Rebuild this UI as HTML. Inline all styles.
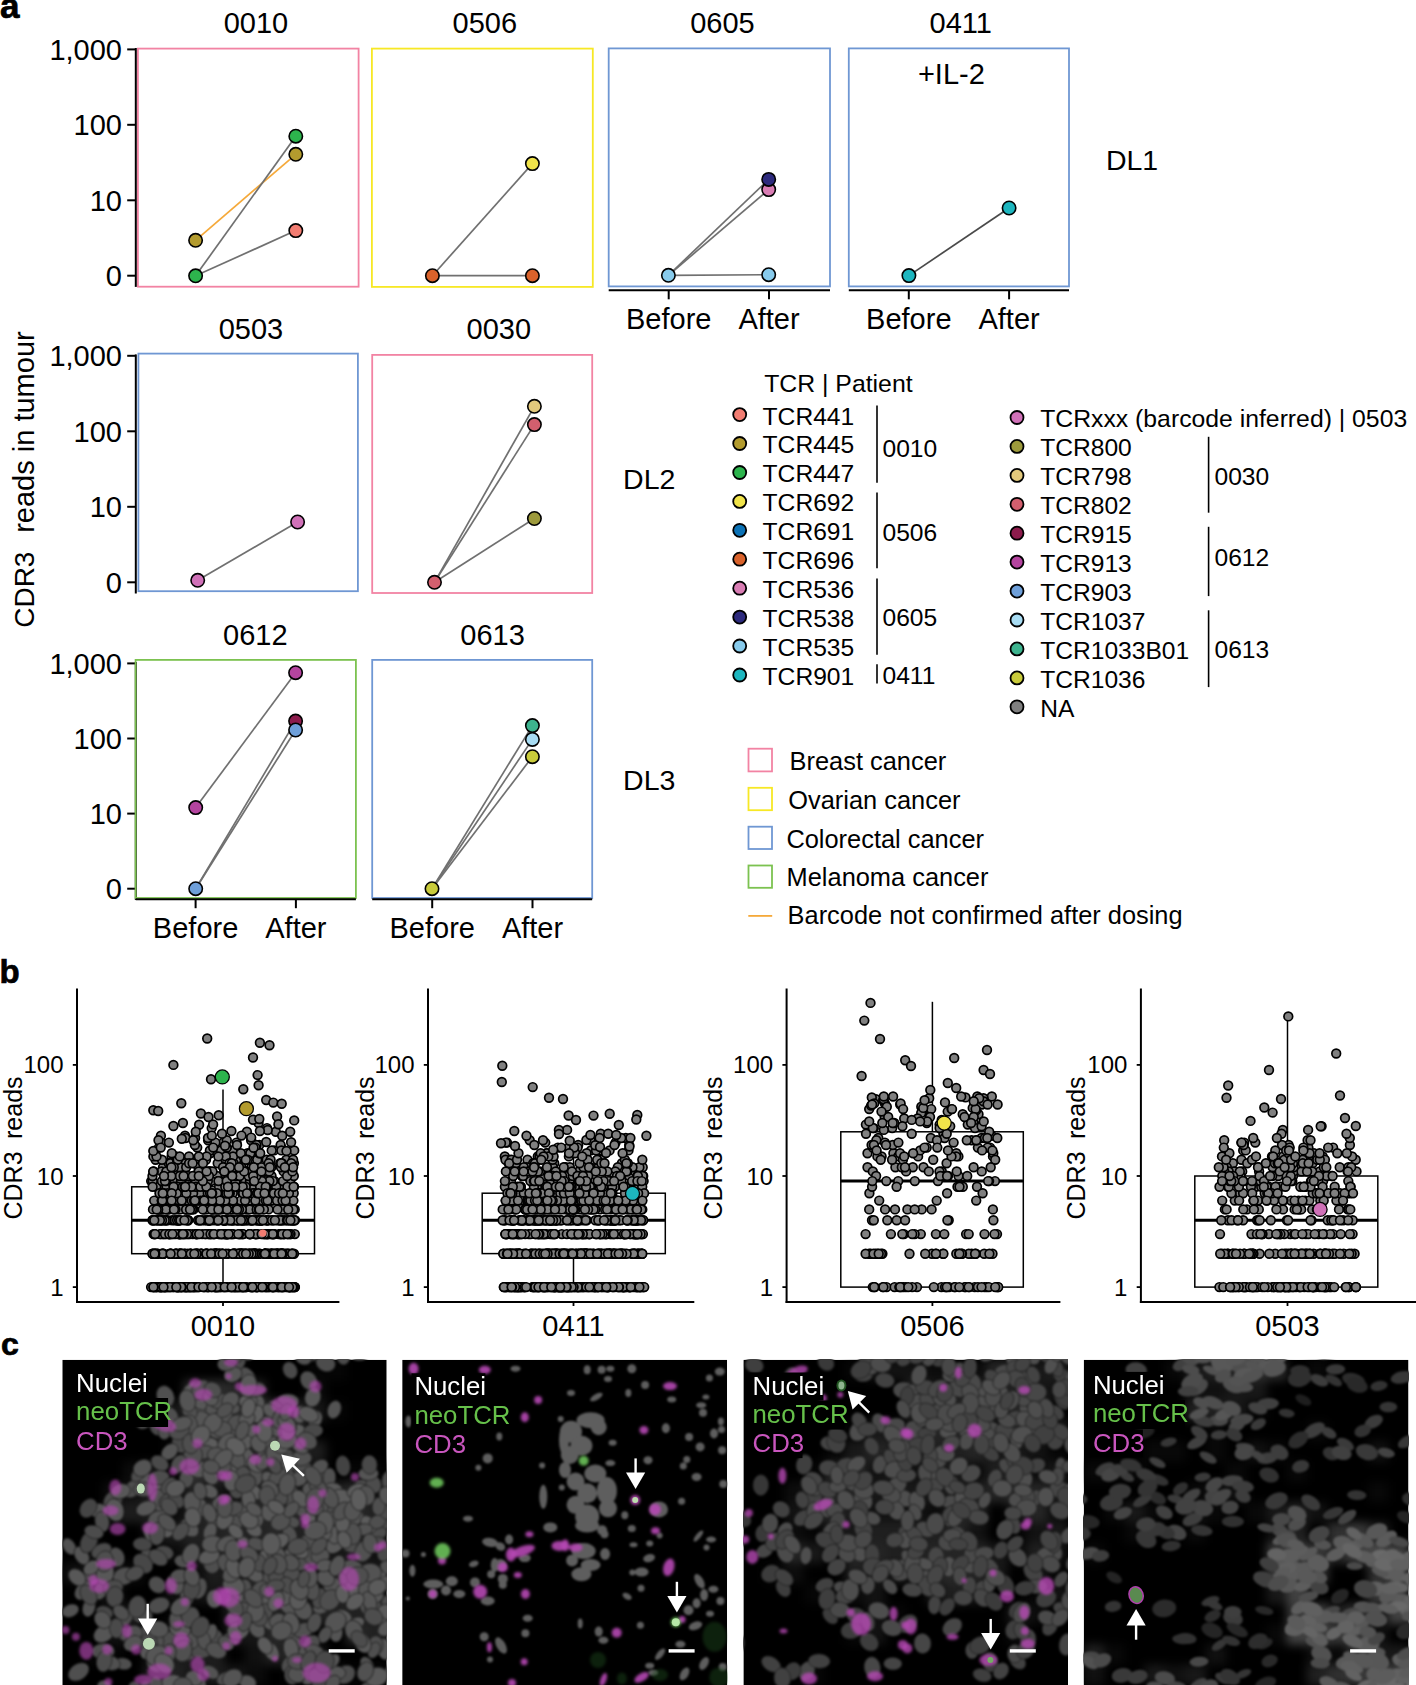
<!DOCTYPE html>
<html><head><meta charset="utf-8"><style>
html,body{margin:0;padding:0;background:#fff;}
body{width:1416px;height:1685px;overflow:hidden;font-family:"Liberation Sans",sans-serif;}
svg{display:block;}
</style></head><body>
<svg width="1416" height="1685" viewBox="0 0 1416 1685" font-family="Liberation Sans, sans-serif">
<rect width="1416" height="1685" fill="#fff"/>
<text x="0.0" y="18.0" font-size="35" text-anchor="start" fill="#000" font-weight="bold" stroke="#000" stroke-width="0.7">a</text>
<text x="-0.5" y="983.3" font-size="33" text-anchor="start" fill="#000" font-weight="bold" stroke="#000" stroke-width="0.7">b</text>
<text x="1.0" y="1354.6" font-size="32" text-anchor="start" fill="#000" font-weight="bold" stroke="#000" stroke-width="0.7">c</text>
<line x1="135.8" y1="48.0" x2="135.8" y2="286.9" stroke="#000" stroke-width="2" />
<line x1="127.2" y1="275.7" x2="135.8" y2="275.7" stroke="#000" stroke-width="2" />
<text x="122.0" y="286.0" font-size="29" text-anchor="end" fill="#000" >0</text>
<line x1="127.2" y1="200.3" x2="135.8" y2="200.3" stroke="#000" stroke-width="2" />
<text x="122.0" y="210.6" font-size="29" text-anchor="end" fill="#000" >10</text>
<line x1="127.2" y1="124.8" x2="135.8" y2="124.8" stroke="#000" stroke-width="2" />
<text x="122.0" y="135.1" font-size="29" text-anchor="end" fill="#000" >100</text>
<line x1="127.2" y1="49.4" x2="135.8" y2="49.4" stroke="#000" stroke-width="2" />
<text x="122.0" y="59.7" font-size="29" text-anchor="end" fill="#000" >1,000</text>
<line x1="135.8" y1="354.4" x2="135.8" y2="593.5" stroke="#000" stroke-width="2" />
<line x1="127.2" y1="582.3" x2="135.8" y2="582.3" stroke="#000" stroke-width="2" />
<text x="122.0" y="592.6" font-size="29" text-anchor="end" fill="#000" >0</text>
<line x1="127.2" y1="506.8" x2="135.8" y2="506.8" stroke="#000" stroke-width="2" />
<text x="122.0" y="517.1" font-size="29" text-anchor="end" fill="#000" >10</text>
<line x1="127.2" y1="431.3" x2="135.8" y2="431.3" stroke="#000" stroke-width="2" />
<text x="122.0" y="441.6" font-size="29" text-anchor="end" fill="#000" >100</text>
<line x1="127.2" y1="355.8" x2="135.8" y2="355.8" stroke="#000" stroke-width="2" />
<text x="122.0" y="366.1" font-size="29" text-anchor="end" fill="#000" >1,000</text>
<line x1="135.8" y1="662.0" x2="135.8" y2="899.9" stroke="#000" stroke-width="2" />
<line x1="127.2" y1="888.7" x2="135.8" y2="888.7" stroke="#000" stroke-width="2" />
<text x="122.0" y="899.0" font-size="29" text-anchor="end" fill="#000" >0</text>
<line x1="127.2" y1="813.6" x2="135.8" y2="813.6" stroke="#000" stroke-width="2" />
<text x="122.0" y="823.9" font-size="29" text-anchor="end" fill="#000" >10</text>
<line x1="127.2" y1="738.5" x2="135.8" y2="738.5" stroke="#000" stroke-width="2" />
<text x="122.0" y="748.8" font-size="29" text-anchor="end" fill="#000" >100</text>
<line x1="127.2" y1="663.4" x2="135.8" y2="663.4" stroke="#000" stroke-width="2" />
<text x="122.0" y="673.7" font-size="29" text-anchor="end" fill="#000" >1,000</text>
<rect x="137.9" y="48.6" width="220.7" height="238.1" fill="none" stroke="#F283A3" stroke-width="1.8"/>
<text x="255.9" y="32.6" font-size="29" text-anchor="middle" fill="#000" >0010</text>
<rect x="371.9" y="48.6" width="220.9" height="238.3" fill="none" stroke="#F7E825" stroke-width="1.8"/>
<text x="484.8" y="32.6" font-size="29" text-anchor="middle" fill="#000" >0506</text>
<rect x="608.7" y="48.4" width="221.3" height="238.0" fill="none" stroke="#6F97D3" stroke-width="1.8"/>
<text x="722.4" y="32.6" font-size="29" text-anchor="middle" fill="#000" >0605</text>
<rect x="848.8" y="48.4" width="220.2" height="238.0" fill="none" stroke="#6F97D3" stroke-width="1.8"/>
<text x="960.8" y="32.6" font-size="29" text-anchor="middle" fill="#000" >0411</text>
<rect x="138.4" y="353.6" width="219.5" height="237.6" fill="none" stroke="#6F97D3" stroke-width="1.8"/>
<text x="250.9" y="339.0" font-size="29" text-anchor="middle" fill="#000" >0503</text>
<rect x="372.2" y="354.9" width="220.0" height="238.1" fill="none" stroke="#F283A3" stroke-width="1.8"/>
<text x="498.8" y="339.0" font-size="29" text-anchor="middle" fill="#000" >0030</text>
<rect x="135.6" y="659.9" width="220.3" height="238.1" fill="none" stroke="#7CC250" stroke-width="1.8"/>
<text x="255.3" y="645.0" font-size="29" text-anchor="middle" fill="#000" >0612</text>
<rect x="372.2" y="659.9" width="220.0" height="238.1" fill="none" stroke="#6F97D3" stroke-width="1.8"/>
<text x="492.6" y="645.0" font-size="29" text-anchor="middle" fill="#000" >0613</text>
<line x1="608.7" y1="290.3" x2="830.0" y2="290.3" stroke="#000" stroke-width="2" />
<line x1="668.7" y1="290.3" x2="668.7" y2="299.3" stroke="#000" stroke-width="2" />
<text x="668.7" y="328.6" font-size="29" text-anchor="middle" fill="#000" >Before</text>
<line x1="769.0" y1="290.3" x2="769.0" y2="299.3" stroke="#000" stroke-width="2" />
<text x="769.0" y="328.6" font-size="29" text-anchor="middle" fill="#000" >After</text>
<line x1="848.8" y1="290.3" x2="1069.0" y2="290.3" stroke="#000" stroke-width="2" />
<line x1="908.8" y1="290.3" x2="908.8" y2="299.3" stroke="#000" stroke-width="2" />
<text x="908.8" y="328.6" font-size="29" text-anchor="middle" fill="#000" >Before</text>
<line x1="1009.1" y1="290.3" x2="1009.1" y2="299.3" stroke="#000" stroke-width="2" />
<text x="1009.1" y="328.6" font-size="29" text-anchor="middle" fill="#000" >After</text>
<line x1="135.8" y1="899.2" x2="355.9" y2="899.2" stroke="#000" stroke-width="2" />
<line x1="195.6" y1="899.2" x2="195.6" y2="908.2" stroke="#000" stroke-width="2" />
<text x="195.6" y="937.5" font-size="29" text-anchor="middle" fill="#000" >Before</text>
<line x1="295.9" y1="899.2" x2="295.9" y2="908.2" stroke="#000" stroke-width="2" />
<text x="295.9" y="937.5" font-size="29" text-anchor="middle" fill="#000" >After</text>
<line x1="372.2" y1="899.2" x2="592.2" y2="899.2" stroke="#000" stroke-width="2" />
<line x1="432.2" y1="899.2" x2="432.2" y2="908.2" stroke="#000" stroke-width="2" />
<text x="432.2" y="937.5" font-size="29" text-anchor="middle" fill="#000" >Before</text>
<line x1="532.5" y1="899.2" x2="532.5" y2="908.2" stroke="#000" stroke-width="2" />
<text x="532.5" y="937.5" font-size="29" text-anchor="middle" fill="#000" >After</text>
<text x="951.4" y="83.7" font-size="29" text-anchor="middle" fill="#000" >+IL-2</text>
<text x="1105.9" y="169.9" font-size="28.5" text-anchor="start" fill="#000" >DL1</text>
<text x="623.1" y="489.2" font-size="28.5" text-anchor="start" fill="#000" >DL2</text>
<text x="623.1" y="790.3" font-size="28.5" text-anchor="start" fill="#000" >DL3</text>
<text transform="translate(33.8,627.8) rotate(-90)" font-size="28">CDR3</text>
<text transform="translate(33.8,532.8) rotate(-90)" font-size="29">reads in tumour</text>
<line x1="195.6" y1="240.3" x2="295.8" y2="154.3" stroke="#F5A93A" stroke-width="1.7" />
<line x1="195.6" y1="275.8" x2="295.8" y2="136.2" stroke="#707070" stroke-width="1.7" />
<line x1="195.6" y1="275.8" x2="295.8" y2="230.6" stroke="#707070" stroke-width="1.7" />
<circle cx="195.6" cy="240.3" r="6.7" fill="#B39B2E" stroke="#000" stroke-width="1.6"/>
<circle cx="195.6" cy="275.8" r="6.7" fill="#2DB44D" stroke="#000" stroke-width="1.6"/>
<circle cx="295.8" cy="230.6" r="6.7" fill="#F27D72" stroke="#000" stroke-width="1.6"/>
<circle cx="295.8" cy="154.3" r="6.7" fill="#B39B2E" stroke="#000" stroke-width="1.6"/>
<circle cx="295.8" cy="136.2" r="6.7" fill="#2DB44D" stroke="#000" stroke-width="1.6"/>
<line x1="432.4" y1="275.7" x2="532.4" y2="163.6" stroke="#707070" stroke-width="1.7" />
<line x1="432.4" y1="275.7" x2="532.4" y2="275.7" stroke="#707070" stroke-width="1.7" />
<circle cx="432.4" cy="275.7" r="6.7" fill="#D9622B" stroke="#000" stroke-width="1.6"/>
<circle cx="532.4" cy="275.7" r="6.7" fill="#D9622B" stroke="#000" stroke-width="1.6"/>
<circle cx="532.4" cy="163.6" r="6.7" fill="#F0E34A" stroke="#000" stroke-width="1.6"/>
<line x1="668.4" y1="275.3" x2="768.7" y2="179.4" stroke="#707070" stroke-width="1.7" />
<line x1="668.4" y1="275.3" x2="768.7" y2="189.6" stroke="#707070" stroke-width="1.7" />
<line x1="668.4" y1="275.3" x2="768.7" y2="274.7" stroke="#707070" stroke-width="1.7" />
<circle cx="668.4" cy="275.3" r="6.7" fill="#88CBEC" stroke="#000" stroke-width="1.6"/>
<circle cx="768.7" cy="274.7" r="6.7" fill="#88CBEC" stroke="#000" stroke-width="1.6"/>
<circle cx="768.7" cy="189.6" r="6.7" fill="#D97DB4" stroke="#000" stroke-width="1.6"/>
<circle cx="768.7" cy="179.4" r="6.7" fill="#2D2A7D" stroke="#000" stroke-width="1.6"/>
<line x1="908.9" y1="275.6" x2="1009.1" y2="208.0" stroke="#4a4a4a" stroke-width="1.7" />
<circle cx="908.9" cy="275.6" r="6.7" fill="#1DB6BF" stroke="#000" stroke-width="1.6"/>
<circle cx="1009.1" cy="208.0" r="6.7" fill="#1DB6BF" stroke="#000" stroke-width="1.6"/>
<line x1="197.7" y1="580.3" x2="297.6" y2="522.0" stroke="#707070" stroke-width="1.7" />
<circle cx="197.7" cy="580.3" r="6.7" fill="#D071B8" stroke="#000" stroke-width="1.6"/>
<circle cx="297.6" cy="522.0" r="6.7" fill="#D071B8" stroke="#000" stroke-width="1.6"/>
<line x1="434.5" y1="582.3" x2="534.4" y2="406.3" stroke="#707070" stroke-width="1.7" />
<line x1="434.5" y1="582.3" x2="534.4" y2="424.6" stroke="#707070" stroke-width="1.7" />
<line x1="434.5" y1="582.3" x2="534.4" y2="518.5" stroke="#707070" stroke-width="1.7" />
<circle cx="434.5" cy="582.3" r="6.7" fill="#D35F6E" stroke="#000" stroke-width="1.6"/>
<circle cx="534.4" cy="518.5" r="6.7" fill="#9D9A3C" stroke="#000" stroke-width="1.6"/>
<circle cx="534.4" cy="424.6" r="6.7" fill="#D35F6E" stroke="#000" stroke-width="1.6"/>
<circle cx="534.4" cy="406.3" r="6.7" fill="#E3C97C" stroke="#000" stroke-width="1.6"/>
<line x1="195.7" y1="807.6" x2="295.6" y2="672.7" stroke="#707070" stroke-width="1.7" />
<line x1="195.7" y1="888.7" x2="295.6" y2="721.1" stroke="#707070" stroke-width="1.7" />
<line x1="195.7" y1="888.7" x2="295.6" y2="730.0" stroke="#707070" stroke-width="1.7" />
<circle cx="195.7" cy="807.6" r="6.7" fill="#B4449F" stroke="#000" stroke-width="1.6"/>
<circle cx="195.7" cy="888.7" r="6.7" fill="#6E9FD9" stroke="#000" stroke-width="1.6"/>
<circle cx="295.6" cy="672.7" r="6.7" fill="#B4449F" stroke="#000" stroke-width="1.6"/>
<circle cx="295.6" cy="721.1" r="6.7" fill="#8C1B4C" stroke="#000" stroke-width="1.6"/>
<circle cx="295.6" cy="730.0" r="6.7" fill="#6E9FD9" stroke="#000" stroke-width="1.6"/>
<line x1="432.0" y1="888.7" x2="532.4" y2="725.6" stroke="#707070" stroke-width="1.7" />
<line x1="432.0" y1="888.7" x2="532.4" y2="739.4" stroke="#707070" stroke-width="1.7" />
<line x1="432.0" y1="888.7" x2="532.4" y2="756.7" stroke="#707070" stroke-width="1.7" />
<circle cx="432.0" cy="888.7" r="6.7" fill="#C9CB3B" stroke="#000" stroke-width="1.6"/>
<circle cx="532.4" cy="725.6" r="6.7" fill="#3DB38E" stroke="#000" stroke-width="1.6"/>
<circle cx="532.4" cy="739.4" r="6.7" fill="#A8DCF3" stroke="#000" stroke-width="1.6"/>
<circle cx="532.4" cy="756.7" r="6.7" fill="#C9CB3B" stroke="#000" stroke-width="1.6"/>
<text x="764.2" y="391.8" font-size="24.8" text-anchor="start" fill="#000" >TCR | Patient</text>
<circle cx="739.7" cy="414.6" r="6.5" fill="#F27D72" stroke="#000" stroke-width="1.8"/>
<text x="762.6" y="424.5" font-size="24.6" text-anchor="start" fill="#000" >TCR441</text>
<circle cx="739.7" cy="443.5" r="6.5" fill="#B39B2E" stroke="#000" stroke-width="1.8"/>
<text x="762.6" y="453.4" font-size="24.6" text-anchor="start" fill="#000" >TCR445</text>
<circle cx="739.7" cy="472.5" r="6.5" fill="#2DB44D" stroke="#000" stroke-width="1.8"/>
<text x="762.6" y="482.4" font-size="24.6" text-anchor="start" fill="#000" >TCR447</text>
<circle cx="739.7" cy="501.4" r="6.5" fill="#F0E34A" stroke="#000" stroke-width="1.8"/>
<text x="762.6" y="511.3" font-size="24.6" text-anchor="start" fill="#000" >TCR692</text>
<circle cx="739.7" cy="530.3" r="6.5" fill="#0B72B6" stroke="#000" stroke-width="1.8"/>
<text x="762.6" y="540.2" font-size="24.6" text-anchor="start" fill="#000" >TCR691</text>
<circle cx="739.7" cy="559.2" r="6.5" fill="#D9622B" stroke="#000" stroke-width="1.8"/>
<text x="762.6" y="569.1" font-size="24.6" text-anchor="start" fill="#000" >TCR696</text>
<circle cx="739.7" cy="588.2" r="6.5" fill="#D97DB4" stroke="#000" stroke-width="1.8"/>
<text x="762.6" y="598.1" font-size="24.6" text-anchor="start" fill="#000" >TCR536</text>
<circle cx="739.7" cy="617.1" r="6.5" fill="#2D2A7D" stroke="#000" stroke-width="1.8"/>
<text x="762.6" y="627.0" font-size="24.6" text-anchor="start" fill="#000" >TCR538</text>
<circle cx="739.7" cy="646.0" r="6.5" fill="#88CBEC" stroke="#000" stroke-width="1.8"/>
<text x="762.6" y="655.9" font-size="24.6" text-anchor="start" fill="#000" >TCR535</text>
<circle cx="739.7" cy="675.0" r="6.5" fill="#1DB6BF" stroke="#000" stroke-width="1.8"/>
<text x="762.6" y="684.9" font-size="24.6" text-anchor="start" fill="#000" >TCR901</text>
<line x1="877.0" y1="405.4" x2="877.0" y2="482.7" stroke="#000" stroke-width="1.6" />
<text x="882.5" y="457.0" font-size="24.6" text-anchor="start" fill="#000" >0010</text>
<line x1="877.0" y1="492.5" x2="877.0" y2="568.3" stroke="#000" stroke-width="1.6" />
<text x="882.5" y="540.5" font-size="24.6" text-anchor="start" fill="#000" >0506</text>
<line x1="877.0" y1="578.4" x2="877.0" y2="654.7" stroke="#000" stroke-width="1.6" />
<text x="882.5" y="626.4" font-size="24.6" text-anchor="start" fill="#000" >0605</text>
<line x1="877.0" y1="664.3" x2="877.0" y2="683.6" stroke="#000" stroke-width="1.6" />
<text x="882.5" y="683.6" font-size="24.6" text-anchor="start" fill="#000" >0411</text>
<circle cx="1017.0" cy="417.5" r="6.5" fill="#D071B8" stroke="#000" stroke-width="1.8"/>
<text x="1040.2" y="427.4" font-size="24.6" text-anchor="start" fill="#000" textLength="367" lengthAdjust="spacingAndGlyphs">TCRxxx (barcode inferred) | 0503</text>
<circle cx="1017.0" cy="446.4" r="6.5" fill="#9D9A3C" stroke="#000" stroke-width="1.8"/>
<text x="1040.2" y="456.3" font-size="24.6" text-anchor="start" fill="#000" >TCR800</text>
<circle cx="1017.0" cy="475.4" r="6.5" fill="#E3C97C" stroke="#000" stroke-width="1.8"/>
<text x="1040.2" y="485.3" font-size="24.6" text-anchor="start" fill="#000" >TCR798</text>
<circle cx="1017.0" cy="504.3" r="6.5" fill="#D35F6E" stroke="#000" stroke-width="1.8"/>
<text x="1040.2" y="514.2" font-size="24.6" text-anchor="start" fill="#000" >TCR802</text>
<circle cx="1017.0" cy="533.2" r="6.5" fill="#8C1B4C" stroke="#000" stroke-width="1.8"/>
<text x="1040.2" y="543.1" font-size="24.6" text-anchor="start" fill="#000" >TCR915</text>
<circle cx="1017.0" cy="562.1" r="6.5" fill="#B4449F" stroke="#000" stroke-width="1.8"/>
<text x="1040.2" y="572.0" font-size="24.6" text-anchor="start" fill="#000" >TCR913</text>
<circle cx="1017.0" cy="591.1" r="6.5" fill="#6E9FD9" stroke="#000" stroke-width="1.8"/>
<text x="1040.2" y="601.0" font-size="24.6" text-anchor="start" fill="#000" >TCR903</text>
<circle cx="1017.0" cy="620.0" r="6.5" fill="#A8DCF3" stroke="#000" stroke-width="1.8"/>
<text x="1040.2" y="629.9" font-size="24.6" text-anchor="start" fill="#000" >TCR1037</text>
<circle cx="1017.0" cy="648.9" r="6.5" fill="#3DB38E" stroke="#000" stroke-width="1.8"/>
<text x="1040.2" y="658.8" font-size="24.6" text-anchor="start" fill="#000" >TCR1033B01</text>
<circle cx="1017.0" cy="677.9" r="6.5" fill="#C9CB3B" stroke="#000" stroke-width="1.8"/>
<text x="1040.2" y="687.8" font-size="24.6" text-anchor="start" fill="#000" >TCR1036</text>
<circle cx="1017.0" cy="706.8" r="6.5" fill="#7F7F7F" stroke="#000" stroke-width="1.8"/>
<text x="1040.2" y="716.7" font-size="24.6" text-anchor="start" fill="#000" >NA</text>
<line x1="1208.6" y1="436.8" x2="1208.6" y2="512.7" stroke="#000" stroke-width="1.6" />
<text x="1214.5" y="484.9" font-size="24.6" text-anchor="start" fill="#000" >0030</text>
<line x1="1208.6" y1="526.8" x2="1208.6" y2="596.1" stroke="#000" stroke-width="1.6" />
<text x="1214.5" y="565.8" font-size="24.6" text-anchor="start" fill="#000" >0612</text>
<line x1="1208.6" y1="610.3" x2="1208.6" y2="687.1" stroke="#000" stroke-width="1.6" />
<text x="1214.5" y="658.3" font-size="24.6" text-anchor="start" fill="#000" >0613</text>
<rect x="748.5" y="748.7" width="23.5" height="22.7" fill="none" stroke="#F283A3" stroke-width="1.8"/>
<text x="789.6" y="769.8" font-size="25.4" text-anchor="start" fill="#000" >Breast cancer</text>
<rect x="748.5" y="787.8" width="23.5" height="22.4" fill="none" stroke="#F7E825" stroke-width="1.8"/>
<text x="788.3" y="809.0" font-size="25.4" text-anchor="start" fill="#000" >Ovarian cancer</text>
<rect x="748.5" y="826.7" width="23.5" height="22.3" fill="none" stroke="#6F97D3" stroke-width="1.8"/>
<text x="786.4" y="847.8" font-size="25.4" text-anchor="start" fill="#000" >Colorectal cancer</text>
<rect x="748.5" y="865.5" width="23.5" height="22.3" fill="none" stroke="#7CC250" stroke-width="1.8"/>
<text x="786.6" y="886.3" font-size="25.4" text-anchor="start" fill="#000" >Melanoma cancer</text>
<line x1="748.3" y1="915.9" x2="772.2" y2="915.9" stroke="#F5A93A" stroke-width="1.8" />
<text x="787.6" y="923.8" font-size="25.4" text-anchor="start" fill="#000" textLength="395" lengthAdjust="spacingAndGlyphs">Barcode not confirmed after dosing</text>
<line x1="77.0" y1="988.6" x2="77.0" y2="1302.9" stroke="#000" stroke-width="2" />
<line x1="76.0" y1="1302.0" x2="339.4" y2="1302.0" stroke="#000" stroke-width="2" />
<line x1="72.8" y1="1287.1" x2="77.0" y2="1287.1" stroke="#000" stroke-width="1.8" />
<text x="63.5" y="1295.6" font-size="24" text-anchor="end" fill="#000" >1</text>
<line x1="72.8" y1="1176.0" x2="77.0" y2="1176.0" stroke="#000" stroke-width="1.8" />
<text x="63.5" y="1184.5" font-size="24" text-anchor="end" fill="#000" >10</text>
<line x1="72.8" y1="1064.9" x2="77.0" y2="1064.9" stroke="#000" stroke-width="1.8" />
<text x="63.5" y="1073.4" font-size="24" text-anchor="end" fill="#000" >100</text>
<line x1="223.0" y1="1302.0" x2="223.0" y2="1306.0" stroke="#000" stroke-width="1.8" />
<text x="223.0" y="1335.8" font-size="29" text-anchor="middle" fill="#000" >0010</text>
<text transform="translate(22.4,1219.5) rotate(-90)" font-size="25">CDR3</text>
<text transform="translate(22.4,1139) rotate(-90)" font-size="25">reads</text>
<line x1="428.0" y1="988.6" x2="428.0" y2="1302.9" stroke="#000" stroke-width="2" />
<line x1="427.0" y1="1302.0" x2="694.3" y2="1302.0" stroke="#000" stroke-width="2" />
<line x1="423.8" y1="1287.1" x2="428.0" y2="1287.1" stroke="#000" stroke-width="1.8" />
<text x="414.5" y="1295.6" font-size="24" text-anchor="end" fill="#000" >1</text>
<line x1="423.8" y1="1176.0" x2="428.0" y2="1176.0" stroke="#000" stroke-width="1.8" />
<text x="414.5" y="1184.5" font-size="24" text-anchor="end" fill="#000" >10</text>
<line x1="423.8" y1="1064.9" x2="428.0" y2="1064.9" stroke="#000" stroke-width="1.8" />
<text x="414.5" y="1073.4" font-size="24" text-anchor="end" fill="#000" >100</text>
<line x1="573.5" y1="1302.0" x2="573.5" y2="1306.0" stroke="#000" stroke-width="1.8" />
<text x="573.5" y="1335.8" font-size="29" text-anchor="middle" fill="#000" >0411</text>
<text transform="translate(374.1,1219.5) rotate(-90)" font-size="25">CDR3</text>
<text transform="translate(374.1,1139) rotate(-90)" font-size="25">reads</text>
<line x1="786.6" y1="988.6" x2="786.6" y2="1302.9" stroke="#000" stroke-width="2" />
<line x1="785.6" y1="1302.0" x2="1060.4" y2="1302.0" stroke="#000" stroke-width="2" />
<line x1="782.4" y1="1287.1" x2="786.6" y2="1287.1" stroke="#000" stroke-width="1.8" />
<text x="773.1" y="1295.6" font-size="24" text-anchor="end" fill="#000" >1</text>
<line x1="782.4" y1="1176.0" x2="786.6" y2="1176.0" stroke="#000" stroke-width="1.8" />
<text x="773.1" y="1184.5" font-size="24" text-anchor="end" fill="#000" >10</text>
<line x1="782.4" y1="1064.9" x2="786.6" y2="1064.9" stroke="#000" stroke-width="1.8" />
<text x="773.1" y="1073.4" font-size="24" text-anchor="end" fill="#000" >100</text>
<line x1="932.4" y1="1302.0" x2="932.4" y2="1306.0" stroke="#000" stroke-width="1.8" />
<text x="932.4" y="1335.8" font-size="29" text-anchor="middle" fill="#000" >0506</text>
<text transform="translate(722.2,1219.5) rotate(-90)" font-size="25">CDR3</text>
<text transform="translate(722.2,1139) rotate(-90)" font-size="25">reads</text>
<line x1="1140.9" y1="988.6" x2="1140.9" y2="1302.9" stroke="#000" stroke-width="2" />
<line x1="1139.9" y1="1302.0" x2="1416.0" y2="1302.0" stroke="#000" stroke-width="2" />
<line x1="1136.7" y1="1287.1" x2="1140.9" y2="1287.1" stroke="#000" stroke-width="1.8" />
<text x="1127.4" y="1295.6" font-size="24" text-anchor="end" fill="#000" >1</text>
<line x1="1136.7" y1="1176.0" x2="1140.9" y2="1176.0" stroke="#000" stroke-width="1.8" />
<text x="1127.4" y="1184.5" font-size="24" text-anchor="end" fill="#000" >10</text>
<line x1="1136.7" y1="1064.9" x2="1140.9" y2="1064.9" stroke="#000" stroke-width="1.8" />
<text x="1127.4" y="1073.4" font-size="24" text-anchor="end" fill="#000" >100</text>
<line x1="1287.5" y1="1302.0" x2="1287.5" y2="1306.0" stroke="#000" stroke-width="1.8" />
<text x="1287.5" y="1335.8" font-size="29" text-anchor="middle" fill="#000" >0503</text>
<text transform="translate(1085.0,1219.5) rotate(-90)" font-size="25">CDR3</text>
<text transform="translate(1085.0,1139) rotate(-90)" font-size="25">reads</text>
<rect x="131.7" y="1186.8" width="182.8" height="66.9" fill="none" stroke="#000" stroke-width="1.5"/>
<line x1="223.0" y1="1186.8" x2="223.0" y2="1089.5" stroke="#000" stroke-width="1.5" />
<line x1="223.0" y1="1253.7" x2="223.0" y2="1287.1" stroke="#000" stroke-width="1.5" />
<line x1="131.7" y1="1220.2" x2="314.5" y2="1220.2" stroke="#000" stroke-width="3" />
<g fill="#808080" stroke="#000" stroke-width="1.7"><circle cx="291.1" cy="1209.4" r="4.35"/><circle cx="188.0" cy="1220.2" r="4.35"/><circle cx="282.8" cy="1253.7" r="4.35"/><circle cx="203.8" cy="1200.6" r="4.35"/><circle cx="204.5" cy="1287.1" r="4.35"/><circle cx="288.6" cy="1181.1" r="4.35"/><circle cx="172.1" cy="1220.2" r="4.35"/><circle cx="192.8" cy="1234.1" r="4.35"/><circle cx="227.0" cy="1186.8" r="4.35"/><circle cx="179.9" cy="1234.1" r="4.35"/><circle cx="268.8" cy="1287.1" r="4.35"/><circle cx="223.6" cy="1220.2" r="4.35"/><circle cx="250.9" cy="1200.6" r="4.35"/><circle cx="188.0" cy="1287.1" r="4.35"/><circle cx="261.2" cy="1193.2" r="4.35"/><circle cx="227.2" cy="1234.1" r="4.35"/><circle cx="181.0" cy="1234.1" r="4.35"/><circle cx="287.8" cy="1253.7" r="4.35"/><circle cx="197.9" cy="1200.6" r="4.35"/><circle cx="161.8" cy="1253.7" r="4.35"/><circle cx="234.9" cy="1287.1" r="4.35"/><circle cx="258.4" cy="1200.6" r="4.35"/><circle cx="237.6" cy="1163.3" r="4.35"/><circle cx="206.7" cy="1287.1" r="4.35"/><circle cx="177.6" cy="1287.1" r="4.35"/><circle cx="270.1" cy="1176.0" r="4.35"/><circle cx="220.5" cy="1186.8" r="4.35"/><circle cx="222.1" cy="1253.7" r="4.35"/><circle cx="290.2" cy="1193.2" r="4.35"/><circle cx="235.2" cy="1287.1" r="4.35"/><circle cx="172.7" cy="1181.1" r="4.35"/><circle cx="280.7" cy="1234.1" r="4.35"/><circle cx="242.3" cy="1193.2" r="4.35"/><circle cx="178.3" cy="1209.4" r="4.35"/><circle cx="268.8" cy="1253.7" r="4.35"/><circle cx="244.5" cy="1193.2" r="4.35"/><circle cx="251.4" cy="1253.7" r="4.35"/><circle cx="175.1" cy="1193.2" r="4.35"/><circle cx="190.2" cy="1253.7" r="4.35"/><circle cx="236.9" cy="1287.1" r="4.35"/><circle cx="273.7" cy="1287.1" r="4.35"/><circle cx="176.4" cy="1287.1" r="4.35"/><circle cx="158.3" cy="1220.2" r="4.35"/><circle cx="282.7" cy="1186.8" r="4.35"/><circle cx="181.7" cy="1253.7" r="4.35"/><circle cx="153.6" cy="1234.1" r="4.35"/><circle cx="205.4" cy="1171.4" r="4.35"/><circle cx="168.9" cy="1163.3" r="4.35"/><circle cx="231.7" cy="1163.3" r="4.35"/><circle cx="266.6" cy="1200.6" r="4.35"/><circle cx="250.3" cy="1234.1" r="4.35"/><circle cx="233.5" cy="1234.1" r="4.35"/><circle cx="157.2" cy="1209.4" r="4.35"/><circle cx="167.8" cy="1287.1" r="4.35"/><circle cx="279.5" cy="1209.4" r="4.35"/><circle cx="254.0" cy="1167.2" r="4.35"/><circle cx="232.1" cy="1234.1" r="4.35"/><circle cx="205.3" cy="1181.1" r="4.35"/><circle cx="294.7" cy="1209.4" r="4.35"/><circle cx="171.6" cy="1156.4" r="4.35"/><circle cx="200.3" cy="1171.4" r="4.35"/><circle cx="251.9" cy="1287.1" r="4.35"/><circle cx="177.6" cy="1220.2" r="4.35"/><circle cx="290.4" cy="1193.2" r="4.35"/><circle cx="162.9" cy="1234.1" r="4.35"/><circle cx="273.0" cy="1287.1" r="4.35"/><circle cx="229.0" cy="1209.4" r="4.35"/><circle cx="160.2" cy="1193.2" r="4.35"/><circle cx="157.0" cy="1287.1" r="4.35"/><circle cx="247.0" cy="1176.0" r="4.35"/><circle cx="214.4" cy="1287.1" r="4.35"/><circle cx="266.1" cy="1176.0" r="4.35"/><circle cx="274.5" cy="1181.1" r="4.35"/><circle cx="192.6" cy="1287.1" r="4.35"/><circle cx="155.6" cy="1159.8" r="4.35"/><circle cx="227.1" cy="1287.1" r="4.35"/><circle cx="167.6" cy="1220.2" r="4.35"/><circle cx="186.8" cy="1200.6" r="4.35"/><circle cx="286.4" cy="1287.1" r="4.35"/><circle cx="163.0" cy="1200.6" r="4.35"/><circle cx="233.0" cy="1220.2" r="4.35"/><circle cx="260.2" cy="1287.1" r="4.35"/><circle cx="239.6" cy="1220.2" r="4.35"/><circle cx="281.4" cy="1253.7" r="4.35"/><circle cx="271.5" cy="1176.0" r="4.35"/><circle cx="229.2" cy="1181.1" r="4.35"/><circle cx="241.1" cy="1253.7" r="4.35"/><circle cx="262.7" cy="1193.2" r="4.35"/><circle cx="254.2" cy="1209.4" r="4.35"/><circle cx="225.8" cy="1287.1" r="4.35"/><circle cx="255.1" cy="1220.2" r="4.35"/><circle cx="270.5" cy="1181.1" r="4.35"/><circle cx="160.2" cy="1234.1" r="4.35"/><circle cx="164.1" cy="1181.1" r="4.35"/><circle cx="191.5" cy="1200.6" r="4.35"/><circle cx="290.2" cy="1131.8" r="4.35"/><circle cx="232.8" cy="1156.4" r="4.35"/><circle cx="206.0" cy="1159.8" r="4.35"/><circle cx="230.4" cy="1220.2" r="4.35"/><circle cx="259.0" cy="1253.7" r="4.35"/><circle cx="196.4" cy="1234.1" r="4.35"/><circle cx="256.2" cy="1287.1" r="4.35"/><circle cx="236.6" cy="1186.8" r="4.35"/><circle cx="158.2" cy="1186.8" r="4.35"/><circle cx="224.1" cy="1287.1" r="4.35"/><circle cx="267.6" cy="1220.2" r="4.35"/><circle cx="159.8" cy="1209.4" r="4.35"/><circle cx="256.0" cy="1234.1" r="4.35"/><circle cx="245.3" cy="1209.4" r="4.35"/><circle cx="226.4" cy="1209.4" r="4.35"/><circle cx="195.5" cy="1253.7" r="4.35"/><circle cx="180.4" cy="1234.1" r="4.35"/><circle cx="242.6" cy="1287.1" r="4.35"/><circle cx="209.4" cy="1220.2" r="4.35"/><circle cx="220.1" cy="1181.1" r="4.35"/><circle cx="216.3" cy="1287.1" r="4.35"/><circle cx="283.1" cy="1287.1" r="4.35"/><circle cx="271.3" cy="1167.2" r="4.35"/><circle cx="290.6" cy="1193.2" r="4.35"/><circle cx="283.6" cy="1200.6" r="4.35"/><circle cx="207.5" cy="1176.0" r="4.35"/><circle cx="268.7" cy="1186.8" r="4.35"/><circle cx="251.4" cy="1167.2" r="4.35"/><circle cx="278.8" cy="1186.8" r="4.35"/><circle cx="224.5" cy="1234.1" r="4.35"/><circle cx="219.8" cy="1209.4" r="4.35"/><circle cx="292.0" cy="1209.4" r="4.35"/><circle cx="197.3" cy="1186.8" r="4.35"/><circle cx="241.6" cy="1253.7" r="4.35"/><circle cx="156.6" cy="1287.1" r="4.35"/><circle cx="222.4" cy="1209.4" r="4.35"/><circle cx="178.6" cy="1234.1" r="4.35"/><circle cx="163.0" cy="1167.2" r="4.35"/><circle cx="181.3" cy="1287.1" r="4.35"/><circle cx="205.1" cy="1220.2" r="4.35"/><circle cx="287.0" cy="1209.4" r="4.35"/><circle cx="178.2" cy="1220.2" r="4.35"/><circle cx="292.1" cy="1220.2" r="4.35"/><circle cx="232.7" cy="1193.2" r="4.35"/><circle cx="255.6" cy="1234.1" r="4.35"/><circle cx="202.2" cy="1220.2" r="4.35"/><circle cx="271.8" cy="1253.7" r="4.35"/><circle cx="222.1" cy="1193.2" r="4.35"/><circle cx="241.7" cy="1287.1" r="4.35"/><circle cx="254.3" cy="1186.8" r="4.35"/><circle cx="164.6" cy="1287.1" r="4.35"/><circle cx="281.4" cy="1220.2" r="4.35"/><circle cx="237.4" cy="1153.3" r="4.35"/><circle cx="161.6" cy="1209.4" r="4.35"/><circle cx="182.7" cy="1193.2" r="4.35"/><circle cx="225.1" cy="1220.2" r="4.35"/><circle cx="203.6" cy="1209.4" r="4.35"/><circle cx="269.3" cy="1181.1" r="4.35"/><circle cx="166.0" cy="1287.1" r="4.35"/><circle cx="178.3" cy="1287.1" r="4.35"/><circle cx="267.5" cy="1200.6" r="4.35"/><circle cx="287.1" cy="1209.4" r="4.35"/><circle cx="217.8" cy="1253.7" r="4.35"/><circle cx="290.6" cy="1234.1" r="4.35"/><circle cx="261.1" cy="1193.2" r="4.35"/><circle cx="236.2" cy="1159.8" r="4.35"/><circle cx="246.3" cy="1200.6" r="4.35"/><circle cx="257.5" cy="1287.1" r="4.35"/><circle cx="281.0" cy="1234.1" r="4.35"/><circle cx="294.8" cy="1234.1" r="4.35"/><circle cx="245.3" cy="1253.7" r="4.35"/><circle cx="217.0" cy="1176.0" r="4.35"/><circle cx="250.9" cy="1287.1" r="4.35"/><circle cx="171.2" cy="1234.1" r="4.35"/><circle cx="283.9" cy="1234.1" r="4.35"/><circle cx="210.2" cy="1153.3" r="4.35"/><circle cx="247.2" cy="1209.4" r="4.35"/><circle cx="294.4" cy="1287.1" r="4.35"/><circle cx="168.9" cy="1209.4" r="4.35"/><circle cx="239.5" cy="1287.1" r="4.35"/><circle cx="280.2" cy="1163.3" r="4.35"/><circle cx="157.8" cy="1253.7" r="4.35"/><circle cx="244.8" cy="1253.7" r="4.35"/><circle cx="263.0" cy="1209.4" r="4.35"/><circle cx="168.7" cy="1163.3" r="4.35"/><circle cx="271.7" cy="1253.7" r="4.35"/><circle cx="156.2" cy="1186.8" r="4.35"/><circle cx="179.6" cy="1253.7" r="4.35"/><circle cx="241.0" cy="1253.7" r="4.35"/><circle cx="170.5" cy="1163.3" r="4.35"/><circle cx="255.0" cy="1253.7" r="4.35"/><circle cx="294.0" cy="1186.8" r="4.35"/><circle cx="272.6" cy="1220.2" r="4.35"/><circle cx="237.9" cy="1209.4" r="4.35"/><circle cx="220.3" cy="1253.7" r="4.35"/><circle cx="243.4" cy="1156.4" r="4.35"/><circle cx="220.0" cy="1186.8" r="4.35"/><circle cx="279.6" cy="1220.2" r="4.35"/><circle cx="211.5" cy="1193.2" r="4.35"/><circle cx="240.2" cy="1234.1" r="4.35"/><circle cx="261.3" cy="1287.1" r="4.35"/><circle cx="188.4" cy="1186.8" r="4.35"/><circle cx="213.0" cy="1253.7" r="4.35"/><circle cx="251.1" cy="1140.2" r="4.35"/><circle cx="261.7" cy="1200.6" r="4.35"/><circle cx="267.1" cy="1193.2" r="4.35"/><circle cx="190.9" cy="1253.7" r="4.35"/><circle cx="257.2" cy="1159.8" r="4.35"/><circle cx="258.2" cy="1220.2" r="4.35"/><circle cx="246.1" cy="1171.4" r="4.35"/><circle cx="174.0" cy="1234.1" r="4.35"/><circle cx="288.8" cy="1186.8" r="4.35"/><circle cx="240.8" cy="1200.6" r="4.35"/><circle cx="287.0" cy="1253.7" r="4.35"/><circle cx="162.9" cy="1181.1" r="4.35"/><circle cx="179.0" cy="1234.1" r="4.35"/><circle cx="167.6" cy="1209.4" r="4.35"/><circle cx="190.5" cy="1186.8" r="4.35"/><circle cx="248.4" cy="1209.4" r="4.35"/><circle cx="268.6" cy="1209.4" r="4.35"/><circle cx="271.1" cy="1193.2" r="4.35"/><circle cx="208.7" cy="1287.1" r="4.35"/><circle cx="293.6" cy="1220.2" r="4.35"/><circle cx="280.7" cy="1253.7" r="4.35"/><circle cx="230.2" cy="1234.1" r="4.35"/><circle cx="179.4" cy="1167.2" r="4.35"/><circle cx="246.4" cy="1287.1" r="4.35"/><circle cx="181.3" cy="1200.6" r="4.35"/><circle cx="168.2" cy="1200.6" r="4.35"/><circle cx="273.2" cy="1253.7" r="4.35"/><circle cx="225.3" cy="1167.2" r="4.35"/><circle cx="153.2" cy="1220.2" r="4.35"/><circle cx="231.6" cy="1234.1" r="4.35"/><circle cx="218.7" cy="1153.3" r="4.35"/><circle cx="159.6" cy="1287.1" r="4.35"/><circle cx="272.5" cy="1234.1" r="4.35"/><circle cx="171.2" cy="1287.1" r="4.35"/><circle cx="153.8" cy="1253.7" r="4.35"/><circle cx="185.5" cy="1234.1" r="4.35"/><circle cx="232.9" cy="1220.2" r="4.35"/><circle cx="289.9" cy="1287.1" r="4.35"/><circle cx="291.7" cy="1253.7" r="4.35"/><circle cx="189.9" cy="1287.1" r="4.35"/><circle cx="208.0" cy="1200.6" r="4.35"/><circle cx="287.8" cy="1287.1" r="4.35"/><circle cx="229.8" cy="1186.8" r="4.35"/><circle cx="251.1" cy="1220.2" r="4.35"/><circle cx="197.1" cy="1253.7" r="4.35"/><circle cx="183.3" cy="1186.8" r="4.35"/><circle cx="231.5" cy="1287.1" r="4.35"/><circle cx="163.4" cy="1209.4" r="4.35"/><circle cx="244.8" cy="1193.2" r="4.35"/><circle cx="227.4" cy="1209.4" r="4.35"/><circle cx="237.5" cy="1220.2" r="4.35"/><circle cx="268.5" cy="1234.1" r="4.35"/><circle cx="185.3" cy="1209.4" r="4.35"/><circle cx="253.1" cy="1200.6" r="4.35"/><circle cx="228.8" cy="1200.6" r="4.35"/><circle cx="279.3" cy="1287.1" r="4.35"/><circle cx="280.2" cy="1209.4" r="4.35"/><circle cx="270.8" cy="1181.1" r="4.35"/><circle cx="226.3" cy="1234.1" r="4.35"/><circle cx="280.6" cy="1253.7" r="4.35"/><circle cx="152.6" cy="1253.7" r="4.35"/><circle cx="246.9" cy="1220.2" r="4.35"/><circle cx="153.4" cy="1156.4" r="4.35"/><circle cx="167.9" cy="1200.6" r="4.35"/><circle cx="225.4" cy="1234.1" r="4.35"/><circle cx="275.8" cy="1131.8" r="4.35"/><circle cx="225.3" cy="1186.8" r="4.35"/><circle cx="161.2" cy="1220.2" r="4.35"/><circle cx="253.8" cy="1253.7" r="4.35"/><circle cx="217.7" cy="1163.3" r="4.35"/><circle cx="216.4" cy="1220.2" r="4.35"/><circle cx="173.2" cy="1287.1" r="4.35"/><circle cx="235.6" cy="1287.1" r="4.35"/><circle cx="196.4" cy="1253.7" r="4.35"/><circle cx="198.1" cy="1220.2" r="4.35"/><circle cx="214.5" cy="1234.1" r="4.35"/><circle cx="249.7" cy="1200.6" r="4.35"/><circle cx="164.1" cy="1287.1" r="4.35"/><circle cx="162.0" cy="1159.8" r="4.35"/><circle cx="240.9" cy="1209.4" r="4.35"/><circle cx="272.0" cy="1287.1" r="4.35"/><circle cx="257.7" cy="1193.2" r="4.35"/><circle cx="219.1" cy="1234.1" r="4.35"/><circle cx="274.0" cy="1287.1" r="4.35"/><circle cx="210.6" cy="1234.1" r="4.35"/><circle cx="217.5" cy="1181.1" r="4.35"/><circle cx="240.0" cy="1234.1" r="4.35"/><circle cx="205.9" cy="1234.1" r="4.35"/><circle cx="194.7" cy="1181.1" r="4.35"/><circle cx="166.6" cy="1186.8" r="4.35"/><circle cx="164.0" cy="1287.1" r="4.35"/><circle cx="159.7" cy="1287.1" r="4.35"/><circle cx="238.6" cy="1171.4" r="4.35"/><circle cx="245.2" cy="1181.1" r="4.35"/><circle cx="290.5" cy="1234.1" r="4.35"/><circle cx="283.6" cy="1171.4" r="4.35"/><circle cx="232.5" cy="1150.4" r="4.35"/><circle cx="154.2" cy="1200.6" r="4.35"/><circle cx="293.9" cy="1163.3" r="4.35"/><circle cx="233.5" cy="1253.7" r="4.35"/><circle cx="224.8" cy="1220.2" r="4.35"/><circle cx="247.6" cy="1153.3" r="4.35"/><circle cx="231.7" cy="1209.4" r="4.35"/><circle cx="258.3" cy="1200.6" r="4.35"/><circle cx="220.7" cy="1287.1" r="4.35"/><circle cx="284.2" cy="1234.1" r="4.35"/><circle cx="257.7" cy="1234.1" r="4.35"/><circle cx="201.7" cy="1253.7" r="4.35"/><circle cx="204.7" cy="1209.4" r="4.35"/><circle cx="176.9" cy="1176.0" r="4.35"/><circle cx="199.6" cy="1220.2" r="4.35"/><circle cx="266.4" cy="1234.1" r="4.35"/><circle cx="253.0" cy="1176.0" r="4.35"/><circle cx="289.1" cy="1153.3" r="4.35"/><circle cx="176.0" cy="1156.4" r="4.35"/><circle cx="155.3" cy="1287.1" r="4.35"/><circle cx="188.7" cy="1209.4" r="4.35"/><circle cx="231.5" cy="1287.1" r="4.35"/><circle cx="284.9" cy="1209.4" r="4.35"/><circle cx="281.9" cy="1186.8" r="4.35"/><circle cx="241.9" cy="1234.1" r="4.35"/><circle cx="264.7" cy="1171.4" r="4.35"/><circle cx="185.0" cy="1135.8" r="4.35"/><circle cx="278.0" cy="1287.1" r="4.35"/><circle cx="254.8" cy="1193.2" r="4.35"/><circle cx="272.0" cy="1234.1" r="4.35"/><circle cx="187.8" cy="1253.7" r="4.35"/><circle cx="195.3" cy="1159.8" r="4.35"/><circle cx="255.5" cy="1200.6" r="4.35"/><circle cx="256.4" cy="1287.1" r="4.35"/><circle cx="211.4" cy="1209.4" r="4.35"/><circle cx="223.4" cy="1142.6" r="4.35"/><circle cx="202.2" cy="1234.1" r="4.35"/><circle cx="189.0" cy="1156.4" r="4.35"/><circle cx="229.6" cy="1287.1" r="4.35"/><circle cx="264.6" cy="1171.4" r="4.35"/><circle cx="284.5" cy="1220.2" r="4.35"/><circle cx="159.4" cy="1209.4" r="4.35"/><circle cx="265.0" cy="1253.7" r="4.35"/><circle cx="244.3" cy="1193.2" r="4.35"/><circle cx="169.7" cy="1253.7" r="4.35"/><circle cx="292.2" cy="1287.1" r="4.35"/><circle cx="208.7" cy="1171.4" r="4.35"/><circle cx="264.7" cy="1181.1" r="4.35"/><circle cx="259.2" cy="1153.3" r="4.35"/><circle cx="185.7" cy="1163.3" r="4.35"/><circle cx="212.6" cy="1200.6" r="4.35"/><circle cx="186.9" cy="1287.1" r="4.35"/><circle cx="270.0" cy="1193.2" r="4.35"/><circle cx="184.2" cy="1253.7" r="4.35"/><circle cx="180.5" cy="1253.7" r="4.35"/><circle cx="178.5" cy="1287.1" r="4.35"/><circle cx="266.8" cy="1193.2" r="4.35"/><circle cx="224.1" cy="1220.2" r="4.35"/><circle cx="209.0" cy="1234.1" r="4.35"/><circle cx="185.2" cy="1176.0" r="4.35"/><circle cx="169.9" cy="1287.1" r="4.35"/><circle cx="196.7" cy="1200.6" r="4.35"/><circle cx="170.6" cy="1253.7" r="4.35"/><circle cx="189.9" cy="1181.1" r="4.35"/><circle cx="173.6" cy="1171.4" r="4.35"/><circle cx="234.7" cy="1253.7" r="4.35"/><circle cx="243.4" cy="1287.1" r="4.35"/><circle cx="276.2" cy="1186.8" r="4.35"/><circle cx="259.9" cy="1253.7" r="4.35"/><circle cx="267.6" cy="1287.1" r="4.35"/><circle cx="179.5" cy="1167.2" r="4.35"/><circle cx="270.0" cy="1181.1" r="4.35"/><circle cx="209.6" cy="1171.4" r="4.35"/><circle cx="286.4" cy="1200.6" r="4.35"/><circle cx="208.1" cy="1140.2" r="4.35"/><circle cx="174.8" cy="1220.2" r="4.35"/><circle cx="237.6" cy="1287.1" r="4.35"/><circle cx="165.2" cy="1220.2" r="4.35"/><circle cx="226.6" cy="1147.6" r="4.35"/><circle cx="284.0" cy="1234.1" r="4.35"/><circle cx="282.2" cy="1220.2" r="4.35"/><circle cx="186.3" cy="1209.4" r="4.35"/><circle cx="215.4" cy="1287.1" r="4.35"/><circle cx="156.4" cy="1220.2" r="4.35"/><circle cx="232.8" cy="1220.2" r="4.35"/><circle cx="232.2" cy="1200.6" r="4.35"/><circle cx="195.9" cy="1234.1" r="4.35"/><circle cx="229.9" cy="1186.8" r="4.35"/><circle cx="169.1" cy="1234.1" r="4.35"/><circle cx="198.1" cy="1253.7" r="4.35"/><circle cx="229.9" cy="1159.8" r="4.35"/><circle cx="241.6" cy="1220.2" r="4.35"/><circle cx="186.2" cy="1167.2" r="4.35"/><circle cx="282.2" cy="1135.8" r="4.35"/><circle cx="232.0" cy="1200.6" r="4.35"/><circle cx="173.7" cy="1181.1" r="4.35"/><circle cx="218.3" cy="1181.1" r="4.35"/><circle cx="244.7" cy="1171.4" r="4.35"/><circle cx="193.7" cy="1287.1" r="4.35"/><circle cx="188.2" cy="1200.6" r="4.35"/><circle cx="241.3" cy="1167.2" r="4.35"/><circle cx="166.2" cy="1181.1" r="4.35"/><circle cx="257.5" cy="1220.2" r="4.35"/><circle cx="274.4" cy="1234.1" r="4.35"/><circle cx="165.0" cy="1200.6" r="4.35"/><circle cx="289.1" cy="1287.1" r="4.35"/><circle cx="184.5" cy="1234.1" r="4.35"/><circle cx="205.1" cy="1176.0" r="4.35"/><circle cx="177.6" cy="1186.8" r="4.35"/><circle cx="240.8" cy="1209.4" r="4.35"/><circle cx="253.7" cy="1186.8" r="4.35"/><circle cx="160.9" cy="1135.8" r="4.35"/><circle cx="225.2" cy="1220.2" r="4.35"/><circle cx="232.0" cy="1176.0" r="4.35"/><circle cx="246.9" cy="1253.7" r="4.35"/><circle cx="277.6" cy="1253.7" r="4.35"/><circle cx="165.6" cy="1287.1" r="4.35"/><circle cx="266.4" cy="1220.2" r="4.35"/><circle cx="233.7" cy="1287.1" r="4.35"/><circle cx="168.7" cy="1234.1" r="4.35"/><circle cx="237.3" cy="1220.2" r="4.35"/><circle cx="195.4" cy="1193.2" r="4.35"/><circle cx="229.7" cy="1193.2" r="4.35"/><circle cx="180.8" cy="1176.0" r="4.35"/><circle cx="266.9" cy="1220.2" r="4.35"/><circle cx="163.1" cy="1193.2" r="4.35"/><circle cx="226.8" cy="1140.2" r="4.35"/><circle cx="255.2" cy="1234.1" r="4.35"/><circle cx="189.4" cy="1186.8" r="4.35"/><circle cx="176.9" cy="1159.8" r="4.35"/><circle cx="250.3" cy="1153.3" r="4.35"/><circle cx="193.6" cy="1209.4" r="4.35"/><circle cx="198.4" cy="1176.0" r="4.35"/><circle cx="263.2" cy="1234.1" r="4.35"/><circle cx="199.6" cy="1176.0" r="4.35"/><circle cx="283.5" cy="1253.7" r="4.35"/><circle cx="254.7" cy="1287.1" r="4.35"/><circle cx="156.5" cy="1156.4" r="4.35"/><circle cx="217.8" cy="1287.1" r="4.35"/><circle cx="166.3" cy="1220.2" r="4.35"/><circle cx="213.5" cy="1150.4" r="4.35"/><circle cx="193.9" cy="1176.0" r="4.35"/><circle cx="278.4" cy="1287.1" r="4.35"/><circle cx="191.7" cy="1200.6" r="4.35"/><circle cx="202.5" cy="1200.6" r="4.35"/><circle cx="226.5" cy="1234.1" r="4.35"/><circle cx="232.2" cy="1200.6" r="4.35"/><circle cx="162.0" cy="1200.6" r="4.35"/><circle cx="161.4" cy="1209.4" r="4.35"/><circle cx="290.2" cy="1181.1" r="4.35"/><circle cx="241.6" cy="1287.1" r="4.35"/><circle cx="154.1" cy="1287.1" r="4.35"/><circle cx="250.5" cy="1234.1" r="4.35"/><circle cx="282.1" cy="1287.1" r="4.35"/><circle cx="188.4" cy="1234.1" r="4.35"/><circle cx="205.1" cy="1193.2" r="4.35"/><circle cx="230.0" cy="1200.6" r="4.35"/><circle cx="164.7" cy="1220.2" r="4.35"/><circle cx="272.9" cy="1181.1" r="4.35"/><circle cx="169.6" cy="1234.1" r="4.35"/><circle cx="255.1" cy="1209.4" r="4.35"/><circle cx="188.2" cy="1287.1" r="4.35"/><circle cx="232.3" cy="1209.4" r="4.35"/><circle cx="257.1" cy="1287.1" r="4.35"/><circle cx="176.4" cy="1200.6" r="4.35"/><circle cx="193.3" cy="1287.1" r="4.35"/><circle cx="287.7" cy="1234.1" r="4.35"/><circle cx="253.3" cy="1193.2" r="4.35"/><circle cx="185.2" cy="1253.7" r="4.35"/><circle cx="200.8" cy="1253.7" r="4.35"/><circle cx="177.7" cy="1159.8" r="4.35"/><circle cx="190.1" cy="1209.4" r="4.35"/><circle cx="277.7" cy="1253.7" r="4.35"/><circle cx="197.2" cy="1147.6" r="4.35"/><circle cx="214.6" cy="1253.7" r="4.35"/><circle cx="206.9" cy="1253.7" r="4.35"/><circle cx="271.8" cy="1200.6" r="4.35"/><circle cx="205.3" cy="1253.7" r="4.35"/><circle cx="277.7" cy="1220.2" r="4.35"/><circle cx="179.7" cy="1156.4" r="4.35"/><circle cx="185.4" cy="1138.0" r="4.35"/><circle cx="238.3" cy="1186.8" r="4.35"/><circle cx="188.5" cy="1186.8" r="4.35"/><circle cx="266.7" cy="1287.1" r="4.35"/><circle cx="194.8" cy="1287.1" r="4.35"/><circle cx="264.8" cy="1234.1" r="4.35"/><circle cx="186.0" cy="1287.1" r="4.35"/><circle cx="269.7" cy="1163.3" r="4.35"/><circle cx="199.6" cy="1193.2" r="4.35"/><circle cx="239.5" cy="1253.7" r="4.35"/><circle cx="208.7" cy="1234.1" r="4.35"/><circle cx="177.3" cy="1287.1" r="4.35"/><circle cx="189.8" cy="1234.1" r="4.35"/><circle cx="214.8" cy="1209.4" r="4.35"/><circle cx="220.4" cy="1287.1" r="4.35"/><circle cx="265.2" cy="1287.1" r="4.35"/><circle cx="261.1" cy="1220.2" r="4.35"/><circle cx="211.0" cy="1181.1" r="4.35"/><circle cx="264.8" cy="1253.7" r="4.35"/><circle cx="201.8" cy="1167.2" r="4.35"/><circle cx="207.8" cy="1193.2" r="4.35"/><circle cx="267.7" cy="1234.1" r="4.35"/><circle cx="152.5" cy="1220.2" r="4.35"/><circle cx="182.3" cy="1186.8" r="4.35"/><circle cx="218.9" cy="1209.4" r="4.35"/><circle cx="269.4" cy="1181.1" r="4.35"/><circle cx="172.1" cy="1193.2" r="4.35"/><circle cx="211.7" cy="1234.1" r="4.35"/><circle cx="260.3" cy="1200.6" r="4.35"/><circle cx="253.0" cy="1193.2" r="4.35"/><circle cx="234.8" cy="1209.4" r="4.35"/><circle cx="262.7" cy="1200.6" r="4.35"/><circle cx="235.5" cy="1181.1" r="4.35"/><circle cx="204.1" cy="1200.6" r="4.35"/><circle cx="221.0" cy="1150.4" r="4.35"/><circle cx="286.3" cy="1159.8" r="4.35"/><circle cx="167.4" cy="1209.4" r="4.35"/><circle cx="160.0" cy="1193.2" r="4.35"/><circle cx="220.8" cy="1200.6" r="4.35"/><circle cx="216.1" cy="1287.1" r="4.35"/><circle cx="198.7" cy="1171.4" r="4.35"/><circle cx="222.5" cy="1253.7" r="4.35"/><circle cx="249.6" cy="1253.7" r="4.35"/><circle cx="190.6" cy="1253.7" r="4.35"/><circle cx="239.5" cy="1253.7" r="4.35"/><circle cx="237.6" cy="1253.7" r="4.35"/><circle cx="156.1" cy="1287.1" r="4.35"/><circle cx="153.2" cy="1287.1" r="4.35"/><circle cx="268.3" cy="1220.2" r="4.35"/><circle cx="233.0" cy="1200.6" r="4.35"/><circle cx="227.8" cy="1220.2" r="4.35"/><circle cx="249.9" cy="1181.1" r="4.35"/><circle cx="198.4" cy="1167.2" r="4.35"/><circle cx="179.1" cy="1220.2" r="4.35"/><circle cx="234.0" cy="1167.2" r="4.35"/><circle cx="252.9" cy="1287.1" r="4.35"/><circle cx="205.1" cy="1234.1" r="4.35"/><circle cx="179.5" cy="1234.1" r="4.35"/><circle cx="283.0" cy="1181.1" r="4.35"/><circle cx="209.2" cy="1220.2" r="4.35"/><circle cx="176.6" cy="1287.1" r="4.35"/><circle cx="285.3" cy="1253.7" r="4.35"/><circle cx="281.2" cy="1147.6" r="4.35"/><circle cx="233.6" cy="1163.3" r="4.35"/><circle cx="245.1" cy="1200.6" r="4.35"/><circle cx="206.8" cy="1200.6" r="4.35"/><circle cx="211.6" cy="1287.1" r="4.35"/><circle cx="242.2" cy="1209.4" r="4.35"/><circle cx="151.2" cy="1181.1" r="4.35"/><circle cx="203.3" cy="1200.6" r="4.35"/><circle cx="179.9" cy="1234.1" r="4.35"/><circle cx="255.4" cy="1200.6" r="4.35"/><circle cx="207.2" cy="1209.4" r="4.35"/><circle cx="161.5" cy="1171.4" r="4.35"/><circle cx="208.5" cy="1200.6" r="4.35"/><circle cx="228.3" cy="1253.7" r="4.35"/><circle cx="249.9" cy="1234.1" r="4.35"/><circle cx="163.4" cy="1234.1" r="4.35"/><circle cx="257.1" cy="1193.2" r="4.35"/><circle cx="181.0" cy="1181.1" r="4.35"/><circle cx="178.4" cy="1287.1" r="4.35"/><circle cx="179.1" cy="1200.6" r="4.35"/><circle cx="266.5" cy="1193.2" r="4.35"/><circle cx="181.7" cy="1200.6" r="4.35"/><circle cx="188.2" cy="1220.2" r="4.35"/><circle cx="282.0" cy="1253.7" r="4.35"/><circle cx="207.1" cy="1220.2" r="4.35"/><circle cx="161.7" cy="1200.6" r="4.35"/><circle cx="173.6" cy="1186.8" r="4.35"/><circle cx="207.7" cy="1253.7" r="4.35"/><circle cx="278.8" cy="1234.1" r="4.35"/><circle cx="168.0" cy="1287.1" r="4.35"/><circle cx="175.8" cy="1186.8" r="4.35"/><circle cx="281.9" cy="1163.3" r="4.35"/><circle cx="242.9" cy="1234.1" r="4.35"/><circle cx="159.6" cy="1287.1" r="4.35"/><circle cx="225.3" cy="1200.6" r="4.35"/><circle cx="212.9" cy="1209.4" r="4.35"/><circle cx="289.0" cy="1253.7" r="4.35"/><circle cx="261.5" cy="1220.2" r="4.35"/><circle cx="233.0" cy="1156.4" r="4.35"/><circle cx="223.8" cy="1220.2" r="4.35"/><circle cx="228.2" cy="1234.1" r="4.35"/><circle cx="161.6" cy="1287.1" r="4.35"/><circle cx="237.0" cy="1220.2" r="4.35"/><circle cx="157.0" cy="1253.7" r="4.35"/><circle cx="221.7" cy="1234.1" r="4.35"/><circle cx="265.2" cy="1253.7" r="4.35"/><circle cx="280.1" cy="1220.2" r="4.35"/><circle cx="225.8" cy="1156.4" r="4.35"/><circle cx="189.1" cy="1163.3" r="4.35"/><circle cx="196.9" cy="1287.1" r="4.35"/><circle cx="195.8" cy="1181.1" r="4.35"/><circle cx="241.1" cy="1253.7" r="4.35"/><circle cx="243.5" cy="1220.2" r="4.35"/><circle cx="210.3" cy="1171.4" r="4.35"/><circle cx="243.0" cy="1234.1" r="4.35"/><circle cx="265.8" cy="1200.6" r="4.35"/><circle cx="293.7" cy="1193.2" r="4.35"/><circle cx="248.6" cy="1176.0" r="4.35"/><circle cx="246.0" cy="1220.2" r="4.35"/><circle cx="227.3" cy="1234.1" r="4.35"/><circle cx="214.1" cy="1200.6" r="4.35"/><circle cx="161.2" cy="1220.2" r="4.35"/><circle cx="261.4" cy="1167.2" r="4.35"/><circle cx="195.0" cy="1181.1" r="4.35"/><circle cx="152.8" cy="1181.1" r="4.35"/><circle cx="197.4" cy="1234.1" r="4.35"/><circle cx="269.6" cy="1287.1" r="4.35"/><circle cx="160.5" cy="1234.1" r="4.35"/><circle cx="286.0" cy="1209.4" r="4.35"/><circle cx="177.6" cy="1186.8" r="4.35"/><circle cx="265.8" cy="1287.1" r="4.35"/><circle cx="193.1" cy="1193.2" r="4.35"/><circle cx="194.7" cy="1287.1" r="4.35"/><circle cx="216.6" cy="1209.4" r="4.35"/><circle cx="200.2" cy="1220.2" r="4.35"/><circle cx="185.8" cy="1287.1" r="4.35"/><circle cx="228.7" cy="1176.0" r="4.35"/><circle cx="204.1" cy="1287.1" r="4.35"/><circle cx="204.5" cy="1186.8" r="4.35"/><circle cx="155.0" cy="1234.1" r="4.35"/><circle cx="154.3" cy="1234.1" r="4.35"/><circle cx="254.3" cy="1253.7" r="4.35"/><circle cx="283.3" cy="1200.6" r="4.35"/><circle cx="246.9" cy="1131.8" r="4.35"/><circle cx="288.8" cy="1234.1" r="4.35"/><circle cx="281.0" cy="1167.2" r="4.35"/><circle cx="210.5" cy="1234.1" r="4.35"/><circle cx="152.5" cy="1176.0" r="4.35"/><circle cx="170.3" cy="1234.1" r="4.35"/><circle cx="194.7" cy="1200.6" r="4.35"/><circle cx="192.1" cy="1209.4" r="4.35"/><circle cx="282.0" cy="1253.7" r="4.35"/><circle cx="271.4" cy="1200.6" r="4.35"/><circle cx="250.5" cy="1287.1" r="4.35"/><circle cx="166.1" cy="1234.1" r="4.35"/><circle cx="177.1" cy="1220.2" r="4.35"/><circle cx="219.1" cy="1186.8" r="4.35"/><circle cx="211.7" cy="1128.1" r="4.35"/><circle cx="212.5" cy="1171.4" r="4.35"/><circle cx="187.9" cy="1176.0" r="4.35"/><circle cx="189.8" cy="1287.1" r="4.35"/><circle cx="195.7" cy="1181.1" r="4.35"/><circle cx="261.2" cy="1220.2" r="4.35"/><circle cx="180.4" cy="1193.2" r="4.35"/><circle cx="195.9" cy="1186.8" r="4.35"/><circle cx="175.9" cy="1234.1" r="4.35"/><circle cx="279.4" cy="1253.7" r="4.35"/><circle cx="179.8" cy="1176.0" r="4.35"/><circle cx="160.9" cy="1287.1" r="4.35"/><circle cx="292.1" cy="1209.4" r="4.35"/><circle cx="290.3" cy="1220.2" r="4.35"/><circle cx="168.9" cy="1171.4" r="4.35"/><circle cx="214.4" cy="1253.7" r="4.35"/><circle cx="184.1" cy="1287.1" r="4.35"/><circle cx="161.9" cy="1181.1" r="4.35"/><circle cx="276.7" cy="1253.7" r="4.35"/><circle cx="218.5" cy="1181.1" r="4.35"/><circle cx="239.1" cy="1234.1" r="4.35"/><circle cx="201.2" cy="1253.7" r="4.35"/><circle cx="161.5" cy="1287.1" r="4.35"/><circle cx="279.8" cy="1200.6" r="4.35"/><circle cx="207.8" cy="1181.1" r="4.35"/><circle cx="226.8" cy="1234.1" r="4.35"/><circle cx="198.7" cy="1171.4" r="4.35"/><circle cx="207.8" cy="1287.1" r="4.35"/><circle cx="251.9" cy="1220.2" r="4.35"/><circle cx="208.9" cy="1176.0" r="4.35"/><circle cx="221.9" cy="1234.1" r="4.35"/><circle cx="173.7" cy="1287.1" r="4.35"/><circle cx="185.3" cy="1287.1" r="4.35"/><circle cx="176.8" cy="1193.2" r="4.35"/><circle cx="215.2" cy="1287.1" r="4.35"/><circle cx="255.2" cy="1176.0" r="4.35"/><circle cx="289.6" cy="1287.1" r="4.35"/><circle cx="263.1" cy="1287.1" r="4.35"/><circle cx="213.4" cy="1234.1" r="4.35"/><circle cx="275.8" cy="1287.1" r="4.35"/><circle cx="229.3" cy="1163.3" r="4.35"/><circle cx="235.0" cy="1253.7" r="4.35"/><circle cx="247.8" cy="1193.2" r="4.35"/><circle cx="180.3" cy="1209.4" r="4.35"/><circle cx="186.3" cy="1193.2" r="4.35"/><circle cx="230.2" cy="1220.2" r="4.35"/><circle cx="152.6" cy="1253.7" r="4.35"/><circle cx="294.0" cy="1253.7" r="4.35"/><circle cx="162.0" cy="1220.2" r="4.35"/><circle cx="239.6" cy="1287.1" r="4.35"/><circle cx="181.7" cy="1200.6" r="4.35"/><circle cx="163.6" cy="1253.7" r="4.35"/><circle cx="280.7" cy="1234.1" r="4.35"/><circle cx="223.1" cy="1167.2" r="4.35"/><circle cx="208.0" cy="1138.0" r="4.35"/><circle cx="261.9" cy="1181.1" r="4.35"/><circle cx="282.2" cy="1234.1" r="4.35"/><circle cx="227.4" cy="1234.1" r="4.35"/><circle cx="153.0" cy="1209.4" r="4.35"/><circle cx="175.4" cy="1253.7" r="4.35"/><circle cx="243.0" cy="1220.2" r="4.35"/><circle cx="281.2" cy="1163.3" r="4.35"/><circle cx="293.4" cy="1200.6" r="4.35"/><circle cx="236.4" cy="1176.0" r="4.35"/><circle cx="212.9" cy="1220.2" r="4.35"/><circle cx="224.7" cy="1171.4" r="4.35"/><circle cx="280.6" cy="1145.0" r="4.35"/><circle cx="260.1" cy="1186.8" r="4.35"/><circle cx="293.8" cy="1176.0" r="4.35"/><circle cx="282.6" cy="1253.7" r="4.35"/><circle cx="196.5" cy="1234.1" r="4.35"/><circle cx="180.2" cy="1253.7" r="4.35"/><circle cx="209.4" cy="1220.2" r="4.35"/><circle cx="280.6" cy="1287.1" r="4.35"/><circle cx="293.4" cy="1209.4" r="4.35"/><circle cx="255.9" cy="1253.7" r="4.35"/><circle cx="216.5" cy="1253.7" r="4.35"/><circle cx="225.3" cy="1234.1" r="4.35"/><circle cx="254.0" cy="1181.1" r="4.35"/><circle cx="277.8" cy="1253.7" r="4.35"/><circle cx="151.1" cy="1287.1" r="4.35"/><circle cx="182.8" cy="1186.8" r="4.35"/><circle cx="187.1" cy="1234.1" r="4.35"/><circle cx="267.1" cy="1253.7" r="4.35"/><circle cx="159.5" cy="1193.2" r="4.35"/><circle cx="173.8" cy="1167.2" r="4.35"/><circle cx="206.1" cy="1253.7" r="4.35"/><circle cx="287.1" cy="1167.2" r="4.35"/><circle cx="280.5" cy="1193.2" r="4.35"/><circle cx="158.5" cy="1209.4" r="4.35"/><circle cx="223.5" cy="1234.1" r="4.35"/><circle cx="189.8" cy="1287.1" r="4.35"/><circle cx="266.4" cy="1186.8" r="4.35"/><circle cx="241.0" cy="1209.4" r="4.35"/><circle cx="182.4" cy="1234.1" r="4.35"/><circle cx="161.8" cy="1287.1" r="4.35"/><circle cx="217.1" cy="1193.2" r="4.35"/><circle cx="196.6" cy="1253.7" r="4.35"/><circle cx="219.9" cy="1200.6" r="4.35"/><circle cx="273.5" cy="1234.1" r="4.35"/><circle cx="267.5" cy="1234.1" r="4.35"/><circle cx="219.6" cy="1234.1" r="4.35"/><circle cx="215.9" cy="1253.7" r="4.35"/><circle cx="165.4" cy="1287.1" r="4.35"/><circle cx="293.1" cy="1159.8" r="4.35"/><circle cx="249.3" cy="1234.1" r="4.35"/><circle cx="233.2" cy="1253.7" r="4.35"/><circle cx="281.4" cy="1209.4" r="4.35"/><circle cx="289.6" cy="1287.1" r="4.35"/><circle cx="215.3" cy="1253.7" r="4.35"/><circle cx="294.2" cy="1150.4" r="4.35"/><circle cx="210.6" cy="1253.7" r="4.35"/><circle cx="200.5" cy="1200.6" r="4.35"/><circle cx="273.9" cy="1193.2" r="4.35"/><circle cx="277.8" cy="1200.6" r="4.35"/><circle cx="191.1" cy="1287.1" r="4.35"/><circle cx="218.4" cy="1156.4" r="4.35"/><circle cx="223.4" cy="1220.2" r="4.35"/><circle cx="171.8" cy="1153.3" r="4.35"/><circle cx="264.9" cy="1253.7" r="4.35"/><circle cx="164.3" cy="1176.0" r="4.35"/><circle cx="273.6" cy="1234.1" r="4.35"/><circle cx="161.1" cy="1142.6" r="4.35"/><circle cx="233.4" cy="1287.1" r="4.35"/><circle cx="245.7" cy="1186.8" r="4.35"/><circle cx="165.0" cy="1234.1" r="4.35"/><circle cx="253.0" cy="1253.7" r="4.35"/><circle cx="218.1" cy="1287.1" r="4.35"/><circle cx="196.4" cy="1287.1" r="4.35"/><circle cx="157.5" cy="1220.2" r="4.35"/><circle cx="179.1" cy="1220.2" r="4.35"/><circle cx="239.7" cy="1176.0" r="4.35"/><circle cx="292.2" cy="1287.1" r="4.35"/><circle cx="180.4" cy="1287.1" r="4.35"/><circle cx="212.2" cy="1209.4" r="4.35"/><circle cx="287.0" cy="1220.2" r="4.35"/><circle cx="183.9" cy="1287.1" r="4.35"/><circle cx="256.3" cy="1176.0" r="4.35"/><circle cx="226.1" cy="1193.2" r="4.35"/><circle cx="206.4" cy="1253.7" r="4.35"/><circle cx="258.4" cy="1193.2" r="4.35"/><circle cx="196.7" cy="1234.1" r="4.35"/><circle cx="292.5" cy="1220.2" r="4.35"/><circle cx="270.8" cy="1234.1" r="4.35"/><circle cx="240.8" cy="1153.3" r="4.35"/><circle cx="289.8" cy="1287.1" r="4.35"/><circle cx="259.3" cy="1145.0" r="4.35"/><circle cx="282.9" cy="1209.4" r="4.35"/><circle cx="287.1" cy="1176.0" r="4.35"/><circle cx="231.7" cy="1163.3" r="4.35"/><circle cx="292.4" cy="1171.4" r="4.35"/><circle cx="294.9" cy="1287.1" r="4.35"/><circle cx="270.5" cy="1253.7" r="4.35"/><circle cx="241.7" cy="1253.7" r="4.35"/><circle cx="256.2" cy="1234.1" r="4.35"/><circle cx="276.4" cy="1253.7" r="4.35"/><circle cx="187.1" cy="1220.2" r="4.35"/><circle cx="266.7" cy="1159.8" r="4.35"/><circle cx="181.7" cy="1287.1" r="4.35"/><circle cx="247.7" cy="1159.8" r="4.35"/><circle cx="249.6" cy="1209.4" r="4.35"/><circle cx="200.3" cy="1186.8" r="4.35"/><circle cx="176.8" cy="1253.7" r="4.35"/><circle cx="175.4" cy="1209.4" r="4.35"/><circle cx="167.5" cy="1193.2" r="4.35"/><circle cx="183.6" cy="1176.0" r="4.35"/><circle cx="256.4" cy="1145.0" r="4.35"/><circle cx="270.6" cy="1159.8" r="4.35"/><circle cx="161.1" cy="1287.1" r="4.35"/><circle cx="249.7" cy="1220.2" r="4.35"/><circle cx="266.2" cy="1234.1" r="4.35"/><circle cx="208.2" cy="1287.1" r="4.35"/><circle cx="245.6" cy="1287.1" r="4.35"/><circle cx="267.6" cy="1200.6" r="4.35"/><circle cx="155.5" cy="1253.7" r="4.35"/><circle cx="243.2" cy="1193.2" r="4.35"/><circle cx="288.2" cy="1209.4" r="4.35"/><circle cx="173.5" cy="1209.4" r="4.35"/><circle cx="229.9" cy="1167.2" r="4.35"/><circle cx="251.8" cy="1171.4" r="4.35"/><circle cx="234.9" cy="1253.7" r="4.35"/><circle cx="237.9" cy="1287.1" r="4.35"/><circle cx="169.9" cy="1287.1" r="4.35"/><circle cx="194.9" cy="1145.0" r="4.35"/><circle cx="219.0" cy="1253.7" r="4.35"/><circle cx="226.4" cy="1193.2" r="4.35"/><circle cx="217.5" cy="1220.2" r="4.35"/><circle cx="257.4" cy="1220.2" r="4.35"/><circle cx="180.4" cy="1220.2" r="4.35"/><circle cx="295.0" cy="1220.2" r="4.35"/><circle cx="241.9" cy="1209.4" r="4.35"/><circle cx="245.2" cy="1287.1" r="4.35"/><circle cx="253.2" cy="1176.0" r="4.35"/><circle cx="282.1" cy="1287.1" r="4.35"/><circle cx="255.5" cy="1147.6" r="4.35"/><circle cx="164.6" cy="1176.0" r="4.35"/><circle cx="152.9" cy="1220.2" r="4.35"/><circle cx="216.6" cy="1209.4" r="4.35"/><circle cx="218.7" cy="1287.1" r="4.35"/><circle cx="210.1" cy="1193.2" r="4.35"/><circle cx="277.5" cy="1209.4" r="4.35"/><circle cx="209.9" cy="1150.4" r="4.35"/><circle cx="294.7" cy="1287.1" r="4.35"/><circle cx="176.7" cy="1253.7" r="4.35"/><circle cx="158.9" cy="1147.6" r="4.35"/><circle cx="165.8" cy="1209.4" r="4.35"/><circle cx="256.7" cy="1209.4" r="4.35"/><circle cx="271.5" cy="1253.7" r="4.35"/><circle cx="259.7" cy="1209.4" r="4.35"/><circle cx="184.4" cy="1220.2" r="4.35"/><circle cx="179.7" cy="1253.7" r="4.35"/><circle cx="291.2" cy="1163.3" r="4.35"/><circle cx="288.9" cy="1193.2" r="4.35"/><circle cx="242.7" cy="1186.8" r="4.35"/><circle cx="247.0" cy="1193.2" r="4.35"/><circle cx="173.6" cy="1186.8" r="4.35"/><circle cx="267.3" cy="1253.7" r="4.35"/><circle cx="206.4" cy="1186.8" r="4.35"/><circle cx="258.8" cy="1209.4" r="4.35"/><circle cx="288.0" cy="1220.2" r="4.35"/><circle cx="203.6" cy="1200.6" r="4.35"/><circle cx="292.4" cy="1253.7" r="4.35"/><circle cx="272.0" cy="1220.2" r="4.35"/><circle cx="230.3" cy="1209.4" r="4.35"/><circle cx="179.3" cy="1287.1" r="4.35"/><circle cx="252.3" cy="1287.1" r="4.35"/><circle cx="287.4" cy="1186.8" r="4.35"/><circle cx="152.6" cy="1186.8" r="4.35"/><circle cx="186.9" cy="1209.4" r="4.35"/><circle cx="275.3" cy="1253.7" r="4.35"/><circle cx="226.9" cy="1209.4" r="4.35"/><circle cx="235.1" cy="1186.8" r="4.35"/><circle cx="260.3" cy="1220.2" r="4.35"/><circle cx="229.4" cy="1193.2" r="4.35"/><circle cx="277.0" cy="1200.6" r="4.35"/><circle cx="192.8" cy="1176.0" r="4.35"/><circle cx="202.8" cy="1181.1" r="4.35"/><circle cx="208.8" cy="1220.2" r="4.35"/><circle cx="243.4" cy="1253.7" r="4.35"/><circle cx="242.9" cy="1220.2" r="4.35"/><circle cx="223.0" cy="1287.1" r="4.35"/><circle cx="265.7" cy="1186.8" r="4.35"/><circle cx="218.5" cy="1220.2" r="4.35"/><circle cx="282.5" cy="1200.6" r="4.35"/><circle cx="287.2" cy="1234.1" r="4.35"/><circle cx="169.3" cy="1234.1" r="4.35"/><circle cx="162.8" cy="1200.6" r="4.35"/><circle cx="226.7" cy="1147.6" r="4.35"/><circle cx="186.1" cy="1209.4" r="4.35"/><circle cx="186.5" cy="1287.1" r="4.35"/><circle cx="293.1" cy="1167.2" r="4.35"/><circle cx="198.9" cy="1287.1" r="4.35"/><circle cx="260.7" cy="1220.2" r="4.35"/><circle cx="284.1" cy="1287.1" r="4.35"/><circle cx="213.9" cy="1234.1" r="4.35"/><circle cx="263.9" cy="1209.4" r="4.35"/><circle cx="184.9" cy="1186.8" r="4.35"/><circle cx="168.9" cy="1142.6" r="4.35"/><circle cx="212.1" cy="1200.6" r="4.35"/><circle cx="216.9" cy="1287.1" r="4.35"/><circle cx="153.6" cy="1287.1" r="4.35"/><circle cx="284.8" cy="1167.2" r="4.35"/><circle cx="256.8" cy="1253.7" r="4.35"/><circle cx="272.3" cy="1287.1" r="4.35"/><circle cx="158.2" cy="1209.4" r="4.35"/><circle cx="212.2" cy="1193.2" r="4.35"/><circle cx="216.3" cy="1253.7" r="4.35"/><circle cx="238.7" cy="1253.7" r="4.35"/><circle cx="258.5" cy="1123.0" r="4.35"/><circle cx="163.1" cy="1253.7" r="4.35"/><circle cx="191.5" cy="1186.8" r="4.35"/><circle cx="153.7" cy="1171.4" r="4.35"/><circle cx="257.1" cy="1287.1" r="4.35"/><circle cx="293.5" cy="1287.1" r="4.35"/><circle cx="227.0" cy="1209.4" r="4.35"/><circle cx="254.2" cy="1181.1" r="4.35"/><circle cx="260.2" cy="1220.2" r="4.35"/><circle cx="171.3" cy="1253.7" r="4.35"/><circle cx="191.8" cy="1209.4" r="4.35"/><circle cx="265.7" cy="1253.7" r="4.35"/><circle cx="202.7" cy="1209.4" r="4.35"/><circle cx="190.0" cy="1209.4" r="4.35"/><circle cx="224.7" cy="1287.1" r="4.35"/><circle cx="272.9" cy="1287.1" r="4.35"/><circle cx="211.6" cy="1209.4" r="4.35"/><circle cx="243.7" cy="1287.1" r="4.35"/><circle cx="239.0" cy="1209.4" r="4.35"/><circle cx="159.9" cy="1220.2" r="4.35"/><circle cx="181.7" cy="1287.1" r="4.35"/><circle cx="274.9" cy="1220.2" r="4.35"/><circle cx="262.3" cy="1287.1" r="4.35"/><circle cx="253.7" cy="1167.2" r="4.35"/><circle cx="194.0" cy="1200.6" r="4.35"/><circle cx="191.4" cy="1287.1" r="4.35"/><circle cx="255.0" cy="1253.7" r="4.35"/><circle cx="175.4" cy="1253.7" r="4.35"/><circle cx="203.1" cy="1200.6" r="4.35"/><circle cx="162.5" cy="1253.7" r="4.35"/><circle cx="166.3" cy="1171.4" r="4.35"/><circle cx="274.2" cy="1253.7" r="4.35"/><circle cx="181.8" cy="1253.7" r="4.35"/><circle cx="294.3" cy="1220.2" r="4.35"/><circle cx="236.2" cy="1209.4" r="4.35"/><circle cx="211.7" cy="1287.1" r="4.35"/><circle cx="153.2" cy="1171.4" r="4.35"/><circle cx="174.0" cy="1209.4" r="4.35"/><circle cx="194.9" cy="1200.6" r="4.35"/><circle cx="165.0" cy="1181.1" r="4.35"/><circle cx="183.7" cy="1234.1" r="4.35"/><circle cx="265.0" cy="1253.7" r="4.35"/><circle cx="225.3" cy="1186.8" r="4.35"/><circle cx="274.1" cy="1150.4" r="4.35"/><circle cx="285.6" cy="1200.6" r="4.35"/><circle cx="154.3" cy="1220.2" r="4.35"/><circle cx="206.6" cy="1156.4" r="4.35"/><circle cx="279.0" cy="1193.2" r="4.35"/><circle cx="243.1" cy="1253.7" r="4.35"/><circle cx="225.9" cy="1253.7" r="4.35"/><circle cx="267.0" cy="1128.1" r="4.35"/><circle cx="264.5" cy="1193.2" r="4.35"/><circle cx="228.4" cy="1193.2" r="4.35"/><circle cx="252.5" cy="1287.1" r="4.35"/><circle cx="221.2" cy="1234.1" r="4.35"/><circle cx="171.3" cy="1176.0" r="4.35"/><circle cx="253.4" cy="1253.7" r="4.35"/><circle cx="249.7" cy="1253.7" r="4.35"/><circle cx="290.8" cy="1287.1" r="4.35"/><circle cx="249.7" cy="1234.1" r="4.35"/><circle cx="218.2" cy="1220.2" r="4.35"/><circle cx="185.2" cy="1186.8" r="4.35"/><circle cx="192.6" cy="1163.3" r="4.35"/><circle cx="163.2" cy="1193.2" r="4.35"/><circle cx="272.7" cy="1234.1" r="4.35"/><circle cx="153.4" cy="1287.1" r="4.35"/><circle cx="198.8" cy="1156.4" r="4.35"/><circle cx="215.4" cy="1142.6" r="4.35"/><circle cx="290.4" cy="1220.2" r="4.35"/><circle cx="164.0" cy="1176.0" r="4.35"/><circle cx="281.5" cy="1253.7" r="4.35"/><circle cx="158.5" cy="1140.2" r="4.35"/><circle cx="199.2" cy="1234.1" r="4.35"/><circle cx="226.7" cy="1181.1" r="4.35"/><circle cx="211.7" cy="1193.2" r="4.35"/><circle cx="236.5" cy="1142.6" r="4.35"/><circle cx="281.8" cy="1287.1" r="4.35"/><circle cx="195.1" cy="1138.0" r="4.35"/><circle cx="181.2" cy="1287.1" r="4.35"/><circle cx="269.2" cy="1171.4" r="4.35"/><circle cx="245.8" cy="1159.8" r="4.35"/><circle cx="155.3" cy="1253.7" r="4.35"/><circle cx="216.2" cy="1253.7" r="4.35"/><circle cx="204.2" cy="1200.6" r="4.35"/><circle cx="237.1" cy="1209.4" r="4.35"/><circle cx="194.3" cy="1253.7" r="4.35"/><circle cx="218.4" cy="1209.4" r="4.35"/><circle cx="171.7" cy="1193.2" r="4.35"/><circle cx="261.4" cy="1171.4" r="4.35"/><circle cx="162.3" cy="1200.6" r="4.35"/><circle cx="211.1" cy="1253.7" r="4.35"/><circle cx="292.4" cy="1287.1" r="4.35"/><circle cx="281.4" cy="1150.4" r="4.35"/><circle cx="237.0" cy="1145.0" r="4.35"/><circle cx="228.6" cy="1234.1" r="4.35"/><circle cx="271.7" cy="1150.4" r="4.35"/><circle cx="232.2" cy="1176.0" r="4.35"/><circle cx="172.4" cy="1234.1" r="4.35"/><circle cx="251.6" cy="1253.7" r="4.35"/><circle cx="163.5" cy="1287.1" r="4.35"/><circle cx="224.3" cy="1171.4" r="4.35"/><circle cx="162.8" cy="1193.2" r="4.35"/><circle cx="203.0" cy="1163.3" r="4.35"/><circle cx="198.8" cy="1176.0" r="4.35"/><circle cx="292.2" cy="1253.7" r="4.35"/><circle cx="248.7" cy="1253.7" r="4.35"/><circle cx="246.0" cy="1253.7" r="4.35"/><circle cx="244.2" cy="1171.4" r="4.35"/><circle cx="263.0" cy="1220.2" r="4.35"/><circle cx="213.2" cy="1147.6" r="4.35"/><circle cx="260.2" cy="1153.3" r="4.35"/><circle cx="293.6" cy="1186.8" r="4.35"/><circle cx="268.7" cy="1163.3" r="4.35"/><circle cx="182.9" cy="1123.0" r="4.35"/><circle cx="252.0" cy="1220.2" r="4.35"/><circle cx="182.9" cy="1234.1" r="4.35"/><circle cx="155.1" cy="1234.1" r="4.35"/><circle cx="264.5" cy="1234.1" r="4.35"/><circle cx="269.8" cy="1167.2" r="4.35"/><circle cx="209.4" cy="1220.2" r="4.35"/><circle cx="243.2" cy="1287.1" r="4.35"/><circle cx="261.6" cy="1234.1" r="4.35"/><circle cx="198.4" cy="1287.1" r="4.35"/><circle cx="252.5" cy="1220.2" r="4.35"/><circle cx="282.8" cy="1193.2" r="4.35"/><circle cx="232.9" cy="1253.7" r="4.35"/><circle cx="228.0" cy="1186.8" r="4.35"/><circle cx="239.0" cy="1167.2" r="4.35"/><circle cx="206.6" cy="1171.4" r="4.35"/><circle cx="176.3" cy="1287.1" r="4.35"/><circle cx="238.2" cy="1234.1" r="4.35"/><circle cx="171.6" cy="1200.6" r="4.35"/><circle cx="289.0" cy="1287.1" r="4.35"/><circle cx="156.7" cy="1209.4" r="4.35"/><circle cx="240.9" cy="1220.2" r="4.35"/><circle cx="259.5" cy="1209.4" r="4.35"/><circle cx="231.6" cy="1287.1" r="4.35"/><circle cx="171.4" cy="1167.2" r="4.35"/><circle cx="154.6" cy="1253.7" r="4.35"/><circle cx="219.4" cy="1253.7" r="4.35"/><circle cx="222.6" cy="1253.7" r="4.35"/><circle cx="203.1" cy="1287.1" r="4.35"/><circle cx="170.6" cy="1253.7" r="4.35"/><circle cx="207.2" cy="1038.5" r="4.35"/><circle cx="173.4" cy="1064.9" r="4.35"/><circle cx="259.9" cy="1042.8" r="4.35"/><circle cx="269.5" cy="1045.3" r="4.35"/><circle cx="253.0" cy="1057.5" r="4.35"/><circle cx="211.0" cy="1079.2" r="4.35"/><circle cx="257.6" cy="1075.1" r="4.35"/><circle cx="258.6" cy="1085.3" r="4.35"/><circle cx="243.3" cy="1089.3" r="4.35"/><circle cx="181.3" cy="1103.3" r="4.35"/><circle cx="153.3" cy="1110.2" r="4.35"/><circle cx="158.2" cy="1111.0" r="4.35"/><circle cx="266.2" cy="1100.0" r="4.35"/><circle cx="273.3" cy="1102.6" r="4.35"/><circle cx="281.7" cy="1103.8" r="4.35"/><circle cx="173.4" cy="1126.0" r="4.35"/><circle cx="294.2" cy="1120.4" r="4.35"/><circle cx="277.1" cy="1116.5" r="4.35"/><circle cx="278.4" cy="1124.2" r="4.35"/><circle cx="200.9" cy="1113.5" r="4.35"/><circle cx="218.7" cy="1115.3" r="4.35"/><circle cx="208.5" cy="1117.0" r="4.35"/><circle cx="213.1" cy="1124.4" r="4.35"/><circle cx="253.0" cy="1119.8" r="4.35"/><circle cx="259.3" cy="1119.0" r="4.35"/><circle cx="267.7" cy="1130.0" r="4.35"/><circle cx="259.9" cy="1131.0" r="4.35"/><circle cx="231.4" cy="1131.0" r="4.35"/><circle cx="222.0" cy="1133.8" r="4.35"/><circle cx="241.5" cy="1135.6" r="4.35"/><circle cx="251.2" cy="1137.6" r="4.35"/><circle cx="211.8" cy="1135.6" r="4.35"/><circle cx="199.1" cy="1124.7" r="4.35"/><circle cx="195.8" cy="1131.8" r="4.35"/><circle cx="181.8" cy="1138.7" r="4.35"/><circle cx="193.2" cy="1140.2" r="4.35"/><circle cx="225.0" cy="1145.8" r="4.35"/><circle cx="253.5" cy="1147.8" r="4.35"/><circle cx="266.2" cy="1142.0" r="4.35"/><circle cx="291.1" cy="1142.2" r="4.35"/><circle cx="286.5" cy="1150.9" r="4.35"/><circle cx="153.3" cy="1150.9" r="4.35"/><circle cx="160.7" cy="1147.6" r="4.35"/></g>
<circle cx="222.3" cy="1076.9" r="7.0" fill="#2DB44D" stroke="#000" stroke-width="1.3"/>
<circle cx="246.4" cy="1108.7" r="7.0" fill="#B39B2E" stroke="#000" stroke-width="1.3"/>
<circle cx="262.8" cy="1233.1" r="3.7" fill="#F27D72"/>
<rect x="482.2" y="1193.2" width="183.1" height="60.4" fill="none" stroke="#000" stroke-width="1.5"/>
<line x1="573.5" y1="1193.2" x2="573.5" y2="1138.0" stroke="#000" stroke-width="1.5" />
<line x1="573.5" y1="1253.7" x2="573.5" y2="1287.1" stroke="#000" stroke-width="1.5" />
<line x1="482.2" y1="1220.2" x2="665.3" y2="1220.2" stroke="#000" stroke-width="3" />
<g fill="#808080" stroke="#000" stroke-width="1.7"><circle cx="643.2" cy="1176.0" r="4.35"/><circle cx="544.1" cy="1234.1" r="4.35"/><circle cx="589.5" cy="1234.1" r="4.35"/><circle cx="578.5" cy="1253.7" r="4.35"/><circle cx="559.3" cy="1287.1" r="4.35"/><circle cx="627.4" cy="1186.8" r="4.35"/><circle cx="505.3" cy="1209.4" r="4.35"/><circle cx="601.2" cy="1171.4" r="4.35"/><circle cx="613.6" cy="1220.2" r="4.35"/><circle cx="637.3" cy="1220.2" r="4.35"/><circle cx="511.4" cy="1163.3" r="4.35"/><circle cx="554.4" cy="1186.8" r="4.35"/><circle cx="533.5" cy="1253.7" r="4.35"/><circle cx="637.9" cy="1186.8" r="4.35"/><circle cx="508.8" cy="1163.3" r="4.35"/><circle cx="554.2" cy="1163.3" r="4.35"/><circle cx="535.5" cy="1234.1" r="4.35"/><circle cx="504.6" cy="1220.2" r="4.35"/><circle cx="600.7" cy="1133.8" r="4.35"/><circle cx="546.8" cy="1153.3" r="4.35"/><circle cx="576.3" cy="1234.1" r="4.35"/><circle cx="504.7" cy="1209.4" r="4.35"/><circle cx="561.8" cy="1234.1" r="4.35"/><circle cx="600.1" cy="1209.4" r="4.35"/><circle cx="541.2" cy="1234.1" r="4.35"/><circle cx="565.0" cy="1167.2" r="4.35"/><circle cx="579.2" cy="1220.2" r="4.35"/><circle cx="554.9" cy="1253.7" r="4.35"/><circle cx="602.7" cy="1193.2" r="4.35"/><circle cx="549.8" cy="1253.7" r="4.35"/><circle cx="624.3" cy="1234.1" r="4.35"/><circle cx="539.1" cy="1186.8" r="4.35"/><circle cx="539.7" cy="1220.2" r="4.35"/><circle cx="613.1" cy="1253.7" r="4.35"/><circle cx="560.4" cy="1220.2" r="4.35"/><circle cx="556.5" cy="1220.2" r="4.35"/><circle cx="529.7" cy="1140.2" r="4.35"/><circle cx="607.9" cy="1287.1" r="4.35"/><circle cx="602.8" cy="1163.3" r="4.35"/><circle cx="614.4" cy="1253.7" r="4.35"/><circle cx="573.9" cy="1200.6" r="4.35"/><circle cx="530.8" cy="1193.2" r="4.35"/><circle cx="594.5" cy="1200.6" r="4.35"/><circle cx="510.3" cy="1186.8" r="4.35"/><circle cx="541.4" cy="1176.0" r="4.35"/><circle cx="569.0" cy="1147.6" r="4.35"/><circle cx="606.1" cy="1234.1" r="4.35"/><circle cx="528.7" cy="1234.1" r="4.35"/><circle cx="583.1" cy="1220.2" r="4.35"/><circle cx="630.0" cy="1186.8" r="4.35"/><circle cx="584.9" cy="1234.1" r="4.35"/><circle cx="638.9" cy="1220.2" r="4.35"/><circle cx="537.8" cy="1156.4" r="4.35"/><circle cx="638.9" cy="1253.7" r="4.35"/><circle cx="611.1" cy="1234.1" r="4.35"/><circle cx="525.6" cy="1209.4" r="4.35"/><circle cx="576.5" cy="1234.1" r="4.35"/><circle cx="533.4" cy="1287.1" r="4.35"/><circle cx="584.8" cy="1253.7" r="4.35"/><circle cx="613.5" cy="1253.7" r="4.35"/><circle cx="608.0" cy="1287.1" r="4.35"/><circle cx="629.8" cy="1287.1" r="4.35"/><circle cx="537.9" cy="1234.1" r="4.35"/><circle cx="640.6" cy="1209.4" r="4.35"/><circle cx="595.2" cy="1209.4" r="4.35"/><circle cx="557.5" cy="1220.2" r="4.35"/><circle cx="643.1" cy="1220.2" r="4.35"/><circle cx="552.4" cy="1287.1" r="4.35"/><circle cx="535.7" cy="1253.7" r="4.35"/><circle cx="593.3" cy="1200.6" r="4.35"/><circle cx="519.3" cy="1253.7" r="4.35"/><circle cx="562.0" cy="1287.1" r="4.35"/><circle cx="549.7" cy="1209.4" r="4.35"/><circle cx="603.4" cy="1186.8" r="4.35"/><circle cx="583.1" cy="1287.1" r="4.35"/><circle cx="620.9" cy="1200.6" r="4.35"/><circle cx="566.8" cy="1234.1" r="4.35"/><circle cx="611.1" cy="1253.7" r="4.35"/><circle cx="609.5" cy="1253.7" r="4.35"/><circle cx="618.7" cy="1220.2" r="4.35"/><circle cx="533.5" cy="1287.1" r="4.35"/><circle cx="512.7" cy="1220.2" r="4.35"/><circle cx="624.6" cy="1234.1" r="4.35"/><circle cx="604.7" cy="1193.2" r="4.35"/><circle cx="631.9" cy="1200.6" r="4.35"/><circle cx="540.8" cy="1193.2" r="4.35"/><circle cx="561.4" cy="1253.7" r="4.35"/><circle cx="576.7" cy="1193.2" r="4.35"/><circle cx="540.1" cy="1234.1" r="4.35"/><circle cx="641.1" cy="1181.1" r="4.35"/><circle cx="567.8" cy="1209.4" r="4.35"/><circle cx="560.9" cy="1186.8" r="4.35"/><circle cx="514.4" cy="1287.1" r="4.35"/><circle cx="637.4" cy="1234.1" r="4.35"/><circle cx="586.7" cy="1220.2" r="4.35"/><circle cx="580.3" cy="1253.7" r="4.35"/><circle cx="607.5" cy="1287.1" r="4.35"/><circle cx="630.7" cy="1193.2" r="4.35"/><circle cx="604.5" cy="1234.1" r="4.35"/><circle cx="608.2" cy="1133.8" r="4.35"/><circle cx="602.0" cy="1287.1" r="4.35"/><circle cx="595.8" cy="1234.1" r="4.35"/><circle cx="621.9" cy="1200.6" r="4.35"/><circle cx="534.7" cy="1163.3" r="4.35"/><circle cx="559.1" cy="1181.1" r="4.35"/><circle cx="585.3" cy="1163.3" r="4.35"/><circle cx="513.5" cy="1234.1" r="4.35"/><circle cx="570.9" cy="1209.4" r="4.35"/><circle cx="564.5" cy="1186.8" r="4.35"/><circle cx="577.3" cy="1234.1" r="4.35"/><circle cx="524.0" cy="1253.7" r="4.35"/><circle cx="555.1" cy="1234.1" r="4.35"/><circle cx="560.8" cy="1186.8" r="4.35"/><circle cx="634.3" cy="1253.7" r="4.35"/><circle cx="565.2" cy="1167.2" r="4.35"/><circle cx="614.9" cy="1200.6" r="4.35"/><circle cx="629.4" cy="1176.0" r="4.35"/><circle cx="593.7" cy="1253.7" r="4.35"/><circle cx="520.8" cy="1186.8" r="4.35"/><circle cx="602.6" cy="1181.1" r="4.35"/><circle cx="545.2" cy="1176.0" r="4.35"/><circle cx="543.2" cy="1287.1" r="4.35"/><circle cx="570.1" cy="1220.2" r="4.35"/><circle cx="574.3" cy="1234.1" r="4.35"/><circle cx="638.7" cy="1193.2" r="4.35"/><circle cx="606.8" cy="1253.7" r="4.35"/><circle cx="545.6" cy="1200.6" r="4.35"/><circle cx="523.8" cy="1220.2" r="4.35"/><circle cx="568.9" cy="1156.4" r="4.35"/><circle cx="608.2" cy="1186.8" r="4.35"/><circle cx="575.7" cy="1200.6" r="4.35"/><circle cx="567.9" cy="1176.0" r="4.35"/><circle cx="598.8" cy="1220.2" r="4.35"/><circle cx="594.0" cy="1200.6" r="4.35"/><circle cx="580.0" cy="1287.1" r="4.35"/><circle cx="527.5" cy="1159.8" r="4.35"/><circle cx="635.1" cy="1171.4" r="4.35"/><circle cx="526.2" cy="1176.0" r="4.35"/><circle cx="618.8" cy="1171.4" r="4.35"/><circle cx="512.6" cy="1193.2" r="4.35"/><circle cx="578.2" cy="1145.0" r="4.35"/><circle cx="631.9" cy="1220.2" r="4.35"/><circle cx="605.3" cy="1181.1" r="4.35"/><circle cx="565.1" cy="1287.1" r="4.35"/><circle cx="583.2" cy="1253.7" r="4.35"/><circle cx="538.2" cy="1287.1" r="4.35"/><circle cx="583.6" cy="1234.1" r="4.35"/><circle cx="517.6" cy="1193.2" r="4.35"/><circle cx="559.5" cy="1181.1" r="4.35"/><circle cx="610.0" cy="1234.1" r="4.35"/><circle cx="636.0" cy="1234.1" r="4.35"/><circle cx="642.7" cy="1167.2" r="4.35"/><circle cx="590.9" cy="1150.4" r="4.35"/><circle cx="551.0" cy="1167.2" r="4.35"/><circle cx="610.8" cy="1209.4" r="4.35"/><circle cx="516.4" cy="1253.7" r="4.35"/><circle cx="575.2" cy="1287.1" r="4.35"/><circle cx="518.2" cy="1234.1" r="4.35"/><circle cx="599.8" cy="1234.1" r="4.35"/><circle cx="551.7" cy="1220.2" r="4.35"/><circle cx="621.7" cy="1253.7" r="4.35"/><circle cx="609.2" cy="1253.7" r="4.35"/><circle cx="504.8" cy="1156.4" r="4.35"/><circle cx="513.4" cy="1220.2" r="4.35"/><circle cx="544.6" cy="1181.1" r="4.35"/><circle cx="509.1" cy="1186.8" r="4.35"/><circle cx="623.6" cy="1209.4" r="4.35"/><circle cx="615.1" cy="1209.4" r="4.35"/><circle cx="511.6" cy="1253.7" r="4.35"/><circle cx="509.9" cy="1193.2" r="4.35"/><circle cx="580.8" cy="1193.2" r="4.35"/><circle cx="613.8" cy="1220.2" r="4.35"/><circle cx="614.3" cy="1234.1" r="4.35"/><circle cx="628.0" cy="1209.4" r="4.35"/><circle cx="567.1" cy="1186.8" r="4.35"/><circle cx="607.7" cy="1181.1" r="4.35"/><circle cx="510.6" cy="1253.7" r="4.35"/><circle cx="583.4" cy="1176.0" r="4.35"/><circle cx="545.2" cy="1142.6" r="4.35"/><circle cx="515.7" cy="1253.7" r="4.35"/><circle cx="551.0" cy="1181.1" r="4.35"/><circle cx="569.9" cy="1193.2" r="4.35"/><circle cx="601.3" cy="1159.8" r="4.35"/><circle cx="600.0" cy="1200.6" r="4.35"/><circle cx="637.2" cy="1193.2" r="4.35"/><circle cx="640.3" cy="1209.4" r="4.35"/><circle cx="636.9" cy="1287.1" r="4.35"/><circle cx="635.1" cy="1287.1" r="4.35"/><circle cx="619.1" cy="1181.1" r="4.35"/><circle cx="558.5" cy="1287.1" r="4.35"/><circle cx="528.4" cy="1209.4" r="4.35"/><circle cx="538.5" cy="1220.2" r="4.35"/><circle cx="546.4" cy="1220.2" r="4.35"/><circle cx="620.0" cy="1167.2" r="4.35"/><circle cx="614.7" cy="1220.2" r="4.35"/><circle cx="582.2" cy="1181.1" r="4.35"/><circle cx="630.5" cy="1234.1" r="4.35"/><circle cx="629.7" cy="1287.1" r="4.35"/><circle cx="616.3" cy="1200.6" r="4.35"/><circle cx="587.4" cy="1253.7" r="4.35"/><circle cx="622.9" cy="1287.1" r="4.35"/><circle cx="506.5" cy="1171.4" r="4.35"/><circle cx="520.9" cy="1287.1" r="4.35"/><circle cx="620.9" cy="1253.7" r="4.35"/><circle cx="589.6" cy="1181.1" r="4.35"/><circle cx="621.9" cy="1163.3" r="4.35"/><circle cx="579.2" cy="1220.2" r="4.35"/><circle cx="577.0" cy="1287.1" r="4.35"/><circle cx="614.6" cy="1287.1" r="4.35"/><circle cx="617.8" cy="1167.2" r="4.35"/><circle cx="519.8" cy="1193.2" r="4.35"/><circle cx="545.7" cy="1209.4" r="4.35"/><circle cx="571.6" cy="1253.7" r="4.35"/><circle cx="546.4" cy="1234.1" r="4.35"/><circle cx="635.7" cy="1193.2" r="4.35"/><circle cx="610.7" cy="1181.1" r="4.35"/><circle cx="633.7" cy="1234.1" r="4.35"/><circle cx="611.9" cy="1220.2" r="4.35"/><circle cx="541.5" cy="1176.0" r="4.35"/><circle cx="627.7" cy="1209.4" r="4.35"/><circle cx="634.9" cy="1200.6" r="4.35"/><circle cx="567.1" cy="1186.8" r="4.35"/><circle cx="511.2" cy="1234.1" r="4.35"/><circle cx="524.5" cy="1287.1" r="4.35"/><circle cx="611.4" cy="1193.2" r="4.35"/><circle cx="557.7" cy="1253.7" r="4.35"/><circle cx="514.8" cy="1234.1" r="4.35"/><circle cx="538.2" cy="1193.2" r="4.35"/><circle cx="606.2" cy="1253.7" r="4.35"/><circle cx="563.5" cy="1287.1" r="4.35"/><circle cx="563.9" cy="1193.2" r="4.35"/><circle cx="505.7" cy="1253.7" r="4.35"/><circle cx="556.2" cy="1253.7" r="4.35"/><circle cx="577.6" cy="1147.6" r="4.35"/><circle cx="586.2" cy="1253.7" r="4.35"/><circle cx="553.9" cy="1287.1" r="4.35"/><circle cx="615.6" cy="1142.6" r="4.35"/><circle cx="584.1" cy="1253.7" r="4.35"/><circle cx="533.1" cy="1200.6" r="4.35"/><circle cx="633.9" cy="1234.1" r="4.35"/><circle cx="639.4" cy="1167.2" r="4.35"/><circle cx="568.5" cy="1209.4" r="4.35"/><circle cx="544.2" cy="1287.1" r="4.35"/><circle cx="602.4" cy="1171.4" r="4.35"/><circle cx="643.1" cy="1220.2" r="4.35"/><circle cx="517.4" cy="1253.7" r="4.35"/><circle cx="642.3" cy="1209.4" r="4.35"/><circle cx="599.8" cy="1200.6" r="4.35"/><circle cx="518.2" cy="1287.1" r="4.35"/><circle cx="550.1" cy="1220.2" r="4.35"/><circle cx="595.4" cy="1287.1" r="4.35"/><circle cx="584.0" cy="1253.7" r="4.35"/><circle cx="528.7" cy="1220.2" r="4.35"/><circle cx="640.3" cy="1287.1" r="4.35"/><circle cx="643.6" cy="1181.1" r="4.35"/><circle cx="601.5" cy="1159.8" r="4.35"/><circle cx="620.2" cy="1287.1" r="4.35"/><circle cx="590.5" cy="1167.2" r="4.35"/><circle cx="505.5" cy="1159.8" r="4.35"/><circle cx="542.8" cy="1209.4" r="4.35"/><circle cx="537.3" cy="1287.1" r="4.35"/><circle cx="546.5" cy="1253.7" r="4.35"/><circle cx="533.2" cy="1163.3" r="4.35"/><circle cx="581.8" cy="1287.1" r="4.35"/><circle cx="503.8" cy="1287.1" r="4.35"/><circle cx="594.5" cy="1193.2" r="4.35"/><circle cx="583.1" cy="1287.1" r="4.35"/><circle cx="549.2" cy="1287.1" r="4.35"/><circle cx="589.0" cy="1253.7" r="4.35"/><circle cx="550.4" cy="1171.4" r="4.35"/><circle cx="623.2" cy="1287.1" r="4.35"/><circle cx="567.2" cy="1253.7" r="4.35"/><circle cx="512.1" cy="1234.1" r="4.35"/><circle cx="507.0" cy="1142.6" r="4.35"/><circle cx="535.9" cy="1287.1" r="4.35"/><circle cx="606.7" cy="1234.1" r="4.35"/><circle cx="503.5" cy="1253.7" r="4.35"/><circle cx="558.6" cy="1287.1" r="4.35"/><circle cx="569.8" cy="1167.2" r="4.35"/><circle cx="624.6" cy="1171.4" r="4.35"/><circle cx="595.6" cy="1181.1" r="4.35"/><circle cx="581.7" cy="1234.1" r="4.35"/><circle cx="601.1" cy="1200.6" r="4.35"/><circle cx="566.2" cy="1186.8" r="4.35"/><circle cx="584.0" cy="1209.4" r="4.35"/><circle cx="642.0" cy="1200.6" r="4.35"/><circle cx="543.5" cy="1209.4" r="4.35"/><circle cx="629.6" cy="1287.1" r="4.35"/><circle cx="552.9" cy="1167.2" r="4.35"/><circle cx="586.4" cy="1234.1" r="4.35"/><circle cx="547.9" cy="1253.7" r="4.35"/><circle cx="549.3" cy="1220.2" r="4.35"/><circle cx="609.4" cy="1253.7" r="4.35"/><circle cx="519.5" cy="1234.1" r="4.35"/><circle cx="591.3" cy="1176.0" r="4.35"/><circle cx="623.9" cy="1234.1" r="4.35"/><circle cx="541.3" cy="1220.2" r="4.35"/><circle cx="591.1" cy="1209.4" r="4.35"/><circle cx="572.8" cy="1176.0" r="4.35"/><circle cx="576.2" cy="1234.1" r="4.35"/><circle cx="535.0" cy="1163.3" r="4.35"/><circle cx="574.8" cy="1234.1" r="4.35"/><circle cx="523.8" cy="1193.2" r="4.35"/><circle cx="570.2" cy="1287.1" r="4.35"/><circle cx="544.3" cy="1209.4" r="4.35"/><circle cx="622.8" cy="1253.7" r="4.35"/><circle cx="583.2" cy="1209.4" r="4.35"/><circle cx="567.3" cy="1193.2" r="4.35"/><circle cx="575.2" cy="1200.6" r="4.35"/><circle cx="608.2" cy="1193.2" r="4.35"/><circle cx="553.1" cy="1209.4" r="4.35"/><circle cx="506.0" cy="1209.4" r="4.35"/><circle cx="578.5" cy="1193.2" r="4.35"/><circle cx="635.8" cy="1220.2" r="4.35"/><circle cx="543.6" cy="1176.0" r="4.35"/><circle cx="598.2" cy="1220.2" r="4.35"/><circle cx="638.7" cy="1234.1" r="4.35"/><circle cx="554.4" cy="1253.7" r="4.35"/><circle cx="532.2" cy="1287.1" r="4.35"/><circle cx="545.1" cy="1234.1" r="4.35"/><circle cx="546.0" cy="1253.7" r="4.35"/><circle cx="525.3" cy="1209.4" r="4.35"/><circle cx="546.6" cy="1153.3" r="4.35"/><circle cx="533.9" cy="1186.8" r="4.35"/><circle cx="513.6" cy="1287.1" r="4.35"/><circle cx="563.7" cy="1167.2" r="4.35"/><circle cx="566.1" cy="1253.7" r="4.35"/><circle cx="581.3" cy="1200.6" r="4.35"/><circle cx="625.8" cy="1138.0" r="4.35"/><circle cx="638.0" cy="1287.1" r="4.35"/><circle cx="583.3" cy="1200.6" r="4.35"/><circle cx="547.1" cy="1287.1" r="4.35"/><circle cx="556.1" cy="1253.7" r="4.35"/><circle cx="635.0" cy="1234.1" r="4.35"/><circle cx="634.1" cy="1200.6" r="4.35"/><circle cx="567.1" cy="1129.9" r="4.35"/><circle cx="613.4" cy="1176.0" r="4.35"/><circle cx="558.1" cy="1181.1" r="4.35"/><circle cx="605.7" cy="1220.2" r="4.35"/><circle cx="573.6" cy="1150.4" r="4.35"/><circle cx="516.0" cy="1163.3" r="4.35"/><circle cx="627.2" cy="1220.2" r="4.35"/><circle cx="550.5" cy="1220.2" r="4.35"/><circle cx="595.7" cy="1287.1" r="4.35"/><circle cx="578.8" cy="1171.4" r="4.35"/><circle cx="547.8" cy="1193.2" r="4.35"/><circle cx="511.4" cy="1159.8" r="4.35"/><circle cx="610.7" cy="1220.2" r="4.35"/><circle cx="575.2" cy="1153.3" r="4.35"/><circle cx="603.6" cy="1181.1" r="4.35"/><circle cx="517.3" cy="1287.1" r="4.35"/><circle cx="542.4" cy="1287.1" r="4.35"/><circle cx="562.1" cy="1176.0" r="4.35"/><circle cx="511.3" cy="1287.1" r="4.35"/><circle cx="542.3" cy="1209.4" r="4.35"/><circle cx="642.2" cy="1253.7" r="4.35"/><circle cx="598.6" cy="1167.2" r="4.35"/><circle cx="556.3" cy="1209.4" r="4.35"/><circle cx="637.4" cy="1176.0" r="4.35"/><circle cx="522.6" cy="1220.2" r="4.35"/><circle cx="599.9" cy="1234.1" r="4.35"/><circle cx="545.6" cy="1186.8" r="4.35"/><circle cx="526.8" cy="1209.4" r="4.35"/><circle cx="505.9" cy="1234.1" r="4.35"/><circle cx="512.4" cy="1193.2" r="4.35"/><circle cx="509.0" cy="1287.1" r="4.35"/><circle cx="549.1" cy="1253.7" r="4.35"/><circle cx="505.8" cy="1287.1" r="4.35"/><circle cx="605.7" cy="1234.1" r="4.35"/><circle cx="570.7" cy="1253.7" r="4.35"/><circle cx="578.8" cy="1234.1" r="4.35"/><circle cx="628.7" cy="1193.2" r="4.35"/><circle cx="582.9" cy="1234.1" r="4.35"/><circle cx="639.2" cy="1193.2" r="4.35"/><circle cx="632.7" cy="1200.6" r="4.35"/><circle cx="599.0" cy="1253.7" r="4.35"/><circle cx="549.4" cy="1209.4" r="4.35"/><circle cx="504.5" cy="1220.2" r="4.35"/><circle cx="628.5" cy="1186.8" r="4.35"/><circle cx="641.2" cy="1287.1" r="4.35"/><circle cx="577.3" cy="1193.2" r="4.35"/><circle cx="516.6" cy="1287.1" r="4.35"/><circle cx="626.6" cy="1200.6" r="4.35"/><circle cx="605.7" cy="1193.2" r="4.35"/><circle cx="560.9" cy="1287.1" r="4.35"/><circle cx="617.2" cy="1234.1" r="4.35"/><circle cx="510.2" cy="1234.1" r="4.35"/><circle cx="549.1" cy="1253.7" r="4.35"/><circle cx="519.6" cy="1220.2" r="4.35"/><circle cx="519.5" cy="1287.1" r="4.35"/><circle cx="612.6" cy="1234.1" r="4.35"/><circle cx="524.9" cy="1209.4" r="4.35"/><circle cx="571.9" cy="1287.1" r="4.35"/><circle cx="641.1" cy="1253.7" r="4.35"/><circle cx="586.6" cy="1153.3" r="4.35"/><circle cx="509.2" cy="1163.3" r="4.35"/><circle cx="547.2" cy="1253.7" r="4.35"/><circle cx="543.8" cy="1200.6" r="4.35"/><circle cx="551.1" cy="1220.2" r="4.35"/><circle cx="615.5" cy="1200.6" r="4.35"/><circle cx="561.3" cy="1193.2" r="4.35"/><circle cx="505.4" cy="1234.1" r="4.35"/><circle cx="635.2" cy="1253.7" r="4.35"/><circle cx="588.5" cy="1176.0" r="4.35"/><circle cx="571.4" cy="1234.1" r="4.35"/><circle cx="603.7" cy="1287.1" r="4.35"/><circle cx="597.5" cy="1181.1" r="4.35"/><circle cx="552.6" cy="1159.8" r="4.35"/><circle cx="550.2" cy="1234.1" r="4.35"/><circle cx="634.7" cy="1220.2" r="4.35"/><circle cx="600.5" cy="1176.0" r="4.35"/><circle cx="571.6" cy="1234.1" r="4.35"/><circle cx="585.2" cy="1234.1" r="4.35"/><circle cx="541.2" cy="1200.6" r="4.35"/><circle cx="613.8" cy="1253.7" r="4.35"/><circle cx="513.7" cy="1220.2" r="4.35"/><circle cx="625.4" cy="1186.8" r="4.35"/><circle cx="568.5" cy="1287.1" r="4.35"/><circle cx="577.3" cy="1220.2" r="4.35"/><circle cx="545.2" cy="1287.1" r="4.35"/><circle cx="638.4" cy="1234.1" r="4.35"/><circle cx="589.1" cy="1234.1" r="4.35"/><circle cx="592.2" cy="1209.4" r="4.35"/><circle cx="545.3" cy="1287.1" r="4.35"/><circle cx="574.1" cy="1147.6" r="4.35"/><circle cx="546.7" cy="1171.4" r="4.35"/><circle cx="521.9" cy="1176.0" r="4.35"/><circle cx="538.3" cy="1253.7" r="4.35"/><circle cx="526.8" cy="1167.2" r="4.35"/><circle cx="615.3" cy="1171.4" r="4.35"/><circle cx="557.6" cy="1253.7" r="4.35"/><circle cx="553.0" cy="1156.4" r="4.35"/><circle cx="563.0" cy="1200.6" r="4.35"/><circle cx="527.4" cy="1220.2" r="4.35"/><circle cx="549.8" cy="1220.2" r="4.35"/><circle cx="524.3" cy="1287.1" r="4.35"/><circle cx="597.8" cy="1287.1" r="4.35"/><circle cx="531.2" cy="1253.7" r="4.35"/><circle cx="590.4" cy="1209.4" r="4.35"/><circle cx="516.6" cy="1287.1" r="4.35"/><circle cx="637.9" cy="1253.7" r="4.35"/><circle cx="562.9" cy="1186.8" r="4.35"/><circle cx="559.1" cy="1186.8" r="4.35"/><circle cx="597.2" cy="1159.8" r="4.35"/><circle cx="525.4" cy="1200.6" r="4.35"/><circle cx="561.9" cy="1253.7" r="4.35"/><circle cx="633.0" cy="1234.1" r="4.35"/><circle cx="534.2" cy="1220.2" r="4.35"/><circle cx="530.4" cy="1181.1" r="4.35"/><circle cx="573.4" cy="1234.1" r="4.35"/><circle cx="558.9" cy="1129.9" r="4.35"/><circle cx="543.8" cy="1200.6" r="4.35"/><circle cx="553.0" cy="1193.2" r="4.35"/><circle cx="578.6" cy="1287.1" r="4.35"/><circle cx="520.7" cy="1186.8" r="4.35"/><circle cx="555.3" cy="1287.1" r="4.35"/><circle cx="586.5" cy="1253.7" r="4.35"/><circle cx="556.1" cy="1253.7" r="4.35"/><circle cx="578.3" cy="1287.1" r="4.35"/><circle cx="639.7" cy="1287.1" r="4.35"/><circle cx="637.0" cy="1220.2" r="4.35"/><circle cx="577.2" cy="1220.2" r="4.35"/><circle cx="605.7" cy="1220.2" r="4.35"/><circle cx="552.2" cy="1253.7" r="4.35"/><circle cx="539.0" cy="1253.7" r="4.35"/><circle cx="621.2" cy="1138.0" r="4.35"/><circle cx="594.7" cy="1287.1" r="4.35"/><circle cx="642.7" cy="1176.0" r="4.35"/><circle cx="610.3" cy="1176.0" r="4.35"/><circle cx="507.0" cy="1234.1" r="4.35"/><circle cx="597.9" cy="1287.1" r="4.35"/><circle cx="624.4" cy="1234.1" r="4.35"/><circle cx="545.3" cy="1220.2" r="4.35"/><circle cx="641.5" cy="1200.6" r="4.35"/><circle cx="549.8" cy="1193.2" r="4.35"/><circle cx="511.0" cy="1181.1" r="4.35"/><circle cx="551.8" cy="1209.4" r="4.35"/><circle cx="612.6" cy="1200.6" r="4.35"/><circle cx="600.4" cy="1234.1" r="4.35"/><circle cx="612.4" cy="1193.2" r="4.35"/><circle cx="504.7" cy="1287.1" r="4.35"/><circle cx="561.3" cy="1220.2" r="4.35"/><circle cx="607.1" cy="1253.7" r="4.35"/><circle cx="605.2" cy="1287.1" r="4.35"/><circle cx="519.2" cy="1171.4" r="4.35"/><circle cx="552.6" cy="1176.0" r="4.35"/><circle cx="623.3" cy="1287.1" r="4.35"/><circle cx="572.4" cy="1200.6" r="4.35"/><circle cx="610.9" cy="1220.2" r="4.35"/><circle cx="577.5" cy="1287.1" r="4.35"/><circle cx="568.5" cy="1209.4" r="4.35"/><circle cx="600.4" cy="1253.7" r="4.35"/><circle cx="636.8" cy="1220.2" r="4.35"/><circle cx="574.5" cy="1287.1" r="4.35"/><circle cx="530.8" cy="1253.7" r="4.35"/><circle cx="573.1" cy="1209.4" r="4.35"/><circle cx="521.3" cy="1287.1" r="4.35"/><circle cx="620.3" cy="1234.1" r="4.35"/><circle cx="567.7" cy="1287.1" r="4.35"/><circle cx="517.5" cy="1186.8" r="4.35"/><circle cx="637.4" cy="1234.1" r="4.35"/><circle cx="533.4" cy="1220.2" r="4.35"/><circle cx="583.9" cy="1186.8" r="4.35"/><circle cx="614.9" cy="1186.8" r="4.35"/><circle cx="532.5" cy="1253.7" r="4.35"/><circle cx="639.7" cy="1253.7" r="4.35"/><circle cx="543.0" cy="1234.1" r="4.35"/><circle cx="634.8" cy="1220.2" r="4.35"/><circle cx="601.2" cy="1287.1" r="4.35"/><circle cx="519.5" cy="1186.8" r="4.35"/><circle cx="636.5" cy="1200.6" r="4.35"/><circle cx="590.6" cy="1140.2" r="4.35"/><circle cx="632.2" cy="1209.4" r="4.35"/><circle cx="590.5" cy="1193.2" r="4.35"/><circle cx="577.4" cy="1193.2" r="4.35"/><circle cx="533.9" cy="1181.1" r="4.35"/><circle cx="631.7" cy="1253.7" r="4.35"/><circle cx="574.8" cy="1186.8" r="4.35"/><circle cx="574.1" cy="1209.4" r="4.35"/><circle cx="539.5" cy="1220.2" r="4.35"/><circle cx="589.0" cy="1234.1" r="4.35"/><circle cx="610.5" cy="1220.2" r="4.35"/><circle cx="580.3" cy="1287.1" r="4.35"/><circle cx="581.9" cy="1209.4" r="4.35"/><circle cx="561.2" cy="1287.1" r="4.35"/><circle cx="628.4" cy="1287.1" r="4.35"/><circle cx="642.2" cy="1186.8" r="4.35"/><circle cx="599.9" cy="1193.2" r="4.35"/><circle cx="545.0" cy="1287.1" r="4.35"/><circle cx="549.4" cy="1200.6" r="4.35"/><circle cx="540.0" cy="1171.4" r="4.35"/><circle cx="626.4" cy="1287.1" r="4.35"/><circle cx="601.1" cy="1200.6" r="4.35"/><circle cx="632.7" cy="1253.7" r="4.35"/><circle cx="632.1" cy="1181.1" r="4.35"/><circle cx="506.7" cy="1234.1" r="4.35"/><circle cx="632.5" cy="1167.2" r="4.35"/><circle cx="637.5" cy="1253.7" r="4.35"/><circle cx="595.4" cy="1220.2" r="4.35"/><circle cx="545.7" cy="1186.8" r="4.35"/><circle cx="599.2" cy="1186.8" r="4.35"/><circle cx="514.5" cy="1209.4" r="4.35"/><circle cx="641.0" cy="1220.2" r="4.35"/><circle cx="563.6" cy="1287.1" r="4.35"/><circle cx="635.4" cy="1209.4" r="4.35"/><circle cx="509.5" cy="1287.1" r="4.35"/><circle cx="624.6" cy="1287.1" r="4.35"/><circle cx="529.6" cy="1209.4" r="4.35"/><circle cx="572.0" cy="1234.1" r="4.35"/><circle cx="504.9" cy="1186.8" r="4.35"/><circle cx="606.8" cy="1287.1" r="4.35"/><circle cx="636.6" cy="1287.1" r="4.35"/><circle cx="600.8" cy="1150.4" r="4.35"/><circle cx="573.4" cy="1220.2" r="4.35"/><circle cx="616.6" cy="1200.6" r="4.35"/><circle cx="522.9" cy="1220.2" r="4.35"/><circle cx="641.1" cy="1234.1" r="4.35"/><circle cx="637.9" cy="1176.0" r="4.35"/><circle cx="502.6" cy="1220.2" r="4.35"/><circle cx="528.7" cy="1220.2" r="4.35"/><circle cx="515.3" cy="1209.4" r="4.35"/><circle cx="517.0" cy="1159.8" r="4.35"/><circle cx="601.7" cy="1253.7" r="4.35"/><circle cx="537.5" cy="1287.1" r="4.35"/><circle cx="520.3" cy="1200.6" r="4.35"/><circle cx="611.3" cy="1181.1" r="4.35"/><circle cx="595.3" cy="1200.6" r="4.35"/><circle cx="551.1" cy="1200.6" r="4.35"/><circle cx="621.4" cy="1181.1" r="4.35"/><circle cx="641.7" cy="1253.7" r="4.35"/><circle cx="519.9" cy="1220.2" r="4.35"/><circle cx="534.1" cy="1287.1" r="4.35"/><circle cx="528.5" cy="1220.2" r="4.35"/><circle cx="527.5" cy="1200.6" r="4.35"/><circle cx="528.9" cy="1200.6" r="4.35"/><circle cx="617.0" cy="1176.0" r="4.35"/><circle cx="570.5" cy="1220.2" r="4.35"/><circle cx="637.4" cy="1181.1" r="4.35"/><circle cx="599.0" cy="1253.7" r="4.35"/><circle cx="566.8" cy="1186.8" r="4.35"/><circle cx="620.8" cy="1220.2" r="4.35"/><circle cx="581.3" cy="1193.2" r="4.35"/><circle cx="536.3" cy="1220.2" r="4.35"/><circle cx="594.8" cy="1186.8" r="4.35"/><circle cx="541.9" cy="1234.1" r="4.35"/><circle cx="509.9" cy="1209.4" r="4.35"/><circle cx="594.8" cy="1287.1" r="4.35"/><circle cx="569.6" cy="1253.7" r="4.35"/><circle cx="539.5" cy="1209.4" r="4.35"/><circle cx="505.7" cy="1142.6" r="4.35"/><circle cx="504.9" cy="1181.1" r="4.35"/><circle cx="568.1" cy="1209.4" r="4.35"/><circle cx="571.8" cy="1193.2" r="4.35"/><circle cx="627.2" cy="1171.4" r="4.35"/><circle cx="515.0" cy="1287.1" r="4.35"/><circle cx="561.6" cy="1287.1" r="4.35"/><circle cx="636.5" cy="1234.1" r="4.35"/><circle cx="609.6" cy="1150.4" r="4.35"/><circle cx="512.8" cy="1186.8" r="4.35"/><circle cx="555.0" cy="1287.1" r="4.35"/><circle cx="572.1" cy="1200.6" r="4.35"/><circle cx="573.1" cy="1209.4" r="4.35"/><circle cx="557.9" cy="1147.6" r="4.35"/><circle cx="523.8" cy="1167.2" r="4.35"/><circle cx="518.6" cy="1253.7" r="4.35"/><circle cx="607.8" cy="1220.2" r="4.35"/><circle cx="562.2" cy="1287.1" r="4.35"/><circle cx="533.5" cy="1171.4" r="4.35"/><circle cx="625.0" cy="1193.2" r="4.35"/><circle cx="569.8" cy="1193.2" r="4.35"/><circle cx="614.7" cy="1220.2" r="4.35"/><circle cx="573.4" cy="1209.4" r="4.35"/><circle cx="551.7" cy="1253.7" r="4.35"/><circle cx="525.8" cy="1253.7" r="4.35"/><circle cx="537.2" cy="1220.2" r="4.35"/><circle cx="553.6" cy="1156.4" r="4.35"/><circle cx="636.8" cy="1200.6" r="4.35"/><circle cx="561.3" cy="1287.1" r="4.35"/><circle cx="642.1" cy="1234.1" r="4.35"/><circle cx="568.1" cy="1287.1" r="4.35"/><circle cx="517.0" cy="1234.1" r="4.35"/><circle cx="574.8" cy="1209.4" r="4.35"/><circle cx="543.0" cy="1140.2" r="4.35"/><circle cx="533.7" cy="1209.4" r="4.35"/><circle cx="540.9" cy="1253.7" r="4.35"/><circle cx="507.0" cy="1234.1" r="4.35"/><circle cx="583.4" cy="1167.2" r="4.35"/><circle cx="523.1" cy="1176.0" r="4.35"/><circle cx="535.2" cy="1287.1" r="4.35"/><circle cx="593.6" cy="1209.4" r="4.35"/><circle cx="593.8" cy="1287.1" r="4.35"/><circle cx="634.2" cy="1253.7" r="4.35"/><circle cx="621.2" cy="1287.1" r="4.35"/><circle cx="559.4" cy="1209.4" r="4.35"/><circle cx="505.8" cy="1200.6" r="4.35"/><circle cx="543.8" cy="1234.1" r="4.35"/><circle cx="623.5" cy="1186.8" r="4.35"/><circle cx="635.3" cy="1234.1" r="4.35"/><circle cx="544.0" cy="1156.4" r="4.35"/><circle cx="505.4" cy="1234.1" r="4.35"/><circle cx="614.0" cy="1200.6" r="4.35"/><circle cx="512.1" cy="1220.2" r="4.35"/><circle cx="541.2" cy="1193.2" r="4.35"/><circle cx="555.1" cy="1220.2" r="4.35"/><circle cx="575.8" cy="1253.7" r="4.35"/><circle cx="511.7" cy="1220.2" r="4.35"/><circle cx="582.0" cy="1253.7" r="4.35"/><circle cx="585.7" cy="1220.2" r="4.35"/><circle cx="522.8" cy="1287.1" r="4.35"/><circle cx="551.0" cy="1287.1" r="4.35"/><circle cx="509.5" cy="1220.2" r="4.35"/><circle cx="614.6" cy="1220.2" r="4.35"/><circle cx="619.6" cy="1253.7" r="4.35"/><circle cx="626.6" cy="1234.1" r="4.35"/><circle cx="538.2" cy="1181.1" r="4.35"/><circle cx="543.0" cy="1287.1" r="4.35"/><circle cx="585.0" cy="1193.2" r="4.35"/><circle cx="555.7" cy="1171.4" r="4.35"/><circle cx="584.8" cy="1287.1" r="4.35"/><circle cx="539.4" cy="1234.1" r="4.35"/><circle cx="595.3" cy="1181.1" r="4.35"/><circle cx="584.7" cy="1181.1" r="4.35"/><circle cx="530.5" cy="1234.1" r="4.35"/><circle cx="610.9" cy="1253.7" r="4.35"/><circle cx="553.4" cy="1253.7" r="4.35"/><circle cx="612.2" cy="1186.8" r="4.35"/><circle cx="591.1" cy="1186.8" r="4.35"/><circle cx="620.2" cy="1209.4" r="4.35"/><circle cx="551.8" cy="1220.2" r="4.35"/><circle cx="597.1" cy="1234.1" r="4.35"/><circle cx="559.6" cy="1253.7" r="4.35"/><circle cx="534.2" cy="1167.2" r="4.35"/><circle cx="572.0" cy="1171.4" r="4.35"/><circle cx="539.6" cy="1156.4" r="4.35"/><circle cx="601.5" cy="1253.7" r="4.35"/><circle cx="620.6" cy="1253.7" r="4.35"/><circle cx="641.7" cy="1181.1" r="4.35"/><circle cx="615.8" cy="1209.4" r="4.35"/><circle cx="521.2" cy="1234.1" r="4.35"/><circle cx="503.3" cy="1253.7" r="4.35"/><circle cx="582.0" cy="1253.7" r="4.35"/><circle cx="585.4" cy="1209.4" r="4.35"/><circle cx="538.0" cy="1193.2" r="4.35"/><circle cx="598.3" cy="1220.2" r="4.35"/><circle cx="643.0" cy="1287.1" r="4.35"/><circle cx="636.3" cy="1200.6" r="4.35"/><circle cx="518.4" cy="1287.1" r="4.35"/><circle cx="520.2" cy="1287.1" r="4.35"/><circle cx="579.2" cy="1209.4" r="4.35"/><circle cx="627.8" cy="1220.2" r="4.35"/><circle cx="589.6" cy="1234.1" r="4.35"/><circle cx="538.0" cy="1171.4" r="4.35"/><circle cx="539.2" cy="1287.1" r="4.35"/><circle cx="525.6" cy="1209.4" r="4.35"/><circle cx="596.7" cy="1176.0" r="4.35"/><circle cx="510.8" cy="1200.6" r="4.35"/><circle cx="632.4" cy="1220.2" r="4.35"/><circle cx="633.5" cy="1253.7" r="4.35"/><circle cx="563.9" cy="1253.7" r="4.35"/><circle cx="542.2" cy="1193.2" r="4.35"/><circle cx="605.2" cy="1209.4" r="4.35"/><circle cx="529.1" cy="1200.6" r="4.35"/><circle cx="535.8" cy="1209.4" r="4.35"/><circle cx="502.7" cy="1209.4" r="4.35"/><circle cx="642.9" cy="1234.1" r="4.35"/><circle cx="553.4" cy="1176.0" r="4.35"/><circle cx="577.7" cy="1176.0" r="4.35"/><circle cx="577.9" cy="1287.1" r="4.35"/><circle cx="579.6" cy="1163.3" r="4.35"/><circle cx="589.9" cy="1186.8" r="4.35"/><circle cx="577.5" cy="1176.0" r="4.35"/><circle cx="635.5" cy="1234.1" r="4.35"/><circle cx="635.8" cy="1234.1" r="4.35"/><circle cx="617.5" cy="1200.6" r="4.35"/><circle cx="583.0" cy="1176.0" r="4.35"/><circle cx="534.6" cy="1181.1" r="4.35"/><circle cx="536.8" cy="1193.2" r="4.35"/><circle cx="510.2" cy="1287.1" r="4.35"/><circle cx="598.3" cy="1253.7" r="4.35"/><circle cx="580.8" cy="1253.7" r="4.35"/><circle cx="616.9" cy="1253.7" r="4.35"/><circle cx="535.3" cy="1253.7" r="4.35"/><circle cx="585.4" cy="1253.7" r="4.35"/><circle cx="637.4" cy="1287.1" r="4.35"/><circle cx="590.9" cy="1200.6" r="4.35"/><circle cx="640.3" cy="1287.1" r="4.35"/><circle cx="593.3" cy="1193.2" r="4.35"/><circle cx="613.9" cy="1234.1" r="4.35"/><circle cx="560.3" cy="1193.2" r="4.35"/><circle cx="547.3" cy="1186.8" r="4.35"/><circle cx="571.2" cy="1287.1" r="4.35"/><circle cx="633.0" cy="1287.1" r="4.35"/><circle cx="557.1" cy="1200.6" r="4.35"/><circle cx="609.4" cy="1253.7" r="4.35"/><circle cx="527.1" cy="1209.4" r="4.35"/><circle cx="548.6" cy="1176.0" r="4.35"/><circle cx="602.2" cy="1234.1" r="4.35"/><circle cx="633.5" cy="1209.4" r="4.35"/><circle cx="615.3" cy="1220.2" r="4.35"/><circle cx="557.5" cy="1287.1" r="4.35"/><circle cx="534.3" cy="1145.0" r="4.35"/><circle cx="547.6" cy="1253.7" r="4.35"/><circle cx="539.3" cy="1181.1" r="4.35"/><circle cx="547.3" cy="1186.8" r="4.35"/><circle cx="630.0" cy="1287.1" r="4.35"/><circle cx="630.2" cy="1234.1" r="4.35"/><circle cx="543.3" cy="1220.2" r="4.35"/><circle cx="623.8" cy="1287.1" r="4.35"/><circle cx="582.2" cy="1234.1" r="4.35"/><circle cx="612.9" cy="1287.1" r="4.35"/><circle cx="546.1" cy="1220.2" r="4.35"/><circle cx="535.6" cy="1209.4" r="4.35"/><circle cx="552.8" cy="1234.1" r="4.35"/><circle cx="566.5" cy="1287.1" r="4.35"/><circle cx="518.4" cy="1234.1" r="4.35"/><circle cx="603.0" cy="1186.8" r="4.35"/><circle cx="641.4" cy="1209.4" r="4.35"/><circle cx="626.4" cy="1171.4" r="4.35"/><circle cx="591.0" cy="1287.1" r="4.35"/><circle cx="586.8" cy="1253.7" r="4.35"/><circle cx="633.7" cy="1220.2" r="4.35"/><circle cx="631.9" cy="1200.6" r="4.35"/><circle cx="617.7" cy="1287.1" r="4.35"/><circle cx="591.2" cy="1253.7" r="4.35"/><circle cx="627.7" cy="1220.2" r="4.35"/><circle cx="625.2" cy="1287.1" r="4.35"/><circle cx="535.5" cy="1220.2" r="4.35"/><circle cx="642.2" cy="1253.7" r="4.35"/><circle cx="527.8" cy="1171.4" r="4.35"/><circle cx="517.0" cy="1253.7" r="4.35"/><circle cx="519.3" cy="1253.7" r="4.35"/><circle cx="628.5" cy="1150.4" r="4.35"/><circle cx="611.9" cy="1181.1" r="4.35"/><circle cx="586.0" cy="1186.8" r="4.35"/><circle cx="565.4" cy="1209.4" r="4.35"/><circle cx="554.0" cy="1234.1" r="4.35"/><circle cx="573.6" cy="1287.1" r="4.35"/><circle cx="547.4" cy="1287.1" r="4.35"/><circle cx="564.0" cy="1193.2" r="4.35"/><circle cx="518.3" cy="1287.1" r="4.35"/><circle cx="554.7" cy="1287.1" r="4.35"/><circle cx="605.7" cy="1176.0" r="4.35"/><circle cx="626.2" cy="1200.6" r="4.35"/><circle cx="507.0" cy="1253.7" r="4.35"/><circle cx="623.2" cy="1287.1" r="4.35"/><circle cx="597.5" cy="1287.1" r="4.35"/><circle cx="505.9" cy="1171.4" r="4.35"/><circle cx="608.9" cy="1287.1" r="4.35"/><circle cx="604.2" cy="1253.7" r="4.35"/><circle cx="579.1" cy="1181.1" r="4.35"/><circle cx="607.8" cy="1287.1" r="4.35"/><circle cx="552.0" cy="1234.1" r="4.35"/><circle cx="643.4" cy="1287.1" r="4.35"/><circle cx="644.1" cy="1193.2" r="4.35"/><circle cx="626.3" cy="1234.1" r="4.35"/><circle cx="558.0" cy="1186.8" r="4.35"/><circle cx="607.4" cy="1171.4" r="4.35"/><circle cx="564.6" cy="1186.8" r="4.35"/><circle cx="577.3" cy="1234.1" r="4.35"/><circle cx="530.4" cy="1200.6" r="4.35"/><circle cx="535.8" cy="1220.2" r="4.35"/><circle cx="519.0" cy="1253.7" r="4.35"/><circle cx="521.7" cy="1220.2" r="4.35"/><circle cx="608.5" cy="1181.1" r="4.35"/><circle cx="555.9" cy="1186.8" r="4.35"/><circle cx="539.5" cy="1287.1" r="4.35"/><circle cx="515.1" cy="1287.1" r="4.35"/><circle cx="607.1" cy="1209.4" r="4.35"/><circle cx="569.1" cy="1287.1" r="4.35"/><circle cx="592.4" cy="1287.1" r="4.35"/><circle cx="611.3" cy="1193.2" r="4.35"/><circle cx="531.7" cy="1220.2" r="4.35"/><circle cx="514.6" cy="1253.7" r="4.35"/><circle cx="627.0" cy="1220.2" r="4.35"/><circle cx="520.0" cy="1253.7" r="4.35"/><circle cx="615.7" cy="1200.6" r="4.35"/><circle cx="567.9" cy="1209.4" r="4.35"/><circle cx="597.2" cy="1200.6" r="4.35"/><circle cx="571.6" cy="1186.8" r="4.35"/><circle cx="611.6" cy="1200.6" r="4.35"/><circle cx="642.3" cy="1159.8" r="4.35"/><circle cx="587.9" cy="1287.1" r="4.35"/><circle cx="555.4" cy="1220.2" r="4.35"/><circle cx="593.2" cy="1253.7" r="4.35"/><circle cx="510.0" cy="1253.7" r="4.35"/><circle cx="538.7" cy="1209.4" r="4.35"/><circle cx="511.7" cy="1200.6" r="4.35"/><circle cx="548.3" cy="1156.4" r="4.35"/><circle cx="569.1" cy="1153.3" r="4.35"/><circle cx="518.5" cy="1153.3" r="4.35"/><circle cx="525.2" cy="1234.1" r="4.35"/><circle cx="569.7" cy="1209.4" r="4.35"/><circle cx="624.0" cy="1234.1" r="4.35"/><circle cx="630.7" cy="1209.4" r="4.35"/><circle cx="582.8" cy="1234.1" r="4.35"/><circle cx="619.0" cy="1287.1" r="4.35"/><circle cx="618.7" cy="1287.1" r="4.35"/><circle cx="588.5" cy="1287.1" r="4.35"/><circle cx="585.7" cy="1253.7" r="4.35"/><circle cx="588.1" cy="1209.4" r="4.35"/><circle cx="506.6" cy="1287.1" r="4.35"/><circle cx="513.7" cy="1234.1" r="4.35"/><circle cx="575.5" cy="1209.4" r="4.35"/><circle cx="604.0" cy="1220.2" r="4.35"/><circle cx="625.9" cy="1234.1" r="4.35"/><circle cx="559.5" cy="1287.1" r="4.35"/><circle cx="567.1" cy="1287.1" r="4.35"/><circle cx="529.9" cy="1220.2" r="4.35"/><circle cx="523.6" cy="1171.4" r="4.35"/><circle cx="593.5" cy="1193.2" r="4.35"/><circle cx="600.8" cy="1176.0" r="4.35"/><circle cx="507.5" cy="1193.2" r="4.35"/><circle cx="603.6" cy="1200.6" r="4.35"/><circle cx="610.2" cy="1200.6" r="4.35"/><circle cx="535.0" cy="1200.6" r="4.35"/><circle cx="537.2" cy="1200.6" r="4.35"/><circle cx="524.7" cy="1287.1" r="4.35"/><circle cx="549.0" cy="1193.2" r="4.35"/><circle cx="552.7" cy="1200.6" r="4.35"/><circle cx="561.2" cy="1147.6" r="4.35"/><circle cx="602.6" cy="1234.1" r="4.35"/><circle cx="578.7" cy="1253.7" r="4.35"/><circle cx="569.7" cy="1193.2" r="4.35"/><circle cx="624.6" cy="1253.7" r="4.35"/><circle cx="607.9" cy="1253.7" r="4.35"/><circle cx="558.5" cy="1287.1" r="4.35"/><circle cx="505.9" cy="1287.1" r="4.35"/><circle cx="587.7" cy="1159.8" r="4.35"/><circle cx="509.3" cy="1253.7" r="4.35"/><circle cx="539.6" cy="1253.7" r="4.35"/><circle cx="590.2" cy="1253.7" r="4.35"/><circle cx="582.2" cy="1156.4" r="4.35"/><circle cx="626.6" cy="1253.7" r="4.35"/><circle cx="555.7" cy="1287.1" r="4.35"/><circle cx="599.6" cy="1138.0" r="4.35"/><circle cx="521.8" cy="1220.2" r="4.35"/><circle cx="600.3" cy="1234.1" r="4.35"/><circle cx="562.9" cy="1253.7" r="4.35"/><circle cx="546.6" cy="1200.6" r="4.35"/><circle cx="532.5" cy="1171.4" r="4.35"/><circle cx="640.6" cy="1234.1" r="4.35"/><circle cx="526.1" cy="1253.7" r="4.35"/><circle cx="627.8" cy="1163.3" r="4.35"/><circle cx="585.3" cy="1181.1" r="4.35"/><circle cx="571.5" cy="1234.1" r="4.35"/><circle cx="519.7" cy="1234.1" r="4.35"/><circle cx="561.7" cy="1209.4" r="4.35"/><circle cx="620.1" cy="1176.0" r="4.35"/><circle cx="569.1" cy="1287.1" r="4.35"/><circle cx="637.7" cy="1193.2" r="4.35"/><circle cx="598.6" cy="1287.1" r="4.35"/><circle cx="601.3" cy="1163.3" r="4.35"/><circle cx="504.0" cy="1287.1" r="4.35"/><circle cx="505.7" cy="1200.6" r="4.35"/><circle cx="538.5" cy="1234.1" r="4.35"/><circle cx="534.1" cy="1167.2" r="4.35"/><circle cx="510.5" cy="1193.2" r="4.35"/><circle cx="586.3" cy="1181.1" r="4.35"/><circle cx="576.3" cy="1253.7" r="4.35"/><circle cx="564.3" cy="1181.1" r="4.35"/><circle cx="538.4" cy="1234.1" r="4.35"/><circle cx="518.0" cy="1200.6" r="4.35"/><circle cx="556.4" cy="1220.2" r="4.35"/><circle cx="571.7" cy="1287.1" r="4.35"/><circle cx="638.1" cy="1193.2" r="4.35"/><circle cx="586.4" cy="1287.1" r="4.35"/><circle cx="633.1" cy="1200.6" r="4.35"/><circle cx="580.9" cy="1253.7" r="4.35"/><circle cx="569.7" cy="1186.8" r="4.35"/><circle cx="630.8" cy="1287.1" r="4.35"/><circle cx="540.7" cy="1153.3" r="4.35"/><circle cx="596.1" cy="1150.4" r="4.35"/><circle cx="510.6" cy="1193.2" r="4.35"/><circle cx="554.1" cy="1287.1" r="4.35"/><circle cx="535.6" cy="1234.1" r="4.35"/><circle cx="512.0" cy="1287.1" r="4.35"/><circle cx="560.2" cy="1287.1" r="4.35"/><circle cx="569.8" cy="1186.8" r="4.35"/><circle cx="512.6" cy="1253.7" r="4.35"/><circle cx="529.4" cy="1193.2" r="4.35"/><circle cx="614.1" cy="1181.1" r="4.35"/><circle cx="561.6" cy="1181.1" r="4.35"/><circle cx="543.1" cy="1253.7" r="4.35"/><circle cx="622.1" cy="1253.7" r="4.35"/><circle cx="615.5" cy="1253.7" r="4.35"/><circle cx="551.2" cy="1200.6" r="4.35"/><circle cx="566.6" cy="1287.1" r="4.35"/><circle cx="574.0" cy="1209.4" r="4.35"/><circle cx="547.5" cy="1209.4" r="4.35"/><circle cx="601.8" cy="1171.4" r="4.35"/><circle cx="573.2" cy="1253.7" r="4.35"/><circle cx="579.7" cy="1234.1" r="4.35"/><circle cx="637.5" cy="1234.1" r="4.35"/><circle cx="543.5" cy="1156.4" r="4.35"/><circle cx="624.9" cy="1159.8" r="4.35"/><circle cx="538.5" cy="1287.1" r="4.35"/><circle cx="616.1" cy="1209.4" r="4.35"/><circle cx="513.1" cy="1253.7" r="4.35"/><circle cx="625.7" cy="1200.6" r="4.35"/><circle cx="579.4" cy="1193.2" r="4.35"/><circle cx="564.5" cy="1253.7" r="4.35"/><circle cx="566.2" cy="1287.1" r="4.35"/><circle cx="544.1" cy="1287.1" r="4.35"/><circle cx="571.0" cy="1200.6" r="4.35"/><circle cx="618.2" cy="1200.6" r="4.35"/><circle cx="604.5" cy="1163.3" r="4.35"/><circle cx="535.9" cy="1209.4" r="4.35"/><circle cx="596.2" cy="1234.1" r="4.35"/><circle cx="603.6" cy="1181.1" r="4.35"/><circle cx="629.2" cy="1145.0" r="4.35"/><circle cx="642.4" cy="1200.6" r="4.35"/><circle cx="576.7" cy="1220.2" r="4.35"/><circle cx="565.1" cy="1253.7" r="4.35"/><circle cx="566.9" cy="1220.2" r="4.35"/><circle cx="547.4" cy="1200.6" r="4.35"/><circle cx="563.8" cy="1253.7" r="4.35"/><circle cx="589.0" cy="1167.2" r="4.35"/><circle cx="601.1" cy="1186.8" r="4.35"/><circle cx="553.1" cy="1220.2" r="4.35"/><circle cx="526.2" cy="1287.1" r="4.35"/><circle cx="545.3" cy="1253.7" r="4.35"/><circle cx="535.9" cy="1193.2" r="4.35"/><circle cx="516.3" cy="1209.4" r="4.35"/><circle cx="644.2" cy="1287.1" r="4.35"/><circle cx="540.7" cy="1209.4" r="4.35"/><circle cx="616.0" cy="1209.4" r="4.35"/><circle cx="569.0" cy="1186.8" r="4.35"/><circle cx="573.0" cy="1209.4" r="4.35"/><circle cx="567.1" cy="1220.2" r="4.35"/><circle cx="547.0" cy="1167.2" r="4.35"/><circle cx="541.2" cy="1159.8" r="4.35"/><circle cx="585.0" cy="1209.4" r="4.35"/><circle cx="538.7" cy="1220.2" r="4.35"/><circle cx="589.4" cy="1287.1" r="4.35"/><circle cx="559.7" cy="1186.8" r="4.35"/><circle cx="589.2" cy="1200.6" r="4.35"/><circle cx="610.8" cy="1193.2" r="4.35"/><circle cx="521.7" cy="1234.1" r="4.35"/><circle cx="597.8" cy="1181.1" r="4.35"/><circle cx="553.4" cy="1287.1" r="4.35"/><circle cx="556.5" cy="1176.0" r="4.35"/><circle cx="511.6" cy="1287.1" r="4.35"/><circle cx="639.4" cy="1287.1" r="4.35"/><circle cx="622.6" cy="1209.4" r="4.35"/><circle cx="612.7" cy="1287.1" r="4.35"/><circle cx="622.6" cy="1153.3" r="4.35"/><circle cx="512.7" cy="1234.1" r="4.35"/><circle cx="514.1" cy="1220.2" r="4.35"/><circle cx="507.5" cy="1253.7" r="4.35"/><circle cx="513.2" cy="1176.0" r="4.35"/><circle cx="551.3" cy="1287.1" r="4.35"/><circle cx="554.2" cy="1234.1" r="4.35"/><circle cx="555.0" cy="1209.4" r="4.35"/><circle cx="577.3" cy="1220.2" r="4.35"/><circle cx="550.1" cy="1220.2" r="4.35"/><circle cx="532.5" cy="1209.4" r="4.35"/><circle cx="578.4" cy="1234.1" r="4.35"/><circle cx="614.5" cy="1145.0" r="4.35"/><circle cx="636.6" cy="1209.4" r="4.35"/><circle cx="572.6" cy="1253.7" r="4.35"/><circle cx="560.2" cy="1287.1" r="4.35"/><circle cx="606.3" cy="1287.1" r="4.35"/><circle cx="618.8" cy="1253.7" r="4.35"/><circle cx="579.8" cy="1181.1" r="4.35"/><circle cx="595.8" cy="1171.4" r="4.35"/><circle cx="626.4" cy="1163.3" r="4.35"/><circle cx="605.7" cy="1200.6" r="4.35"/><circle cx="637.0" cy="1209.4" r="4.35"/><circle cx="514.7" cy="1171.4" r="4.35"/><circle cx="597.1" cy="1253.7" r="4.35"/><circle cx="508.4" cy="1209.4" r="4.35"/><circle cx="502.3" cy="1065.8" r="4.35"/><circle cx="501.8" cy="1082.0" r="4.35"/><circle cx="532.7" cy="1087.1" r="4.35"/><circle cx="549.0" cy="1097.8" r="4.35"/><circle cx="563.0" cy="1099.0" r="4.35"/><circle cx="568.6" cy="1115.5" r="4.35"/><circle cx="576.0" cy="1120.0" r="4.35"/><circle cx="593.5" cy="1115.6" r="4.35"/><circle cx="609.7" cy="1113.8" r="4.35"/><circle cx="637.3" cy="1115.0" r="4.35"/><circle cx="636.3" cy="1119.5" r="4.35"/><circle cx="618.8" cy="1125.0" r="4.35"/><circle cx="514.3" cy="1131.0" r="4.35"/><circle cx="526.5" cy="1135.7" r="4.35"/><circle cx="559.0" cy="1134.0" r="4.35"/><circle cx="569.7" cy="1140.8" r="4.35"/><circle cx="586.4" cy="1140.0" r="4.35"/><circle cx="595.2" cy="1145.3" r="4.35"/><circle cx="590.4" cy="1135.0" r="4.35"/><circle cx="616.2" cy="1135.0" r="4.35"/><circle cx="630.4" cy="1138.0" r="4.35"/><circle cx="646.4" cy="1135.8" r="4.35"/><circle cx="501.0" cy="1143.3" r="4.35"/><circle cx="515.0" cy="1146.0" r="4.35"/><circle cx="553.2" cy="1149.7" r="4.35"/><circle cx="600.0" cy="1147.0" r="4.35"/><circle cx="629.5" cy="1146.5" r="4.35"/><circle cx="606.0" cy="1153.0" r="4.35"/></g>
<circle cx="632.5" cy="1193.4" r="7.0" fill="#1DB6BF" stroke="#000" stroke-width="1.3"/>
<rect x="840.8" y="1131.8" width="182.5" height="155.3" fill="none" stroke="#000" stroke-width="1.5"/>
<line x1="932.4" y1="1131.8" x2="932.4" y2="1001.8" stroke="#000" stroke-width="1.5" />
<line x1="932.4" y1="1287.1" x2="932.4" y2="1287.1" stroke="#000" stroke-width="1.5" />
<line x1="840.8" y1="1181.1" x2="1023.3" y2="1181.1" stroke="#000" stroke-width="3" />
<g fill="#808080" stroke="#000" stroke-width="1.7"><circle cx="874.4" cy="1147.6" r="4.35"/><circle cx="903.5" cy="1287.1" r="4.35"/><circle cx="872.0" cy="1220.2" r="4.35"/><circle cx="949.1" cy="1287.1" r="4.35"/><circle cx="923.2" cy="1111.6" r="4.35"/><circle cx="876.0" cy="1099.3" r="4.35"/><circle cx="998.0" cy="1287.1" r="4.35"/><circle cx="867.5" cy="1153.3" r="4.35"/><circle cx="931.9" cy="1253.7" r="4.35"/><circle cx="977.0" cy="1186.8" r="4.35"/><circle cx="993.0" cy="1156.4" r="4.35"/><circle cx="971.7" cy="1253.7" r="4.35"/><circle cx="871.8" cy="1097.4" r="4.35"/><circle cx="946.4" cy="1287.1" r="4.35"/><circle cx="878.3" cy="1138.0" r="4.35"/><circle cx="941.8" cy="1171.4" r="4.35"/><circle cx="993.3" cy="1153.3" r="4.35"/><circle cx="882.9" cy="1287.1" r="4.35"/><circle cx="893.4" cy="1153.3" r="4.35"/><circle cx="936.0" cy="1253.7" r="4.35"/><circle cx="869.2" cy="1209.4" r="4.35"/><circle cx="867.5" cy="1167.2" r="4.35"/><circle cx="886.5" cy="1287.1" r="4.35"/><circle cx="954.5" cy="1287.1" r="4.35"/><circle cx="948.7" cy="1220.2" r="4.35"/><circle cx="964.7" cy="1287.1" r="4.35"/><circle cx="965.5" cy="1097.4" r="4.35"/><circle cx="904.2" cy="1118.4" r="4.35"/><circle cx="923.5" cy="1167.2" r="4.35"/><circle cx="992.9" cy="1209.4" r="4.35"/><circle cx="974.7" cy="1287.1" r="4.35"/><circle cx="968.8" cy="1253.7" r="4.35"/><circle cx="898.2" cy="1181.1" r="4.35"/><circle cx="865.9" cy="1124.6" r="4.35"/><circle cx="872.8" cy="1171.4" r="4.35"/><circle cx="869.4" cy="1193.2" r="4.35"/><circle cx="997.6" cy="1104.5" r="4.35"/><circle cx="869.2" cy="1109.1" r="4.35"/><circle cx="984.5" cy="1287.1" r="4.35"/><circle cx="986.7" cy="1287.1" r="4.35"/><circle cx="914.8" cy="1181.1" r="4.35"/><circle cx="966.1" cy="1234.1" r="4.35"/><circle cx="973.1" cy="1124.6" r="4.35"/><circle cx="978.5" cy="1114.2" r="4.35"/><circle cx="895.4" cy="1167.2" r="4.35"/><circle cx="871.1" cy="1105.6" r="4.35"/><circle cx="885.1" cy="1209.4" r="4.35"/><circle cx="984.2" cy="1253.7" r="4.35"/><circle cx="921.3" cy="1106.8" r="4.35"/><circle cx="975.8" cy="1253.7" r="4.35"/><circle cx="981.5" cy="1138.0" r="4.35"/><circle cx="962.0" cy="1253.7" r="4.35"/><circle cx="979.8" cy="1126.3" r="4.35"/><circle cx="995.2" cy="1159.8" r="4.35"/><circle cx="981.7" cy="1171.4" r="4.35"/><circle cx="876.1" cy="1176.0" r="4.35"/><circle cx="941.4" cy="1287.1" r="4.35"/><circle cx="898.1" cy="1156.4" r="4.35"/><circle cx="918.1" cy="1156.4" r="4.35"/><circle cx="896.6" cy="1186.8" r="4.35"/><circle cx="935.9" cy="1234.1" r="4.35"/><circle cx="993.4" cy="1220.2" r="4.35"/><circle cx="953.6" cy="1142.6" r="4.35"/><circle cx="873.8" cy="1220.2" r="4.35"/><circle cx="922.3" cy="1111.6" r="4.35"/><circle cx="947.7" cy="1111.6" r="4.35"/><circle cx="956.3" cy="1253.7" r="4.35"/><circle cx="930.8" cy="1138.0" r="4.35"/><circle cx="921.2" cy="1112.9" r="4.35"/><circle cx="958.5" cy="1176.0" r="4.35"/><circle cx="973.6" cy="1167.2" r="4.35"/><circle cx="926.7" cy="1147.6" r="4.35"/><circle cx="955.1" cy="1287.1" r="4.35"/><circle cx="905.9" cy="1287.1" r="4.35"/><circle cx="872.1" cy="1186.8" r="4.35"/><circle cx="957.5" cy="1186.8" r="4.35"/><circle cx="920.2" cy="1150.4" r="4.35"/><circle cx="884.9" cy="1142.6" r="4.35"/><circle cx="973.4" cy="1121.4" r="4.35"/><circle cx="950.2" cy="1126.3" r="4.35"/><circle cx="939.5" cy="1171.4" r="4.35"/><circle cx="874.2" cy="1103.4" r="4.35"/><circle cx="884.7" cy="1117.0" r="4.35"/><circle cx="943.0" cy="1253.7" r="4.35"/><circle cx="866.0" cy="1133.8" r="4.35"/><circle cx="884.9" cy="1103.4" r="4.35"/><circle cx="902.4" cy="1126.3" r="4.35"/><circle cx="896.7" cy="1220.2" r="4.35"/><circle cx="900.2" cy="1104.5" r="4.35"/><circle cx="917.0" cy="1287.1" r="4.35"/><circle cx="875.5" cy="1253.7" r="4.35"/><circle cx="869.1" cy="1253.7" r="4.35"/><circle cx="892.8" cy="1145.0" r="4.35"/><circle cx="912.8" cy="1167.2" r="4.35"/><circle cx="937.9" cy="1181.1" r="4.35"/><circle cx="958.4" cy="1156.4" r="4.35"/><circle cx="924.5" cy="1147.6" r="4.35"/><circle cx="903.9" cy="1234.1" r="4.35"/><circle cx="977.3" cy="1096.5" r="4.35"/><circle cx="969.3" cy="1287.1" r="4.35"/><circle cx="962.8" cy="1186.8" r="4.35"/><circle cx="931.2" cy="1109.1" r="4.35"/><circle cx="870.6" cy="1253.7" r="4.35"/><circle cx="991.8" cy="1096.5" r="4.35"/><circle cx="872.9" cy="1147.6" r="4.35"/><circle cx="967.8" cy="1124.6" r="4.35"/><circle cx="893.1" cy="1096.5" r="4.35"/><circle cx="900.6" cy="1103.4" r="4.35"/><circle cx="930.0" cy="1117.0" r="4.35"/><circle cx="873.8" cy="1128.1" r="4.35"/><circle cx="872.3" cy="1181.1" r="4.35"/><circle cx="883.3" cy="1100.3" r="4.35"/><circle cx="926.8" cy="1123.0" r="4.35"/><circle cx="942.6" cy="1128.1" r="4.35"/><circle cx="923.2" cy="1107.9" r="4.35"/><circle cx="971.6" cy="1140.2" r="4.35"/><circle cx="947.4" cy="1220.2" r="4.35"/><circle cx="965.6" cy="1287.1" r="4.35"/><circle cx="928.8" cy="1171.4" r="4.35"/><circle cx="894.6" cy="1287.1" r="4.35"/><circle cx="920.8" cy="1234.1" r="4.35"/><circle cx="990.1" cy="1147.6" r="4.35"/><circle cx="948.0" cy="1176.0" r="4.35"/><circle cx="987.6" cy="1147.6" r="4.35"/><circle cx="943.4" cy="1133.8" r="4.35"/><circle cx="959.5" cy="1186.8" r="4.35"/><circle cx="883.7" cy="1099.3" r="4.35"/><circle cx="877.4" cy="1253.7" r="4.35"/><circle cx="945.1" cy="1287.1" r="4.35"/><circle cx="898.4" cy="1142.6" r="4.35"/><circle cx="892.2" cy="1128.1" r="4.35"/><circle cx="911.7" cy="1133.8" r="4.35"/><circle cx="872.9" cy="1128.1" r="4.35"/><circle cx="871.6" cy="1145.0" r="4.35"/><circle cx="944.6" cy="1138.0" r="4.35"/><circle cx="900.0" cy="1153.3" r="4.35"/><circle cx="894.3" cy="1123.0" r="4.35"/><circle cx="886.3" cy="1181.1" r="4.35"/><circle cx="977.9" cy="1287.1" r="4.35"/><circle cx="996.8" cy="1287.1" r="4.35"/><circle cx="929.2" cy="1098.3" r="4.35"/><circle cx="921.7" cy="1209.4" r="4.35"/><circle cx="962.7" cy="1114.2" r="4.35"/><circle cx="886.0" cy="1145.0" r="4.35"/><circle cx="977.9" cy="1147.6" r="4.35"/><circle cx="966.8" cy="1140.2" r="4.35"/><circle cx="887.3" cy="1220.2" r="4.35"/><circle cx="968.6" cy="1287.1" r="4.35"/><circle cx="943.8" cy="1176.0" r="4.35"/><circle cx="901.4" cy="1287.1" r="4.35"/><circle cx="975.0" cy="1128.1" r="4.35"/><circle cx="879.2" cy="1200.6" r="4.35"/><circle cx="943.4" cy="1253.7" r="4.35"/><circle cx="905.1" cy="1220.2" r="4.35"/><circle cx="933.2" cy="1159.8" r="4.35"/><circle cx="991.6" cy="1135.8" r="4.35"/><circle cx="906.1" cy="1171.4" r="4.35"/><circle cx="899.3" cy="1287.1" r="4.35"/><circle cx="931.6" cy="1209.4" r="4.35"/><circle cx="865.6" cy="1253.7" r="4.35"/><circle cx="946.6" cy="1163.3" r="4.35"/><circle cx="981.9" cy="1104.5" r="4.35"/><circle cx="995.0" cy="1181.1" r="4.35"/><circle cx="907.4" cy="1209.4" r="4.35"/><circle cx="997.0" cy="1234.1" r="4.35"/><circle cx="914.6" cy="1234.1" r="4.35"/><circle cx="925.2" cy="1253.7" r="4.35"/><circle cx="981.6" cy="1126.3" r="4.35"/><circle cx="902.3" cy="1234.1" r="4.35"/><circle cx="917.6" cy="1118.4" r="4.35"/><circle cx="994.5" cy="1234.1" r="4.35"/><circle cx="976.5" cy="1140.2" r="4.35"/><circle cx="874.8" cy="1287.1" r="4.35"/><circle cx="984.5" cy="1234.1" r="4.35"/><circle cx="959.2" cy="1253.7" r="4.35"/><circle cx="976.2" cy="1110.3" r="4.35"/><circle cx="911.7" cy="1119.9" r="4.35"/><circle cx="982.1" cy="1150.4" r="4.35"/><circle cx="937.0" cy="1140.2" r="4.35"/><circle cx="927.2" cy="1121.4" r="4.35"/><circle cx="988.9" cy="1287.1" r="4.35"/><circle cx="901.8" cy="1167.2" r="4.35"/><circle cx="939.6" cy="1124.6" r="4.35"/><circle cx="876.4" cy="1140.2" r="4.35"/><circle cx="888.2" cy="1117.0" r="4.35"/><circle cx="881.6" cy="1156.4" r="4.35"/><circle cx="972.7" cy="1107.9" r="4.35"/><circle cx="940.3" cy="1176.0" r="4.35"/><circle cx="877.4" cy="1156.4" r="4.35"/><circle cx="882.4" cy="1253.7" r="4.35"/><circle cx="956.7" cy="1171.4" r="4.35"/><circle cx="975.6" cy="1109.1" r="4.35"/><circle cx="873.9" cy="1145.0" r="4.35"/><circle cx="956.3" cy="1153.3" r="4.35"/><circle cx="880.7" cy="1159.8" r="4.35"/><circle cx="873.5" cy="1253.7" r="4.35"/><circle cx="912.2" cy="1287.1" r="4.35"/><circle cx="869.2" cy="1121.4" r="4.35"/><circle cx="912.2" cy="1234.1" r="4.35"/><circle cx="951.6" cy="1109.1" r="4.35"/><circle cx="984.9" cy="1138.0" r="4.35"/><circle cx="883.8" cy="1129.9" r="4.35"/><circle cx="933.8" cy="1287.1" r="4.35"/><circle cx="983.5" cy="1098.3" r="4.35"/><circle cx="989.2" cy="1131.8" r="4.35"/><circle cx="961.5" cy="1253.7" r="4.35"/><circle cx="983.4" cy="1101.3" r="4.35"/><circle cx="987.3" cy="1138.0" r="4.35"/><circle cx="976.3" cy="1140.2" r="4.35"/><circle cx="982.6" cy="1193.2" r="4.35"/><circle cx="886.8" cy="1106.8" r="4.35"/><circle cx="959.3" cy="1287.1" r="4.35"/><circle cx="947.1" cy="1176.0" r="4.35"/><circle cx="900.2" cy="1287.1" r="4.35"/><circle cx="944.3" cy="1234.1" r="4.35"/><circle cx="989.1" cy="1181.1" r="4.35"/><circle cx="903.1" cy="1109.1" r="4.35"/><circle cx="908.3" cy="1287.1" r="4.35"/><circle cx="890.9" cy="1234.1" r="4.35"/><circle cx="881.0" cy="1253.7" r="4.35"/><circle cx="872.1" cy="1104.5" r="4.35"/><circle cx="883.8" cy="1096.5" r="4.35"/><circle cx="983.7" cy="1121.4" r="4.35"/><circle cx="992.4" cy="1150.4" r="4.35"/><circle cx="992.5" cy="1253.7" r="4.35"/><circle cx="945.0" cy="1102.4" r="4.35"/><circle cx="872.8" cy="1287.1" r="4.35"/><circle cx="961.2" cy="1096.5" r="4.35"/><circle cx="941.7" cy="1119.9" r="4.35"/><circle cx="979.2" cy="1098.3" r="4.35"/><circle cx="881.5" cy="1111.6" r="4.35"/><circle cx="973.7" cy="1101.3" r="4.35"/><circle cx="865.6" cy="1234.1" r="4.35"/><circle cx="937.3" cy="1147.6" r="4.35"/><circle cx="956.1" cy="1156.4" r="4.35"/><circle cx="964.5" cy="1117.0" r="4.35"/><circle cx="967.2" cy="1176.0" r="4.35"/><circle cx="988.1" cy="1181.1" r="4.35"/><circle cx="946.8" cy="1287.1" r="4.35"/><circle cx="914.7" cy="1209.4" r="4.35"/><circle cx="959.4" cy="1253.7" r="4.35"/><circle cx="981.5" cy="1287.1" r="4.35"/><circle cx="951.5" cy="1156.4" r="4.35"/><circle cx="935.9" cy="1253.7" r="4.35"/><circle cx="920.1" cy="1121.4" r="4.35"/><circle cx="973.7" cy="1117.0" r="4.35"/><circle cx="878.7" cy="1253.7" r="4.35"/><circle cx="971.1" cy="1123.0" r="4.35"/><circle cx="947.1" cy="1193.2" r="4.35"/><circle cx="882.3" cy="1123.0" r="4.35"/><circle cx="909.5" cy="1253.7" r="4.35"/><circle cx="902.9" cy="1159.8" r="4.35"/><circle cx="892.1" cy="1159.8" r="4.35"/><circle cx="990.7" cy="1167.2" r="4.35"/><circle cx="946.7" cy="1133.8" r="4.35"/><circle cx="904.2" cy="1156.4" r="4.35"/><circle cx="876.6" cy="1150.4" r="4.35"/><circle cx="905.0" cy="1167.2" r="4.35"/><circle cx="892.7" cy="1123.0" r="4.35"/><circle cx="895.0" cy="1209.4" r="4.35"/><circle cx="874.2" cy="1287.1" r="4.35"/><circle cx="987.6" cy="1104.5" r="4.35"/><circle cx="976.2" cy="1200.6" r="4.35"/><circle cx="939.6" cy="1128.1" r="4.35"/><circle cx="952.0" cy="1109.1" r="4.35"/><circle cx="968.7" cy="1234.1" r="4.35"/><circle cx="936.7" cy="1200.6" r="4.35"/><circle cx="975.1" cy="1253.7" r="4.35"/><circle cx="998.2" cy="1287.1" r="4.35"/><circle cx="913.1" cy="1153.3" r="4.35"/><circle cx="948.0" cy="1150.4" r="4.35"/><circle cx="995.2" cy="1287.1" r="4.35"/><circle cx="989.4" cy="1253.7" r="4.35"/><circle cx="997.3" cy="1138.0" r="4.35"/><circle cx="883.4" cy="1287.1" r="4.35"/><circle cx="924.6" cy="1100.3" r="4.35"/><circle cx="870.5" cy="1002.9" r="4.35"/><circle cx="864.3" cy="1020.6" r="4.35"/><circle cx="880.0" cy="1039.0" r="4.35"/><circle cx="905.2" cy="1060.2" r="4.35"/><circle cx="911.0" cy="1066.0" r="4.35"/><circle cx="861.6" cy="1076.0" r="4.35"/><circle cx="954.2" cy="1058.0" r="4.35"/><circle cx="987.0" cy="1050.0" r="4.35"/><circle cx="983.6" cy="1070.0" r="4.35"/><circle cx="990.0" cy="1074.0" r="4.35"/><circle cx="930.3" cy="1090.0" r="4.35"/><circle cx="947.8" cy="1083.0" r="4.35"/><circle cx="956.2" cy="1088.0" r="4.35"/></g>
<circle cx="944.2" cy="1123.1" r="7.0" fill="#F0E34A" stroke="#000" stroke-width="1.3"/>
<rect x="1194.8" y="1176.0" width="183.0" height="111.1" fill="none" stroke="#000" stroke-width="1.5"/>
<line x1="1287.5" y1="1176.0" x2="1287.5" y2="1017.0" stroke="#000" stroke-width="1.5" />
<line x1="1287.5" y1="1287.1" x2="1287.5" y2="1287.1" stroke="#000" stroke-width="1.5" />
<line x1="1194.8" y1="1220.2" x2="1377.8" y2="1220.2" stroke="#000" stroke-width="3" />
<g fill="#808080" stroke="#000" stroke-width="1.7"><circle cx="1270.7" cy="1193.2" r="4.35"/><circle cx="1305.8" cy="1234.1" r="4.35"/><circle cx="1228.0" cy="1186.8" r="4.35"/><circle cx="1221.9" cy="1253.7" r="4.35"/><circle cx="1327.7" cy="1220.2" r="4.35"/><circle cx="1342.5" cy="1200.6" r="4.35"/><circle cx="1276.8" cy="1186.8" r="4.35"/><circle cx="1334.7" cy="1186.8" r="4.35"/><circle cx="1283.2" cy="1156.4" r="4.35"/><circle cx="1293.0" cy="1176.0" r="4.35"/><circle cx="1283.0" cy="1209.4" r="4.35"/><circle cx="1267.1" cy="1200.6" r="4.35"/><circle cx="1234.8" cy="1200.6" r="4.35"/><circle cx="1280.5" cy="1186.8" r="4.35"/><circle cx="1343.1" cy="1220.2" r="4.35"/><circle cx="1224.2" cy="1140.2" r="4.35"/><circle cx="1258.6" cy="1167.2" r="4.35"/><circle cx="1286.9" cy="1220.2" r="4.35"/><circle cx="1313.5" cy="1287.1" r="4.35"/><circle cx="1272.5" cy="1287.1" r="4.35"/><circle cx="1325.1" cy="1287.1" r="4.35"/><circle cx="1324.4" cy="1253.7" r="4.35"/><circle cx="1272.7" cy="1167.2" r="4.35"/><circle cx="1354.6" cy="1253.7" r="4.35"/><circle cx="1336.4" cy="1200.6" r="4.35"/><circle cx="1264.7" cy="1193.2" r="4.35"/><circle cx="1288.6" cy="1145.0" r="4.35"/><circle cx="1278.3" cy="1287.1" r="4.35"/><circle cx="1293.6" cy="1171.4" r="4.35"/><circle cx="1219.4" cy="1287.1" r="4.35"/><circle cx="1308.1" cy="1129.9" r="4.35"/><circle cx="1335.1" cy="1193.2" r="4.35"/><circle cx="1308.9" cy="1163.3" r="4.35"/><circle cx="1306.3" cy="1253.7" r="4.35"/><circle cx="1314.0" cy="1153.3" r="4.35"/><circle cx="1355.7" cy="1159.8" r="4.35"/><circle cx="1333.1" cy="1147.6" r="4.35"/><circle cx="1280.1" cy="1287.1" r="4.35"/><circle cx="1232.9" cy="1163.3" r="4.35"/><circle cx="1308.4" cy="1147.6" r="4.35"/><circle cx="1351.6" cy="1253.7" r="4.35"/><circle cx="1305.8" cy="1186.8" r="4.35"/><circle cx="1252.7" cy="1253.7" r="4.35"/><circle cx="1233.7" cy="1287.1" r="4.35"/><circle cx="1259.6" cy="1253.7" r="4.35"/><circle cx="1311.5" cy="1220.2" r="4.35"/><circle cx="1231.5" cy="1176.0" r="4.35"/><circle cx="1292.3" cy="1181.1" r="4.35"/><circle cx="1240.7" cy="1193.2" r="4.35"/><circle cx="1331.1" cy="1287.1" r="4.35"/><circle cx="1352.6" cy="1234.1" r="4.35"/><circle cx="1290.2" cy="1234.1" r="4.35"/><circle cx="1226.8" cy="1167.2" r="4.35"/><circle cx="1286.4" cy="1253.7" r="4.35"/><circle cx="1307.6" cy="1140.2" r="4.35"/><circle cx="1348.3" cy="1181.1" r="4.35"/><circle cx="1227.9" cy="1220.2" r="4.35"/><circle cx="1323.1" cy="1181.1" r="4.35"/><circle cx="1273.6" cy="1287.1" r="4.35"/><circle cx="1312.6" cy="1163.3" r="4.35"/><circle cx="1313.7" cy="1253.7" r="4.35"/><circle cx="1350.6" cy="1186.8" r="4.35"/><circle cx="1274.9" cy="1163.3" r="4.35"/><circle cx="1288.4" cy="1176.0" r="4.35"/><circle cx="1257.1" cy="1220.2" r="4.35"/><circle cx="1319.8" cy="1253.7" r="4.35"/><circle cx="1317.3" cy="1159.8" r="4.35"/><circle cx="1318.3" cy="1181.1" r="4.35"/><circle cx="1253.4" cy="1253.7" r="4.35"/><circle cx="1234.1" cy="1171.4" r="4.35"/><circle cx="1256.0" cy="1186.8" r="4.35"/><circle cx="1345.7" cy="1287.1" r="4.35"/><circle cx="1253.4" cy="1200.6" r="4.35"/><circle cx="1299.6" cy="1287.1" r="4.35"/><circle cx="1293.6" cy="1167.2" r="4.35"/><circle cx="1291.0" cy="1200.6" r="4.35"/><circle cx="1319.6" cy="1171.4" r="4.35"/><circle cx="1283.4" cy="1200.6" r="4.35"/><circle cx="1296.0" cy="1287.1" r="4.35"/><circle cx="1352.7" cy="1220.2" r="4.35"/><circle cx="1322.6" cy="1186.8" r="4.35"/><circle cx="1252.7" cy="1287.1" r="4.35"/><circle cx="1324.4" cy="1234.1" r="4.35"/><circle cx="1227.9" cy="1253.7" r="4.35"/><circle cx="1286.4" cy="1287.1" r="4.35"/><circle cx="1299.4" cy="1209.4" r="4.35"/><circle cx="1286.1" cy="1163.3" r="4.35"/><circle cx="1225.4" cy="1181.1" r="4.35"/><circle cx="1272.0" cy="1156.4" r="4.35"/><circle cx="1244.4" cy="1287.1" r="4.35"/><circle cx="1310.5" cy="1140.2" r="4.35"/><circle cx="1242.2" cy="1171.4" r="4.35"/><circle cx="1325.1" cy="1253.7" r="4.35"/><circle cx="1331.8" cy="1176.0" r="4.35"/><circle cx="1228.7" cy="1171.4" r="4.35"/><circle cx="1251.8" cy="1287.1" r="4.35"/><circle cx="1349.9" cy="1145.0" r="4.35"/><circle cx="1285.4" cy="1186.8" r="4.35"/><circle cx="1348.7" cy="1287.1" r="4.35"/><circle cx="1243.2" cy="1150.4" r="4.35"/><circle cx="1275.6" cy="1186.8" r="4.35"/><circle cx="1238.8" cy="1287.1" r="4.35"/><circle cx="1333.0" cy="1234.1" r="4.35"/><circle cx="1291.0" cy="1287.1" r="4.35"/><circle cx="1346.9" cy="1193.2" r="4.35"/><circle cx="1323.8" cy="1167.2" r="4.35"/><circle cx="1307.6" cy="1253.7" r="4.35"/><circle cx="1284.7" cy="1253.7" r="4.35"/><circle cx="1284.3" cy="1159.8" r="4.35"/><circle cx="1308.4" cy="1234.1" r="4.35"/><circle cx="1223.3" cy="1287.1" r="4.35"/><circle cx="1326.8" cy="1176.0" r="4.35"/><circle cx="1270.8" cy="1220.2" r="4.35"/><circle cx="1227.8" cy="1253.7" r="4.35"/><circle cx="1243.4" cy="1145.0" r="4.35"/><circle cx="1291.0" cy="1253.7" r="4.35"/><circle cx="1299.4" cy="1287.1" r="4.35"/><circle cx="1222.0" cy="1156.4" r="4.35"/><circle cx="1285.0" cy="1287.1" r="4.35"/><circle cx="1221.2" cy="1220.2" r="4.35"/><circle cx="1328.3" cy="1193.2" r="4.35"/><circle cx="1339.0" cy="1209.4" r="4.35"/><circle cx="1251.5" cy="1234.1" r="4.35"/><circle cx="1277.9" cy="1287.1" r="4.35"/><circle cx="1284.7" cy="1287.1" r="4.35"/><circle cx="1282.0" cy="1145.0" r="4.35"/><circle cx="1258.0" cy="1200.6" r="4.35"/><circle cx="1288.1" cy="1220.2" r="4.35"/><circle cx="1259.1" cy="1171.4" r="4.35"/><circle cx="1232.8" cy="1287.1" r="4.35"/><circle cx="1282.8" cy="1129.9" r="4.35"/><circle cx="1288.5" cy="1287.1" r="4.35"/><circle cx="1236.2" cy="1287.1" r="4.35"/><circle cx="1300.7" cy="1253.7" r="4.35"/><circle cx="1347.8" cy="1209.4" r="4.35"/><circle cx="1303.4" cy="1147.6" r="4.35"/><circle cx="1298.7" cy="1209.4" r="4.35"/><circle cx="1224.9" cy="1209.4" r="4.35"/><circle cx="1240.0" cy="1193.2" r="4.35"/><circle cx="1231.1" cy="1287.1" r="4.35"/><circle cx="1222.2" cy="1200.6" r="4.35"/><circle cx="1261.3" cy="1186.8" r="4.35"/><circle cx="1290.9" cy="1181.1" r="4.35"/><circle cx="1240.5" cy="1176.0" r="4.35"/><circle cx="1258.1" cy="1181.1" r="4.35"/><circle cx="1291.9" cy="1253.7" r="4.35"/><circle cx="1313.4" cy="1287.1" r="4.35"/><circle cx="1348.8" cy="1209.4" r="4.35"/><circle cx="1260.5" cy="1181.1" r="4.35"/><circle cx="1332.7" cy="1253.7" r="4.35"/><circle cx="1339.9" cy="1193.2" r="4.35"/><circle cx="1284.4" cy="1171.4" r="4.35"/><circle cx="1302.6" cy="1159.8" r="4.35"/><circle cx="1252.7" cy="1253.7" r="4.35"/><circle cx="1224.8" cy="1253.7" r="4.35"/><circle cx="1237.8" cy="1176.0" r="4.35"/><circle cx="1326.6" cy="1253.7" r="4.35"/><circle cx="1255.3" cy="1142.6" r="4.35"/><circle cx="1320.3" cy="1200.6" r="4.35"/><circle cx="1337.3" cy="1153.3" r="4.35"/><circle cx="1332.2" cy="1220.2" r="4.35"/><circle cx="1323.7" cy="1200.6" r="4.35"/><circle cx="1309.5" cy="1153.3" r="4.35"/><circle cx="1243.6" cy="1181.1" r="4.35"/><circle cx="1257.7" cy="1287.1" r="4.35"/><circle cx="1224.3" cy="1171.4" r="4.35"/><circle cx="1243.1" cy="1193.2" r="4.35"/><circle cx="1318.6" cy="1234.1" r="4.35"/><circle cx="1273.7" cy="1193.2" r="4.35"/><circle cx="1250.9" cy="1186.8" r="4.35"/><circle cx="1268.8" cy="1234.1" r="4.35"/><circle cx="1288.6" cy="1253.7" r="4.35"/><circle cx="1281.3" cy="1287.1" r="4.35"/><circle cx="1245.7" cy="1150.4" r="4.35"/><circle cx="1275.3" cy="1150.4" r="4.35"/><circle cx="1286.2" cy="1176.0" r="4.35"/><circle cx="1241.4" cy="1142.6" r="4.35"/><circle cx="1343.7" cy="1253.7" r="4.35"/><circle cx="1243.1" cy="1220.2" r="4.35"/><circle cx="1239.8" cy="1171.4" r="4.35"/><circle cx="1321.6" cy="1126.3" r="4.35"/><circle cx="1244.2" cy="1142.6" r="4.35"/><circle cx="1304.3" cy="1287.1" r="4.35"/><circle cx="1290.7" cy="1176.0" r="4.35"/><circle cx="1282.8" cy="1200.6" r="4.35"/><circle cx="1246.9" cy="1209.4" r="4.35"/><circle cx="1281.5" cy="1133.8" r="4.35"/><circle cx="1305.2" cy="1200.6" r="4.35"/><circle cx="1309.4" cy="1287.1" r="4.35"/><circle cx="1219.5" cy="1186.8" r="4.35"/><circle cx="1250.8" cy="1253.7" r="4.35"/><circle cx="1231.4" cy="1193.2" r="4.35"/><circle cx="1228.8" cy="1186.8" r="4.35"/><circle cx="1298.6" cy="1200.6" r="4.35"/><circle cx="1245.5" cy="1287.1" r="4.35"/><circle cx="1293.4" cy="1287.1" r="4.35"/><circle cx="1311.0" cy="1181.1" r="4.35"/><circle cx="1312.2" cy="1209.4" r="4.35"/><circle cx="1278.1" cy="1176.0" r="4.35"/><circle cx="1320.7" cy="1126.3" r="4.35"/><circle cx="1258.4" cy="1220.2" r="4.35"/><circle cx="1253.5" cy="1287.1" r="4.35"/><circle cx="1324.3" cy="1253.7" r="4.35"/><circle cx="1300.3" cy="1186.8" r="4.35"/><circle cx="1310.0" cy="1253.7" r="4.35"/><circle cx="1311.6" cy="1181.1" r="4.35"/><circle cx="1330.1" cy="1234.1" r="4.35"/><circle cx="1339.7" cy="1167.2" r="4.35"/><circle cx="1268.8" cy="1186.8" r="4.35"/><circle cx="1309.4" cy="1200.6" r="4.35"/><circle cx="1280.3" cy="1234.1" r="4.35"/><circle cx="1334.7" cy="1253.7" r="4.35"/><circle cx="1256.9" cy="1234.1" r="4.35"/><circle cx="1281.0" cy="1287.1" r="4.35"/><circle cx="1301.2" cy="1209.4" r="4.35"/><circle cx="1273.1" cy="1156.4" r="4.35"/><circle cx="1294.7" cy="1253.7" r="4.35"/><circle cx="1254.8" cy="1287.1" r="4.35"/><circle cx="1315.9" cy="1193.2" r="4.35"/><circle cx="1274.2" cy="1287.1" r="4.35"/><circle cx="1243.0" cy="1287.1" r="4.35"/><circle cx="1292.9" cy="1163.3" r="4.35"/><circle cx="1294.3" cy="1234.1" r="4.35"/><circle cx="1288.5" cy="1153.3" r="4.35"/><circle cx="1349.9" cy="1193.2" r="4.35"/><circle cx="1277.6" cy="1163.3" r="4.35"/><circle cx="1350.3" cy="1209.4" r="4.35"/><circle cx="1296.3" cy="1253.7" r="4.35"/><circle cx="1288.8" cy="1287.1" r="4.35"/><circle cx="1226.6" cy="1209.4" r="4.35"/><circle cx="1312.8" cy="1193.2" r="4.35"/><circle cx="1220.0" cy="1234.1" r="4.35"/><circle cx="1332.6" cy="1176.0" r="4.35"/><circle cx="1295.4" cy="1234.1" r="4.35"/><circle cx="1259.7" cy="1220.2" r="4.35"/><circle cx="1230.2" cy="1287.1" r="4.35"/><circle cx="1312.2" cy="1171.4" r="4.35"/><circle cx="1241.4" cy="1159.8" r="4.35"/><circle cx="1329.6" cy="1287.1" r="4.35"/><circle cx="1319.5" cy="1287.1" r="4.35"/><circle cx="1286.2" cy="1150.4" r="4.35"/><circle cx="1259.5" cy="1176.0" r="4.35"/><circle cx="1275.2" cy="1253.7" r="4.35"/><circle cx="1300.9" cy="1287.1" r="4.35"/><circle cx="1356.0" cy="1287.1" r="4.35"/><circle cx="1258.0" cy="1167.2" r="4.35"/><circle cx="1239.1" cy="1200.6" r="4.35"/><circle cx="1290.9" cy="1253.7" r="4.35"/><circle cx="1348.9" cy="1287.1" r="4.35"/><circle cx="1238.9" cy="1186.8" r="4.35"/><circle cx="1262.5" cy="1234.1" r="4.35"/><circle cx="1269.3" cy="1253.7" r="4.35"/><circle cx="1312.9" cy="1287.1" r="4.35"/><circle cx="1319.0" cy="1176.0" r="4.35"/><circle cx="1243.6" cy="1145.0" r="4.35"/><circle cx="1246.1" cy="1287.1" r="4.35"/><circle cx="1233.1" cy="1176.0" r="4.35"/><circle cx="1237.4" cy="1220.2" r="4.35"/><circle cx="1318.2" cy="1209.4" r="4.35"/><circle cx="1289.7" cy="1147.6" r="4.35"/><circle cx="1340.0" cy="1253.7" r="4.35"/><circle cx="1232.7" cy="1287.1" r="4.35"/><circle cx="1356.5" cy="1171.4" r="4.35"/><circle cx="1229.5" cy="1181.1" r="4.35"/><circle cx="1348.1" cy="1220.2" r="4.35"/><circle cx="1344.6" cy="1193.2" r="4.35"/><circle cx="1258.8" cy="1209.4" r="4.35"/><circle cx="1244.0" cy="1287.1" r="4.35"/><circle cx="1305.4" cy="1253.7" r="4.35"/><circle cx="1234.3" cy="1181.1" r="4.35"/><circle cx="1289.1" cy="1287.1" r="4.35"/><circle cx="1231.5" cy="1220.2" r="4.35"/><circle cx="1302.3" cy="1234.1" r="4.35"/><circle cx="1346.0" cy="1287.1" r="4.35"/><circle cx="1222.3" cy="1176.0" r="4.35"/><circle cx="1322.7" cy="1156.4" r="4.35"/><circle cx="1280.1" cy="1234.1" r="4.35"/><circle cx="1350.4" cy="1186.8" r="4.35"/><circle cx="1352.1" cy="1156.4" r="4.35"/><circle cx="1304.4" cy="1186.8" r="4.35"/><circle cx="1272.2" cy="1176.0" r="4.35"/><circle cx="1316.9" cy="1209.4" r="4.35"/><circle cx="1229.4" cy="1153.3" r="4.35"/><circle cx="1274.1" cy="1200.6" r="4.35"/><circle cx="1220.2" cy="1253.7" r="4.35"/><circle cx="1340.7" cy="1234.1" r="4.35"/><circle cx="1316.8" cy="1193.2" r="4.35"/><circle cx="1253.9" cy="1209.4" r="4.35"/><circle cx="1303.0" cy="1253.7" r="4.35"/><circle cx="1353.0" cy="1193.2" r="4.35"/><circle cx="1277.2" cy="1287.1" r="4.35"/><circle cx="1286.9" cy="1181.1" r="4.35"/><circle cx="1324.9" cy="1159.8" r="4.35"/><circle cx="1267.7" cy="1287.1" r="4.35"/><circle cx="1261.8" cy="1234.1" r="4.35"/><circle cx="1326.2" cy="1287.1" r="4.35"/><circle cx="1310.5" cy="1186.8" r="4.35"/><circle cx="1348.4" cy="1167.2" r="4.35"/><circle cx="1231.3" cy="1181.1" r="4.35"/><circle cx="1334.6" cy="1193.2" r="4.35"/><circle cx="1355.8" cy="1287.1" r="4.35"/><circle cx="1252.0" cy="1181.1" r="4.35"/><circle cx="1266.6" cy="1186.8" r="4.35"/><circle cx="1290.3" cy="1167.2" r="4.35"/><circle cx="1329.0" cy="1253.7" r="4.35"/><circle cx="1307.6" cy="1287.1" r="4.35"/><circle cx="1343.0" cy="1200.6" r="4.35"/><circle cx="1252.2" cy="1193.2" r="4.35"/><circle cx="1331.3" cy="1220.2" r="4.35"/><circle cx="1256.2" cy="1287.1" r="4.35"/><circle cx="1250.7" cy="1253.7" r="4.35"/><circle cx="1267.3" cy="1193.2" r="4.35"/><circle cx="1326.3" cy="1167.2" r="4.35"/><circle cx="1288.3" cy="1287.1" r="4.35"/><circle cx="1247.2" cy="1163.3" r="4.35"/><circle cx="1261.8" cy="1234.1" r="4.35"/><circle cx="1324.4" cy="1287.1" r="4.35"/><circle cx="1223.6" cy="1167.2" r="4.35"/><circle cx="1253.2" cy="1138.0" r="4.35"/><circle cx="1349.8" cy="1234.1" r="4.35"/><circle cx="1326.9" cy="1287.1" r="4.35"/><circle cx="1264.0" cy="1181.1" r="4.35"/><circle cx="1322.8" cy="1234.1" r="4.35"/><circle cx="1310.5" cy="1220.2" r="4.35"/><circle cx="1314.7" cy="1234.1" r="4.35"/><circle cx="1301.8" cy="1253.7" r="4.35"/><circle cx="1218.8" cy="1167.2" r="4.35"/><circle cx="1349.3" cy="1253.7" r="4.35"/><circle cx="1244.0" cy="1253.7" r="4.35"/><circle cx="1303.7" cy="1186.8" r="4.35"/><circle cx="1313.9" cy="1181.1" r="4.35"/><circle cx="1347.6" cy="1171.4" r="4.35"/><circle cx="1278.7" cy="1163.3" r="4.35"/><circle cx="1349.8" cy="1138.0" r="4.35"/><circle cx="1241.6" cy="1142.6" r="4.35"/><circle cx="1249.9" cy="1287.1" r="4.35"/><circle cx="1333.5" cy="1220.2" r="4.35"/><circle cx="1275.5" cy="1186.8" r="4.35"/><circle cx="1351.2" cy="1167.2" r="4.35"/><circle cx="1260.4" cy="1234.1" r="4.35"/><circle cx="1238.8" cy="1287.1" r="4.35"/><circle cx="1319.8" cy="1159.8" r="4.35"/><circle cx="1229.5" cy="1176.0" r="4.35"/><circle cx="1340.0" cy="1220.2" r="4.35"/><circle cx="1279.7" cy="1171.4" r="4.35"/><circle cx="1234.8" cy="1253.7" r="4.35"/><circle cx="1265.9" cy="1163.3" r="4.35"/><circle cx="1294.6" cy="1200.6" r="4.35"/><circle cx="1271.7" cy="1193.2" r="4.35"/><circle cx="1285.1" cy="1287.1" r="4.35"/><circle cx="1268.4" cy="1193.2" r="4.35"/><circle cx="1263.8" cy="1186.8" r="4.35"/><circle cx="1266.5" cy="1200.6" r="4.35"/><circle cx="1291.1" cy="1159.8" r="4.35"/><circle cx="1284.6" cy="1167.2" r="4.35"/><circle cx="1222.1" cy="1181.1" r="4.35"/><circle cx="1346.5" cy="1133.8" r="4.35"/><circle cx="1223.8" cy="1147.6" r="4.35"/><circle cx="1262.2" cy="1287.1" r="4.35"/><circle cx="1232.6" cy="1253.7" r="4.35"/><circle cx="1315.5" cy="1287.1" r="4.35"/><circle cx="1319.5" cy="1193.2" r="4.35"/><circle cx="1292.8" cy="1287.1" r="4.35"/><circle cx="1294.6" cy="1253.7" r="4.35"/><circle cx="1277.7" cy="1234.1" r="4.35"/><circle cx="1302.5" cy="1200.6" r="4.35"/><circle cx="1244.4" cy="1253.7" r="4.35"/><circle cx="1276.4" cy="1209.4" r="4.35"/><circle cx="1233.0" cy="1253.7" r="4.35"/><circle cx="1355.9" cy="1287.1" r="4.35"/><circle cx="1284.2" cy="1234.1" r="4.35"/><circle cx="1320.5" cy="1253.7" r="4.35"/><circle cx="1286.3" cy="1287.1" r="4.35"/><circle cx="1277.6" cy="1193.2" r="4.35"/><circle cx="1294.6" cy="1209.4" r="4.35"/><circle cx="1326.0" cy="1253.7" r="4.35"/><circle cx="1252.0" cy="1159.8" r="4.35"/><circle cx="1243.3" cy="1209.4" r="4.35"/><circle cx="1334.2" cy="1287.1" r="4.35"/><circle cx="1309.7" cy="1253.7" r="4.35"/><circle cx="1282.0" cy="1253.7" r="4.35"/><circle cx="1226.1" cy="1159.8" r="4.35"/><circle cx="1328.2" cy="1147.6" r="4.35"/><circle cx="1276.9" cy="1138.0" r="4.35"/><circle cx="1313.4" cy="1287.1" r="4.35"/><circle cx="1253.8" cy="1200.6" r="4.35"/><circle cx="1296.9" cy="1209.4" r="4.35"/><circle cx="1264.5" cy="1287.1" r="4.35"/><circle cx="1301.5" cy="1171.4" r="4.35"/><circle cx="1324.6" cy="1287.1" r="4.35"/><circle cx="1243.0" cy="1181.1" r="4.35"/><circle cx="1319.6" cy="1153.3" r="4.35"/><circle cx="1256.0" cy="1156.4" r="4.35"/><circle cx="1238.0" cy="1220.2" r="4.35"/><circle cx="1279.9" cy="1287.1" r="4.35"/><circle cx="1289.0" cy="1150.4" r="4.35"/><circle cx="1307.1" cy="1171.4" r="4.35"/><circle cx="1249.1" cy="1253.7" r="4.35"/><circle cx="1348.0" cy="1171.4" r="4.35"/><circle cx="1302.8" cy="1163.3" r="4.35"/><circle cx="1322.1" cy="1287.1" r="4.35"/><circle cx="1240.0" cy="1253.7" r="4.35"/><circle cx="1280.4" cy="1234.1" r="4.35"/><circle cx="1346.8" cy="1153.3" r="4.35"/><circle cx="1236.1" cy="1253.7" r="4.35"/><circle cx="1235.6" cy="1287.1" r="4.35"/><circle cx="1230.1" cy="1287.1" r="4.35"/><circle cx="1270.1" cy="1176.0" r="4.35"/><circle cx="1308.6" cy="1163.3" r="4.35"/><circle cx="1303.4" cy="1150.4" r="4.35"/><circle cx="1252.8" cy="1287.1" r="4.35"/><circle cx="1295.3" cy="1156.4" r="4.35"/><circle cx="1277.7" cy="1234.1" r="4.35"/><circle cx="1312.3" cy="1287.1" r="4.35"/><circle cx="1276.2" cy="1234.1" r="4.35"/><circle cx="1288.3" cy="1016.4" r="4.35"/><circle cx="1336.2" cy="1053.5" r="4.35"/><circle cx="1269.0" cy="1070.0" r="4.35"/><circle cx="1228.2" cy="1085.5" r="4.35"/><circle cx="1226.5" cy="1097.8" r="4.35"/><circle cx="1281.0" cy="1099.0" r="4.35"/><circle cx="1340.0" cy="1095.5" r="4.35"/><circle cx="1264.3" cy="1107.5" r="4.35"/><circle cx="1272.6" cy="1112.6" r="4.35"/><circle cx="1250.5" cy="1120.9" r="4.35"/><circle cx="1345.0" cy="1118.0" r="4.35"/><circle cx="1355.8" cy="1126.0" r="4.35"/></g>
<circle cx="1320.1" cy="1209.4" r="7.0" fill="#D071B8" stroke="#000" stroke-width="1.3"/>
<defs>
<clipPath id="c0"><rect x="62.3" y="1359.8" width="324.4" height="327.2"/></clipPath>
<clipPath id="c1"><rect x="402.2" y="1359.8" width="324.9" height="327.2"/></clipPath>
<clipPath id="c2"><rect x="743.4" y="1359.8" width="324.6" height="327.2"/></clipPath>
<clipPath id="c3"><rect x="1083.7" y="1359.8" width="324.8" height="327.2"/></clipPath>
<filter id="bl" color-interpolation-filters="sRGB" x="-5%" y="-5%" width="110%" height="110%"><feGaussianBlur stdDeviation="1.3"/></filter>
<filter id="bl2" color-interpolation-filters="sRGB" x="-10%" y="-10%" width="120%" height="120%"><feGaussianBlur stdDeviation="1.6"/></filter>
<filter id="bl8" color-interpolation-filters="sRGB" x="-10%" y="-10%" width="120%" height="120%"><feGaussianBlur stdDeviation="5"/></filter>
</defs>
<g clip-path="url(#c0)">
<rect x="62.3" y="1359.8" width="324.4" height="327.2" fill="#000"/>
<g filter="url(#bl8)">
<rect x="224.5" y="1359.8" width="20.8" height="20.8" fill="rgb(5,5,5)"/>
<rect x="305.6" y="1359.8" width="20.8" height="20.8" fill="rgb(5,5,5)"/>
<rect x="325.9" y="1359.8" width="20.8" height="20.8" fill="rgb(5,5,5)"/>
<rect x="183.9" y="1380.1" width="20.8" height="20.8" fill="rgb(45,45,45)"/>
<rect x="204.2" y="1380.1" width="20.8" height="20.8" fill="rgb(45,45,45)"/>
<rect x="224.5" y="1380.1" width="20.8" height="20.8" fill="rgb(39,39,39)"/>
<rect x="244.8" y="1380.1" width="20.8" height="20.8" fill="rgb(33,33,33)"/>
<rect x="305.6" y="1380.1" width="20.8" height="20.8" fill="rgb(11,11,11)"/>
<rect x="163.7" y="1400.5" width="20.8" height="20.8" fill="rgb(22,22,22)"/>
<rect x="183.9" y="1400.5" width="20.8" height="20.8" fill="rgb(45,45,45)"/>
<rect x="204.2" y="1400.5" width="20.8" height="20.8" fill="rgb(45,45,45)"/>
<rect x="224.5" y="1400.5" width="20.8" height="20.8" fill="rgb(45,45,45)"/>
<rect x="244.8" y="1400.5" width="20.8" height="20.8" fill="rgb(39,39,39)"/>
<rect x="265.1" y="1400.5" width="20.8" height="20.8" fill="rgb(50,50,50)"/>
<rect x="285.3" y="1400.5" width="20.8" height="20.8" fill="rgb(33,33,33)"/>
<rect x="305.6" y="1400.5" width="20.8" height="20.8" fill="rgb(22,22,22)"/>
<rect x="325.9" y="1400.5" width="20.8" height="20.8" fill="rgb(5,5,5)"/>
<rect x="163.7" y="1420.8" width="20.8" height="20.8" fill="rgb(5,5,5)"/>
<rect x="183.9" y="1420.8" width="20.8" height="20.8" fill="rgb(50,50,50)"/>
<rect x="204.2" y="1420.8" width="20.8" height="20.8" fill="rgb(50,50,50)"/>
<rect x="224.5" y="1420.8" width="20.8" height="20.8" fill="rgb(45,45,45)"/>
<rect x="244.8" y="1420.8" width="20.8" height="20.8" fill="rgb(39,39,39)"/>
<rect x="265.1" y="1420.8" width="20.8" height="20.8" fill="rgb(45,45,45)"/>
<rect x="285.3" y="1420.8" width="20.8" height="20.8" fill="rgb(45,45,45)"/>
<rect x="163.7" y="1441.1" width="20.8" height="20.8" fill="rgb(5,5,5)"/>
<rect x="183.9" y="1441.1" width="20.8" height="20.8" fill="rgb(45,45,45)"/>
<rect x="204.2" y="1441.1" width="20.8" height="20.8" fill="rgb(50,50,50)"/>
<rect x="224.5" y="1441.1" width="20.8" height="20.8" fill="rgb(45,45,45)"/>
<rect x="244.8" y="1441.1" width="20.8" height="20.8" fill="rgb(33,33,33)"/>
<rect x="265.1" y="1441.1" width="20.8" height="20.8" fill="rgb(39,39,39)"/>
<rect x="285.3" y="1441.1" width="20.8" height="20.8" fill="rgb(33,33,33)"/>
<rect x="305.6" y="1441.1" width="20.8" height="20.8" fill="rgb(28,28,28)"/>
<rect x="123.1" y="1461.4" width="20.8" height="20.8" fill="rgb(11,11,11)"/>
<rect x="143.4" y="1461.4" width="20.8" height="20.8" fill="rgb(22,22,22)"/>
<rect x="163.7" y="1461.4" width="20.8" height="20.8" fill="rgb(5,5,5)"/>
<rect x="183.9" y="1461.4" width="20.8" height="20.8" fill="rgb(50,50,50)"/>
<rect x="204.2" y="1461.4" width="20.8" height="20.8" fill="rgb(39,39,39)"/>
<rect x="224.5" y="1461.4" width="20.8" height="20.8" fill="rgb(45,45,45)"/>
<rect x="244.8" y="1461.4" width="20.8" height="20.8" fill="rgb(39,39,39)"/>
<rect x="265.1" y="1461.4" width="20.8" height="20.8" fill="rgb(39,39,39)"/>
<rect x="285.3" y="1461.4" width="20.8" height="20.8" fill="rgb(39,39,39)"/>
<rect x="305.6" y="1461.4" width="20.8" height="20.8" fill="rgb(16,16,16)"/>
<rect x="346.1" y="1461.4" width="20.8" height="20.8" fill="rgb(5,5,5)"/>
<rect x="366.4" y="1461.4" width="20.8" height="20.8" fill="rgb(5,5,5)"/>
<rect x="102.8" y="1481.8" width="20.8" height="20.8" fill="rgb(11,11,11)"/>
<rect x="123.1" y="1481.8" width="20.8" height="20.8" fill="rgb(16,16,16)"/>
<rect x="143.4" y="1481.8" width="20.8" height="20.8" fill="rgb(33,33,33)"/>
<rect x="163.7" y="1481.8" width="20.8" height="20.8" fill="rgb(5,5,5)"/>
<rect x="183.9" y="1481.8" width="20.8" height="20.8" fill="rgb(33,33,33)"/>
<rect x="204.2" y="1481.8" width="20.8" height="20.8" fill="rgb(22,22,22)"/>
<rect x="224.5" y="1481.8" width="20.8" height="20.8" fill="rgb(11,11,11)"/>
<rect x="244.8" y="1481.8" width="20.8" height="20.8" fill="rgb(33,33,33)"/>
<rect x="265.1" y="1481.8" width="20.8" height="20.8" fill="rgb(39,39,39)"/>
<rect x="285.3" y="1481.8" width="20.8" height="20.8" fill="rgb(22,22,22)"/>
<rect x="305.6" y="1481.8" width="20.8" height="20.8" fill="rgb(39,39,39)"/>
<rect x="325.9" y="1481.8" width="20.8" height="20.8" fill="rgb(33,33,33)"/>
<rect x="346.1" y="1481.8" width="20.8" height="20.8" fill="rgb(39,39,39)"/>
<rect x="366.4" y="1481.8" width="20.8" height="20.8" fill="rgb(16,16,16)"/>
<rect x="102.8" y="1502.1" width="20.8" height="20.8" fill="rgb(22,22,22)"/>
<rect x="123.1" y="1502.1" width="20.8" height="20.8" fill="rgb(28,28,28)"/>
<rect x="143.4" y="1502.1" width="20.8" height="20.8" fill="rgb(28,28,28)"/>
<rect x="163.7" y="1502.1" width="20.8" height="20.8" fill="rgb(11,11,11)"/>
<rect x="183.9" y="1502.1" width="20.8" height="20.8" fill="rgb(28,28,28)"/>
<rect x="204.2" y="1502.1" width="20.8" height="20.8" fill="rgb(45,45,45)"/>
<rect x="224.5" y="1502.1" width="20.8" height="20.8" fill="rgb(39,39,39)"/>
<rect x="244.8" y="1502.1" width="20.8" height="20.8" fill="rgb(39,39,39)"/>
<rect x="265.1" y="1502.1" width="20.8" height="20.8" fill="rgb(39,39,39)"/>
<rect x="285.3" y="1502.1" width="20.8" height="20.8" fill="rgb(39,39,39)"/>
<rect x="305.6" y="1502.1" width="20.8" height="20.8" fill="rgb(39,39,39)"/>
<rect x="325.9" y="1502.1" width="20.8" height="20.8" fill="rgb(28,28,28)"/>
<rect x="346.1" y="1502.1" width="20.8" height="20.8" fill="rgb(39,39,39)"/>
<rect x="366.4" y="1502.1" width="20.8" height="20.8" fill="rgb(33,33,33)"/>
<rect x="143.4" y="1522.4" width="20.8" height="20.8" fill="rgb(22,22,22)"/>
<rect x="163.7" y="1522.4" width="20.8" height="20.8" fill="rgb(28,28,28)"/>
<rect x="183.9" y="1522.4" width="20.8" height="20.8" fill="rgb(33,33,33)"/>
<rect x="204.2" y="1522.4" width="20.8" height="20.8" fill="rgb(33,33,33)"/>
<rect x="224.5" y="1522.4" width="20.8" height="20.8" fill="rgb(39,39,39)"/>
<rect x="244.8" y="1522.4" width="20.8" height="20.8" fill="rgb(33,33,33)"/>
<rect x="265.1" y="1522.4" width="20.8" height="20.8" fill="rgb(39,39,39)"/>
<rect x="285.3" y="1522.4" width="20.8" height="20.8" fill="rgb(33,33,33)"/>
<rect x="305.6" y="1522.4" width="20.8" height="20.8" fill="rgb(33,33,33)"/>
<rect x="325.9" y="1522.4" width="20.8" height="20.8" fill="rgb(33,33,33)"/>
<rect x="346.1" y="1522.4" width="20.8" height="20.8" fill="rgb(39,39,39)"/>
<rect x="366.4" y="1522.4" width="20.8" height="20.8" fill="rgb(22,22,22)"/>
<rect x="82.6" y="1542.7" width="20.8" height="20.8" fill="rgb(16,16,16)"/>
<rect x="163.7" y="1542.7" width="20.8" height="20.8" fill="rgb(11,11,11)"/>
<rect x="183.9" y="1542.7" width="20.8" height="20.8" fill="rgb(28,28,28)"/>
<rect x="204.2" y="1542.7" width="20.8" height="20.8" fill="rgb(33,33,33)"/>
<rect x="224.5" y="1542.7" width="20.8" height="20.8" fill="rgb(33,33,33)"/>
<rect x="244.8" y="1542.7" width="20.8" height="20.8" fill="rgb(33,33,33)"/>
<rect x="265.1" y="1542.7" width="20.8" height="20.8" fill="rgb(33,33,33)"/>
<rect x="285.3" y="1542.7" width="20.8" height="20.8" fill="rgb(33,33,33)"/>
<rect x="305.6" y="1542.7" width="20.8" height="20.8" fill="rgb(33,33,33)"/>
<rect x="325.9" y="1542.7" width="20.8" height="20.8" fill="rgb(22,22,22)"/>
<rect x="346.1" y="1542.7" width="20.8" height="20.8" fill="rgb(28,28,28)"/>
<rect x="366.4" y="1542.7" width="20.8" height="20.8" fill="rgb(16,16,16)"/>
<rect x="62.3" y="1563.0" width="20.8" height="20.8" fill="rgb(16,16,16)"/>
<rect x="82.6" y="1563.0" width="20.8" height="20.8" fill="rgb(16,16,16)"/>
<rect x="102.8" y="1563.0" width="20.8" height="20.8" fill="rgb(22,22,22)"/>
<rect x="123.1" y="1563.0" width="20.8" height="20.8" fill="rgb(11,11,11)"/>
<rect x="183.9" y="1563.0" width="20.8" height="20.8" fill="rgb(11,11,11)"/>
<rect x="204.2" y="1563.0" width="20.8" height="20.8" fill="rgb(28,28,28)"/>
<rect x="224.5" y="1563.0" width="20.8" height="20.8" fill="rgb(22,22,22)"/>
<rect x="244.8" y="1563.0" width="20.8" height="20.8" fill="rgb(39,39,39)"/>
<rect x="265.1" y="1563.0" width="20.8" height="20.8" fill="rgb(33,33,33)"/>
<rect x="285.3" y="1563.0" width="20.8" height="20.8" fill="rgb(33,33,33)"/>
<rect x="305.6" y="1563.0" width="20.8" height="20.8" fill="rgb(16,16,16)"/>
<rect x="325.9" y="1563.0" width="20.8" height="20.8" fill="rgb(33,33,33)"/>
<rect x="346.1" y="1563.0" width="20.8" height="20.8" fill="rgb(33,33,33)"/>
<rect x="366.4" y="1563.0" width="20.8" height="20.8" fill="rgb(28,28,28)"/>
<rect x="82.6" y="1583.4" width="20.8" height="20.8" fill="rgb(11,11,11)"/>
<rect x="102.8" y="1583.4" width="20.8" height="20.8" fill="rgb(16,16,16)"/>
<rect x="163.7" y="1583.4" width="20.8" height="20.8" fill="rgb(16,16,16)"/>
<rect x="183.9" y="1583.4" width="20.8" height="20.8" fill="rgb(16,16,16)"/>
<rect x="204.2" y="1583.4" width="20.8" height="20.8" fill="rgb(22,22,22)"/>
<rect x="224.5" y="1583.4" width="20.8" height="20.8" fill="rgb(28,28,28)"/>
<rect x="244.8" y="1583.4" width="20.8" height="20.8" fill="rgb(33,33,33)"/>
<rect x="265.1" y="1583.4" width="20.8" height="20.8" fill="rgb(33,33,33)"/>
<rect x="285.3" y="1583.4" width="20.8" height="20.8" fill="rgb(33,33,33)"/>
<rect x="305.6" y="1583.4" width="20.8" height="20.8" fill="rgb(16,16,16)"/>
<rect x="325.9" y="1583.4" width="20.8" height="20.8" fill="rgb(28,28,28)"/>
<rect x="346.1" y="1583.4" width="20.8" height="20.8" fill="rgb(45,45,45)"/>
<rect x="366.4" y="1583.4" width="20.8" height="20.8" fill="rgb(28,28,28)"/>
<rect x="102.8" y="1603.7" width="20.8" height="20.8" fill="rgb(16,16,16)"/>
<rect x="123.1" y="1603.7" width="20.8" height="20.8" fill="rgb(22,22,22)"/>
<rect x="163.7" y="1603.7" width="20.8" height="20.8" fill="rgb(5,5,5)"/>
<rect x="224.5" y="1603.7" width="20.8" height="20.8" fill="rgb(33,33,33)"/>
<rect x="244.8" y="1603.7" width="20.8" height="20.8" fill="rgb(28,28,28)"/>
<rect x="265.1" y="1603.7" width="20.8" height="20.8" fill="rgb(33,33,33)"/>
<rect x="285.3" y="1603.7" width="20.8" height="20.8" fill="rgb(28,28,28)"/>
<rect x="305.6" y="1603.7" width="20.8" height="20.8" fill="rgb(33,33,33)"/>
<rect x="325.9" y="1603.7" width="20.8" height="20.8" fill="rgb(33,33,33)"/>
<rect x="346.1" y="1603.7" width="20.8" height="20.8" fill="rgb(33,33,33)"/>
<rect x="366.4" y="1603.7" width="20.8" height="20.8" fill="rgb(33,33,33)"/>
<rect x="102.8" y="1624.0" width="20.8" height="20.8" fill="rgb(16,16,16)"/>
<rect x="123.1" y="1624.0" width="20.8" height="20.8" fill="rgb(22,22,22)"/>
<rect x="143.4" y="1624.0" width="20.8" height="20.8" fill="rgb(5,5,5)"/>
<rect x="163.7" y="1624.0" width="20.8" height="20.8" fill="rgb(16,16,16)"/>
<rect x="183.9" y="1624.0" width="20.8" height="20.8" fill="rgb(22,22,22)"/>
<rect x="224.5" y="1624.0" width="20.8" height="20.8" fill="rgb(22,22,22)"/>
<rect x="244.8" y="1624.0" width="20.8" height="20.8" fill="rgb(22,22,22)"/>
<rect x="265.1" y="1624.0" width="20.8" height="20.8" fill="rgb(39,39,39)"/>
<rect x="285.3" y="1624.0" width="20.8" height="20.8" fill="rgb(33,33,33)"/>
<rect x="305.6" y="1624.0" width="20.8" height="20.8" fill="rgb(5,5,5)"/>
<rect x="346.1" y="1624.0" width="20.8" height="20.8" fill="rgb(39,39,39)"/>
<rect x="366.4" y="1624.0" width="20.8" height="20.8" fill="rgb(33,33,33)"/>
<rect x="82.6" y="1644.3" width="20.8" height="20.8" fill="rgb(5,5,5)"/>
<rect x="102.8" y="1644.3" width="20.8" height="20.8" fill="rgb(5,5,5)"/>
<rect x="143.4" y="1644.3" width="20.8" height="20.8" fill="rgb(16,16,16)"/>
<rect x="163.7" y="1644.3" width="20.8" height="20.8" fill="rgb(28,28,28)"/>
<rect x="183.9" y="1644.3" width="20.8" height="20.8" fill="rgb(28,28,28)"/>
<rect x="204.2" y="1644.3" width="20.8" height="20.8" fill="rgb(28,28,28)"/>
<rect x="244.8" y="1644.3" width="20.8" height="20.8" fill="rgb(16,16,16)"/>
<rect x="265.1" y="1644.3" width="20.8" height="20.8" fill="rgb(33,33,33)"/>
<rect x="285.3" y="1644.3" width="20.8" height="20.8" fill="rgb(39,39,39)"/>
<rect x="305.6" y="1644.3" width="20.8" height="20.8" fill="rgb(22,22,22)"/>
<rect x="143.4" y="1664.7" width="20.8" height="20.8" fill="rgb(28,28,28)"/>
<rect x="163.7" y="1664.7" width="20.8" height="20.8" fill="rgb(33,33,33)"/>
<rect x="183.9" y="1664.7" width="20.8" height="20.8" fill="rgb(22,22,22)"/>
<rect x="204.2" y="1664.7" width="20.8" height="20.8" fill="rgb(28,28,28)"/>
<rect x="224.5" y="1664.7" width="20.8" height="20.8" fill="rgb(22,22,22)"/>
<rect x="244.8" y="1664.7" width="20.8" height="20.8" fill="rgb(11,11,11)"/>
<rect x="285.3" y="1664.7" width="20.8" height="20.8" fill="rgb(5,5,5)"/>
<rect x="305.6" y="1664.7" width="20.8" height="20.8" fill="rgb(39,39,39)"/>
<rect x="325.9" y="1664.7" width="20.8" height="20.8" fill="rgb(16,16,16)"/>
<rect x="346.1" y="1664.7" width="20.8" height="20.8" fill="rgb(5,5,5)"/>
<rect x="366.4" y="1664.7" width="20.8" height="20.8" fill="rgb(11,11,11)"/>
</g>
<g filter="url(#bl)">
<ellipse cx="230.6" cy="1639.3" rx="8.8" ry="6.0" transform="rotate(7 230.6 1639.3)" fill="rgb(84,84,84)" stroke="#262626" stroke-width="0.9"/>
<ellipse cx="199.3" cy="1588.5" rx="10.8" ry="7.3" transform="rotate(108 199.3 1588.5)" fill="rgb(80,80,80)" stroke="#262626" stroke-width="0.9"/>
<ellipse cx="368.5" cy="1687.7" rx="8.8" ry="5.8" transform="rotate(164 368.5 1687.7)" fill="rgb(77,77,77)" stroke="#262626" stroke-width="0.9"/>
<ellipse cx="319.1" cy="1478.7" rx="11.4" ry="8.3" transform="rotate(83 319.1 1478.7)" fill="rgb(75,75,75)" stroke="#262626" stroke-width="0.9"/>
<ellipse cx="254.4" cy="1476.8" rx="10.1" ry="8.4" transform="rotate(100 254.4 1476.8)" fill="rgb(82,82,82)" stroke="#262626" stroke-width="0.9"/>
<ellipse cx="168.6" cy="1639.9" rx="9.5" ry="8.0" transform="rotate(159 168.6 1639.9)" fill="rgb(77,77,77)" stroke="#262626" stroke-width="0.9"/>
<ellipse cx="299.1" cy="1652.1" rx="9.7" ry="8.2" transform="rotate(130 299.1 1652.1)" fill="rgb(83,83,83)" stroke="#262626" stroke-width="0.9"/>
<ellipse cx="257.0" cy="1629.1" rx="9.6" ry="7.2" transform="rotate(55 257.0 1629.1)" fill="rgb(86,86,86)" stroke="#262626" stroke-width="0.9"/>
<ellipse cx="343.1" cy="1354.2" rx="10.6" ry="7.3" transform="rotate(85 343.1 1354.2)" fill="rgb(74,74,74)" stroke="#262626" stroke-width="0.9"/>
<ellipse cx="320.9" cy="1508.9" rx="9.5" ry="7.3" transform="rotate(154 320.9 1508.9)" fill="rgb(86,86,86)" stroke="#262626" stroke-width="0.9"/>
<ellipse cx="368.7" cy="1607.4" rx="9.6" ry="8.0" transform="rotate(47 368.7 1607.4)" fill="rgb(81,81,81)" stroke="#262626" stroke-width="0.9"/>
<ellipse cx="334.8" cy="1510.5" rx="9.1" ry="7.6" transform="rotate(102 334.8 1510.5)" fill="rgb(78,78,78)" stroke="#262626" stroke-width="0.9"/>
<ellipse cx="171.7" cy="1683.6" rx="11.5" ry="8.7" transform="rotate(164 171.7 1683.6)" fill="rgb(92,92,92)" stroke="#262626" stroke-width="0.9"/>
<ellipse cx="300.2" cy="1564.4" rx="9.2" ry="6.3" transform="rotate(172 300.2 1564.4)" fill="rgb(77,77,77)" stroke="#262626" stroke-width="0.9"/>
<ellipse cx="202.6" cy="1407.0" rx="10.7" ry="9.0" transform="rotate(180 202.6 1407.0)" fill="rgb(94,94,94)" stroke="#262626" stroke-width="0.9"/>
<ellipse cx="289.8" cy="1606.1" rx="11.3" ry="8.5" transform="rotate(32 289.8 1606.1)" fill="rgb(84,84,84)" stroke="#262626" stroke-width="0.9"/>
<ellipse cx="290.2" cy="1664.1" rx="10.1" ry="7.6" transform="rotate(130 290.2 1664.1)" fill="rgb(77,77,77)" stroke="#262626" stroke-width="0.9"/>
<ellipse cx="336.0" cy="1632.1" rx="9.9" ry="6.7" transform="rotate(91 336.0 1632.1)" fill="rgb(84,84,84)" stroke="#262626" stroke-width="0.9"/>
<ellipse cx="252.3" cy="1491.6" rx="10.7" ry="7.3" transform="rotate(31 252.3 1491.6)" fill="rgb(93,93,93)" stroke="#262626" stroke-width="0.9"/>
<ellipse cx="244.1" cy="1600.2" rx="8.8" ry="6.1" transform="rotate(30 244.1 1600.2)" fill="rgb(78,78,78)" stroke="#262626" stroke-width="0.9"/>
<ellipse cx="191.8" cy="1390.6" rx="10.7" ry="7.3" transform="rotate(140 191.8 1390.6)" fill="rgb(92,92,92)" stroke="#262626" stroke-width="0.9"/>
<ellipse cx="293.2" cy="1643.0" rx="10.2" ry="7.8" transform="rotate(80 293.2 1643.0)" fill="rgb(77,77,77)" stroke="#262626" stroke-width="0.9"/>
<ellipse cx="211.7" cy="1563.8" rx="9.7" ry="8.1" transform="rotate(78 211.7 1563.8)" fill="rgb(78,78,78)" stroke="#262626" stroke-width="0.9"/>
<ellipse cx="320.0" cy="1466.8" rx="8.8" ry="6.6" transform="rotate(147 320.0 1466.8)" fill="rgb(82,82,82)" stroke="#262626" stroke-width="0.9"/>
<ellipse cx="346.8" cy="1586.9" rx="9.1" ry="7.1" transform="rotate(49 346.8 1586.9)" fill="rgb(83,83,83)" stroke="#262626" stroke-width="0.9"/>
<ellipse cx="257.1" cy="1401.7" rx="8.9" ry="7.1" transform="rotate(54 257.1 1401.7)" fill="rgb(87,87,87)" stroke="#262626" stroke-width="0.9"/>
<ellipse cx="335.6" cy="1543.5" rx="11.5" ry="8.0" transform="rotate(132 335.6 1543.5)" fill="rgb(89,89,89)" stroke="#262626" stroke-width="0.9"/>
<ellipse cx="268.0" cy="1554.8" rx="8.5" ry="7.1" transform="rotate(168 268.0 1554.8)" fill="rgb(92,92,92)" stroke="#262626" stroke-width="0.9"/>
<ellipse cx="142.6" cy="1479.4" rx="10.0" ry="8.2" transform="rotate(7 142.6 1479.4)" fill="rgb(87,87,87)" stroke="#262626" stroke-width="0.9"/>
<ellipse cx="321.7" cy="1606.8" rx="9.2" ry="6.7" transform="rotate(151 321.7 1606.8)" fill="rgb(84,84,84)" stroke="#262626" stroke-width="0.9"/>
<ellipse cx="376.6" cy="1530.0" rx="10.8" ry="8.1" transform="rotate(31 376.6 1530.0)" fill="rgb(76,76,76)" stroke="#262626" stroke-width="0.9"/>
<ellipse cx="227.1" cy="1563.7" rx="11.0" ry="8.3" transform="rotate(48 227.1 1563.7)" fill="rgb(81,81,81)" stroke="#262626" stroke-width="0.9"/>
<ellipse cx="288.1" cy="1457.3" rx="8.5" ry="6.8" transform="rotate(65 288.1 1457.3)" fill="rgb(77,77,77)" stroke="#262626" stroke-width="0.9"/>
<ellipse cx="342.9" cy="1618.4" rx="9.9" ry="8.2" transform="rotate(37 342.9 1618.4)" fill="rgb(88,88,88)" stroke="#262626" stroke-width="0.9"/>
<ellipse cx="269.6" cy="1479.5" rx="9.4" ry="6.3" transform="rotate(47 269.6 1479.5)" fill="rgb(88,88,88)" stroke="#262626" stroke-width="0.9"/>
<ellipse cx="291.3" cy="1574.5" rx="9.0" ry="6.5" transform="rotate(173 291.3 1574.5)" fill="rgb(78,78,78)" stroke="#262626" stroke-width="0.9"/>
<ellipse cx="179.4" cy="1444.5" rx="9.1" ry="6.6" transform="rotate(57 179.4 1444.5)" fill="rgb(73,73,73)" stroke="#262626" stroke-width="0.9"/>
<ellipse cx="244.0" cy="1588.4" rx="9.3" ry="7.5" transform="rotate(101 244.0 1588.4)" fill="rgb(79,79,79)" stroke="#262626" stroke-width="0.9"/>
<ellipse cx="291.0" cy="1648.8" rx="11.2" ry="7.5" transform="rotate(78 291.0 1648.8)" fill="rgb(88,88,88)" stroke="#262626" stroke-width="0.9"/>
<ellipse cx="230.6" cy="1407.7" rx="9.6" ry="6.4" transform="rotate(10 230.6 1407.7)" fill="rgb(82,82,82)" stroke="#262626" stroke-width="0.9"/>
<ellipse cx="91.2" cy="1575.0" rx="9.9" ry="7.1" transform="rotate(84 91.2 1575.0)" fill="rgb(77,77,77)" stroke="#262626" stroke-width="0.9"/>
<ellipse cx="325.6" cy="1363.1" rx="10.0" ry="8.2" transform="rotate(24 325.6 1363.1)" fill="rgb(76,76,76)" stroke="#262626" stroke-width="0.9"/>
<ellipse cx="308.7" cy="1380.6" rx="9.9" ry="8.0" transform="rotate(59 308.7 1380.6)" fill="rgb(79,79,79)" stroke="#262626" stroke-width="0.9"/>
<ellipse cx="391.8" cy="1671.6" rx="9.1" ry="6.6" transform="rotate(123 391.8 1671.6)" fill="rgb(87,87,87)" stroke="#262626" stroke-width="0.9"/>
<ellipse cx="379.1" cy="1577.4" rx="9.2" ry="7.2" transform="rotate(107 379.1 1577.4)" fill="rgb(91,91,91)" stroke="#262626" stroke-width="0.9"/>
<ellipse cx="103.7" cy="1633.8" rx="10.7" ry="8.1" transform="rotate(148 103.7 1633.8)" fill="rgb(85,85,85)" stroke="#262626" stroke-width="0.9"/>
<ellipse cx="389.9" cy="1601.6" rx="8.6" ry="7.1" transform="rotate(160 389.9 1601.6)" fill="rgb(78,78,78)" stroke="#262626" stroke-width="0.9"/>
<ellipse cx="279.6" cy="1430.1" rx="9.9" ry="7.4" transform="rotate(0 279.6 1430.1)" fill="rgb(82,82,82)" stroke="#262626" stroke-width="0.9"/>
<ellipse cx="266.8" cy="1452.6" rx="11.5" ry="8.1" transform="rotate(130 266.8 1452.6)" fill="rgb(81,81,81)" stroke="#262626" stroke-width="0.9"/>
<ellipse cx="164.3" cy="1552.8" rx="9.3" ry="6.9" transform="rotate(13 164.3 1552.8)" fill="rgb(73,73,73)" stroke="#262626" stroke-width="0.9"/>
<ellipse cx="231.1" cy="1465.0" rx="9.4" ry="7.8" transform="rotate(99 231.1 1465.0)" fill="rgb(92,92,92)" stroke="#262626" stroke-width="0.9"/>
<ellipse cx="155.2" cy="1664.1" rx="9.3" ry="7.5" transform="rotate(42 155.2 1664.1)" fill="rgb(82,82,82)" stroke="#262626" stroke-width="0.9"/>
<ellipse cx="334.3" cy="1409.6" rx="9.2" ry="6.6" transform="rotate(110 334.3 1409.6)" fill="rgb(83,83,83)" stroke="#262626" stroke-width="0.9"/>
<ellipse cx="157.7" cy="1518.4" rx="10.6" ry="7.5" transform="rotate(149 157.7 1518.4)" fill="rgb(83,83,83)" stroke="#262626" stroke-width="0.9"/>
<ellipse cx="286.1" cy="1477.9" rx="11.0" ry="8.5" transform="rotate(9 286.1 1477.9)" fill="rgb(89,89,89)" stroke="#262626" stroke-width="0.9"/>
<ellipse cx="303.8" cy="1469.4" rx="11.5" ry="8.1" transform="rotate(30 303.8 1469.4)" fill="rgb(78,78,78)" stroke="#262626" stroke-width="0.9"/>
<ellipse cx="112.9" cy="1500.9" rx="10.6" ry="8.7" transform="rotate(123 112.9 1500.9)" fill="rgb(75,75,75)" stroke="#262626" stroke-width="0.9"/>
<ellipse cx="288.1" cy="1401.3" rx="10.9" ry="7.4" transform="rotate(1 288.1 1401.3)" fill="rgb(86,86,86)" stroke="#262626" stroke-width="0.9"/>
<ellipse cx="148.1" cy="1688.3" rx="8.7" ry="6.8" transform="rotate(26 148.1 1688.3)" fill="rgb(73,73,73)" stroke="#262626" stroke-width="0.9"/>
<ellipse cx="290.7" cy="1495.8" rx="10.1" ry="6.7" transform="rotate(115 290.7 1495.8)" fill="rgb(78,78,78)" stroke="#262626" stroke-width="0.9"/>
<ellipse cx="335.6" cy="1534.6" rx="9.6" ry="7.1" transform="rotate(109 335.6 1534.6)" fill="rgb(89,89,89)" stroke="#262626" stroke-width="0.9"/>
<ellipse cx="123.2" cy="1663.8" rx="8.6" ry="5.8" transform="rotate(9 123.2 1663.8)" fill="rgb(78,78,78)" stroke="#262626" stroke-width="0.9"/>
<ellipse cx="384.3" cy="1649.1" rx="10.7" ry="7.0" transform="rotate(81 384.3 1649.1)" fill="rgb(86,86,86)" stroke="#262626" stroke-width="0.9"/>
<ellipse cx="114.9" cy="1510.0" rx="11.5" ry="8.8" transform="rotate(71 114.9 1510.0)" fill="rgb(88,88,88)" stroke="#262626" stroke-width="0.9"/>
<ellipse cx="333.1" cy="1585.4" rx="9.9" ry="7.7" transform="rotate(176 333.1 1585.4)" fill="rgb(84,84,84)" stroke="#262626" stroke-width="0.9"/>
<ellipse cx="175.5" cy="1584.2" rx="10.4" ry="8.3" transform="rotate(64 175.5 1584.2)" fill="rgb(85,85,85)" stroke="#262626" stroke-width="0.9"/>
<ellipse cx="390.4" cy="1521.1" rx="11.1" ry="7.9" transform="rotate(170 390.4 1521.1)" fill="rgb(77,77,77)" stroke="#262626" stroke-width="0.9"/>
<ellipse cx="201.1" cy="1401.5" rx="9.7" ry="7.9" transform="rotate(29 201.1 1401.5)" fill="rgb(87,87,87)" stroke="#262626" stroke-width="0.9"/>
<ellipse cx="158.4" cy="1489.6" rx="9.3" ry="6.9" transform="rotate(122 158.4 1489.6)" fill="rgb(90,90,90)" stroke="#262626" stroke-width="0.9"/>
<ellipse cx="290.1" cy="1370.2" rx="8.6" ry="6.9" transform="rotate(62 290.1 1370.2)" fill="rgb(74,74,74)" stroke="#262626" stroke-width="0.9"/>
<ellipse cx="269.8" cy="1577.5" rx="10.0" ry="7.4" transform="rotate(119 269.8 1577.5)" fill="rgb(78,78,78)" stroke="#262626" stroke-width="0.9"/>
<ellipse cx="300.8" cy="1458.5" rx="11.1" ry="7.4" transform="rotate(175 300.8 1458.5)" fill="rgb(82,82,82)" stroke="#262626" stroke-width="0.9"/>
<ellipse cx="290.9" cy="1522.2" rx="8.9" ry="6.0" transform="rotate(8 290.9 1522.2)" fill="rgb(79,79,79)" stroke="#262626" stroke-width="0.9"/>
<ellipse cx="346.3" cy="1577.8" rx="8.9" ry="7.3" transform="rotate(36 346.3 1577.8)" fill="rgb(81,81,81)" stroke="#262626" stroke-width="0.9"/>
<ellipse cx="289.9" cy="1534.7" rx="9.8" ry="6.7" transform="rotate(65 289.9 1534.7)" fill="rgb(80,80,80)" stroke="#262626" stroke-width="0.9"/>
<ellipse cx="248.1" cy="1401.6" rx="9.4" ry="7.0" transform="rotate(179 248.1 1401.6)" fill="rgb(93,93,93)" stroke="#262626" stroke-width="0.9"/>
<ellipse cx="154.8" cy="1639.8" rx="10.9" ry="8.8" transform="rotate(69 154.8 1639.8)" fill="rgb(80,80,80)" stroke="#262626" stroke-width="0.9"/>
<ellipse cx="124.0" cy="1576.2" rx="11.1" ry="8.6" transform="rotate(160 124.0 1576.2)" fill="rgb(80,80,80)" stroke="#262626" stroke-width="0.9"/>
<ellipse cx="279.1" cy="1495.6" rx="10.7" ry="7.8" transform="rotate(58 279.1 1495.6)" fill="rgb(78,78,78)" stroke="#262626" stroke-width="0.9"/>
<ellipse cx="236.0" cy="1522.4" rx="9.2" ry="7.1" transform="rotate(112 236.0 1522.4)" fill="rgb(79,79,79)" stroke="#262626" stroke-width="0.9"/>
<ellipse cx="268.4" cy="1622.4" rx="8.7" ry="5.8" transform="rotate(54 268.4 1622.4)" fill="rgb(85,85,85)" stroke="#262626" stroke-width="0.9"/>
<ellipse cx="373.7" cy="1609.3" rx="10.9" ry="9.0" transform="rotate(75 373.7 1609.3)" fill="rgb(77,77,77)" stroke="#262626" stroke-width="0.9"/>
<ellipse cx="253.1" cy="1433.0" rx="9.0" ry="7.1" transform="rotate(80 253.1 1433.0)" fill="rgb(90,90,90)" stroke="#262626" stroke-width="0.9"/>
<ellipse cx="241.6" cy="1509.6" rx="9.1" ry="7.6" transform="rotate(179 241.6 1509.6)" fill="rgb(87,87,87)" stroke="#262626" stroke-width="0.9"/>
<ellipse cx="179.9" cy="1629.4" rx="11.1" ry="7.7" transform="rotate(18 179.9 1629.4)" fill="rgb(89,89,89)" stroke="#262626" stroke-width="0.9"/>
<ellipse cx="100.9" cy="1590.2" rx="10.1" ry="6.6" transform="rotate(115 100.9 1590.2)" fill="rgb(82,82,82)" stroke="#262626" stroke-width="0.9"/>
<ellipse cx="299.7" cy="1444.0" rx="11.2" ry="8.0" transform="rotate(51 299.7 1444.0)" fill="rgb(86,86,86)" stroke="#262626" stroke-width="0.9"/>
<ellipse cx="319.2" cy="1598.2" rx="10.3" ry="6.9" transform="rotate(104 319.2 1598.2)" fill="rgb(75,75,75)" stroke="#262626" stroke-width="0.9"/>
<ellipse cx="149.6" cy="1630.6" rx="11.4" ry="8.4" transform="rotate(124 149.6 1630.6)" fill="rgb(77,77,77)" stroke="#262626" stroke-width="0.9"/>
<ellipse cx="289.6" cy="1555.3" rx="9.3" ry="6.4" transform="rotate(117 289.6 1555.3)" fill="rgb(88,88,88)" stroke="#262626" stroke-width="0.9"/>
<ellipse cx="245.3" cy="1456.4" rx="10.9" ry="8.3" transform="rotate(53 245.3 1456.4)" fill="rgb(88,88,88)" stroke="#262626" stroke-width="0.9"/>
<ellipse cx="187.4" cy="1653.1" rx="9.4" ry="7.6" transform="rotate(163 187.4 1653.1)" fill="rgb(77,77,77)" stroke="#262626" stroke-width="0.9"/>
<ellipse cx="105.1" cy="1574.0" rx="11.3" ry="8.7" transform="rotate(106 105.1 1574.0)" fill="rgb(88,88,88)" stroke="#262626" stroke-width="0.9"/>
<ellipse cx="254.3" cy="1574.2" rx="10.0" ry="6.8" transform="rotate(38 254.3 1574.2)" fill="rgb(89,89,89)" stroke="#262626" stroke-width="0.9"/>
<ellipse cx="203.7" cy="1442.7" rx="10.3" ry="8.1" transform="rotate(94 203.7 1442.7)" fill="rgb(88,88,88)" stroke="#262626" stroke-width="0.9"/>
<ellipse cx="202.4" cy="1650.5" rx="11.3" ry="7.7" transform="rotate(164 202.4 1650.5)" fill="rgb(75,75,75)" stroke="#262626" stroke-width="0.9"/>
<ellipse cx="354.6" cy="1518.5" rx="9.8" ry="7.0" transform="rotate(142 354.6 1518.5)" fill="rgb(84,84,84)" stroke="#262626" stroke-width="0.9"/>
<ellipse cx="257.5" cy="1414.1" rx="8.9" ry="6.3" transform="rotate(102 257.5 1414.1)" fill="rgb(94,94,94)" stroke="#262626" stroke-width="0.9"/>
<ellipse cx="256.2" cy="1521.9" rx="9.2" ry="6.4" transform="rotate(128 256.2 1521.9)" fill="rgb(84,84,84)" stroke="#262626" stroke-width="0.9"/>
<ellipse cx="69.3" cy="1546.5" rx="8.8" ry="6.0" transform="rotate(59 69.3 1546.5)" fill="rgb(82,82,82)" stroke="#262626" stroke-width="0.9"/>
<ellipse cx="279.1" cy="1541.4" rx="10.5" ry="7.3" transform="rotate(152 279.1 1541.4)" fill="rgb(93,93,93)" stroke="#262626" stroke-width="0.9"/>
<ellipse cx="147.6" cy="1557.6" rx="9.4" ry="6.2" transform="rotate(74 147.6 1557.6)" fill="rgb(79,79,79)" stroke="#262626" stroke-width="0.9"/>
<ellipse cx="237.0" cy="1489.2" rx="9.5" ry="7.6" transform="rotate(91 237.0 1489.2)" fill="rgb(74,74,74)" stroke="#262626" stroke-width="0.9"/>
<ellipse cx="215.0" cy="1408.6" rx="10.4" ry="8.8" transform="rotate(128 215.0 1408.6)" fill="rgb(83,83,83)" stroke="#262626" stroke-width="0.9"/>
<ellipse cx="308.3" cy="1545.3" rx="10.7" ry="8.6" transform="rotate(70 308.3 1545.3)" fill="rgb(81,81,81)" stroke="#262626" stroke-width="0.9"/>
<ellipse cx="235.6" cy="1598.9" rx="8.7" ry="7.3" transform="rotate(142 235.6 1598.9)" fill="rgb(90,90,90)" stroke="#262626" stroke-width="0.9"/>
<ellipse cx="268.8" cy="1444.2" rx="10.6" ry="7.7" transform="rotate(160 268.8 1444.2)" fill="rgb(83,83,83)" stroke="#262626" stroke-width="0.9"/>
<ellipse cx="112.9" cy="1587.8" rx="10.3" ry="7.7" transform="rotate(163 112.9 1587.8)" fill="rgb(75,75,75)" stroke="#262626" stroke-width="0.9"/>
<ellipse cx="275.4" cy="1408.7" rx="9.6" ry="7.7" transform="rotate(32 275.4 1408.7)" fill="rgb(79,79,79)" stroke="#262626" stroke-width="0.9"/>
<ellipse cx="242.3" cy="1442.5" rx="10.9" ry="8.0" transform="rotate(174 242.3 1442.5)" fill="rgb(90,90,90)" stroke="#262626" stroke-width="0.9"/>
<ellipse cx="362.8" cy="1486.5" rx="8.8" ry="6.4" transform="rotate(16 362.8 1486.5)" fill="rgb(82,82,82)" stroke="#262626" stroke-width="0.9"/>
<ellipse cx="368.4" cy="1524.3" rx="9.6" ry="6.7" transform="rotate(53 368.4 1524.3)" fill="rgb(92,92,92)" stroke="#262626" stroke-width="0.9"/>
<ellipse cx="231.3" cy="1431.7" rx="11.1" ry="9.3" transform="rotate(110 231.3 1431.7)" fill="rgb(86,86,86)" stroke="#262626" stroke-width="0.9"/>
<ellipse cx="247.7" cy="1376.6" rx="10.3" ry="6.7" transform="rotate(55 247.7 1376.6)" fill="rgb(79,79,79)" stroke="#262626" stroke-width="0.9"/>
<ellipse cx="148.7" cy="1643.5" rx="10.5" ry="8.7" transform="rotate(91 148.7 1643.5)" fill="rgb(73,73,73)" stroke="#262626" stroke-width="0.9"/>
<ellipse cx="375.4" cy="1645.6" rx="9.8" ry="7.6" transform="rotate(97 375.4 1645.6)" fill="rgb(77,77,77)" stroke="#262626" stroke-width="0.9"/>
<ellipse cx="335.5" cy="1621.8" rx="11.5" ry="9.6" transform="rotate(140 335.5 1621.8)" fill="rgb(84,84,84)" stroke="#262626" stroke-width="0.9"/>
<ellipse cx="216.2" cy="1520.0" rx="10.3" ry="7.1" transform="rotate(139 216.2 1520.0)" fill="rgb(85,85,85)" stroke="#262626" stroke-width="0.9"/>
<ellipse cx="202.6" cy="1420.1" rx="10.5" ry="8.4" transform="rotate(29 202.6 1420.1)" fill="rgb(85,85,85)" stroke="#262626" stroke-width="0.9"/>
<ellipse cx="329.5" cy="1477.3" rx="9.4" ry="6.3" transform="rotate(92 329.5 1477.3)" fill="rgb(80,80,80)" stroke="#262626" stroke-width="0.9"/>
<ellipse cx="158.6" cy="1500.1" rx="11.1" ry="8.8" transform="rotate(80 158.6 1500.1)" fill="rgb(81,81,81)" stroke="#262626" stroke-width="0.9"/>
<ellipse cx="179.7" cy="1576.2" rx="9.4" ry="7.1" transform="rotate(174 179.7 1576.2)" fill="rgb(82,82,82)" stroke="#262626" stroke-width="0.9"/>
<ellipse cx="337.0" cy="1519.3" rx="10.0" ry="6.6" transform="rotate(34 337.0 1519.3)" fill="rgb(84,84,84)" stroke="#262626" stroke-width="0.9"/>
<ellipse cx="103.2" cy="1651.4" rx="11.3" ry="7.9" transform="rotate(180 103.2 1651.4)" fill="rgb(78,78,78)" stroke="#262626" stroke-width="0.9"/>
<ellipse cx="290.6" cy="1562.7" rx="9.2" ry="7.7" transform="rotate(26 290.6 1562.7)" fill="rgb(82,82,82)" stroke="#262626" stroke-width="0.9"/>
<ellipse cx="377.6" cy="1521.8" rx="8.6" ry="6.8" transform="rotate(156 377.6 1521.8)" fill="rgb(79,79,79)" stroke="#262626" stroke-width="0.9"/>
<ellipse cx="193.2" cy="1639.9" rx="8.7" ry="6.2" transform="rotate(93 193.2 1639.9)" fill="rgb(81,81,81)" stroke="#262626" stroke-width="0.9"/>
<ellipse cx="214.8" cy="1431.9" rx="8.9" ry="5.9" transform="rotate(30 214.8 1431.9)" fill="rgb(87,87,87)" stroke="#262626" stroke-width="0.9"/>
<ellipse cx="299.1" cy="1432.5" rx="9.1" ry="7.4" transform="rotate(55 299.1 1432.5)" fill="rgb(92,92,92)" stroke="#262626" stroke-width="0.9"/>
<ellipse cx="124.7" cy="1634.6" rx="8.9" ry="6.2" transform="rotate(35 124.7 1634.6)" fill="rgb(77,77,77)" stroke="#262626" stroke-width="0.9"/>
<ellipse cx="142.5" cy="1544.3" rx="9.5" ry="6.6" transform="rotate(5 142.5 1544.3)" fill="rgb(70,70,70)" stroke="#262626" stroke-width="0.9"/>
<ellipse cx="182.4" cy="1642.4" rx="9.8" ry="6.8" transform="rotate(10 182.4 1642.4)" fill="rgb(86,86,86)" stroke="#262626" stroke-width="0.9"/>
<ellipse cx="208.5" cy="1446.0" rx="10.3" ry="8.5" transform="rotate(169 208.5 1446.0)" fill="rgb(92,92,92)" stroke="#262626" stroke-width="0.9"/>
<ellipse cx="83.7" cy="1590.4" rx="10.9" ry="7.4" transform="rotate(131 83.7 1590.4)" fill="rgb(81,81,81)" stroke="#262626" stroke-width="0.9"/>
<ellipse cx="224.8" cy="1519.7" rx="10.3" ry="8.0" transform="rotate(121 224.8 1519.7)" fill="rgb(90,90,90)" stroke="#262626" stroke-width="0.9"/>
<ellipse cx="255.3" cy="1389.7" rx="10.3" ry="7.2" transform="rotate(163 255.3 1389.7)" fill="rgb(75,75,75)" stroke="#262626" stroke-width="0.9"/>
<ellipse cx="311.7" cy="1589.3" rx="11.1" ry="7.6" transform="rotate(77 311.7 1589.3)" fill="rgb(80,80,80)" stroke="#262626" stroke-width="0.9"/>
<ellipse cx="352.8" cy="1587.9" rx="9.4" ry="7.8" transform="rotate(106 352.8 1587.9)" fill="rgb(93,93,93)" stroke="#262626" stroke-width="0.9"/>
<ellipse cx="99.0" cy="1510.8" rx="9.4" ry="7.3" transform="rotate(6 99.0 1510.8)" fill="rgb(85,85,85)" stroke="#262626" stroke-width="0.9"/>
<ellipse cx="133.7" cy="1632.9" rx="8.7" ry="7.4" transform="rotate(167 133.7 1632.9)" fill="rgb(80,80,80)" stroke="#262626" stroke-width="0.9"/>
<ellipse cx="199.5" cy="1507.2" rx="9.7" ry="8.1" transform="rotate(72 199.5 1507.2)" fill="rgb(84,84,84)" stroke="#262626" stroke-width="0.9"/>
<ellipse cx="388.7" cy="1480.6" rx="9.8" ry="6.8" transform="rotate(93 388.7 1480.6)" fill="rgb(76,76,76)" stroke="#262626" stroke-width="0.9"/>
<ellipse cx="343.1" cy="1465.8" rx="10.2" ry="7.1" transform="rotate(82 343.1 1465.8)" fill="rgb(67,67,67)" stroke="#262626" stroke-width="0.9"/>
<ellipse cx="248.4" cy="1385.7" rx="11.4" ry="8.5" transform="rotate(99 248.4 1385.7)" fill="rgb(89,89,89)" stroke="#262626" stroke-width="0.9"/>
<ellipse cx="116.4" cy="1557.2" rx="9.8" ry="8.0" transform="rotate(69 116.4 1557.2)" fill="rgb(79,79,79)" stroke="#262626" stroke-width="0.9"/>
<ellipse cx="210.6" cy="1672.2" rx="8.9" ry="6.0" transform="rotate(31 210.6 1672.2)" fill="rgb(82,82,82)" stroke="#262626" stroke-width="0.9"/>
<ellipse cx="191.9" cy="1502.4" rx="10.7" ry="8.5" transform="rotate(84 191.9 1502.4)" fill="rgb(85,85,85)" stroke="#262626" stroke-width="0.9"/>
<ellipse cx="320.5" cy="1533.0" rx="11.2" ry="8.8" transform="rotate(7 320.5 1533.0)" fill="rgb(88,88,88)" stroke="#262626" stroke-width="0.9"/>
<ellipse cx="236.0" cy="1619.3" rx="9.7" ry="7.7" transform="rotate(33 236.0 1619.3)" fill="rgb(86,86,86)" stroke="#262626" stroke-width="0.9"/>
<ellipse cx="222.2" cy="1418.3" rx="11.5" ry="8.5" transform="rotate(140 222.2 1418.3)" fill="rgb(84,84,84)" stroke="#262626" stroke-width="0.9"/>
<ellipse cx="165.4" cy="1396.5" rx="11.0" ry="8.6" transform="rotate(69 165.4 1396.5)" fill="rgb(80,80,80)" stroke="#262626" stroke-width="0.9"/>
<ellipse cx="238.1" cy="1630.6" rx="11.1" ry="9.1" transform="rotate(167 238.1 1630.6)" fill="rgb(89,89,89)" stroke="#262626" stroke-width="0.9"/>
<ellipse cx="157.1" cy="1424.9" rx="10.4" ry="7.6" transform="rotate(84 157.1 1424.9)" fill="rgb(72,72,72)" stroke="#262626" stroke-width="0.9"/>
<ellipse cx="192.4" cy="1462.4" rx="10.6" ry="6.9" transform="rotate(74 192.4 1462.4)" fill="rgb(82,82,82)" stroke="#262626" stroke-width="0.9"/>
<ellipse cx="233.7" cy="1585.9" rx="11.4" ry="9.6" transform="rotate(27 233.7 1585.9)" fill="rgb(89,89,89)" stroke="#262626" stroke-width="0.9"/>
<ellipse cx="303.1" cy="1609.8" rx="10.4" ry="8.6" transform="rotate(57 303.1 1609.8)" fill="rgb(84,84,84)" stroke="#262626" stroke-width="0.9"/>
<ellipse cx="244.9" cy="1544.5" rx="9.4" ry="6.2" transform="rotate(51 244.9 1544.5)" fill="rgb(89,89,89)" stroke="#262626" stroke-width="0.9"/>
<ellipse cx="366.0" cy="1588.4" rx="10.0" ry="7.3" transform="rotate(105 366.0 1588.4)" fill="rgb(85,85,85)" stroke="#262626" stroke-width="0.9"/>
<ellipse cx="200.7" cy="1389.8" rx="10.8" ry="8.4" transform="rotate(130 200.7 1389.8)" fill="rgb(78,78,78)" stroke="#262626" stroke-width="0.9"/>
<ellipse cx="70.4" cy="1610.7" rx="8.7" ry="6.2" transform="rotate(159 70.4 1610.7)" fill="rgb(82,82,82)" stroke="#262626" stroke-width="0.9"/>
<ellipse cx="203.8" cy="1452.4" rx="9.5" ry="6.5" transform="rotate(160 203.8 1452.4)" fill="rgb(81,81,81)" stroke="#262626" stroke-width="0.9"/>
<ellipse cx="325.6" cy="1578.3" rx="9.3" ry="7.7" transform="rotate(30 325.6 1578.3)" fill="rgb(86,86,86)" stroke="#262626" stroke-width="0.9"/>
<ellipse cx="150.2" cy="1651.8" rx="10.4" ry="7.6" transform="rotate(161 150.2 1651.8)" fill="rgb(87,87,87)" stroke="#262626" stroke-width="0.9"/>
<ellipse cx="303.6" cy="1630.1" rx="10.6" ry="7.1" transform="rotate(162 303.6 1630.1)" fill="rgb(80,80,80)" stroke="#262626" stroke-width="0.9"/>
<ellipse cx="169.0" cy="1500.5" rx="11.1" ry="7.3" transform="rotate(148 169.0 1500.5)" fill="rgb(78,78,78)" stroke="#262626" stroke-width="0.9"/>
<ellipse cx="105.3" cy="1689.4" rx="9.7" ry="7.3" transform="rotate(52 105.3 1689.4)" fill="rgb(84,84,84)" stroke="#262626" stroke-width="0.9"/>
<ellipse cx="389.4" cy="1510.3" rx="11.3" ry="9.6" transform="rotate(3 389.4 1510.3)" fill="rgb(76,76,76)" stroke="#262626" stroke-width="0.9"/>
<ellipse cx="232.8" cy="1508.5" rx="10.3" ry="7.1" transform="rotate(168 232.8 1508.5)" fill="rgb(78,78,78)" stroke="#262626" stroke-width="0.9"/>
<ellipse cx="277.9" cy="1620.8" rx="8.8" ry="7.2" transform="rotate(159 277.9 1620.8)" fill="rgb(84,84,84)" stroke="#262626" stroke-width="0.9"/>
<ellipse cx="192.5" cy="1431.8" rx="10.8" ry="7.0" transform="rotate(51 192.5 1431.8)" fill="rgb(82,82,82)" stroke="#262626" stroke-width="0.9"/>
<ellipse cx="330.0" cy="1600.0" rx="11.2" ry="9.5" transform="rotate(132 330.0 1600.0)" fill="rgb(78,78,78)" stroke="#262626" stroke-width="0.9"/>
<ellipse cx="266.3" cy="1598.7" rx="10.8" ry="8.0" transform="rotate(33 266.3 1598.7)" fill="rgb(88,88,88)" stroke="#262626" stroke-width="0.9"/>
<ellipse cx="292.1" cy="1675.1" rx="9.7" ry="7.8" transform="rotate(82 292.1 1675.1)" fill="rgb(72,72,72)" stroke="#262626" stroke-width="0.9"/>
<ellipse cx="310.2" cy="1353.1" rx="8.9" ry="5.9" transform="rotate(54 310.2 1353.1)" fill="rgb(71,71,71)" stroke="#262626" stroke-width="0.9"/>
<ellipse cx="264.1" cy="1612.4" rx="9.7" ry="8.0" transform="rotate(135 264.1 1612.4)" fill="rgb(77,77,77)" stroke="#262626" stroke-width="0.9"/>
<ellipse cx="158.2" cy="1557.5" rx="10.3" ry="7.0" transform="rotate(36 158.2 1557.5)" fill="rgb(75,75,75)" stroke="#262626" stroke-width="0.9"/>
<ellipse cx="209.2" cy="1556.7" rx="11.0" ry="7.2" transform="rotate(161 209.2 1556.7)" fill="rgb(90,90,90)" stroke="#262626" stroke-width="0.9"/>
<ellipse cx="167.7" cy="1528.6" rx="9.2" ry="7.8" transform="rotate(112 167.7 1528.6)" fill="rgb(91,91,91)" stroke="#262626" stroke-width="0.9"/>
<ellipse cx="259.5" cy="1590.4" rx="10.8" ry="7.6" transform="rotate(130 259.5 1590.4)" fill="rgb(80,80,80)" stroke="#262626" stroke-width="0.9"/>
<ellipse cx="256.8" cy="1463.9" rx="10.1" ry="8.1" transform="rotate(24 256.8 1463.9)" fill="rgb(92,92,92)" stroke="#262626" stroke-width="0.9"/>
<ellipse cx="352.0" cy="1568.7" rx="11.3" ry="8.8" transform="rotate(11 352.0 1568.7)" fill="rgb(82,82,82)" stroke="#262626" stroke-width="0.9"/>
<ellipse cx="186.6" cy="1597.6" rx="8.6" ry="6.7" transform="rotate(86 186.6 1597.6)" fill="rgb(84,84,84)" stroke="#262626" stroke-width="0.9"/>
<ellipse cx="198.6" cy="1682.1" rx="9.8" ry="6.4" transform="rotate(56 198.6 1682.1)" fill="rgb(84,84,84)" stroke="#262626" stroke-width="0.9"/>
<ellipse cx="159.1" cy="1477.7" rx="10.3" ry="7.2" transform="rotate(171 159.1 1477.7)" fill="rgb(77,77,77)" stroke="#262626" stroke-width="0.9"/>
<ellipse cx="214.8" cy="1637.8" rx="10.6" ry="8.2" transform="rotate(54 214.8 1637.8)" fill="rgb(75,75,75)" stroke="#262626" stroke-width="0.9"/>
<ellipse cx="332.8" cy="1490.2" rx="9.9" ry="7.5" transform="rotate(4 332.8 1490.2)" fill="rgb(89,89,89)" stroke="#262626" stroke-width="0.9"/>
<ellipse cx="237.8" cy="1423.0" rx="9.8" ry="8.3" transform="rotate(1 237.8 1423.0)" fill="rgb(80,80,80)" stroke="#262626" stroke-width="0.9"/>
<ellipse cx="221.9" cy="1429.1" rx="10.1" ry="8.1" transform="rotate(5 221.9 1429.1)" fill="rgb(82,82,82)" stroke="#262626" stroke-width="0.9"/>
<ellipse cx="77.1" cy="1577.3" rx="9.8" ry="7.3" transform="rotate(42 77.1 1577.3)" fill="rgb(88,88,88)" stroke="#262626" stroke-width="0.9"/>
<ellipse cx="254.0" cy="1529.7" rx="8.7" ry="6.6" transform="rotate(33 254.0 1529.7)" fill="rgb(91,91,91)" stroke="#262626" stroke-width="0.9"/>
<ellipse cx="176.1" cy="1499.6" rx="9.6" ry="6.5" transform="rotate(52 176.1 1499.6)" fill="rgb(73,73,73)" stroke="#262626" stroke-width="0.9"/>
<ellipse cx="312.1" cy="1489.9" rx="9.8" ry="7.7" transform="rotate(11 312.1 1489.9)" fill="rgb(84,84,84)" stroke="#262626" stroke-width="0.9"/>
<ellipse cx="341.1" cy="1497.4" rx="11.0" ry="8.2" transform="rotate(6 341.1 1497.4)" fill="rgb(91,91,91)" stroke="#262626" stroke-width="0.9"/>
<ellipse cx="169.5" cy="1418.4" rx="11.1" ry="9.1" transform="rotate(85 169.5 1418.4)" fill="rgb(79,79,79)" stroke="#262626" stroke-width="0.9"/>
<ellipse cx="270.5" cy="1510.9" rx="10.8" ry="9.0" transform="rotate(105 270.5 1510.9)" fill="rgb(88,88,88)" stroke="#262626" stroke-width="0.9"/>
<ellipse cx="191.6" cy="1589.1" rx="10.8" ry="8.3" transform="rotate(103 191.6 1589.1)" fill="rgb(73,73,73)" stroke="#262626" stroke-width="0.9"/>
<ellipse cx="191.8" cy="1576.7" rx="9.6" ry="7.5" transform="rotate(68 191.8 1576.7)" fill="rgb(84,84,84)" stroke="#262626" stroke-width="0.9"/>
<ellipse cx="190.3" cy="1617.2" rx="10.6" ry="8.8" transform="rotate(118 190.3 1617.2)" fill="rgb(77,77,77)" stroke="#262626" stroke-width="0.9"/>
<ellipse cx="165.0" cy="1430.8" rx="8.8" ry="6.4" transform="rotate(104 165.0 1430.8)" fill="rgb(78,78,78)" stroke="#262626" stroke-width="0.9"/>
<ellipse cx="315.3" cy="1556.2" rx="11.4" ry="9.5" transform="rotate(174 315.3 1556.2)" fill="rgb(79,79,79)" stroke="#262626" stroke-width="0.9"/>
<ellipse cx="150.2" cy="1532.2" rx="9.4" ry="6.3" transform="rotate(77 150.2 1532.2)" fill="rgb(89,89,89)" stroke="#262626" stroke-width="0.9"/>
<ellipse cx="263.7" cy="1461.9" rx="9.1" ry="6.4" transform="rotate(129 263.7 1461.9)" fill="rgb(84,84,84)" stroke="#262626" stroke-width="0.9"/>
<ellipse cx="373.6" cy="1484.3" rx="9.1" ry="7.5" transform="rotate(70 373.6 1484.3)" fill="rgb(76,76,76)" stroke="#262626" stroke-width="0.9"/>
<ellipse cx="270.8" cy="1411.2" rx="9.2" ry="6.1" transform="rotate(42 270.8 1411.2)" fill="rgb(88,88,88)" stroke="#262626" stroke-width="0.9"/>
<ellipse cx="278.4" cy="1476.7" rx="10.6" ry="7.1" transform="rotate(146 278.4 1476.7)" fill="rgb(80,80,80)" stroke="#262626" stroke-width="0.9"/>
<ellipse cx="158.3" cy="1629.2" rx="10.3" ry="8.2" transform="rotate(6 158.3 1629.2)" fill="rgb(84,84,84)" stroke="#262626" stroke-width="0.9"/>
<ellipse cx="352.4" cy="1545.7" rx="10.4" ry="7.0" transform="rotate(6 352.4 1545.7)" fill="rgb(77,77,77)" stroke="#262626" stroke-width="0.9"/>
<ellipse cx="219.5" cy="1401.1" rx="11.4" ry="8.0" transform="rotate(7 219.5 1401.1)" fill="rgb(82,82,82)" stroke="#262626" stroke-width="0.9"/>
<ellipse cx="230.4" cy="1400.1" rx="9.3" ry="7.8" transform="rotate(141 230.4 1400.1)" fill="rgb(85,85,85)" stroke="#262626" stroke-width="0.9"/>
<ellipse cx="269.9" cy="1489.0" rx="9.7" ry="7.5" transform="rotate(41 269.9 1489.0)" fill="rgb(85,85,85)" stroke="#262626" stroke-width="0.9"/>
<ellipse cx="265.2" cy="1424.2" rx="8.8" ry="6.5" transform="rotate(123 265.2 1424.2)" fill="rgb(79,79,79)" stroke="#262626" stroke-width="0.9"/>
<ellipse cx="189.5" cy="1527.9" rx="10.5" ry="7.6" transform="rotate(42 189.5 1527.9)" fill="rgb(86,86,86)" stroke="#262626" stroke-width="0.9"/>
<ellipse cx="210.7" cy="1397.8" rx="8.6" ry="7.2" transform="rotate(55 210.7 1397.8)" fill="rgb(88,88,88)" stroke="#262626" stroke-width="0.9"/>
<ellipse cx="330.1" cy="1497.6" rx="11.3" ry="7.6" transform="rotate(62 330.1 1497.6)" fill="rgb(82,82,82)" stroke="#262626" stroke-width="0.9"/>
<ellipse cx="211.1" cy="1632.5" rx="8.8" ry="5.7" transform="rotate(110 211.1 1632.5)" fill="rgb(85,85,85)" stroke="#262626" stroke-width="0.9"/>
<ellipse cx="189.7" cy="1411.1" rx="8.6" ry="6.9" transform="rotate(48 189.7 1411.1)" fill="rgb(80,80,80)" stroke="#262626" stroke-width="0.9"/>
<ellipse cx="209.9" cy="1491.4" rx="8.6" ry="6.4" transform="rotate(29 209.9 1491.4)" fill="rgb(88,88,88)" stroke="#262626" stroke-width="0.9"/>
<ellipse cx="125.8" cy="1617.7" rx="9.4" ry="6.4" transform="rotate(123 125.8 1617.7)" fill="rgb(78,78,78)" stroke="#262626" stroke-width="0.9"/>
<ellipse cx="186.6" cy="1478.5" rx="9.4" ry="7.1" transform="rotate(97 186.6 1478.5)" fill="rgb(79,79,79)" stroke="#262626" stroke-width="0.9"/>
<ellipse cx="280.6" cy="1418.2" rx="11.0" ry="8.1" transform="rotate(115 280.6 1418.2)" fill="rgb(80,80,80)" stroke="#262626" stroke-width="0.9"/>
<ellipse cx="308.8" cy="1517.8" rx="8.6" ry="6.9" transform="rotate(78 308.8 1517.8)" fill="rgb(93,93,93)" stroke="#262626" stroke-width="0.9"/>
<ellipse cx="183.1" cy="1650.8" rx="11.1" ry="8.9" transform="rotate(103 183.1 1650.8)" fill="rgb(80,80,80)" stroke="#262626" stroke-width="0.9"/>
<ellipse cx="114.8" cy="1596.7" rx="10.4" ry="8.5" transform="rotate(99 114.8 1596.7)" fill="rgb(73,73,73)" stroke="#262626" stroke-width="0.9"/>
<ellipse cx="235.9" cy="1363.5" rx="10.6" ry="7.5" transform="rotate(144 235.9 1363.5)" fill="rgb(75,75,75)" stroke="#262626" stroke-width="0.9"/>
<ellipse cx="249.1" cy="1520.1" rx="9.9" ry="8.2" transform="rotate(32 249.1 1520.1)" fill="rgb(91,91,91)" stroke="#262626" stroke-width="0.9"/>
<ellipse cx="159.0" cy="1605.4" rx="10.8" ry="7.7" transform="rotate(161 159.0 1605.4)" fill="rgb(77,77,77)" stroke="#262626" stroke-width="0.9"/>
<ellipse cx="222.2" cy="1502.7" rx="10.7" ry="7.7" transform="rotate(159 222.2 1502.7)" fill="rgb(83,83,83)" stroke="#262626" stroke-width="0.9"/>
<ellipse cx="132.6" cy="1488.8" rx="9.9" ry="7.2" transform="rotate(128 132.6 1488.8)" fill="rgb(77,77,77)" stroke="#262626" stroke-width="0.9"/>
<ellipse cx="285.8" cy="1596.9" rx="8.7" ry="6.6" transform="rotate(110 285.8 1596.9)" fill="rgb(89,89,89)" stroke="#262626" stroke-width="0.9"/>
<ellipse cx="347.9" cy="1532.6" rx="10.8" ry="9.0" transform="rotate(6 347.9 1532.6)" fill="rgb(78,78,78)" stroke="#262626" stroke-width="0.9"/>
<ellipse cx="320.3" cy="1556.0" rx="9.3" ry="7.6" transform="rotate(170 320.3 1556.0)" fill="rgb(83,83,83)" stroke="#262626" stroke-width="0.9"/>
<ellipse cx="226.5" cy="1476.5" rx="9.0" ry="6.2" transform="rotate(47 226.5 1476.5)" fill="rgb(83,83,83)" stroke="#262626" stroke-width="0.9"/>
<ellipse cx="315.2" cy="1419.1" rx="8.7" ry="6.9" transform="rotate(112 315.2 1419.1)" fill="rgb(87,87,87)" stroke="#262626" stroke-width="0.9"/>
<ellipse cx="187.4" cy="1400.8" rx="11.2" ry="8.1" transform="rotate(78 187.4 1400.8)" fill="rgb(84,84,84)" stroke="#262626" stroke-width="0.9"/>
<ellipse cx="81.7" cy="1555.6" rx="9.8" ry="6.7" transform="rotate(59 81.7 1555.6)" fill="rgb(84,84,84)" stroke="#262626" stroke-width="0.9"/>
<ellipse cx="200.0" cy="1490.8" rx="8.9" ry="6.5" transform="rotate(75 200.0 1490.8)" fill="rgb(80,80,80)" stroke="#262626" stroke-width="0.9"/>
<ellipse cx="275.1" cy="1454.6" rx="11.5" ry="8.7" transform="rotate(70 275.1 1454.6)" fill="rgb(84,84,84)" stroke="#262626" stroke-width="0.9"/>
<ellipse cx="368.4" cy="1473.7" rx="10.1" ry="6.7" transform="rotate(178 368.4 1473.7)" fill="rgb(85,85,85)" stroke="#262626" stroke-width="0.9"/>
<ellipse cx="300.9" cy="1508.1" rx="8.6" ry="6.0" transform="rotate(82 300.9 1508.1)" fill="rgb(80,80,80)" stroke="#262626" stroke-width="0.9"/>
<ellipse cx="325.0" cy="1634.7" rx="8.8" ry="5.9" transform="rotate(120 325.0 1634.7)" fill="rgb(79,79,79)" stroke="#262626" stroke-width="0.9"/>
<ellipse cx="287.4" cy="1631.0" rx="11.0" ry="7.5" transform="rotate(147 287.4 1631.0)" fill="rgb(87,87,87)" stroke="#262626" stroke-width="0.9"/>
<ellipse cx="357.0" cy="1490.6" rx="10.4" ry="6.8" transform="rotate(159 357.0 1490.6)" fill="rgb(92,92,92)" stroke="#262626" stroke-width="0.9"/>
<ellipse cx="157.1" cy="1533.7" rx="11.5" ry="7.7" transform="rotate(94 157.1 1533.7)" fill="rgb(77,77,77)" stroke="#262626" stroke-width="0.9"/>
<ellipse cx="183.1" cy="1561.4" rx="8.7" ry="6.3" transform="rotate(13 183.1 1561.4)" fill="rgb(80,80,80)" stroke="#262626" stroke-width="0.9"/>
<ellipse cx="246.2" cy="1352.8" rx="8.5" ry="7.0" transform="rotate(38 246.2 1352.8)" fill="rgb(74,74,74)" stroke="#262626" stroke-width="0.9"/>
<ellipse cx="309.1" cy="1677.0" rx="8.7" ry="6.7" transform="rotate(131 309.1 1677.0)" fill="rgb(83,83,83)" stroke="#262626" stroke-width="0.9"/>
<ellipse cx="142.5" cy="1616.1" rx="10.0" ry="7.0" transform="rotate(180 142.5 1616.1)" fill="rgb(75,75,75)" stroke="#262626" stroke-width="0.9"/>
<ellipse cx="276.1" cy="1554.2" rx="9.8" ry="8.1" transform="rotate(26 276.1 1554.2)" fill="rgb(85,85,85)" stroke="#262626" stroke-width="0.9"/>
<ellipse cx="138.5" cy="1474.2" rx="8.9" ry="5.9" transform="rotate(133 138.5 1474.2)" fill="rgb(76,76,76)" stroke="#262626" stroke-width="0.9"/>
<ellipse cx="132.9" cy="1643.3" rx="9.7" ry="7.2" transform="rotate(152 132.9 1643.3)" fill="rgb(84,84,84)" stroke="#262626" stroke-width="0.9"/>
<ellipse cx="248.6" cy="1499.7" rx="10.1" ry="6.9" transform="rotate(77 248.6 1499.7)" fill="rgb(90,90,90)" stroke="#262626" stroke-width="0.9"/>
<ellipse cx="363.9" cy="1529.6" rx="8.8" ry="5.8" transform="rotate(171 363.9 1529.6)" fill="rgb(83,83,83)" stroke="#262626" stroke-width="0.9"/>
<ellipse cx="236.8" cy="1458.8" rx="10.8" ry="7.4" transform="rotate(62 236.8 1458.8)" fill="rgb(83,83,83)" stroke="#262626" stroke-width="0.9"/>
<ellipse cx="169.0" cy="1653.1" rx="9.2" ry="7.1" transform="rotate(103 169.0 1653.1)" fill="rgb(80,80,80)" stroke="#262626" stroke-width="0.9"/>
<ellipse cx="313.3" cy="1430.7" rx="9.6" ry="6.7" transform="rotate(177 313.3 1430.7)" fill="rgb(72,72,72)" stroke="#262626" stroke-width="0.9"/>
<ellipse cx="242.4" cy="1476.7" rx="10.6" ry="7.8" transform="rotate(103 242.4 1476.7)" fill="rgb(77,77,77)" stroke="#262626" stroke-width="0.9"/>
<ellipse cx="280.7" cy="1446.2" rx="8.7" ry="7.3" transform="rotate(14 280.7 1446.2)" fill="rgb(91,91,91)" stroke="#262626" stroke-width="0.9"/>
<ellipse cx="197.4" cy="1468.4" rx="11.4" ry="8.8" transform="rotate(25 197.4 1468.4)" fill="rgb(86,86,86)" stroke="#262626" stroke-width="0.9"/>
<ellipse cx="247.8" cy="1682.5" rx="8.8" ry="7.2" transform="rotate(25 247.8 1682.5)" fill="rgb(86,86,86)" stroke="#262626" stroke-width="0.9"/>
<ellipse cx="102.1" cy="1521.6" rx="10.4" ry="7.1" transform="rotate(80 102.1 1521.6)" fill="rgb(76,76,76)" stroke="#262626" stroke-width="0.9"/>
<ellipse cx="203.8" cy="1640.0" rx="9.8" ry="6.6" transform="rotate(75 203.8 1640.0)" fill="rgb(82,82,82)" stroke="#262626" stroke-width="0.9"/>
<ellipse cx="142.5" cy="1468.0" rx="9.7" ry="8.0" transform="rotate(149 142.5 1468.0)" fill="rgb(84,84,84)" stroke="#262626" stroke-width="0.9"/>
<ellipse cx="370.2" cy="1572.8" rx="11.3" ry="9.4" transform="rotate(179 370.2 1572.8)" fill="rgb(83,83,83)" stroke="#262626" stroke-width="0.9"/>
<ellipse cx="156.9" cy="1655.5" rx="11.5" ry="9.7" transform="rotate(148 156.9 1655.5)" fill="rgb(86,86,86)" stroke="#262626" stroke-width="0.9"/>
<ellipse cx="287.1" cy="1440.3" rx="10.2" ry="8.3" transform="rotate(158 287.1 1440.3)" fill="rgb(90,90,90)" stroke="#262626" stroke-width="0.9"/>
<ellipse cx="180.7" cy="1531.6" rx="10.1" ry="6.9" transform="rotate(128 180.7 1531.6)" fill="rgb(76,76,76)" stroke="#262626" stroke-width="0.9"/>
<ellipse cx="189.3" cy="1425.3" rx="10.6" ry="8.3" transform="rotate(85 189.3 1425.3)" fill="rgb(82,82,82)" stroke="#262626" stroke-width="0.9"/>
<ellipse cx="296.8" cy="1674.8" rx="9.0" ry="7.7" transform="rotate(21 296.8 1674.8)" fill="rgb(83,83,83)" stroke="#262626" stroke-width="0.9"/>
<ellipse cx="233.0" cy="1374.5" rx="9.3" ry="7.5" transform="rotate(156 233.0 1374.5)" fill="rgb(85,85,85)" stroke="#262626" stroke-width="0.9"/>
<ellipse cx="276.5" cy="1577.9" rx="9.5" ry="7.8" transform="rotate(76 276.5 1577.9)" fill="rgb(77,77,77)" stroke="#262626" stroke-width="0.9"/>
<ellipse cx="254.1" cy="1509.4" rx="8.6" ry="5.8" transform="rotate(35 254.1 1509.4)" fill="rgb(86,86,86)" stroke="#262626" stroke-width="0.9"/>
<ellipse cx="256.8" cy="1544.0" rx="9.3" ry="6.2" transform="rotate(20 256.8 1544.0)" fill="rgb(80,80,80)" stroke="#262626" stroke-width="0.9"/>
<ellipse cx="375.5" cy="1597.0" rx="8.7" ry="6.3" transform="rotate(148 375.5 1597.0)" fill="rgb(88,88,88)" stroke="#262626" stroke-width="0.9"/>
<ellipse cx="356.2" cy="1623.3" rx="8.6" ry="5.8" transform="rotate(157 356.2 1623.3)" fill="rgb(90,90,90)" stroke="#262626" stroke-width="0.9"/>
<ellipse cx="352.9" cy="1533.7" rx="10.8" ry="8.3" transform="rotate(86 352.9 1533.7)" fill="rgb(80,80,80)" stroke="#262626" stroke-width="0.9"/>
<ellipse cx="169.3" cy="1506.7" rx="9.7" ry="7.2" transform="rotate(48 169.3 1506.7)" fill="rgb(77,77,77)" stroke="#262626" stroke-width="0.9"/>
<ellipse cx="384.5" cy="1551.9" rx="9.8" ry="7.1" transform="rotate(105 384.5 1551.9)" fill="rgb(74,74,74)" stroke="#262626" stroke-width="0.9"/>
<ellipse cx="210.1" cy="1531.7" rx="9.3" ry="6.5" transform="rotate(111 210.1 1531.7)" fill="rgb(86,86,86)" stroke="#262626" stroke-width="0.9"/>
<ellipse cx="314.7" cy="1508.4" rx="9.2" ry="7.1" transform="rotate(1 314.7 1508.4)" fill="rgb(77,77,77)" stroke="#262626" stroke-width="0.9"/>
<ellipse cx="342.7" cy="1523.3" rx="9.2" ry="7.2" transform="rotate(102 342.7 1523.3)" fill="rgb(92,92,92)" stroke="#262626" stroke-width="0.9"/>
<ellipse cx="258.3" cy="1616.6" rx="10.3" ry="8.4" transform="rotate(52 258.3 1616.6)" fill="rgb(77,77,77)" stroke="#262626" stroke-width="0.9"/>
<ellipse cx="213.0" cy="1389.8" rx="9.0" ry="7.3" transform="rotate(32 213.0 1389.8)" fill="rgb(79,79,79)" stroke="#262626" stroke-width="0.9"/>
<ellipse cx="278.1" cy="1564.1" rx="10.4" ry="8.6" transform="rotate(67 278.1 1564.1)" fill="rgb(81,81,81)" stroke="#262626" stroke-width="0.9"/>
<ellipse cx="226.2" cy="1678.7" rx="9.8" ry="6.7" transform="rotate(161 226.2 1678.7)" fill="rgb(78,78,78)" stroke="#262626" stroke-width="0.9"/>
<ellipse cx="226.7" cy="1442.0" rx="10.6" ry="7.1" transform="rotate(136 226.7 1442.0)" fill="rgb(88,88,88)" stroke="#262626" stroke-width="0.9"/>
<ellipse cx="88.4" cy="1508.2" rx="10.2" ry="7.8" transform="rotate(126 88.4 1508.2)" fill="rgb(69,69,69)" stroke="#262626" stroke-width="0.9"/>
<ellipse cx="116.3" cy="1628.3" rx="9.9" ry="7.0" transform="rotate(87 116.3 1628.3)" fill="rgb(74,74,74)" stroke="#262626" stroke-width="0.9"/>
<ellipse cx="215.8" cy="1454.5" rx="8.5" ry="7.2" transform="rotate(173 215.8 1454.5)" fill="rgb(83,83,83)" stroke="#262626" stroke-width="0.9"/>
<ellipse cx="137.4" cy="1606.8" rx="11.1" ry="8.9" transform="rotate(100 137.4 1606.8)" fill="rgb(74,74,74)" stroke="#262626" stroke-width="0.9"/>
<ellipse cx="214.1" cy="1598.9" rx="9.2" ry="7.5" transform="rotate(85 214.1 1598.9)" fill="rgb(89,89,89)" stroke="#262626" stroke-width="0.9"/>
<ellipse cx="374.1" cy="1650.1" rx="8.5" ry="5.6" transform="rotate(117 374.1 1650.1)" fill="rgb(79,79,79)" stroke="#262626" stroke-width="0.9"/>
<ellipse cx="88.9" cy="1541.9" rx="11.5" ry="8.1" transform="rotate(116 88.9 1541.9)" fill="rgb(70,70,70)" stroke="#262626" stroke-width="0.9"/>
<ellipse cx="242.8" cy="1609.6" rx="10.2" ry="7.4" transform="rotate(7 242.8 1609.6)" fill="rgb(79,79,79)" stroke="#262626" stroke-width="0.9"/>
<ellipse cx="212.5" cy="1544.1" rx="10.8" ry="8.5" transform="rotate(177 212.5 1544.1)" fill="rgb(86,86,86)" stroke="#262626" stroke-width="0.9"/>
<ellipse cx="321.9" cy="1682.2" rx="11.2" ry="9.0" transform="rotate(25 321.9 1682.2)" fill="rgb(79,79,79)" stroke="#262626" stroke-width="0.9"/>
<ellipse cx="314.4" cy="1622.8" rx="10.0" ry="6.8" transform="rotate(110 314.4 1622.8)" fill="rgb(79,79,79)" stroke="#262626" stroke-width="0.9"/>
<ellipse cx="157.2" cy="1584.9" rx="9.1" ry="7.7" transform="rotate(42 157.2 1584.9)" fill="rgb(78,78,78)" stroke="#262626" stroke-width="0.9"/>
<ellipse cx="300.0" cy="1414.5" rx="8.8" ry="6.7" transform="rotate(98 300.0 1414.5)" fill="rgb(88,88,88)" stroke="#262626" stroke-width="0.9"/>
<ellipse cx="288.8" cy="1462.6" rx="8.9" ry="7.4" transform="rotate(102 288.8 1462.6)" fill="rgb(85,85,85)" stroke="#262626" stroke-width="0.9"/>
<ellipse cx="345.2" cy="1674.6" rx="10.6" ry="8.6" transform="rotate(144 345.2 1674.6)" fill="rgb(76,76,76)" stroke="#262626" stroke-width="0.9"/>
<ellipse cx="342.4" cy="1594.0" rx="9.3" ry="6.7" transform="rotate(81 342.4 1594.0)" fill="rgb(93,93,93)" stroke="#262626" stroke-width="0.9"/>
<ellipse cx="297.7" cy="1661.5" rx="10.2" ry="7.9" transform="rotate(5 297.7 1661.5)" fill="rgb(79,79,79)" stroke="#262626" stroke-width="0.9"/>
<ellipse cx="216.2" cy="1650.4" rx="10.5" ry="7.4" transform="rotate(24 216.2 1650.4)" fill="rgb(81,81,81)" stroke="#262626" stroke-width="0.9"/>
<ellipse cx="287.4" cy="1585.2" rx="8.5" ry="6.6" transform="rotate(62 287.4 1585.2)" fill="rgb(77,77,77)" stroke="#262626" stroke-width="0.9"/>
<ellipse cx="194.0" cy="1678.4" rx="8.7" ry="7.4" transform="rotate(30 194.0 1678.4)" fill="rgb(88,88,88)" stroke="#262626" stroke-width="0.9"/>
<ellipse cx="235.8" cy="1446.5" rx="10.7" ry="8.3" transform="rotate(38 235.8 1446.5)" fill="rgb(95,95,95)" stroke="#262626" stroke-width="0.9"/>
<ellipse cx="246.8" cy="1419.2" rx="8.6" ry="7.0" transform="rotate(151 246.8 1419.2)" fill="rgb(89,89,89)" stroke="#262626" stroke-width="0.9"/>
<ellipse cx="310.0" cy="1577.6" rx="9.9" ry="7.7" transform="rotate(92 310.0 1577.6)" fill="rgb(85,85,85)" stroke="#262626" stroke-width="0.9"/>
<ellipse cx="209.5" cy="1513.1" rx="10.0" ry="6.8" transform="rotate(68 209.5 1513.1)" fill="rgb(84,84,84)" stroke="#262626" stroke-width="0.9"/>
<ellipse cx="376.1" cy="1544.8" rx="10.5" ry="7.7" transform="rotate(160 376.1 1544.8)" fill="rgb(74,74,74)" stroke="#262626" stroke-width="0.9"/>
<ellipse cx="88.9" cy="1607.7" rx="9.2" ry="6.2" transform="rotate(105 88.9 1607.7)" fill="rgb(82,82,82)" stroke="#262626" stroke-width="0.9"/>
<ellipse cx="299.8" cy="1551.1" rx="9.2" ry="6.6" transform="rotate(30 299.8 1551.1)" fill="rgb(92,92,92)" stroke="#262626" stroke-width="0.9"/>
<ellipse cx="307.5" cy="1440.7" rx="10.2" ry="7.9" transform="rotate(33 307.5 1440.7)" fill="rgb(80,80,80)" stroke="#262626" stroke-width="0.9"/>
<ellipse cx="337.0" cy="1672.7" rx="8.8" ry="6.4" transform="rotate(5 337.0 1672.7)" fill="rgb(85,85,85)" stroke="#262626" stroke-width="0.9"/>
<ellipse cx="110.1" cy="1662.9" rx="10.3" ry="7.1" transform="rotate(15 110.1 1662.9)" fill="rgb(80,80,80)" stroke="#262626" stroke-width="0.9"/>
<ellipse cx="300.4" cy="1498.6" rx="9.8" ry="6.7" transform="rotate(50 300.4 1498.6)" fill="rgb(90,90,90)" stroke="#262626" stroke-width="0.9"/>
<ellipse cx="291.1" cy="1623.2" rx="10.9" ry="8.2" transform="rotate(71 291.1 1623.2)" fill="rgb(86,86,86)" stroke="#262626" stroke-width="0.9"/>
<ellipse cx="255.5" cy="1611.5" rx="10.7" ry="8.9" transform="rotate(98 255.5 1611.5)" fill="rgb(86,86,86)" stroke="#262626" stroke-width="0.9"/>
<ellipse cx="232.8" cy="1572.9" rx="11.4" ry="8.2" transform="rotate(140 232.8 1572.9)" fill="rgb(85,85,85)" stroke="#262626" stroke-width="0.9"/>
<ellipse cx="267.1" cy="1495.7" rx="10.0" ry="8.1" transform="rotate(87 267.1 1495.7)" fill="rgb(79,79,79)" stroke="#262626" stroke-width="0.9"/>
<ellipse cx="210.5" cy="1476.0" rx="9.4" ry="7.0" transform="rotate(54 210.5 1476.0)" fill="rgb(87,87,87)" stroke="#262626" stroke-width="0.9"/>
<ellipse cx="233.7" cy="1568.2" rx="10.3" ry="7.3" transform="rotate(62 233.7 1568.2)" fill="rgb(91,91,91)" stroke="#262626" stroke-width="0.9"/>
<ellipse cx="94.0" cy="1532.0" rx="9.7" ry="6.5" transform="rotate(17 94.0 1532.0)" fill="rgb(76,76,76)" stroke="#262626" stroke-width="0.9"/>
<ellipse cx="311.5" cy="1643.4" rx="9.1" ry="7.5" transform="rotate(135 311.5 1643.4)" fill="rgb(77,77,77)" stroke="#262626" stroke-width="0.9"/>
<ellipse cx="192.7" cy="1456.5" rx="11.3" ry="9.5" transform="rotate(113 192.7 1456.5)" fill="rgb(80,80,80)" stroke="#262626" stroke-width="0.9"/>
<ellipse cx="259.4" cy="1563.2" rx="8.6" ry="6.7" transform="rotate(92 259.4 1563.2)" fill="rgb(77,77,77)" stroke="#262626" stroke-width="0.9"/>
<ellipse cx="367.0" cy="1665.1" rx="8.9" ry="6.0" transform="rotate(60 367.0 1665.1)" fill="rgb(80,80,80)" stroke="#262626" stroke-width="0.9"/>
<ellipse cx="169.7" cy="1451.7" rx="9.5" ry="6.9" transform="rotate(137 169.7 1451.7)" fill="rgb(85,85,85)" stroke="#262626" stroke-width="0.9"/>
<ellipse cx="288.7" cy="1429.2" rx="11.4" ry="7.5" transform="rotate(104 288.7 1429.2)" fill="rgb(93,93,93)" stroke="#262626" stroke-width="0.9"/>
<ellipse cx="182.8" cy="1685.3" rx="9.4" ry="8.0" transform="rotate(179 182.8 1685.3)" fill="rgb(80,80,80)" stroke="#262626" stroke-width="0.9"/>
<ellipse cx="299.0" cy="1478.9" rx="8.8" ry="7.2" transform="rotate(159 299.0 1478.9)" fill="rgb(85,85,85)" stroke="#262626" stroke-width="0.9"/>
<ellipse cx="101.4" cy="1550.8" rx="10.6" ry="7.0" transform="rotate(153 101.4 1550.8)" fill="rgb(75,75,75)" stroke="#262626" stroke-width="0.9"/>
<ellipse cx="226.4" cy="1543.7" rx="10.6" ry="7.2" transform="rotate(150 226.4 1543.7)" fill="rgb(86,86,86)" stroke="#262626" stroke-width="0.9"/>
<ellipse cx="222.3" cy="1468.0" rx="9.0" ry="6.7" transform="rotate(175 222.3 1468.0)" fill="rgb(80,80,80)" stroke="#262626" stroke-width="0.9"/>
<ellipse cx="270.0" cy="1565.9" rx="9.5" ry="6.6" transform="rotate(113 270.0 1565.9)" fill="rgb(77,77,77)" stroke="#262626" stroke-width="0.9"/>
<ellipse cx="319.0" cy="1675.9" rx="10.9" ry="8.4" transform="rotate(177 319.0 1675.9)" fill="rgb(79,79,79)" stroke="#262626" stroke-width="0.9"/>
<ellipse cx="143.8" cy="1419.4" rx="10.0" ry="8.3" transform="rotate(119 143.8 1419.4)" fill="rgb(77,77,77)" stroke="#262626" stroke-width="0.9"/>
<ellipse cx="179.2" cy="1430.8" rx="10.6" ry="8.6" transform="rotate(159 179.2 1430.8)" fill="rgb(77,77,77)" stroke="#262626" stroke-width="0.9"/>
<ellipse cx="233.3" cy="1550.7" rx="10.8" ry="8.5" transform="rotate(85 233.3 1550.7)" fill="rgb(84,84,84)" stroke="#262626" stroke-width="0.9"/>
<ellipse cx="286.9" cy="1423.4" rx="10.4" ry="7.2" transform="rotate(42 286.9 1423.4)" fill="rgb(88,88,88)" stroke="#262626" stroke-width="0.9"/>
<ellipse cx="190.4" cy="1443.8" rx="10.1" ry="8.0" transform="rotate(81 190.4 1443.8)" fill="rgb(78,78,78)" stroke="#262626" stroke-width="0.9"/>
<ellipse cx="121.0" cy="1612.6" rx="9.0" ry="6.4" transform="rotate(41 121.0 1612.6)" fill="rgb(79,79,79)" stroke="#262626" stroke-width="0.9"/>
<ellipse cx="362.5" cy="1642.6" rx="11.0" ry="7.8" transform="rotate(60 362.5 1642.6)" fill="rgb(88,88,88)" stroke="#262626" stroke-width="0.9"/>
<ellipse cx="232.3" cy="1678.2" rx="10.6" ry="8.5" transform="rotate(145 232.3 1678.2)" fill="rgb(84,84,84)" stroke="#262626" stroke-width="0.9"/>
<ellipse cx="212.9" cy="1423.1" rx="10.4" ry="8.6" transform="rotate(127 212.9 1423.1)" fill="rgb(88,88,88)" stroke="#262626" stroke-width="0.9"/>
<ellipse cx="354.0" cy="1630.9" rx="10.9" ry="8.7" transform="rotate(67 354.0 1630.9)" fill="rgb(84,84,84)" stroke="#262626" stroke-width="0.9"/>
<ellipse cx="363.7" cy="1551.1" rx="11.0" ry="8.6" transform="rotate(115 363.7 1551.1)" fill="rgb(81,81,81)" stroke="#262626" stroke-width="0.9"/>
<ellipse cx="318.3" cy="1487.2" rx="9.9" ry="6.8" transform="rotate(34 318.3 1487.2)" fill="rgb(81,81,81)" stroke="#262626" stroke-width="0.9"/>
<ellipse cx="270.9" cy="1590.6" rx="11.3" ry="7.8" transform="rotate(8 270.9 1590.6)" fill="rgb(83,83,83)" stroke="#262626" stroke-width="0.9"/>
<ellipse cx="280.5" cy="1522.0" rx="10.1" ry="8.2" transform="rotate(155 280.5 1522.0)" fill="rgb(81,81,81)" stroke="#262626" stroke-width="0.9"/>
<ellipse cx="378.8" cy="1506.4" rx="9.1" ry="6.7" transform="rotate(98 378.8 1506.4)" fill="rgb(79,79,79)" stroke="#262626" stroke-width="0.9"/>
<ellipse cx="78.6" cy="1671.9" rx="11.3" ry="7.9" transform="rotate(146 78.6 1671.9)" fill="rgb(79,79,79)" stroke="#262626" stroke-width="0.9"/>
<ellipse cx="271.3" cy="1651.4" rx="10.4" ry="6.8" transform="rotate(57 271.3 1651.4)" fill="rgb(91,91,91)" stroke="#262626" stroke-width="0.9"/>
<ellipse cx="341.9" cy="1511.1" rx="10.3" ry="7.2" transform="rotate(132 341.9 1511.1)" fill="rgb(82,82,82)" stroke="#262626" stroke-width="0.9"/>
<ellipse cx="313.0" cy="1476.1" rx="11.1" ry="7.4" transform="rotate(54 313.0 1476.1)" fill="rgb(80,80,80)" stroke="#262626" stroke-width="0.9"/>
<ellipse cx="332.3" cy="1661.4" rx="8.7" ry="5.9" transform="rotate(135 332.3 1661.4)" fill="rgb(85,85,85)" stroke="#262626" stroke-width="0.9"/>
<ellipse cx="291.4" cy="1509.6" rx="9.2" ry="6.1" transform="rotate(134 291.4 1509.6)" fill="rgb(83,83,83)" stroke="#262626" stroke-width="0.9"/>
<ellipse cx="235.7" cy="1531.5" rx="8.7" ry="5.9" transform="rotate(42 235.7 1531.5)" fill="rgb(93,93,93)" stroke="#262626" stroke-width="0.9"/>
<ellipse cx="298.3" cy="1599.3" rx="10.4" ry="8.7" transform="rotate(106 298.3 1599.3)" fill="rgb(91,91,91)" stroke="#262626" stroke-width="0.9"/>
<ellipse cx="315.1" cy="1498.9" rx="11.1" ry="9.1" transform="rotate(106 315.1 1498.9)" fill="rgb(79,79,79)" stroke="#262626" stroke-width="0.9"/>
<ellipse cx="315.1" cy="1651.7" rx="10.1" ry="6.6" transform="rotate(24 315.1 1651.7)" fill="rgb(81,81,81)" stroke="#262626" stroke-width="0.9"/>
<ellipse cx="303.3" cy="1356.8" rx="9.0" ry="7.6" transform="rotate(35 303.3 1356.8)" fill="rgb(80,80,80)" stroke="#262626" stroke-width="0.9"/>
<ellipse cx="281.5" cy="1630.8" rx="10.8" ry="9.0" transform="rotate(158 281.5 1630.8)" fill="rgb(85,85,85)" stroke="#262626" stroke-width="0.9"/>
<ellipse cx="265.0" cy="1645.5" rx="9.3" ry="6.8" transform="rotate(59 265.0 1645.5)" fill="rgb(91,91,91)" stroke="#262626" stroke-width="0.9"/>
<ellipse cx="226.9" cy="1363.5" rx="9.5" ry="7.4" transform="rotate(165 226.9 1363.5)" fill="rgb(81,81,81)" stroke="#262626" stroke-width="0.9"/>
<ellipse cx="384.7" cy="1620.3" rx="10.6" ry="7.1" transform="rotate(60 384.7 1620.3)" fill="rgb(89,89,89)" stroke="#262626" stroke-width="0.9"/>
<ellipse cx="175.7" cy="1620.9" rx="9.4" ry="6.5" transform="rotate(79 175.7 1620.9)" fill="rgb(82,82,82)" stroke="#262626" stroke-width="0.9"/>
<ellipse cx="231.5" cy="1480.8" rx="10.4" ry="7.7" transform="rotate(93 231.5 1480.8)" fill="rgb(89,89,89)" stroke="#262626" stroke-width="0.9"/>
<ellipse cx="104.5" cy="1612.4" rx="8.6" ry="6.2" transform="rotate(20 104.5 1612.4)" fill="rgb(71,71,71)" stroke="#262626" stroke-width="0.9"/>
<ellipse cx="135.3" cy="1689.6" rx="8.6" ry="6.6" transform="rotate(68 135.3 1689.6)" fill="rgb(73,73,73)" stroke="#262626" stroke-width="0.9"/>
<ellipse cx="234.5" cy="1606.7" rx="10.9" ry="7.5" transform="rotate(52 234.5 1606.7)" fill="rgb(78,78,78)" stroke="#262626" stroke-width="0.9"/>
<ellipse cx="249.1" cy="1554.3" rx="10.3" ry="7.2" transform="rotate(35 249.1 1554.3)" fill="rgb(81,81,81)" stroke="#262626" stroke-width="0.9"/>
<ellipse cx="387.6" cy="1612.1" rx="9.9" ry="7.3" transform="rotate(25 387.6 1612.1)" fill="rgb(91,91,91)" stroke="#262626" stroke-width="0.9"/>
<ellipse cx="359.2" cy="1639.0" rx="9.5" ry="6.9" transform="rotate(46 359.2 1639.0)" fill="rgb(76,76,76)" stroke="#262626" stroke-width="0.9"/>
<ellipse cx="246.6" cy="1567.3" rx="10.6" ry="8.2" transform="rotate(111 246.6 1567.3)" fill="rgb(88,88,88)" stroke="#262626" stroke-width="0.9"/>
<ellipse cx="274.7" cy="1465.8" rx="8.6" ry="6.3" transform="rotate(62 274.7 1465.8)" fill="rgb(77,77,77)" stroke="#262626" stroke-width="0.9"/>
<ellipse cx="387.3" cy="1583.2" rx="9.3" ry="7.3" transform="rotate(178 387.3 1583.2)" fill="rgb(88,88,88)" stroke="#262626" stroke-width="0.9"/>
<ellipse cx="376.6" cy="1677.0" rx="11.5" ry="9.4" transform="rotate(161 376.6 1677.0)" fill="rgb(88,88,88)" stroke="#262626" stroke-width="0.9"/>
<ellipse cx="120.7" cy="1491.3" rx="9.9" ry="7.3" transform="rotate(165 120.7 1491.3)" fill="rgb(88,88,88)" stroke="#262626" stroke-width="0.9"/>
<ellipse cx="164.4" cy="1663.3" rx="11.1" ry="8.7" transform="rotate(45 164.4 1663.3)" fill="rgb(92,92,92)" stroke="#262626" stroke-width="0.9"/>
<ellipse cx="389.4" cy="1568.2" rx="10.0" ry="6.6" transform="rotate(26 389.4 1568.2)" fill="rgb(83,83,83)" stroke="#262626" stroke-width="0.9"/>
<ellipse cx="248.3" cy="1407.9" rx="9.8" ry="7.0" transform="rotate(108 248.3 1407.9)" fill="rgb(93,93,93)" stroke="#262626" stroke-width="0.9"/>
<ellipse cx="168.9" cy="1485.8" rx="9.6" ry="6.3" transform="rotate(130 168.9 1485.8)" fill="rgb(76,76,76)" stroke="#262626" stroke-width="0.9"/>
<ellipse cx="102.7" cy="1619.9" rx="9.4" ry="7.7" transform="rotate(51 102.7 1619.9)" fill="rgb(84,84,84)" stroke="#262626" stroke-width="0.9"/>
<ellipse cx="200.1" cy="1626.9" rx="10.9" ry="8.5" transform="rotate(123 200.1 1626.9)" fill="rgb(73,73,73)" stroke="#262626" stroke-width="0.9"/>
<ellipse cx="142.9" cy="1563.5" rx="11.0" ry="8.4" transform="rotate(46 142.9 1563.5)" fill="rgb(71,71,71)" stroke="#262626" stroke-width="0.9"/>
<ellipse cx="369.5" cy="1601.3" rx="10.2" ry="6.8" transform="rotate(67 369.5 1601.3)" fill="rgb(85,85,85)" stroke="#262626" stroke-width="0.9"/>
<ellipse cx="192.8" cy="1517.3" rx="9.7" ry="8.2" transform="rotate(73 192.8 1517.3)" fill="rgb(91,91,91)" stroke="#262626" stroke-width="0.9"/>
<ellipse cx="159.8" cy="1463.1" rx="9.5" ry="6.8" transform="rotate(34 159.8 1463.1)" fill="rgb(74,74,74)" stroke="#262626" stroke-width="0.9"/>
<ellipse cx="245.0" cy="1621.9" rx="9.9" ry="6.5" transform="rotate(110 245.0 1621.9)" fill="rgb(77,77,77)" stroke="#262626" stroke-width="0.9"/>
<ellipse cx="366.4" cy="1495.5" rx="10.0" ry="8.3" transform="rotate(74 366.4 1495.5)" fill="rgb(82,82,82)" stroke="#262626" stroke-width="0.9"/>
<ellipse cx="232.0" cy="1354.0" rx="11.2" ry="9.0" transform="rotate(29 232.0 1354.0)" fill="rgb(73,73,73)" stroke="#262626" stroke-width="0.9"/>
<ellipse cx="271.1" cy="1543.8" rx="11.1" ry="9.4" transform="rotate(89 271.1 1543.8)" fill="rgb(90,90,90)" stroke="#262626" stroke-width="0.9"/>
<ellipse cx="143.9" cy="1489.4" rx="10.7" ry="7.2" transform="rotate(180 143.9 1489.4)" fill="rgb(79,79,79)" stroke="#262626" stroke-width="0.9"/>
<ellipse cx="258.3" cy="1444.0" rx="9.1" ry="7.2" transform="rotate(58 258.3 1444.0)" fill="rgb(87,87,87)" stroke="#262626" stroke-width="0.9"/>
<ellipse cx="146.1" cy="1508.4" rx="10.4" ry="7.0" transform="rotate(159 146.1 1508.4)" fill="rgb(86,86,86)" stroke="#262626" stroke-width="0.9"/>
<ellipse cx="352.7" cy="1510.6" rx="10.3" ry="8.5" transform="rotate(107 352.7 1510.6)" fill="rgb(84,84,84)" stroke="#262626" stroke-width="0.9"/>
<ellipse cx="276.0" cy="1601.4" rx="10.7" ry="7.1" transform="rotate(120 276.0 1601.4)" fill="rgb(92,92,92)" stroke="#262626" stroke-width="0.9"/>
<ellipse cx="88.5" cy="1594.9" rx="10.9" ry="7.5" transform="rotate(57 88.5 1594.9)" fill="rgb(75,75,75)" stroke="#262626" stroke-width="0.9"/>
<ellipse cx="276.3" cy="1507.2" rx="9.3" ry="6.2" transform="rotate(32 276.3 1507.2)" fill="rgb(92,92,92)" stroke="#262626" stroke-width="0.9"/>
<ellipse cx="180.8" cy="1606.3" rx="11.4" ry="8.0" transform="rotate(143 180.8 1606.3)" fill="rgb(84,84,84)" stroke="#262626" stroke-width="0.9"/>
<ellipse cx="297.9" cy="1546.4" rx="10.6" ry="8.0" transform="rotate(163 297.9 1546.4)" fill="rgb(79,79,79)" stroke="#262626" stroke-width="0.9"/>
<ellipse cx="325.2" cy="1522.5" rx="11.4" ry="8.5" transform="rotate(89 325.2 1522.5)" fill="rgb(87,87,87)" stroke="#262626" stroke-width="0.9"/>
<ellipse cx="370.2" cy="1543.5" rx="9.9" ry="7.4" transform="rotate(76 370.2 1543.5)" fill="rgb(82,82,82)" stroke="#262626" stroke-width="0.9"/>
<ellipse cx="373.5" cy="1616.8" rx="9.7" ry="8.1" transform="rotate(32 373.5 1616.8)" fill="rgb(77,77,77)" stroke="#262626" stroke-width="0.9"/>
<ellipse cx="332.8" cy="1683.1" rx="8.7" ry="6.5" transform="rotate(129 332.8 1683.1)" fill="rgb(82,82,82)" stroke="#262626" stroke-width="0.9"/>
<ellipse cx="387.7" cy="1628.0" rx="10.8" ry="7.2" transform="rotate(149 387.7 1628.0)" fill="rgb(88,88,88)" stroke="#262626" stroke-width="0.9"/>
<ellipse cx="369.4" cy="1464.8" rx="9.5" ry="7.7" transform="rotate(87 369.4 1464.8)" fill="rgb(73,73,73)" stroke="#262626" stroke-width="0.9"/>
<ellipse cx="359.1" cy="1352.0" rx="10.7" ry="8.8" transform="rotate(3 359.1 1352.0)" fill="rgb(78,78,78)" stroke="#262626" stroke-width="0.9"/>
<ellipse cx="104.5" cy="1561.4" rx="10.7" ry="8.7" transform="rotate(105 104.5 1561.4)" fill="rgb(79,79,79)" stroke="#262626" stroke-width="0.9"/>
<ellipse cx="91.4" cy="1567.7" rx="8.9" ry="6.4" transform="rotate(141 91.4 1567.7)" fill="rgb(88,88,88)" stroke="#262626" stroke-width="0.9"/>
<ellipse cx="245.3" cy="1483.8" rx="10.9" ry="8.7" transform="rotate(151 245.3 1483.8)" fill="rgb(76,76,76)" stroke="#262626" stroke-width="0.9"/>
<ellipse cx="104.2" cy="1661.0" rx="11.0" ry="7.6" transform="rotate(102 104.2 1661.0)" fill="rgb(76,76,76)" stroke="#262626" stroke-width="0.9"/>
<ellipse cx="134.8" cy="1573.5" rx="9.6" ry="6.8" transform="rotate(154 134.8 1573.5)" fill="rgb(77,77,77)" stroke="#262626" stroke-width="0.9"/>
<ellipse cx="344.3" cy="1539.7" rx="8.9" ry="6.7" transform="rotate(66 344.3 1539.7)" fill="rgb(91,91,91)" stroke="#262626" stroke-width="0.9"/>
<ellipse cx="275.7" cy="1585.5" rx="8.9" ry="5.8" transform="rotate(175 275.7 1585.5)" fill="rgb(78,78,78)" stroke="#262626" stroke-width="0.9"/>
<ellipse cx="324.6" cy="1565.5" rx="8.5" ry="6.0" transform="rotate(169 324.6 1565.5)" fill="rgb(87,87,87)" stroke="#262626" stroke-width="0.9"/>
<ellipse cx="355.1" cy="1601.7" rx="10.2" ry="7.2" transform="rotate(140 355.1 1601.7)" fill="rgb(92,92,92)" stroke="#262626" stroke-width="0.9"/>
<ellipse cx="167.1" cy="1522.4" rx="10.4" ry="6.8" transform="rotate(41 167.1 1522.4)" fill="rgb(82,82,82)" stroke="#262626" stroke-width="0.9"/>
<ellipse cx="224.6" cy="1507.7" rx="10.0" ry="7.7" transform="rotate(91 224.6 1507.7)" fill="rgb(81,81,81)" stroke="#262626" stroke-width="0.9"/>
<ellipse cx="357.4" cy="1576.2" rx="11.1" ry="9.3" transform="rotate(169 357.4 1576.2)" fill="rgb(78,78,78)" stroke="#262626" stroke-width="0.9"/>
<ellipse cx="387.7" cy="1495.9" rx="9.8" ry="8.1" transform="rotate(55 387.7 1495.9)" fill="rgb(86,86,86)" stroke="#262626" stroke-width="0.9"/>
<ellipse cx="223.3" cy="1458.5" rx="11.3" ry="7.5" transform="rotate(137 223.3 1458.5)" fill="rgb(88,88,88)" stroke="#262626" stroke-width="0.9"/>
<ellipse cx="358.7" cy="1499.6" rx="11.2" ry="8.0" transform="rotate(83 358.7 1499.6)" fill="rgb(93,93,93)" stroke="#262626" stroke-width="0.9"/>
<ellipse cx="308.3" cy="1661.2" rx="10.7" ry="7.1" transform="rotate(112 308.3 1661.2)" fill="rgb(76,76,76)" stroke="#262626" stroke-width="0.9"/>
<ellipse cx="324.5" cy="1662.0" rx="11.3" ry="9.5" transform="rotate(109 324.5 1662.0)" fill="rgb(73,73,73)" stroke="#262626" stroke-width="0.9"/>
<ellipse cx="264.2" cy="1431.3" rx="11.2" ry="8.3" transform="rotate(78 264.2 1431.3)" fill="rgb(92,92,92)" stroke="#262626" stroke-width="0.9"/>
<ellipse cx="312.8" cy="1397.3" rx="9.8" ry="7.9" transform="rotate(107 312.8 1397.3)" fill="rgb(88,88,88)" stroke="#262626" stroke-width="0.9"/>
<ellipse cx="287.2" cy="1484.3" rx="11.3" ry="8.2" transform="rotate(105 287.2 1484.3)" fill="rgb(83,83,83)" stroke="#262626" stroke-width="0.9"/>
<ellipse cx="224.9" cy="1410.3" rx="9.0" ry="6.2" transform="rotate(144 224.9 1410.3)" fill="rgb(81,81,81)" stroke="#262626" stroke-width="0.9"/>
<ellipse cx="226.1" cy="1643.0" rx="8.6" ry="6.3" transform="rotate(37 226.1 1643.0)" fill="rgb(80,80,80)" stroke="#262626" stroke-width="0.9"/>
<ellipse cx="299.3" cy="1589.4" rx="10.7" ry="8.9" transform="rotate(64 299.3 1589.4)" fill="rgb(86,86,86)" stroke="#262626" stroke-width="0.9"/>
<ellipse cx="155.6" cy="1685.7" rx="9.8" ry="6.8" transform="rotate(93 155.6 1685.7)" fill="rgb(80,80,80)" stroke="#262626" stroke-width="0.9"/>
<ellipse cx="211.2" cy="1466.8" rx="8.5" ry="6.9" transform="rotate(15 211.2 1466.8)" fill="rgb(82,82,82)" stroke="#262626" stroke-width="0.9"/>
<ellipse cx="303.8" cy="1578.9" rx="8.7" ry="5.7" transform="rotate(104 303.8 1578.9)" fill="rgb(78,78,78)" stroke="#262626" stroke-width="0.9"/>
<ellipse cx="175.5" cy="1488.4" rx="9.9" ry="8.1" transform="rotate(157 175.5 1488.4)" fill="rgb(89,89,89)" stroke="#262626" stroke-width="0.9"/>
<ellipse cx="318.9" cy="1546.1" rx="9.8" ry="6.5" transform="rotate(135 318.9 1546.1)" fill="rgb(79,79,79)" stroke="#262626" stroke-width="0.9"/>
<ellipse cx="253.3" cy="1598.4" rx="10.6" ry="7.3" transform="rotate(46 253.3 1598.4)" fill="rgb(81,81,81)" stroke="#262626" stroke-width="0.9"/>
<ellipse cx="178.7" cy="1464.0" rx="9.9" ry="7.0" transform="rotate(120 178.7 1464.0)" fill="rgb(77,77,77)" stroke="#262626" stroke-width="0.9"/>
<ellipse cx="365.4" cy="1671.6" rx="10.1" ry="7.8" transform="rotate(116 365.4 1671.6)" fill="rgb(81,81,81)" stroke="#262626" stroke-width="0.9"/>
<ellipse cx="200.8" cy="1435.3" rx="10.5" ry="8.8" transform="rotate(131 200.8 1435.3)" fill="rgb(92,92,92)" stroke="#262626" stroke-width="0.9"/>
<ellipse cx="308.5" cy="1414.4" rx="10.5" ry="7.3" transform="rotate(21 308.5 1414.4)" fill="rgb(90,90,90)" stroke="#262626" stroke-width="0.9"/>
<ellipse cx="377.4" cy="1587.2" rx="9.4" ry="7.8" transform="rotate(154 377.4 1587.2)" fill="rgb(91,91,91)" stroke="#262626" stroke-width="0.9"/>
<ellipse cx="286.0" cy="1412.1" rx="8.8" ry="5.9" transform="rotate(107 286.0 1412.1)" fill="rgb(84,84,84)" stroke="#262626" stroke-width="0.9"/>
<ellipse cx="242.3" cy="1430.4" rx="9.6" ry="6.5" transform="rotate(111 242.3 1430.4)" fill="rgb(83,83,83)" stroke="#262626" stroke-width="0.9"/>
<ellipse cx="337.1" cy="1565.7" rx="10.8" ry="7.1" transform="rotate(114 337.1 1565.7)" fill="rgb(84,84,84)" stroke="#262626" stroke-width="0.9"/>
<ellipse cx="191.0" cy="1554.0" rx="10.9" ry="8.3" transform="rotate(115 191.0 1554.0)" fill="rgb(85,85,85)" stroke="#262626" stroke-width="0.9"/>
<ellipse cx="315.1" cy="1530.4" rx="11.3" ry="9.2" transform="rotate(168 315.1 1530.4)" fill="rgb(84,84,84)" stroke="#262626" stroke-width="0.9"/>
<ellipse cx="181.8" cy="1423.8" rx="10.5" ry="6.9" transform="rotate(161 181.8 1423.8)" fill="rgb(86,86,86)" stroke="#262626" stroke-width="0.9"/>
</g>
<g filter="url(#bl2)">
<ellipse cx="195.2" cy="1383.2" rx="6" ry="5" transform="rotate(0 195.2 1383.2)" fill="#B648B4" opacity="0.65"/>
<ellipse cx="203.3" cy="1394.7" rx="9" ry="6" transform="rotate(0 203.3 1394.7)" fill="#B648B4" opacity="0.65"/>
<ellipse cx="162.8" cy="1423.7" rx="14" ry="7" transform="rotate(20 162.8 1423.7)" fill="#B648B4" opacity="0.65"/>
<ellipse cx="197.5" cy="1443.4" rx="5" ry="5" transform="rotate(0 197.5 1443.4)" fill="#B648B4" opacity="0.65"/>
<ellipse cx="189.4" cy="1466.6" rx="10" ry="8" transform="rotate(0 189.4 1466.6)" fill="#B648B4" opacity="0.65"/>
<ellipse cx="173.2" cy="1471.2" rx="4" ry="4" transform="rotate(0 173.2 1471.2)" fill="#B648B4" opacity="0.65"/>
<ellipse cx="221.8" cy="1475.8" rx="5" ry="5" transform="rotate(0 221.8 1475.8)" fill="#B648B4" opacity="0.65"/>
<ellipse cx="115.3" cy="1487.4" rx="6" ry="8" transform="rotate(0 115.3 1487.4)" fill="#B648B4" opacity="0.65"/>
<ellipse cx="152.3" cy="1487.4" rx="5" ry="14" transform="rotate(0 152.3 1487.4)" fill="#B648B4" opacity="0.65"/>
<ellipse cx="110.6" cy="1510.6" rx="8" ry="5" transform="rotate(0 110.6 1510.6)" fill="#B648B4" opacity="0.65"/>
<ellipse cx="223.0" cy="1500.1" rx="5" ry="5" transform="rotate(0 223.0 1500.1)" fill="#B648B4" opacity="0.65"/>
<ellipse cx="231.0" cy="1362.3" rx="7" ry="4" transform="rotate(0 231.0 1362.3)" fill="#B648B4" opacity="0.65"/>
<ellipse cx="228.6" cy="1376.2" rx="3" ry="3" transform="rotate(0 228.6 1376.2)" fill="#B648B4" opacity="0.65"/>
<ellipse cx="253.0" cy="1390.1" rx="14" ry="5" transform="rotate(0 253.0 1390.1)" fill="#B648B4" opacity="0.65"/>
<ellipse cx="239.0" cy="1386.6" rx="4" ry="4" transform="rotate(0 239.0 1386.6)" fill="#B648B4" opacity="0.65"/>
<ellipse cx="284.2" cy="1405.2" rx="13" ry="9" transform="rotate(0 284.2 1405.2)" fill="#B648B4" opacity="0.65"/>
<ellipse cx="293.5" cy="1412.1" rx="6" ry="6" transform="rotate(0 293.5 1412.1)" fill="#B648B4" opacity="0.65"/>
<ellipse cx="268.0" cy="1422.5" rx="6" ry="4" transform="rotate(0 268.0 1422.5)" fill="#B648B4" opacity="0.65"/>
<ellipse cx="286.5" cy="1431.8" rx="9" ry="9" transform="rotate(0 286.5 1431.8)" fill="#B648B4" opacity="0.65"/>
<ellipse cx="300.4" cy="1443.4" rx="6" ry="6" transform="rotate(0 300.4 1443.4)" fill="#B648B4" opacity="0.65"/>
<ellipse cx="255.3" cy="1459.6" rx="6" ry="5" transform="rotate(0 255.3 1459.6)" fill="#B648B4" opacity="0.65"/>
<ellipse cx="270.3" cy="1461.9" rx="4" ry="4" transform="rotate(0 270.3 1461.9)" fill="#B648B4" opacity="0.65"/>
<ellipse cx="315.5" cy="1386.6" rx="6" ry="6" transform="rotate(0 315.5 1386.6)" fill="#B648B4" opacity="0.65"/>
<ellipse cx="227.5" cy="1475.8" rx="5" ry="5" transform="rotate(0 227.5 1475.8)" fill="#B648B4" opacity="0.65"/>
<ellipse cx="354.9" cy="1477.0" rx="4" ry="4" transform="rotate(0 354.9 1477.0)" fill="#B648B4" opacity="0.65"/>
<ellipse cx="313.2" cy="1504.8" rx="6" ry="9" transform="rotate(0 313.2 1504.8)" fill="#B648B4" opacity="0.65"/>
<ellipse cx="322.4" cy="1493.2" rx="4" ry="4" transform="rotate(0 322.4 1493.2)" fill="#B648B4" opacity="0.65"/>
<ellipse cx="305.1" cy="1518.7" rx="5" ry="5" transform="rotate(0 305.1 1518.7)" fill="#B648B4" opacity="0.65"/>
<ellipse cx="226.3" cy="1499.0" rx="4" ry="4" transform="rotate(0 226.3 1499.0)" fill="#B648B4" opacity="0.65"/>
<ellipse cx="256.4" cy="1429.5" rx="4" ry="4" transform="rotate(0 256.4 1429.5)" fill="#B648B4" opacity="0.65"/>
<ellipse cx="117.6" cy="1529.1" rx="8" ry="6" transform="rotate(0 117.6 1529.1)" fill="#B648B4" opacity="0.65"/>
<ellipse cx="150.0" cy="1528.0" rx="8" ry="6" transform="rotate(0 150.0 1528.0)" fill="#B648B4" opacity="0.65"/>
<ellipse cx="106.0" cy="1563.9" rx="10" ry="5" transform="rotate(0 106.0 1563.9)" fill="#B648B4" opacity="0.65"/>
<ellipse cx="99.1" cy="1585.9" rx="10" ry="7" transform="rotate(0 99.1 1585.9)" fill="#B648B4" opacity="0.65"/>
<ellipse cx="93.3" cy="1580.1" rx="5" ry="5" transform="rotate(0 93.3 1580.1)" fill="#B648B4" opacity="0.65"/>
<ellipse cx="170.9" cy="1585.9" rx="6" ry="8" transform="rotate(0 170.9 1585.9)" fill="#B648B4" opacity="0.65"/>
<ellipse cx="191.7" cy="1566.2" rx="5" ry="5" transform="rotate(0 191.7 1566.2)" fill="#B648B4" opacity="0.65"/>
<ellipse cx="184.8" cy="1602.1" rx="4" ry="4" transform="rotate(0 184.8 1602.1)" fill="#B648B4" opacity="0.65"/>
<ellipse cx="221.8" cy="1596.3" rx="9" ry="9" transform="rotate(0 221.8 1596.3)" fill="#B648B4" opacity="0.65"/>
<ellipse cx="126.9" cy="1631.0" rx="5" ry="7" transform="rotate(0 126.9 1631.0)" fill="#B648B4" opacity="0.65"/>
<ellipse cx="179.0" cy="1624.1" rx="6" ry="3" transform="rotate(0 179.0 1624.1)" fill="#B648B4" opacity="0.65"/>
<ellipse cx="181.3" cy="1640.3" rx="8" ry="8" transform="rotate(0 181.3 1640.3)" fill="#B648B4" opacity="0.65"/>
<ellipse cx="86.3" cy="1650.7" rx="7" ry="9" transform="rotate(0 86.3 1650.7)" fill="#B648B4" opacity="0.65"/>
<ellipse cx="107.2" cy="1649.6" rx="5" ry="5" transform="rotate(0 107.2 1649.6)" fill="#B648B4" opacity="0.65"/>
<ellipse cx="136.1" cy="1649.6" rx="5" ry="5" transform="rotate(0 136.1 1649.6)" fill="#B648B4" opacity="0.65"/>
<ellipse cx="168.6" cy="1650.7" rx="4" ry="4" transform="rotate(0 168.6 1650.7)" fill="#B648B4" opacity="0.65"/>
<ellipse cx="159.3" cy="1671.6" rx="12" ry="8" transform="rotate(0 159.3 1671.6)" fill="#B648B4" opacity="0.65"/>
<ellipse cx="143.1" cy="1679.7" rx="9" ry="5" transform="rotate(0 143.1 1679.7)" fill="#B648B4" opacity="0.65"/>
<ellipse cx="197.5" cy="1664.6" rx="7" ry="8" transform="rotate(0 197.5 1664.6)" fill="#B648B4" opacity="0.65"/>
<ellipse cx="203.3" cy="1675.0" rx="6" ry="6" transform="rotate(0 203.3 1675.0)" fill="#B648B4" opacity="0.65"/>
<ellipse cx="65.5" cy="1629.9" rx="4" ry="4" transform="rotate(0 65.5 1629.9)" fill="#B648B4" opacity="0.65"/>
<ellipse cx="75.9" cy="1636.8" rx="4" ry="4" transform="rotate(0 75.9 1636.8)" fill="#B648B4" opacity="0.65"/>
<ellipse cx="108.3" cy="1682.0" rx="4" ry="4" transform="rotate(0 108.3 1682.0)" fill="#B648B4" opacity="0.65"/>
<ellipse cx="242.5" cy="1544.2" rx="5" ry="4" transform="rotate(0 242.5 1544.2)" fill="#B648B4" opacity="0.65"/>
<ellipse cx="305.1" cy="1524.5" rx="4" ry="4" transform="rotate(0 305.1 1524.5)" fill="#B648B4" opacity="0.65"/>
<ellipse cx="353.7" cy="1556.9" rx="7" ry="3.5" transform="rotate(0 353.7 1556.9)" fill="#B648B4" opacity="0.65"/>
<ellipse cx="382.7" cy="1545.3" rx="4" ry="4" transform="rotate(0 382.7 1545.3)" fill="#B648B4" opacity="0.65"/>
<ellipse cx="310.9" cy="1567.3" rx="7" ry="4" transform="rotate(0 310.9 1567.3)" fill="#B648B4" opacity="0.65"/>
<ellipse cx="349.1" cy="1578.9" rx="10" ry="12" transform="rotate(0 349.1 1578.9)" fill="#B648B4" opacity="0.65"/>
<ellipse cx="228.6" cy="1597.4" rx="11" ry="10" transform="rotate(0 228.6 1597.4)" fill="#B648B4" opacity="0.65"/>
<ellipse cx="269.2" cy="1591.7" rx="5" ry="5" transform="rotate(0 269.2 1591.7)" fill="#B648B4" opacity="0.65"/>
<ellipse cx="278.4" cy="1603.2" rx="5" ry="5" transform="rotate(0 278.4 1603.2)" fill="#B648B4" opacity="0.65"/>
<ellipse cx="233.3" cy="1620.6" rx="9" ry="7" transform="rotate(0 233.3 1620.6)" fill="#B648B4" opacity="0.65"/>
<ellipse cx="235.6" cy="1638.0" rx="6" ry="7" transform="rotate(0 235.6 1638.0)" fill="#B648B4" opacity="0.65"/>
<ellipse cx="226.3" cy="1646.1" rx="4" ry="4" transform="rotate(0 226.3 1646.1)" fill="#B648B4" opacity="0.65"/>
<ellipse cx="305.1" cy="1641.5" rx="6" ry="6" transform="rotate(0 305.1 1641.5)" fill="#B648B4" opacity="0.65"/>
<ellipse cx="297.0" cy="1660.0" rx="5" ry="3" transform="rotate(0 297.0 1660.0)" fill="#B648B4" opacity="0.65"/>
<ellipse cx="316.7" cy="1672.7" rx="14" ry="10" transform="rotate(0 316.7 1672.7)" fill="#B648B4" opacity="0.65"/>
<ellipse cx="275.0" cy="1658.8" rx="3" ry="3" transform="rotate(0 275.0 1658.8)" fill="#B648B4" opacity="0.65"/>
<ellipse cx="378.0" cy="1547.6" rx="4" ry="4" transform="rotate(0 378.0 1547.6)" fill="#B648B4" opacity="0.65"/>
</g>
<ellipse cx="275.0" cy="1445.7" rx="5" ry="5" transform="rotate(0 275.0 1445.7)" fill="#C8E8C0" opacity="0.9"/>
<ellipse cx="148.9" cy="1643.8" rx="6" ry="6" transform="rotate(0 148.9 1643.8)" fill="#C8E8C0" opacity="0.9"/>
<ellipse cx="140.8" cy="1488.6" rx="4" ry="5" transform="rotate(0 140.8 1488.6)" fill="#C8E8C0" opacity="0.9"/>
</g>
<g clip-path="url(#c1)">
<rect x="402.2" y="1359.8" width="324.9" height="327.2" fill="#000"/>
<g filter="url(#bl)" fill="#5e5e5e">
<ellipse cx="515.5" cy="1368.7" rx="5" ry="3" transform="rotate(0 515.5 1368.7)" fill="#5e5e5e" opacity="1"/>
<ellipse cx="408.4" cy="1421.4" rx="3" ry="6" transform="rotate(0 408.4 1421.4)" fill="#5e5e5e" opacity="1"/>
<ellipse cx="499.3" cy="1436.4" rx="3" ry="4" transform="rotate(0 499.3 1436.4)" fill="#5e5e5e" opacity="1"/>
<ellipse cx="487.7" cy="1458.4" rx="5" ry="5" transform="rotate(0 487.7 1458.4)" fill="#5e5e5e" opacity="1"/>
<ellipse cx="478.4" cy="1467.7" rx="3" ry="3" transform="rotate(0 478.4 1467.7)" fill="#5e5e5e" opacity="1"/>
<ellipse cx="542.1" cy="1465.4" rx="3" ry="3" transform="rotate(0 542.1 1465.4)" fill="#5e5e5e" opacity="1"/>
<ellipse cx="543.3" cy="1496.7" rx="4" ry="12" transform="rotate(0 543.3 1496.7)" fill="#5e5e5e" opacity="1"/>
<ellipse cx="561.8" cy="1487.4" rx="3" ry="3" transform="rotate(0 561.8 1487.4)" fill="#5e5e5e" opacity="1"/>
<ellipse cx="564.0" cy="1440.0" rx="5" ry="15" transform="rotate(0 564.0 1440.0)" fill="#5e5e5e" opacity="1"/>
<ellipse cx="468.0" cy="1518.7" rx="5" ry="3" transform="rotate(0 468.0 1518.7)" fill="#5e5e5e" opacity="1"/>
<ellipse cx="560.7" cy="1419.0" rx="3" ry="3" transform="rotate(0 560.7 1419.0)" fill="#5e5e5e" opacity="1"/>
<ellipse cx="587.2" cy="1369.8" rx="3.5" ry="4.5" transform="rotate(0 587.2 1369.8)" fill="#5e5e5e" opacity="1"/>
<ellipse cx="601.6" cy="1369.8" rx="4" ry="4" transform="rotate(0 601.6 1369.8)" fill="#5e5e5e" opacity="1"/>
<ellipse cx="610.3" cy="1368.7" rx="4" ry="3" transform="rotate(0 610.3 1368.7)" fill="#5e5e5e" opacity="1"/>
<ellipse cx="608.0" cy="1379.1" rx="4" ry="3" transform="rotate(0 608.0 1379.1)" fill="#5e5e5e" opacity="1"/>
<ellipse cx="631.8" cy="1368.7" rx="4.5" ry="4.5" transform="rotate(0 631.8 1368.7)" fill="#5e5e5e" opacity="1"/>
<ellipse cx="645.1" cy="1384.9" rx="4" ry="4" transform="rotate(0 645.1 1384.9)" fill="#5e5e5e" opacity="1"/>
<ellipse cx="628.3" cy="1393.0" rx="3" ry="4" transform="rotate(0 628.3 1393.0)" fill="#5e5e5e" opacity="1"/>
<ellipse cx="571.0" cy="1393.0" rx="4" ry="3" transform="rotate(0 571.0 1393.0)" fill="#5e5e5e" opacity="1"/>
<ellipse cx="596.4" cy="1397.0" rx="7" ry="3" transform="rotate(-30 596.4 1397.0)" fill="#5e5e5e" opacity="1"/>
<ellipse cx="671.7" cy="1399.4" rx="4.5" ry="3" transform="rotate(0 671.7 1399.4)" fill="#5e5e5e" opacity="1"/>
<ellipse cx="705.9" cy="1397.0" rx="3.5" ry="2.5" transform="rotate(0 705.9 1397.0)" fill="#5e5e5e" opacity="1"/>
<ellipse cx="701.2" cy="1405.2" rx="5" ry="3" transform="rotate(0 701.2 1405.2)" fill="#5e5e5e" opacity="1"/>
<ellipse cx="703.0" cy="1412.7" rx="4" ry="4" transform="rotate(0 703.0 1412.7)" fill="#5e5e5e" opacity="1"/>
<ellipse cx="719.8" cy="1371.6" rx="5" ry="4" transform="rotate(0 719.8 1371.6)" fill="#5e5e5e" opacity="1"/>
<ellipse cx="709.4" cy="1378.0" rx="3.5" ry="3.5" transform="rotate(0 709.4 1378.0)" fill="#5e5e5e" opacity="1"/>
<ellipse cx="590.6" cy="1420.2" rx="14" ry="8" transform="rotate(0 590.6 1420.2)" fill="#5e5e5e" opacity="1"/>
<ellipse cx="571.0" cy="1431.8" rx="11" ry="11" transform="rotate(0 571.0 1431.8)" fill="#5e5e5e" opacity="1"/>
<ellipse cx="581.4" cy="1445.7" rx="11" ry="10" transform="rotate(0 581.4 1445.7)" fill="#5e5e5e" opacity="1"/>
<ellipse cx="569.8" cy="1455.0" rx="9" ry="9" transform="rotate(0 569.8 1455.0)" fill="#5e5e5e" opacity="1"/>
<ellipse cx="595.3" cy="1473.5" rx="11" ry="9" transform="rotate(0 595.3 1473.5)" fill="#5e5e5e" opacity="1"/>
<ellipse cx="575.6" cy="1481.6" rx="9" ry="9" transform="rotate(0 575.6 1481.6)" fill="#5e5e5e" opacity="1"/>
<ellipse cx="606.9" cy="1490.9" rx="10" ry="14" transform="rotate(0 606.9 1490.9)" fill="#5e5e5e" opacity="1"/>
<ellipse cx="587.2" cy="1493.2" rx="10" ry="10" transform="rotate(0 587.2 1493.2)" fill="#5e5e5e" opacity="1"/>
<ellipse cx="575.6" cy="1504.8" rx="9" ry="9" transform="rotate(0 575.6 1504.8)" fill="#5e5e5e" opacity="1"/>
<ellipse cx="587.2" cy="1516.4" rx="12" ry="12" transform="rotate(0 587.2 1516.4)" fill="#5e5e5e" opacity="1"/>
<ellipse cx="608.0" cy="1508.3" rx="9" ry="9" transform="rotate(0 608.0 1508.3)" fill="#5e5e5e" opacity="1"/>
<ellipse cx="598.7" cy="1427.2" rx="8" ry="8" transform="rotate(0 598.7 1427.2)" fill="#5e5e5e" opacity="1"/>
<ellipse cx="565.0" cy="1470.0" rx="6" ry="8" transform="rotate(0 565.0 1470.0)" fill="#5e5e5e" opacity="1"/>
<ellipse cx="665.9" cy="1428.3" rx="4" ry="5" transform="rotate(0 665.9 1428.3)" fill="#5e5e5e" opacity="1"/>
<ellipse cx="612.6" cy="1442.8" rx="4" ry="3" transform="rotate(0 612.6 1442.8)" fill="#5e5e5e" opacity="1"/>
<ellipse cx="689.1" cy="1437.0" rx="4" ry="4" transform="rotate(0 689.1 1437.0)" fill="#5e5e5e" opacity="1"/>
<ellipse cx="714.0" cy="1433.5" rx="4" ry="5" transform="rotate(0 714.0 1433.5)" fill="#5e5e5e" opacity="1"/>
<ellipse cx="721.5" cy="1429.5" rx="3.5" ry="3.5" transform="rotate(0 721.5 1429.5)" fill="#5e5e5e" opacity="1"/>
<ellipse cx="720.9" cy="1421.4" rx="3" ry="4" transform="rotate(0 720.9 1421.4)" fill="#5e5e5e" opacity="1"/>
<ellipse cx="700.1" cy="1446.9" rx="4.5" ry="4.5" transform="rotate(0 700.1 1446.9)" fill="#5e5e5e" opacity="1"/>
<ellipse cx="722.1" cy="1450.3" rx="4" ry="4" transform="rotate(0 722.1 1450.3)" fill="#5e5e5e" opacity="1"/>
<ellipse cx="648.0" cy="1460.2" rx="4.5" ry="4" transform="rotate(0 648.0 1460.2)" fill="#5e5e5e" opacity="1"/>
<ellipse cx="686.8" cy="1459.6" rx="3.5" ry="3.5" transform="rotate(0 686.8 1459.6)" fill="#5e5e5e" opacity="1"/>
<ellipse cx="683.3" cy="1466.0" rx="3.5" ry="3.5" transform="rotate(0 683.3 1466.0)" fill="#5e5e5e" opacity="1"/>
<ellipse cx="610.3" cy="1463.1" rx="5" ry="3" transform="rotate(0 610.3 1463.1)" fill="#5e5e5e" opacity="1"/>
<ellipse cx="696.6" cy="1477.0" rx="5" ry="4" transform="rotate(0 696.6 1477.0)" fill="#5e5e5e" opacity="1"/>
<ellipse cx="723.3" cy="1484.0" rx="4" ry="4" transform="rotate(0 723.3 1484.0)" fill="#5e5e5e" opacity="1"/>
<ellipse cx="659.0" cy="1509.4" rx="9" ry="8" transform="rotate(0 659.0 1509.4)" fill="#5e5e5e" opacity="1"/>
<ellipse cx="681.6" cy="1501.3" rx="3.5" ry="3.5" transform="rotate(0 681.6 1501.3)" fill="#5e5e5e" opacity="1"/>
<ellipse cx="624.8" cy="1515.2" rx="3.5" ry="4" transform="rotate(0 624.8 1515.2)" fill="#5e5e5e" opacity="1"/>
<ellipse cx="550.3" cy="1527.4" rx="7" ry="5" transform="rotate(0 550.3 1527.4)" fill="#5e5e5e" opacity="1"/>
<ellipse cx="490.0" cy="1542.4" rx="8" ry="4.5" transform="rotate(10 490.0 1542.4)" fill="#5e5e5e" opacity="1"/>
<ellipse cx="500.4" cy="1546.5" rx="5" ry="4" transform="rotate(30 500.4 1546.5)" fill="#5e5e5e" opacity="1"/>
<ellipse cx="509.1" cy="1539.5" rx="4" ry="5" transform="rotate(0 509.1 1539.5)" fill="#5e5e5e" opacity="1"/>
<ellipse cx="405.5" cy="1553.4" rx="4" ry="4" transform="rotate(0 405.5 1553.4)" fill="#5e5e5e" opacity="1"/>
<ellipse cx="423.4" cy="1554.6" rx="2.5" ry="2.5" transform="rotate(0 423.4 1554.6)" fill="#5e5e5e" opacity="1"/>
<ellipse cx="412.4" cy="1570.8" rx="3" ry="6" transform="rotate(0 412.4 1570.8)" fill="#5e5e5e" opacity="1"/>
<ellipse cx="473.8" cy="1563.9" rx="5" ry="3" transform="rotate(-20 473.8 1563.9)" fill="#5e5e5e" opacity="1"/>
<ellipse cx="500.4" cy="1565.0" rx="6" ry="6" transform="rotate(0 500.4 1565.0)" fill="#5e5e5e" opacity="1"/>
<ellipse cx="494.7" cy="1565.0" rx="4" ry="7" transform="rotate(0 494.7 1565.0)" fill="#5e5e5e" opacity="1"/>
<ellipse cx="491.2" cy="1574.3" rx="4" ry="4" transform="rotate(0 491.2 1574.3)" fill="#5e5e5e" opacity="1"/>
<ellipse cx="502.8" cy="1578.9" rx="5" ry="5" transform="rotate(0 502.8 1578.9)" fill="#5e5e5e" opacity="1"/>
<ellipse cx="502.8" cy="1584.7" rx="4" ry="4" transform="rotate(0 502.8 1584.7)" fill="#5e5e5e" opacity="1"/>
<ellipse cx="524.8" cy="1558.1" rx="6" ry="4" transform="rotate(0 524.8 1558.1)" fill="#5e5e5e" opacity="1"/>
<ellipse cx="433.3" cy="1584.1" rx="10" ry="4.5" transform="rotate(0 433.3 1584.1)" fill="#5e5e5e" opacity="1"/>
<ellipse cx="451.8" cy="1581.2" rx="6" ry="5" transform="rotate(0 451.8 1581.2)" fill="#5e5e5e" opacity="1"/>
<ellipse cx="446.0" cy="1590.5" rx="5" ry="5" transform="rotate(0 446.0 1590.5)" fill="#5e5e5e" opacity="1"/>
<ellipse cx="459.3" cy="1594.0" rx="6" ry="4" transform="rotate(0 459.3 1594.0)" fill="#5e5e5e" opacity="1"/>
<ellipse cx="432.7" cy="1594.0" rx="5" ry="5" transform="rotate(0 432.7 1594.0)" fill="#5e5e5e" opacity="1"/>
<ellipse cx="475.0" cy="1582.4" rx="5" ry="5" transform="rotate(0 475.0 1582.4)" fill="#5e5e5e" opacity="1"/>
<ellipse cx="487.7" cy="1600.9" rx="7" ry="4.5" transform="rotate(0 487.7 1600.9)" fill="#5e5e5e" opacity="1"/>
<ellipse cx="527.7" cy="1618.3" rx="5" ry="3.5" transform="rotate(0 527.7 1618.3)" fill="#5e5e5e" opacity="1"/>
<ellipse cx="525.4" cy="1633.3" rx="4" ry="4" transform="rotate(0 525.4 1633.3)" fill="#5e5e5e" opacity="1"/>
<ellipse cx="484.2" cy="1636.8" rx="4.5" ry="4.5" transform="rotate(0 484.2 1636.8)" fill="#5e5e5e" opacity="1"/>
<ellipse cx="501.0" cy="1645.5" rx="4.5" ry="9" transform="rotate(-30 501.0 1645.5)" fill="#5e5e5e" opacity="1"/>
<ellipse cx="490.0" cy="1659.4" rx="3" ry="3" transform="rotate(0 490.0 1659.4)" fill="#5e5e5e" opacity="1"/>
<ellipse cx="407.8" cy="1598.6" rx="2" ry="2" transform="rotate(0 407.8 1598.6)" fill="#5e5e5e" opacity="1"/>
<ellipse cx="587.2" cy="1525.6" rx="12" ry="7" transform="rotate(0 587.2 1525.6)" fill="#5e5e5e" opacity="1"/>
<ellipse cx="602.2" cy="1530.3" rx="5" ry="5" transform="rotate(0 602.2 1530.3)" fill="#5e5e5e" opacity="1"/>
<ellipse cx="604.5" cy="1534.3" rx="4" ry="4" transform="rotate(0 604.5 1534.3)" fill="#5e5e5e" opacity="1"/>
<ellipse cx="583.7" cy="1551.1" rx="12" ry="8" transform="rotate(0 583.7 1551.1)" fill="#5e5e5e" opacity="1"/>
<ellipse cx="590.6" cy="1565.0" rx="10" ry="6" transform="rotate(0 590.6 1565.0)" fill="#5e5e5e" opacity="1"/>
<ellipse cx="581.4" cy="1574.3" rx="10" ry="7" transform="rotate(0 581.4 1574.3)" fill="#5e5e5e" opacity="1"/>
<ellipse cx="572.1" cy="1560.4" rx="6" ry="6" transform="rotate(0 572.1 1560.4)" fill="#5e5e5e" opacity="1"/>
<ellipse cx="605.1" cy="1554.0" rx="5" ry="6" transform="rotate(0 605.1 1554.0)" fill="#5e5e5e" opacity="1"/>
<ellipse cx="631.8" cy="1528.5" rx="4" ry="3.5" transform="rotate(0 631.8 1528.5)" fill="#5e5e5e" opacity="1"/>
<ellipse cx="659.6" cy="1535.5" rx="3" ry="3" transform="rotate(0 659.6 1535.5)" fill="#5e5e5e" opacity="1"/>
<ellipse cx="633.5" cy="1544.7" rx="4" ry="2.5" transform="rotate(0 633.5 1544.7)" fill="#5e5e5e" opacity="1"/>
<ellipse cx="649.7" cy="1543.6" rx="3.5" ry="3" transform="rotate(0 649.7 1543.6)" fill="#5e5e5e" opacity="1"/>
<ellipse cx="649.1" cy="1558.1" rx="6" ry="4" transform="rotate(-15 649.1 1558.1)" fill="#5e5e5e" opacity="1"/>
<ellipse cx="641.6" cy="1572.0" rx="7" ry="4.5" transform="rotate(0 641.6 1572.0)" fill="#5e5e5e" opacity="1"/>
<ellipse cx="632.3" cy="1572.5" rx="3" ry="3" transform="rotate(0 632.3 1572.5)" fill="#5e5e5e" opacity="1"/>
<ellipse cx="698.4" cy="1536.0" rx="2.5" ry="7" transform="rotate(40 698.4 1536.0)" fill="#5e5e5e" opacity="1"/>
<ellipse cx="711.1" cy="1539.5" rx="5" ry="3" transform="rotate(0 711.1 1539.5)" fill="#5e5e5e" opacity="1"/>
<ellipse cx="706.5" cy="1547.6" rx="3" ry="3" transform="rotate(0 706.5 1547.6)" fill="#5e5e5e" opacity="1"/>
<ellipse cx="641.0" cy="1588.2" rx="3.5" ry="3.5" transform="rotate(0 641.0 1588.2)" fill="#5e5e5e" opacity="1"/>
<ellipse cx="627.1" cy="1596.3" rx="5" ry="3" transform="rotate(30 627.1 1596.3)" fill="#5e5e5e" opacity="1"/>
<ellipse cx="699.5" cy="1581.2" rx="4" ry="8" transform="rotate(-30 699.5 1581.2)" fill="#5e5e5e" opacity="1"/>
<ellipse cx="713.4" cy="1589.3" rx="5" ry="3.5" transform="rotate(0 713.4 1589.3)" fill="#5e5e5e" opacity="1"/>
<ellipse cx="704.1" cy="1595.1" rx="4" ry="6" transform="rotate(0 704.1 1595.1)" fill="#5e5e5e" opacity="1"/>
<ellipse cx="696.6" cy="1603.2" rx="4" ry="5" transform="rotate(0 696.6 1603.2)" fill="#5e5e5e" opacity="1"/>
<ellipse cx="688.5" cy="1610.2" rx="5" ry="5" transform="rotate(0 688.5 1610.2)" fill="#5e5e5e" opacity="1"/>
<ellipse cx="720.4" cy="1600.9" rx="4" ry="4" transform="rotate(0 720.4 1600.9)" fill="#5e5e5e" opacity="1"/>
<ellipse cx="710.0" cy="1613.7" rx="4" ry="3" transform="rotate(0 710.0 1613.7)" fill="#5e5e5e" opacity="1"/>
<ellipse cx="695.5" cy="1625.8" rx="7" ry="4" transform="rotate(-20 695.5 1625.8)" fill="#5e5e5e" opacity="1"/>
<ellipse cx="640.4" cy="1625.2" rx="3.5" ry="3.5" transform="rotate(0 640.4 1625.2)" fill="#5e5e5e" opacity="1"/>
<ellipse cx="580.2" cy="1623.5" rx="2.5" ry="5" transform="rotate(0 580.2 1623.5)" fill="#5e5e5e" opacity="1"/>
<ellipse cx="598.7" cy="1631.6" rx="4" ry="5" transform="rotate(0 598.7 1631.6)" fill="#5e5e5e" opacity="1"/>
<ellipse cx="603.4" cy="1640.3" rx="5" ry="3.5" transform="rotate(0 603.4 1640.3)" fill="#5e5e5e" opacity="1"/>
<ellipse cx="680.4" cy="1644.3" rx="5" ry="3.5" transform="rotate(0 680.4 1644.3)" fill="#5e5e5e" opacity="1"/>
<ellipse cx="660.1" cy="1654.2" rx="3" ry="7" transform="rotate(40 660.1 1654.2)" fill="#5e5e5e" opacity="1"/>
<ellipse cx="649.7" cy="1665.8" rx="4.5" ry="3" transform="rotate(0 649.7 1665.8)" fill="#5e5e5e" opacity="1"/>
<ellipse cx="653.2" cy="1672.7" rx="5" ry="3" transform="rotate(0 653.2 1672.7)" fill="#5e5e5e" opacity="1"/>
<ellipse cx="704.1" cy="1663.5" rx="4" ry="7" transform="rotate(30 704.1 1663.5)" fill="#5e5e5e" opacity="1"/>
<ellipse cx="684.5" cy="1673.9" rx="4" ry="7" transform="rotate(30 684.5 1673.9)" fill="#5e5e5e" opacity="1"/>
<ellipse cx="722.7" cy="1667.0" rx="4" ry="4" transform="rotate(0 722.7 1667.0)" fill="#5e5e5e" opacity="1"/>
</g>
<g filter="url(#bl2)">
<ellipse cx="413.6" cy="1368.7" rx="5" ry="6" transform="rotate(0 413.6 1368.7)" fill="#B648B4" opacity="0.9"/>
<ellipse cx="484.8" cy="1369.8" rx="6" ry="4" transform="rotate(0 484.8 1369.8)" fill="#B648B4" opacity="0.9"/>
<ellipse cx="538.1" cy="1400.0" rx="4" ry="4" transform="rotate(0 538.1 1400.0)" fill="#B648B4" opacity="0.9"/>
<ellipse cx="524.8" cy="1417.3" rx="4" ry="5" transform="rotate(0 524.8 1417.3)" fill="#B648B4" opacity="0.9"/>
<ellipse cx="670.0" cy="1386.1" rx="7" ry="4" transform="rotate(0 670.0 1386.1)" fill="#B648B4" opacity="0.9"/>
<ellipse cx="643.9" cy="1430.1" rx="4.5" ry="4" transform="rotate(0 643.9 1430.1)" fill="#B648B4" opacity="0.9"/>
<ellipse cx="635.2" cy="1500.1" rx="5" ry="5" transform="rotate(0 635.2 1500.1)" fill="#B648B4" opacity="0.9"/>
<ellipse cx="655.0" cy="1509.4" rx="6" ry="6" transform="rotate(0 655.0 1509.4)" fill="#B648B4" opacity="0.9"/>
<ellipse cx="522.5" cy="1551.1" rx="13" ry="5" transform="rotate(-20 522.5 1551.1)" fill="#B648B4" opacity="0.9"/>
<ellipse cx="510.9" cy="1554.6" rx="5" ry="7" transform="rotate(0 510.9 1554.6)" fill="#B648B4" opacity="0.9"/>
<ellipse cx="529.4" cy="1534.3" rx="4" ry="3" transform="rotate(0 529.4 1534.3)" fill="#B648B4" opacity="0.9"/>
<ellipse cx="559.5" cy="1545.9" rx="8" ry="5" transform="rotate(0 559.5 1545.9)" fill="#B648B4" opacity="0.9"/>
<ellipse cx="442.0" cy="1560.4" rx="4" ry="4" transform="rotate(0 442.0 1560.4)" fill="#B648B4" opacity="0.9"/>
<ellipse cx="502.8" cy="1567.3" rx="5" ry="5" transform="rotate(0 502.8 1567.3)" fill="#B648B4" opacity="0.9"/>
<ellipse cx="517.8" cy="1574.9" rx="4" ry="3" transform="rotate(0 517.8 1574.9)" fill="#B648B4" opacity="0.9"/>
<ellipse cx="480.2" cy="1591.7" rx="7" ry="7" transform="rotate(0 480.2 1591.7)" fill="#B648B4" opacity="0.9"/>
<ellipse cx="525.4" cy="1594.0" rx="4.5" ry="5" transform="rotate(0 525.4 1594.0)" fill="#B648B4" opacity="0.9"/>
<ellipse cx="489.4" cy="1647.2" rx="2.5" ry="5" transform="rotate(0 489.4 1647.2)" fill="#B648B4" opacity="0.9"/>
<ellipse cx="524.2" cy="1661.7" rx="3.5" ry="3.5" transform="rotate(0 524.2 1661.7)" fill="#B648B4" opacity="0.9"/>
<ellipse cx="512.0" cy="1683.0" rx="4" ry="4" transform="rotate(0 512.0 1683.0)" fill="#B648B4" opacity="0.9"/>
<ellipse cx="432.7" cy="1594.0" rx="4" ry="4" transform="rotate(0 432.7 1594.0)" fill="#B648B4" opacity="0.9"/>
<ellipse cx="565.2" cy="1545.3" rx="4" ry="6" transform="rotate(0 565.2 1545.3)" fill="#B648B4" opacity="0.9"/>
<ellipse cx="575.6" cy="1547.6" rx="7" ry="4" transform="rotate(0 575.6 1547.6)" fill="#B648B4" opacity="0.9"/>
<ellipse cx="655.5" cy="1530.8" rx="4.5" ry="3.5" transform="rotate(0 655.5 1530.8)" fill="#B648B4" opacity="0.9"/>
<ellipse cx="668.8" cy="1567.3" rx="5.5" ry="9" transform="rotate(15 668.8 1567.3)" fill="#B648B4" opacity="0.9"/>
<ellipse cx="682.1" cy="1619.4" rx="3.5" ry="3.5" transform="rotate(0 682.1 1619.4)" fill="#B648B4" opacity="0.9"/>
<ellipse cx="616.7" cy="1632.8" rx="5" ry="5" transform="rotate(0 616.7 1632.8)" fill="#B648B4" opacity="0.9"/>
<ellipse cx="641.6" cy="1677.4" rx="8" ry="4" transform="rotate(-30 641.6 1677.4)" fill="#B648B4" opacity="0.9"/>
<ellipse cx="603.4" cy="1679.7" rx="3" ry="7" transform="rotate(20 603.4 1679.7)" fill="#B648B4" opacity="0.9"/>
<ellipse cx="436.7" cy="1482.8" rx="7" ry="5" transform="rotate(0 436.7 1482.8)" fill="#6CC35A" opacity="0.9"/>
<ellipse cx="442.5" cy="1551.1" rx="8" ry="8" transform="rotate(0 442.5 1551.1)" fill="#6CC35A" opacity="0.9"/>
<ellipse cx="583.7" cy="1460.8" rx="5" ry="5" transform="rotate(0 583.7 1460.8)" fill="#6CC35A" opacity="0.9"/>
<ellipse cx="675.8" cy="1622.3" rx="5" ry="5" transform="rotate(0 675.8 1622.3)" fill="#6CC35A" opacity="0.9"/>
<ellipse cx="714.6" cy="1636.8" rx="12" ry="15" transform="rotate(0 714.6 1636.8)" fill="#1D4A1D" opacity="0.45"/>
<ellipse cx="719.2" cy="1677.4" rx="10" ry="10" transform="rotate(0 719.2 1677.4)" fill="#1D4A1D" opacity="0.45"/>
<ellipse cx="621.9" cy="1678.5" rx="5" ry="6" transform="rotate(0 621.9 1678.5)" fill="#1D4A1D" opacity="0.45"/>
<ellipse cx="660.1" cy="1675.0" rx="8" ry="6" transform="rotate(0 660.1 1675.0)" fill="#1D4A1D" opacity="0.45"/>
<ellipse cx="598.0" cy="1660.0" rx="8" ry="8" transform="rotate(0 598.0 1660.0)" fill="#1D4A1D" opacity="0.45"/>
</g>
<ellipse cx="635.2" cy="1500.1" rx="3" ry="3" transform="rotate(0 635.2 1500.1)" fill="#C0F0B0" opacity="0.9"/>
<ellipse cx="675.8" cy="1622.3" rx="4" ry="4" transform="rotate(0 675.8 1622.3)" fill="#C0F0B0" opacity="0.9"/>
</g>
<g clip-path="url(#c2)">
<rect x="743.4" y="1359.8" width="324.6" height="327.2" fill="#000"/>
<g filter="url(#bl8)">
<rect x="844.8" y="1359.8" width="20.8" height="20.8" fill="rgb(6,6,6)"/>
<rect x="865.1" y="1359.8" width="20.8" height="20.8" fill="rgb(18,18,18)"/>
<rect x="885.4" y="1359.8" width="20.8" height="20.8" fill="rgb(18,18,18)"/>
<rect x="905.7" y="1359.8" width="20.8" height="20.8" fill="rgb(18,18,18)"/>
<rect x="926.0" y="1359.8" width="20.8" height="20.8" fill="rgb(12,12,12)"/>
<rect x="946.3" y="1359.8" width="20.8" height="20.8" fill="rgb(12,12,12)"/>
<rect x="966.6" y="1359.8" width="20.8" height="20.8" fill="rgb(12,12,12)"/>
<rect x="986.9" y="1359.8" width="20.8" height="20.8" fill="rgb(37,37,37)"/>
<rect x="1007.1" y="1359.8" width="20.8" height="20.8" fill="rgb(37,37,37)"/>
<rect x="1027.4" y="1359.8" width="20.8" height="20.8" fill="rgb(24,24,24)"/>
<rect x="1047.7" y="1359.8" width="20.8" height="20.8" fill="rgb(31,31,31)"/>
<rect x="905.7" y="1380.1" width="20.8" height="20.8" fill="rgb(37,37,37)"/>
<rect x="926.0" y="1380.1" width="20.8" height="20.8" fill="rgb(24,24,24)"/>
<rect x="946.3" y="1380.1" width="20.8" height="20.8" fill="rgb(31,31,31)"/>
<rect x="966.6" y="1380.1" width="20.8" height="20.8" fill="rgb(37,37,37)"/>
<rect x="986.9" y="1380.1" width="20.8" height="20.8" fill="rgb(37,37,37)"/>
<rect x="1007.1" y="1380.1" width="20.8" height="20.8" fill="rgb(31,31,31)"/>
<rect x="1027.4" y="1380.1" width="20.8" height="20.8" fill="rgb(24,24,24)"/>
<rect x="1047.7" y="1380.1" width="20.8" height="20.8" fill="rgb(18,18,18)"/>
<rect x="905.7" y="1400.5" width="20.8" height="20.8" fill="rgb(37,37,37)"/>
<rect x="926.0" y="1400.5" width="20.8" height="20.8" fill="rgb(43,43,43)"/>
<rect x="946.3" y="1400.5" width="20.8" height="20.8" fill="rgb(37,37,37)"/>
<rect x="966.6" y="1400.5" width="20.8" height="20.8" fill="rgb(37,37,37)"/>
<rect x="986.9" y="1400.5" width="20.8" height="20.8" fill="rgb(24,24,24)"/>
<rect x="1007.1" y="1400.5" width="20.8" height="20.8" fill="rgb(37,37,37)"/>
<rect x="1027.4" y="1400.5" width="20.8" height="20.8" fill="rgb(43,43,43)"/>
<rect x="1047.7" y="1400.5" width="20.8" height="20.8" fill="rgb(6,6,6)"/>
<rect x="844.8" y="1420.8" width="20.8" height="20.8" fill="rgb(6,6,6)"/>
<rect x="865.1" y="1420.8" width="20.8" height="20.8" fill="rgb(24,24,24)"/>
<rect x="885.4" y="1420.8" width="20.8" height="20.8" fill="rgb(24,24,24)"/>
<rect x="926.0" y="1420.8" width="20.8" height="20.8" fill="rgb(37,37,37)"/>
<rect x="946.3" y="1420.8" width="20.8" height="20.8" fill="rgb(37,37,37)"/>
<rect x="966.6" y="1420.8" width="20.8" height="20.8" fill="rgb(37,37,37)"/>
<rect x="986.9" y="1420.8" width="20.8" height="20.8" fill="rgb(18,18,18)"/>
<rect x="1007.1" y="1420.8" width="20.8" height="20.8" fill="rgb(37,37,37)"/>
<rect x="1027.4" y="1420.8" width="20.8" height="20.8" fill="rgb(31,31,31)"/>
<rect x="1047.7" y="1420.8" width="20.8" height="20.8" fill="rgb(31,31,31)"/>
<rect x="824.5" y="1441.1" width="20.8" height="20.8" fill="rgb(6,6,6)"/>
<rect x="844.8" y="1441.1" width="20.8" height="20.8" fill="rgb(24,24,24)"/>
<rect x="865.1" y="1441.1" width="20.8" height="20.8" fill="rgb(37,37,37)"/>
<rect x="885.4" y="1441.1" width="20.8" height="20.8" fill="rgb(31,31,31)"/>
<rect x="905.7" y="1441.1" width="20.8" height="20.8" fill="rgb(24,24,24)"/>
<rect x="926.0" y="1441.1" width="20.8" height="20.8" fill="rgb(31,31,31)"/>
<rect x="946.3" y="1441.1" width="20.8" height="20.8" fill="rgb(31,31,31)"/>
<rect x="966.6" y="1441.1" width="20.8" height="20.8" fill="rgb(37,37,37)"/>
<rect x="986.9" y="1441.1" width="20.8" height="20.8" fill="rgb(24,24,24)"/>
<rect x="1007.1" y="1441.1" width="20.8" height="20.8" fill="rgb(24,24,24)"/>
<rect x="1027.4" y="1441.1" width="20.8" height="20.8" fill="rgb(18,18,18)"/>
<rect x="1047.7" y="1441.1" width="20.8" height="20.8" fill="rgb(6,6,6)"/>
<rect x="804.3" y="1461.4" width="20.8" height="20.8" fill="rgb(6,6,6)"/>
<rect x="824.5" y="1461.4" width="20.8" height="20.8" fill="rgb(37,37,37)"/>
<rect x="844.8" y="1461.4" width="20.8" height="20.8" fill="rgb(43,43,43)"/>
<rect x="865.1" y="1461.4" width="20.8" height="20.8" fill="rgb(18,18,18)"/>
<rect x="885.4" y="1461.4" width="20.8" height="20.8" fill="rgb(24,24,24)"/>
<rect x="905.7" y="1461.4" width="20.8" height="20.8" fill="rgb(18,18,18)"/>
<rect x="926.0" y="1461.4" width="20.8" height="20.8" fill="rgb(31,31,31)"/>
<rect x="946.3" y="1461.4" width="20.8" height="20.8" fill="rgb(24,24,24)"/>
<rect x="966.6" y="1461.4" width="20.8" height="20.8" fill="rgb(12,12,12)"/>
<rect x="986.9" y="1461.4" width="20.8" height="20.8" fill="rgb(31,31,31)"/>
<rect x="1007.1" y="1461.4" width="20.8" height="20.8" fill="rgb(37,37,37)"/>
<rect x="1027.4" y="1461.4" width="20.8" height="20.8" fill="rgb(12,12,12)"/>
<rect x="1047.7" y="1461.4" width="20.8" height="20.8" fill="rgb(24,24,24)"/>
<rect x="784.0" y="1481.8" width="20.8" height="20.8" fill="rgb(12,12,12)"/>
<rect x="804.3" y="1481.8" width="20.8" height="20.8" fill="rgb(31,31,31)"/>
<rect x="824.5" y="1481.8" width="20.8" height="20.8" fill="rgb(37,37,37)"/>
<rect x="844.8" y="1481.8" width="20.8" height="20.8" fill="rgb(37,37,37)"/>
<rect x="865.1" y="1481.8" width="20.8" height="20.8" fill="rgb(24,24,24)"/>
<rect x="885.4" y="1481.8" width="20.8" height="20.8" fill="rgb(24,24,24)"/>
<rect x="905.7" y="1481.8" width="20.8" height="20.8" fill="rgb(24,24,24)"/>
<rect x="926.0" y="1481.8" width="20.8" height="20.8" fill="rgb(24,24,24)"/>
<rect x="946.3" y="1481.8" width="20.8" height="20.8" fill="rgb(31,31,31)"/>
<rect x="966.6" y="1481.8" width="20.8" height="20.8" fill="rgb(31,31,31)"/>
<rect x="986.9" y="1481.8" width="20.8" height="20.8" fill="rgb(37,37,37)"/>
<rect x="1007.1" y="1481.8" width="20.8" height="20.8" fill="rgb(43,43,43)"/>
<rect x="1027.4" y="1481.8" width="20.8" height="20.8" fill="rgb(37,37,37)"/>
<rect x="1047.7" y="1481.8" width="20.8" height="20.8" fill="rgb(31,31,31)"/>
<rect x="784.0" y="1502.1" width="20.8" height="20.8" fill="rgb(18,18,18)"/>
<rect x="804.3" y="1502.1" width="20.8" height="20.8" fill="rgb(31,31,31)"/>
<rect x="824.5" y="1502.1" width="20.8" height="20.8" fill="rgb(37,37,37)"/>
<rect x="844.8" y="1502.1" width="20.8" height="20.8" fill="rgb(24,24,24)"/>
<rect x="865.1" y="1502.1" width="20.8" height="20.8" fill="rgb(18,18,18)"/>
<rect x="885.4" y="1502.1" width="20.8" height="20.8" fill="rgb(18,18,18)"/>
<rect x="905.7" y="1502.1" width="20.8" height="20.8" fill="rgb(18,18,18)"/>
<rect x="926.0" y="1502.1" width="20.8" height="20.8" fill="rgb(12,12,12)"/>
<rect x="946.3" y="1502.1" width="20.8" height="20.8" fill="rgb(37,37,37)"/>
<rect x="966.6" y="1502.1" width="20.8" height="20.8" fill="rgb(37,37,37)"/>
<rect x="1007.1" y="1502.1" width="20.8" height="20.8" fill="rgb(24,24,24)"/>
<rect x="1027.4" y="1502.1" width="20.8" height="20.8" fill="rgb(37,37,37)"/>
<rect x="1047.7" y="1502.1" width="20.8" height="20.8" fill="rgb(12,12,12)"/>
<rect x="784.0" y="1522.4" width="20.8" height="20.8" fill="rgb(12,12,12)"/>
<rect x="804.3" y="1522.4" width="20.8" height="20.8" fill="rgb(6,6,6)"/>
<rect x="824.5" y="1522.4" width="20.8" height="20.8" fill="rgb(24,24,24)"/>
<rect x="844.8" y="1522.4" width="20.8" height="20.8" fill="rgb(24,24,24)"/>
<rect x="865.1" y="1522.4" width="20.8" height="20.8" fill="rgb(31,31,31)"/>
<rect x="885.4" y="1522.4" width="20.8" height="20.8" fill="rgb(31,31,31)"/>
<rect x="905.7" y="1522.4" width="20.8" height="20.8" fill="rgb(31,31,31)"/>
<rect x="926.0" y="1522.4" width="20.8" height="20.8" fill="rgb(31,31,31)"/>
<rect x="946.3" y="1522.4" width="20.8" height="20.8" fill="rgb(37,37,37)"/>
<rect x="966.6" y="1522.4" width="20.8" height="20.8" fill="rgb(18,18,18)"/>
<rect x="1007.1" y="1522.4" width="20.8" height="20.8" fill="rgb(6,6,6)"/>
<rect x="1027.4" y="1522.4" width="20.8" height="20.8" fill="rgb(18,18,18)"/>
<rect x="1047.7" y="1522.4" width="20.8" height="20.8" fill="rgb(24,24,24)"/>
<rect x="784.0" y="1542.7" width="20.8" height="20.8" fill="rgb(37,37,37)"/>
<rect x="804.3" y="1542.7" width="20.8" height="20.8" fill="rgb(24,24,24)"/>
<rect x="844.8" y="1542.7" width="20.8" height="20.8" fill="rgb(37,37,37)"/>
<rect x="865.1" y="1542.7" width="20.8" height="20.8" fill="rgb(37,37,37)"/>
<rect x="885.4" y="1542.7" width="20.8" height="20.8" fill="rgb(31,31,31)"/>
<rect x="905.7" y="1542.7" width="20.8" height="20.8" fill="rgb(31,31,31)"/>
<rect x="926.0" y="1542.7" width="20.8" height="20.8" fill="rgb(37,37,37)"/>
<rect x="946.3" y="1542.7" width="20.8" height="20.8" fill="rgb(37,37,37)"/>
<rect x="966.6" y="1542.7" width="20.8" height="20.8" fill="rgb(37,37,37)"/>
<rect x="986.9" y="1542.7" width="20.8" height="20.8" fill="rgb(24,24,24)"/>
<rect x="1007.1" y="1542.7" width="20.8" height="20.8" fill="rgb(12,12,12)"/>
<rect x="1027.4" y="1542.7" width="20.8" height="20.8" fill="rgb(31,31,31)"/>
<rect x="1047.7" y="1542.7" width="20.8" height="20.8" fill="rgb(18,18,18)"/>
<rect x="763.7" y="1563.0" width="20.8" height="20.8" fill="rgb(6,6,6)"/>
<rect x="784.0" y="1563.0" width="20.8" height="20.8" fill="rgb(12,12,12)"/>
<rect x="844.8" y="1563.0" width="20.8" height="20.8" fill="rgb(31,31,31)"/>
<rect x="865.1" y="1563.0" width="20.8" height="20.8" fill="rgb(24,24,24)"/>
<rect x="885.4" y="1563.0" width="20.8" height="20.8" fill="rgb(24,24,24)"/>
<rect x="905.7" y="1563.0" width="20.8" height="20.8" fill="rgb(24,24,24)"/>
<rect x="926.0" y="1563.0" width="20.8" height="20.8" fill="rgb(37,37,37)"/>
<rect x="946.3" y="1563.0" width="20.8" height="20.8" fill="rgb(43,43,43)"/>
<rect x="966.6" y="1563.0" width="20.8" height="20.8" fill="rgb(37,37,37)"/>
<rect x="986.9" y="1563.0" width="20.8" height="20.8" fill="rgb(24,24,24)"/>
<rect x="1027.4" y="1563.0" width="20.8" height="20.8" fill="rgb(24,24,24)"/>
<rect x="1047.7" y="1563.0" width="20.8" height="20.8" fill="rgb(6,6,6)"/>
<rect x="804.3" y="1583.4" width="20.8" height="20.8" fill="rgb(6,6,6)"/>
<rect x="824.5" y="1583.4" width="20.8" height="20.8" fill="rgb(12,12,12)"/>
<rect x="844.8" y="1583.4" width="20.8" height="20.8" fill="rgb(12,12,12)"/>
<rect x="865.1" y="1583.4" width="20.8" height="20.8" fill="rgb(18,18,18)"/>
<rect x="926.0" y="1583.4" width="20.8" height="20.8" fill="rgb(24,24,24)"/>
<rect x="946.3" y="1583.4" width="20.8" height="20.8" fill="rgb(31,31,31)"/>
<rect x="966.6" y="1583.4" width="20.8" height="20.8" fill="rgb(24,24,24)"/>
<rect x="1027.4" y="1583.4" width="20.8" height="20.8" fill="rgb(6,6,6)"/>
<rect x="1047.7" y="1583.4" width="20.8" height="20.8" fill="rgb(18,18,18)"/>
<rect x="865.1" y="1603.7" width="20.8" height="20.8" fill="rgb(18,18,18)"/>
<rect x="885.4" y="1603.7" width="20.8" height="20.8" fill="rgb(6,6,6)"/>
<rect x="1007.1" y="1603.7" width="20.8" height="20.8" fill="rgb(24,24,24)"/>
<rect x="1027.4" y="1603.7" width="20.8" height="20.8" fill="rgb(12,12,12)"/>
<rect x="844.8" y="1624.0" width="20.8" height="20.8" fill="rgb(6,6,6)"/>
<rect x="865.1" y="1624.0" width="20.8" height="20.8" fill="rgb(18,18,18)"/>
<rect x="1007.1" y="1624.0" width="20.8" height="20.8" fill="rgb(12,12,12)"/>
<rect x="804.3" y="1664.7" width="20.8" height="20.8" fill="rgb(6,6,6)"/>
</g>
<g filter="url(#bl)">
<ellipse cx="813.6" cy="1497.8" rx="9.2" ry="7.3" transform="rotate(143 813.6 1497.8)" fill="rgb(65,65,65)" stroke="#222" stroke-width="0.8"/>
<ellipse cx="1055.4" cy="1412.5" rx="9.3" ry="6.5" transform="rotate(36 1055.4 1412.5)" fill="rgb(66,66,66)" stroke="#222" stroke-width="0.8"/>
<ellipse cx="764.6" cy="1550.8" rx="8.9" ry="6.5" transform="rotate(152 764.6 1550.8)" fill="rgb(71,71,71)" stroke="#222" stroke-width="0.8"/>
<ellipse cx="993.4" cy="1429.7" rx="8.8" ry="6.7" transform="rotate(52 993.4 1429.7)" fill="rgb(73,73,73)" stroke="#222" stroke-width="0.8"/>
<ellipse cx="989.6" cy="1567.4" rx="10.8" ry="7.7" transform="rotate(46 989.6 1567.4)" fill="rgb(71,71,71)" stroke="#222" stroke-width="0.8"/>
<ellipse cx="1055.1" cy="1551.3" rx="9.5" ry="6.6" transform="rotate(65 1055.1 1551.3)" fill="rgb(76,76,76)" stroke="#222" stroke-width="0.8"/>
<ellipse cx="970.9" cy="1565.9" rx="10.8" ry="7.3" transform="rotate(178 970.9 1565.9)" fill="rgb(78,78,78)" stroke="#222" stroke-width="0.8"/>
<ellipse cx="1033.8" cy="1499.4" rx="10.3" ry="6.8" transform="rotate(122 1033.8 1499.4)" fill="rgb(72,72,72)" stroke="#222" stroke-width="0.8"/>
<ellipse cx="1061.4" cy="1375.5" rx="9.1" ry="7.1" transform="rotate(44 1061.4 1375.5)" fill="rgb(64,64,64)" stroke="#222" stroke-width="0.8"/>
<ellipse cx="905.2" cy="1434.8" rx="10.7" ry="8.7" transform="rotate(145 905.2 1434.8)" fill="rgb(68,68,68)" stroke="#222" stroke-width="0.8"/>
<ellipse cx="934.5" cy="1604.9" rx="9.3" ry="6.3" transform="rotate(97 934.5 1604.9)" fill="rgb(67,67,67)" stroke="#222" stroke-width="0.8"/>
<ellipse cx="951.6" cy="1518.3" rx="9.0" ry="6.6" transform="rotate(117 951.6 1518.3)" fill="rgb(72,72,72)" stroke="#222" stroke-width="0.8"/>
<ellipse cx="1017.7" cy="1557.2" rx="10.5" ry="8.2" transform="rotate(47 1017.7 1557.2)" fill="rgb(76,76,76)" stroke="#222" stroke-width="0.8"/>
<ellipse cx="858.9" cy="1431.0" rx="10.7" ry="8.8" transform="rotate(126 858.9 1431.0)" fill="rgb(77,77,77)" stroke="#222" stroke-width="0.8"/>
<ellipse cx="802.9" cy="1517.9" rx="9.9" ry="6.9" transform="rotate(144 802.9 1517.9)" fill="rgb(66,66,66)" stroke="#222" stroke-width="0.8"/>
<ellipse cx="754.3" cy="1365.4" rx="9.3" ry="7.6" transform="rotate(18 754.3 1365.4)" fill="rgb(63,63,63)" stroke="#222" stroke-width="0.8"/>
<ellipse cx="1015.7" cy="1434.8" rx="9.8" ry="6.5" transform="rotate(27 1015.7 1434.8)" fill="rgb(72,72,72)" stroke="#222" stroke-width="0.8"/>
<ellipse cx="858.1" cy="1552.3" rx="10.4" ry="7.3" transform="rotate(53 858.1 1552.3)" fill="rgb(79,79,79)" stroke="#222" stroke-width="0.8"/>
<ellipse cx="827.7" cy="1506.6" rx="11.0" ry="7.9" transform="rotate(98 827.7 1506.6)" fill="rgb(74,74,74)" stroke="#222" stroke-width="0.8"/>
<ellipse cx="842.2" cy="1587.6" rx="8.6" ry="6.1" transform="rotate(12 842.2 1587.6)" fill="rgb(74,74,74)" stroke="#222" stroke-width="0.8"/>
<ellipse cx="1050.0" cy="1626.9" rx="9.4" ry="6.9" transform="rotate(124 1050.0 1626.9)" fill="rgb(64,64,64)" stroke="#222" stroke-width="0.8"/>
<ellipse cx="1066.6" cy="1644.5" rx="11.0" ry="7.5" transform="rotate(98 1066.6 1644.5)" fill="rgb(68,68,68)" stroke="#222" stroke-width="0.8"/>
<ellipse cx="1007.1" cy="1466.7" rx="9.5" ry="6.4" transform="rotate(42 1007.1 1466.7)" fill="rgb(72,72,72)" stroke="#222" stroke-width="0.8"/>
<ellipse cx="948.2" cy="1542.4" rx="10.1" ry="8.5" transform="rotate(6 948.2 1542.4)" fill="rgb(73,73,73)" stroke="#222" stroke-width="0.8"/>
<ellipse cx="957.4" cy="1534.2" rx="8.7" ry="7.3" transform="rotate(37 957.4 1534.2)" fill="rgb(73,73,73)" stroke="#222" stroke-width="0.8"/>
<ellipse cx="901.5" cy="1568.6" rx="10.9" ry="8.6" transform="rotate(146 901.5 1568.6)" fill="rgb(75,75,75)" stroke="#222" stroke-width="0.8"/>
<ellipse cx="948.9" cy="1566.6" rx="10.2" ry="6.8" transform="rotate(94 948.9 1566.6)" fill="rgb(81,81,81)" stroke="#222" stroke-width="0.8"/>
<ellipse cx="984.8" cy="1500.2" rx="8.6" ry="5.7" transform="rotate(117 984.8 1500.2)" fill="rgb(77,77,77)" stroke="#222" stroke-width="0.8"/>
<ellipse cx="783.3" cy="1588.3" rx="9.2" ry="6.6" transform="rotate(59 783.3 1588.3)" fill="rgb(61,61,61)" stroke="#222" stroke-width="0.8"/>
<ellipse cx="846.3" cy="1465.9" rx="10.1" ry="8.0" transform="rotate(171 846.3 1465.9)" fill="rgb(68,68,68)" stroke="#222" stroke-width="0.8"/>
<ellipse cx="1003.8" cy="1370.6" rx="9.2" ry="6.0" transform="rotate(168 1003.8 1370.6)" fill="rgb(71,71,71)" stroke="#222" stroke-width="0.8"/>
<ellipse cx="937.0" cy="1472.9" rx="10.1" ry="7.0" transform="rotate(116 937.0 1472.9)" fill="rgb(78,78,78)" stroke="#222" stroke-width="0.8"/>
<ellipse cx="1055.7" cy="1440.5" rx="9.5" ry="8.1" transform="rotate(115 1055.7 1440.5)" fill="rgb(65,65,65)" stroke="#222" stroke-width="0.8"/>
<ellipse cx="828.7" cy="1467.9" rx="9.7" ry="7.7" transform="rotate(3 828.7 1467.9)" fill="rgb(68,68,68)" stroke="#222" stroke-width="0.8"/>
<ellipse cx="936.1" cy="1557.5" rx="10.8" ry="8.1" transform="rotate(89 936.1 1557.5)" fill="rgb(71,71,71)" stroke="#222" stroke-width="0.8"/>
<ellipse cx="994.9" cy="1478.3" rx="9.4" ry="6.7" transform="rotate(113 994.9 1478.3)" fill="rgb(70,70,70)" stroke="#222" stroke-width="0.8"/>
<ellipse cx="903.8" cy="1390.2" rx="10.7" ry="8.3" transform="rotate(1 903.8 1390.2)" fill="rgb(72,72,72)" stroke="#222" stroke-width="0.8"/>
<ellipse cx="971.3" cy="1553.9" rx="9.5" ry="7.3" transform="rotate(105 971.3 1553.9)" fill="rgb(73,73,73)" stroke="#222" stroke-width="0.8"/>
<ellipse cx="1033.2" cy="1572.6" rx="11.0" ry="7.7" transform="rotate(43 1033.2 1572.6)" fill="rgb(67,67,67)" stroke="#222" stroke-width="0.8"/>
<ellipse cx="880.0" cy="1423.1" rx="10.3" ry="7.1" transform="rotate(61 880.0 1423.1)" fill="rgb(73,73,73)" stroke="#222" stroke-width="0.8"/>
<ellipse cx="845.9" cy="1596.0" rx="10.3" ry="7.9" transform="rotate(168 845.9 1596.0)" fill="rgb(69,69,69)" stroke="#222" stroke-width="0.8"/>
<ellipse cx="869.2" cy="1642.0" rx="10.1" ry="8.2" transform="rotate(42 869.2 1642.0)" fill="rgb(61,61,61)" stroke="#222" stroke-width="0.8"/>
<ellipse cx="1061.0" cy="1466.4" rx="8.8" ry="5.7" transform="rotate(87 1061.0 1466.4)" fill="rgb(73,73,73)" stroke="#222" stroke-width="0.8"/>
<ellipse cx="1047.7" cy="1354.2" rx="10.8" ry="8.6" transform="rotate(24 1047.7 1354.2)" fill="rgb(64,64,64)" stroke="#222" stroke-width="0.8"/>
<ellipse cx="914.4" cy="1429.8" rx="9.8" ry="8.3" transform="rotate(44 914.4 1429.8)" fill="rgb(72,72,72)" stroke="#222" stroke-width="0.8"/>
<ellipse cx="1061.6" cy="1608.4" rx="8.6" ry="6.2" transform="rotate(16 1061.6 1608.4)" fill="rgb(67,67,67)" stroke="#222" stroke-width="0.8"/>
<ellipse cx="925.4" cy="1529.4" rx="9.8" ry="7.2" transform="rotate(31 925.4 1529.4)" fill="rgb(73,73,73)" stroke="#222" stroke-width="0.8"/>
<ellipse cx="950.3" cy="1501.6" rx="8.7" ry="6.3" transform="rotate(168 950.3 1501.6)" fill="rgb(74,74,74)" stroke="#222" stroke-width="0.8"/>
<ellipse cx="851.3" cy="1630.4" rx="10.5" ry="8.4" transform="rotate(169 851.3 1630.4)" fill="rgb(60,60,60)" stroke="#222" stroke-width="0.8"/>
<ellipse cx="1062.3" cy="1399.4" rx="10.7" ry="7.0" transform="rotate(60 1062.3 1399.4)" fill="rgb(74,74,74)" stroke="#222" stroke-width="0.8"/>
<ellipse cx="1005.2" cy="1431.5" rx="10.2" ry="7.3" transform="rotate(25 1005.2 1431.5)" fill="rgb(68,68,68)" stroke="#222" stroke-width="0.8"/>
<ellipse cx="940.6" cy="1357.7" rx="10.5" ry="8.7" transform="rotate(148 940.6 1357.7)" fill="rgb(62,62,62)" stroke="#222" stroke-width="0.8"/>
<ellipse cx="927.0" cy="1433.5" rx="9.3" ry="6.1" transform="rotate(177 927.0 1433.5)" fill="rgb(64,64,64)" stroke="#222" stroke-width="0.8"/>
<ellipse cx="952.0" cy="1375.1" rx="9.6" ry="7.1" transform="rotate(173 952.0 1375.1)" fill="rgb(78,78,78)" stroke="#222" stroke-width="0.8"/>
<ellipse cx="923.3" cy="1418.3" rx="9.2" ry="7.8" transform="rotate(129 923.3 1418.3)" fill="rgb(75,75,75)" stroke="#222" stroke-width="0.8"/>
<ellipse cx="1032.7" cy="1355.5" rx="9.6" ry="7.5" transform="rotate(68 1032.7 1355.5)" fill="rgb(77,77,77)" stroke="#222" stroke-width="0.8"/>
<ellipse cx="952.3" cy="1535.4" rx="9.2" ry="6.7" transform="rotate(177 952.3 1535.4)" fill="rgb(75,75,75)" stroke="#222" stroke-width="0.8"/>
<ellipse cx="924.8" cy="1473.5" rx="9.8" ry="6.7" transform="rotate(79 924.8 1473.5)" fill="rgb(75,75,75)" stroke="#222" stroke-width="0.8"/>
<ellipse cx="879.6" cy="1464.5" rx="9.3" ry="6.9" transform="rotate(106 879.6 1464.5)" fill="rgb(74,74,74)" stroke="#222" stroke-width="0.8"/>
<ellipse cx="770.8" cy="1573.6" rx="9.9" ry="8.3" transform="rotate(149 770.8 1573.6)" fill="rgb(60,60,60)" stroke="#222" stroke-width="0.8"/>
<ellipse cx="835.3" cy="1545.5" rx="9.2" ry="6.0" transform="rotate(45 835.3 1545.5)" fill="rgb(67,67,67)" stroke="#222" stroke-width="0.8"/>
<ellipse cx="984.3" cy="1553.4" rx="9.6" ry="6.7" transform="rotate(173 984.3 1553.4)" fill="rgb(74,74,74)" stroke="#222" stroke-width="0.8"/>
<ellipse cx="863.0" cy="1374.2" rx="9.9" ry="7.6" transform="rotate(1 863.0 1374.2)" fill="rgb(64,64,64)" stroke="#222" stroke-width="0.8"/>
<ellipse cx="951.3" cy="1513.6" rx="10.5" ry="7.4" transform="rotate(141 951.3 1513.6)" fill="rgb(67,67,67)" stroke="#222" stroke-width="0.8"/>
<ellipse cx="802.1" cy="1500.0" rx="8.6" ry="6.4" transform="rotate(75 802.1 1500.0)" fill="rgb(66,66,66)" stroke="#222" stroke-width="0.8"/>
<ellipse cx="926.7" cy="1576.5" rx="9.2" ry="6.1" transform="rotate(17 926.7 1576.5)" fill="rgb(77,77,77)" stroke="#222" stroke-width="0.8"/>
<ellipse cx="993.1" cy="1410.7" rx="8.5" ry="6.0" transform="rotate(96 993.1 1410.7)" fill="rgb(77,77,77)" stroke="#222" stroke-width="0.8"/>
<ellipse cx="867.9" cy="1585.4" rx="8.9" ry="6.9" transform="rotate(98 867.9 1585.4)" fill="rgb(74,74,74)" stroke="#222" stroke-width="0.8"/>
<ellipse cx="936.3" cy="1411.7" rx="8.6" ry="7.2" transform="rotate(166 936.3 1411.7)" fill="rgb(75,75,75)" stroke="#222" stroke-width="0.8"/>
<ellipse cx="863.1" cy="1500.1" rx="10.8" ry="9.0" transform="rotate(59 863.1 1500.1)" fill="rgb(79,79,79)" stroke="#222" stroke-width="0.8"/>
<ellipse cx="1026.4" cy="1407.7" rx="9.1" ry="7.1" transform="rotate(92 1026.4 1407.7)" fill="rgb(77,77,77)" stroke="#222" stroke-width="0.8"/>
<ellipse cx="907.6" cy="1623.7" rx="10.8" ry="8.0" transform="rotate(141 907.6 1623.7)" fill="rgb(63,63,63)" stroke="#222" stroke-width="0.8"/>
<ellipse cx="1060.1" cy="1489.8" rx="11.0" ry="8.5" transform="rotate(27 1060.1 1489.8)" fill="rgb(70,70,70)" stroke="#222" stroke-width="0.8"/>
<ellipse cx="895.0" cy="1425.6" rx="10.1" ry="7.4" transform="rotate(168 895.0 1425.6)" fill="rgb(72,72,72)" stroke="#222" stroke-width="0.8"/>
<ellipse cx="988.4" cy="1441.8" rx="8.9" ry="6.6" transform="rotate(20 988.4 1441.8)" fill="rgb(67,67,67)" stroke="#222" stroke-width="0.8"/>
<ellipse cx="971.0" cy="1473.5" rx="10.2" ry="8.2" transform="rotate(150 971.0 1473.5)" fill="rgb(73,73,73)" stroke="#222" stroke-width="0.8"/>
<ellipse cx="904.1" cy="1498.3" rx="10.5" ry="8.0" transform="rotate(26 904.1 1498.3)" fill="rgb(78,78,78)" stroke="#222" stroke-width="0.8"/>
<ellipse cx="1061.3" cy="1431.8" rx="10.5" ry="6.9" transform="rotate(38 1061.3 1431.8)" fill="rgb(66,66,66)" stroke="#222" stroke-width="0.8"/>
<ellipse cx="892.8" cy="1434.9" rx="10.6" ry="7.9" transform="rotate(43 892.8 1434.9)" fill="rgb(79,79,79)" stroke="#222" stroke-width="0.8"/>
<ellipse cx="856.5" cy="1615.8" rx="9.8" ry="8.0" transform="rotate(16 856.5 1615.8)" fill="rgb(62,62,62)" stroke="#222" stroke-width="0.8"/>
<ellipse cx="947.5" cy="1397.6" rx="10.0" ry="7.8" transform="rotate(47 947.5 1397.6)" fill="rgb(78,78,78)" stroke="#222" stroke-width="0.8"/>
<ellipse cx="872.3" cy="1554.2" rx="10.2" ry="7.2" transform="rotate(86 872.3 1554.2)" fill="rgb(65,65,65)" stroke="#222" stroke-width="0.8"/>
<ellipse cx="948.2" cy="1432.0" rx="8.8" ry="6.3" transform="rotate(175 948.2 1432.0)" fill="rgb(81,81,81)" stroke="#222" stroke-width="0.8"/>
<ellipse cx="1057.8" cy="1476.4" rx="9.1" ry="6.2" transform="rotate(94 1057.8 1476.4)" fill="rgb(71,71,71)" stroke="#222" stroke-width="0.8"/>
<ellipse cx="762.0" cy="1445.7" rx="9.7" ry="7.8" transform="rotate(36 762.0 1445.7)" fill="rgb(59,59,59)" stroke="#222" stroke-width="0.8"/>
<ellipse cx="1012.0" cy="1358.5" rx="9.0" ry="5.8" transform="rotate(86 1012.0 1358.5)" fill="rgb(82,82,82)" stroke="#222" stroke-width="0.8"/>
<ellipse cx="873.3" cy="1567.0" rx="10.7" ry="9.0" transform="rotate(8 873.3 1567.0)" fill="rgb(67,67,67)" stroke="#222" stroke-width="0.8"/>
<ellipse cx="911.6" cy="1392.7" rx="8.5" ry="6.8" transform="rotate(94 911.6 1392.7)" fill="rgb(74,74,74)" stroke="#222" stroke-width="0.8"/>
<ellipse cx="1016.3" cy="1440.3" rx="8.6" ry="6.1" transform="rotate(70 1016.3 1440.3)" fill="rgb(80,80,80)" stroke="#222" stroke-width="0.8"/>
<ellipse cx="984.0" cy="1587.7" rx="9.2" ry="7.5" transform="rotate(173 984.0 1587.7)" fill="rgb(69,69,69)" stroke="#222" stroke-width="0.8"/>
<ellipse cx="834.8" cy="1510.1" rx="8.8" ry="6.4" transform="rotate(163 834.8 1510.1)" fill="rgb(74,74,74)" stroke="#222" stroke-width="0.8"/>
<ellipse cx="872.3" cy="1518.3" rx="8.6" ry="6.3" transform="rotate(22 872.3 1518.3)" fill="rgb(77,77,77)" stroke="#222" stroke-width="0.8"/>
<ellipse cx="829.8" cy="1443.4" rx="9.4" ry="7.1" transform="rotate(9 829.8 1443.4)" fill="rgb(68,68,68)" stroke="#222" stroke-width="0.8"/>
<ellipse cx="856.4" cy="1464.2" rx="10.2" ry="7.0" transform="rotate(146 856.4 1464.2)" fill="rgb(80,80,80)" stroke="#222" stroke-width="0.8"/>
<ellipse cx="815.7" cy="1489.1" rx="8.6" ry="6.7" transform="rotate(165 815.7 1489.1)" fill="rgb(74,74,74)" stroke="#222" stroke-width="0.8"/>
<ellipse cx="1073.1" cy="1562.6" rx="8.9" ry="6.6" transform="rotate(117 1073.1 1562.6)" fill="rgb(76,76,76)" stroke="#222" stroke-width="0.8"/>
<ellipse cx="962.1" cy="1496.0" rx="10.8" ry="7.1" transform="rotate(105 962.1 1496.0)" fill="rgb(81,81,81)" stroke="#222" stroke-width="0.8"/>
<ellipse cx="983.6" cy="1402.9" rx="9.1" ry="6.8" transform="rotate(85 983.6 1402.9)" fill="rgb(79,79,79)" stroke="#222" stroke-width="0.8"/>
<ellipse cx="960.4" cy="1563.6" rx="9.7" ry="6.5" transform="rotate(138 960.4 1563.6)" fill="rgb(66,66,66)" stroke="#222" stroke-width="0.8"/>
<ellipse cx="972.1" cy="1650.3" rx="8.6" ry="6.6" transform="rotate(91 972.1 1650.3)" fill="rgb(67,67,67)" stroke="#222" stroke-width="0.8"/>
<ellipse cx="771.1" cy="1664.1" rx="10.5" ry="7.0" transform="rotate(32 771.1 1664.1)" fill="rgb(65,65,65)" stroke="#222" stroke-width="0.8"/>
<ellipse cx="813.8" cy="1479.8" rx="9.5" ry="7.3" transform="rotate(31 813.8 1479.8)" fill="rgb(69,69,69)" stroke="#222" stroke-width="0.8"/>
<ellipse cx="830.3" cy="1616.2" rx="9.1" ry="6.1" transform="rotate(48 830.3 1616.2)" fill="rgb(60,60,60)" stroke="#222" stroke-width="0.8"/>
<ellipse cx="1000.9" cy="1550.2" rx="8.9" ry="6.9" transform="rotate(115 1000.9 1550.2)" fill="rgb(63,63,63)" stroke="#222" stroke-width="0.8"/>
<ellipse cx="897.1" cy="1485.3" rx="10.7" ry="8.2" transform="rotate(139 897.1 1485.3)" fill="rgb(76,76,76)" stroke="#222" stroke-width="0.8"/>
<ellipse cx="774.5" cy="1541.6" rx="9.8" ry="8.3" transform="rotate(131 774.5 1541.6)" fill="rgb(68,68,68)" stroke="#222" stroke-width="0.8"/>
<ellipse cx="908.2" cy="1557.4" rx="8.5" ry="5.6" transform="rotate(47 908.2 1557.4)" fill="rgb(77,77,77)" stroke="#222" stroke-width="0.8"/>
<ellipse cx="1017.1" cy="1367.5" rx="10.7" ry="7.6" transform="rotate(5 1017.1 1367.5)" fill="rgb(68,68,68)" stroke="#222" stroke-width="0.8"/>
<ellipse cx="837.6" cy="1522.3" rx="10.3" ry="7.9" transform="rotate(102 837.6 1522.3)" fill="rgb(68,68,68)" stroke="#222" stroke-width="0.8"/>
<ellipse cx="968.9" cy="1541.2" rx="10.4" ry="8.2" transform="rotate(58 968.9 1541.2)" fill="rgb(68,68,68)" stroke="#222" stroke-width="0.8"/>
<ellipse cx="852.3" cy="1484.0" rx="9.0" ry="6.5" transform="rotate(32 852.3 1484.0)" fill="rgb(77,77,77)" stroke="#222" stroke-width="0.8"/>
<ellipse cx="1025.5" cy="1479.8" rx="8.7" ry="7.0" transform="rotate(102 1025.5 1479.8)" fill="rgb(79,79,79)" stroke="#222" stroke-width="0.8"/>
<ellipse cx="892.8" cy="1663.7" rx="9.1" ry="6.2" transform="rotate(2 892.8 1663.7)" fill="rgb(68,68,68)" stroke="#222" stroke-width="0.8"/>
<ellipse cx="1039.2" cy="1434.0" rx="10.6" ry="7.8" transform="rotate(22 1039.2 1434.0)" fill="rgb(80,80,80)" stroke="#222" stroke-width="0.8"/>
<ellipse cx="1023.9" cy="1380.8" rx="11.0" ry="8.7" transform="rotate(27 1023.9 1380.8)" fill="rgb(73,73,73)" stroke="#222" stroke-width="0.8"/>
<ellipse cx="813.6" cy="1512.5" rx="10.3" ry="6.9" transform="rotate(86 813.6 1512.5)" fill="rgb(75,75,75)" stroke="#222" stroke-width="0.8"/>
<ellipse cx="952.3" cy="1627.0" rx="10.6" ry="8.0" transform="rotate(143 952.3 1627.0)" fill="rgb(70,70,70)" stroke="#222" stroke-width="0.8"/>
<ellipse cx="1071.8" cy="1466.6" rx="9.6" ry="6.6" transform="rotate(0 1071.8 1466.6)" fill="rgb(72,72,72)" stroke="#222" stroke-width="0.8"/>
<ellipse cx="1047.0" cy="1617.7" rx="9.3" ry="7.2" transform="rotate(15 1047.0 1617.7)" fill="rgb(74,74,74)" stroke="#222" stroke-width="0.8"/>
<ellipse cx="990.5" cy="1453.8" rx="9.5" ry="6.3" transform="rotate(35 990.5 1453.8)" fill="rgb(64,64,64)" stroke="#222" stroke-width="0.8"/>
<ellipse cx="1072.6" cy="1490.9" rx="9.5" ry="7.0" transform="rotate(28 1072.6 1490.9)" fill="rgb(76,76,76)" stroke="#222" stroke-width="0.8"/>
<ellipse cx="985.3" cy="1433.3" rx="9.5" ry="6.5" transform="rotate(3 985.3 1433.3)" fill="rgb(76,76,76)" stroke="#222" stroke-width="0.8"/>
<ellipse cx="890.4" cy="1457.8" rx="9.1" ry="5.9" transform="rotate(61 890.4 1457.8)" fill="rgb(67,67,67)" stroke="#222" stroke-width="0.8"/>
<ellipse cx="907.9" cy="1532.3" rx="9.7" ry="7.8" transform="rotate(4 907.9 1532.3)" fill="rgb(67,67,67)" stroke="#222" stroke-width="0.8"/>
<ellipse cx="736.0" cy="1643.5" rx="10.6" ry="8.4" transform="rotate(95 736.0 1643.5)" fill="rgb(61,61,61)" stroke="#222" stroke-width="0.8"/>
<ellipse cx="893.9" cy="1469.7" rx="10.0" ry="8.3" transform="rotate(158 893.9 1469.7)" fill="rgb(77,77,77)" stroke="#222" stroke-width="0.8"/>
<ellipse cx="1036.5" cy="1586.5" rx="10.7" ry="7.1" transform="rotate(178 1036.5 1586.5)" fill="rgb(72,72,72)" stroke="#222" stroke-width="0.8"/>
<ellipse cx="1013.2" cy="1524.1" rx="10.2" ry="6.9" transform="rotate(67 1013.2 1524.1)" fill="rgb(67,67,67)" stroke="#222" stroke-width="0.8"/>
<ellipse cx="967.8" cy="1431.5" rx="8.8" ry="7.2" transform="rotate(5 967.8 1431.5)" fill="rgb(81,81,81)" stroke="#222" stroke-width="0.8"/>
<ellipse cx="863.8" cy="1490.2" rx="10.2" ry="8.6" transform="rotate(1 863.8 1490.2)" fill="rgb(78,78,78)" stroke="#222" stroke-width="0.8"/>
<ellipse cx="901.5" cy="1573.1" rx="9.9" ry="7.5" transform="rotate(157 901.5 1573.1)" fill="rgb(73,73,73)" stroke="#222" stroke-width="0.8"/>
<ellipse cx="1015.3" cy="1462.6" rx="10.7" ry="7.2" transform="rotate(50 1015.3 1462.6)" fill="rgb(65,65,65)" stroke="#222" stroke-width="0.8"/>
<ellipse cx="917.2" cy="1402.0" rx="10.3" ry="7.6" transform="rotate(162 917.2 1402.0)" fill="rgb(75,75,75)" stroke="#222" stroke-width="0.8"/>
<ellipse cx="1069.8" cy="1599.5" rx="10.2" ry="8.2" transform="rotate(108 1069.8 1599.5)" fill="rgb(74,74,74)" stroke="#222" stroke-width="0.8"/>
<ellipse cx="895.3" cy="1568.1" rx="9.4" ry="7.6" transform="rotate(65 895.3 1568.1)" fill="rgb(77,77,77)" stroke="#222" stroke-width="0.8"/>
<ellipse cx="785.4" cy="1552.1" rx="11.0" ry="8.2" transform="rotate(68 785.4 1552.1)" fill="rgb(75,75,75)" stroke="#222" stroke-width="0.8"/>
<ellipse cx="929.0" cy="1398.5" rx="9.4" ry="7.2" transform="rotate(176 929.0 1398.5)" fill="rgb(71,71,71)" stroke="#222" stroke-width="0.8"/>
<ellipse cx="906.5" cy="1475.5" rx="9.8" ry="6.7" transform="rotate(174 906.5 1475.5)" fill="rgb(71,71,71)" stroke="#222" stroke-width="0.8"/>
<ellipse cx="927.5" cy="1586.3" rx="10.6" ry="8.6" transform="rotate(58 927.5 1586.3)" fill="rgb(69,69,69)" stroke="#222" stroke-width="0.8"/>
<ellipse cx="762.7" cy="1533.2" rx="8.9" ry="7.2" transform="rotate(101 762.7 1533.2)" fill="rgb(57,57,57)" stroke="#222" stroke-width="0.8"/>
<ellipse cx="1015.6" cy="1418.2" rx="9.3" ry="7.4" transform="rotate(171 1015.6 1418.2)" fill="rgb(68,68,68)" stroke="#222" stroke-width="0.8"/>
<ellipse cx="878.9" cy="1610.6" rx="10.7" ry="8.2" transform="rotate(20 878.9 1610.6)" fill="rgb(78,78,78)" stroke="#222" stroke-width="0.8"/>
<ellipse cx="863.4" cy="1529.6" rx="10.8" ry="8.6" transform="rotate(63 863.4 1529.6)" fill="rgb(68,68,68)" stroke="#222" stroke-width="0.8"/>
<ellipse cx="867.8" cy="1621.6" rx="9.8" ry="6.6" transform="rotate(70 867.8 1621.6)" fill="rgb(68,68,68)" stroke="#222" stroke-width="0.8"/>
<ellipse cx="1048.0" cy="1476.9" rx="9.6" ry="6.9" transform="rotate(17 1048.0 1476.9)" fill="rgb(79,79,79)" stroke="#222" stroke-width="0.8"/>
<ellipse cx="985.1" cy="1389.6" rx="10.8" ry="7.1" transform="rotate(4 985.1 1389.6)" fill="rgb(79,79,79)" stroke="#222" stroke-width="0.8"/>
<ellipse cx="846.7" cy="1554.3" rx="9.1" ry="7.5" transform="rotate(40 846.7 1554.3)" fill="rgb(75,75,75)" stroke="#222" stroke-width="0.8"/>
<ellipse cx="1006.9" cy="1420.6" rx="9.3" ry="6.7" transform="rotate(21 1006.9 1420.6)" fill="rgb(75,75,75)" stroke="#222" stroke-width="0.8"/>
<ellipse cx="1036.4" cy="1403.6" rx="10.3" ry="6.8" transform="rotate(164 1036.4 1403.6)" fill="rgb(67,67,67)" stroke="#222" stroke-width="0.8"/>
<ellipse cx="836.1" cy="1442.5" rx="10.7" ry="9.1" transform="rotate(66 836.1 1442.5)" fill="rgb(65,65,65)" stroke="#222" stroke-width="0.8"/>
<ellipse cx="956.6" cy="1370.8" rx="10.4" ry="7.3" transform="rotate(149 956.6 1370.8)" fill="rgb(72,72,72)" stroke="#222" stroke-width="0.8"/>
<ellipse cx="992.2" cy="1377.2" rx="8.6" ry="6.5" transform="rotate(46 992.2 1377.2)" fill="rgb(67,67,67)" stroke="#222" stroke-width="0.8"/>
<ellipse cx="806.0" cy="1555.6" rx="8.8" ry="5.8" transform="rotate(98 806.0 1555.6)" fill="rgb(78,78,78)" stroke="#222" stroke-width="0.8"/>
<ellipse cx="907.2" cy="1395.9" rx="9.4" ry="6.8" transform="rotate(96 907.2 1395.9)" fill="rgb(62,62,62)" stroke="#222" stroke-width="0.8"/>
<ellipse cx="903.5" cy="1409.1" rx="9.5" ry="6.3" transform="rotate(65 903.5 1409.1)" fill="rgb(75,75,75)" stroke="#222" stroke-width="0.8"/>
<ellipse cx="958.4" cy="1544.3" rx="9.3" ry="6.2" transform="rotate(6 958.4 1544.3)" fill="rgb(66,66,66)" stroke="#222" stroke-width="0.8"/>
<ellipse cx="873.4" cy="1366.4" rx="9.4" ry="6.7" transform="rotate(128 873.4 1366.4)" fill="rgb(74,74,74)" stroke="#222" stroke-width="0.8"/>
<ellipse cx="938.0" cy="1457.5" rx="10.6" ry="8.6" transform="rotate(72 938.0 1457.5)" fill="rgb(75,75,75)" stroke="#222" stroke-width="0.8"/>
<ellipse cx="972.2" cy="1381.2" rx="10.8" ry="7.8" transform="rotate(49 972.2 1381.2)" fill="rgb(73,73,73)" stroke="#222" stroke-width="0.8"/>
<ellipse cx="944.7" cy="1453.3" rx="10.4" ry="8.1" transform="rotate(15 944.7 1453.3)" fill="rgb(80,80,80)" stroke="#222" stroke-width="0.8"/>
<ellipse cx="1017.3" cy="1379.7" rx="10.4" ry="8.3" transform="rotate(42 1017.3 1379.7)" fill="rgb(70,70,70)" stroke="#222" stroke-width="0.8"/>
<ellipse cx="1072.9" cy="1445.9" rx="10.0" ry="8.2" transform="rotate(63 1072.9 1445.9)" fill="rgb(73,73,73)" stroke="#222" stroke-width="0.8"/>
<ellipse cx="917.1" cy="1501.5" rx="10.4" ry="7.7" transform="rotate(70 917.1 1501.5)" fill="rgb(79,79,79)" stroke="#222" stroke-width="0.8"/>
<ellipse cx="1025.1" cy="1419.8" rx="9.7" ry="8.0" transform="rotate(35 1025.1 1419.8)" fill="rgb(79,79,79)" stroke="#222" stroke-width="0.8"/>
<ellipse cx="1023.6" cy="1396.2" rx="10.3" ry="8.4" transform="rotate(88 1023.6 1396.2)" fill="rgb(74,74,74)" stroke="#222" stroke-width="0.8"/>
<ellipse cx="924.8" cy="1563.9" rx="8.8" ry="5.8" transform="rotate(20 924.8 1563.9)" fill="rgb(81,81,81)" stroke="#222" stroke-width="0.8"/>
<ellipse cx="919.2" cy="1413.6" rx="10.4" ry="8.4" transform="rotate(75 919.2 1413.6)" fill="rgb(80,80,80)" stroke="#222" stroke-width="0.8"/>
<ellipse cx="1036.5" cy="1465.5" rx="9.0" ry="7.0" transform="rotate(158 1036.5 1465.5)" fill="rgb(65,65,65)" stroke="#222" stroke-width="0.8"/>
<ellipse cx="955.8" cy="1516.8" rx="10.7" ry="7.4" transform="rotate(118 955.8 1516.8)" fill="rgb(77,77,77)" stroke="#222" stroke-width="0.8"/>
<ellipse cx="949.3" cy="1425.3" rx="9.5" ry="6.4" transform="rotate(9 949.3 1425.3)" fill="rgb(78,78,78)" stroke="#222" stroke-width="0.8"/>
<ellipse cx="1035.7" cy="1420.7" rx="10.9" ry="8.5" transform="rotate(152 1035.7 1420.7)" fill="rgb(69,69,69)" stroke="#222" stroke-width="0.8"/>
<ellipse cx="827.2" cy="1489.8" rx="9.9" ry="7.5" transform="rotate(31 827.2 1489.8)" fill="rgb(67,67,67)" stroke="#222" stroke-width="0.8"/>
<ellipse cx="929.6" cy="1356.0" rx="10.7" ry="7.5" transform="rotate(110 929.6 1356.0)" fill="rgb(74,74,74)" stroke="#222" stroke-width="0.8"/>
<ellipse cx="791.1" cy="1377.0" rx="9.8" ry="7.4" transform="rotate(96 791.1 1377.0)" fill="rgb(58,58,58)" stroke="#222" stroke-width="0.8"/>
<ellipse cx="939.0" cy="1398.2" rx="8.7" ry="6.0" transform="rotate(61 939.0 1398.2)" fill="rgb(76,76,76)" stroke="#222" stroke-width="0.8"/>
<ellipse cx="1072.9" cy="1589.5" rx="10.2" ry="7.5" transform="rotate(85 1072.9 1589.5)" fill="rgb(73,73,73)" stroke="#222" stroke-width="0.8"/>
<ellipse cx="1021.7" cy="1434.7" rx="10.8" ry="8.3" transform="rotate(159 1021.7 1434.7)" fill="rgb(80,80,80)" stroke="#222" stroke-width="0.8"/>
<ellipse cx="957.8" cy="1389.1" rx="9.8" ry="7.5" transform="rotate(31 957.8 1389.1)" fill="rgb(72,72,72)" stroke="#222" stroke-width="0.8"/>
<ellipse cx="966.5" cy="1441.1" rx="9.1" ry="6.9" transform="rotate(106 966.5 1441.1)" fill="rgb(76,76,76)" stroke="#222" stroke-width="0.8"/>
<ellipse cx="896.2" cy="1510.4" rx="9.8" ry="8.2" transform="rotate(63 896.2 1510.4)" fill="rgb(78,78,78)" stroke="#222" stroke-width="0.8"/>
<ellipse cx="1022.9" cy="1465.7" rx="10.8" ry="9.2" transform="rotate(15 1022.9 1465.7)" fill="rgb(64,64,64)" stroke="#222" stroke-width="0.8"/>
<ellipse cx="990.4" cy="1662.0" rx="10.0" ry="7.2" transform="rotate(85 990.4 1662.0)" fill="rgb(60,60,60)" stroke="#222" stroke-width="0.8"/>
<ellipse cx="939.9" cy="1566.9" rx="10.0" ry="7.5" transform="rotate(105 939.9 1566.9)" fill="rgb(67,67,67)" stroke="#222" stroke-width="0.8"/>
<ellipse cx="1028.2" cy="1638.8" rx="9.8" ry="7.9" transform="rotate(91 1028.2 1638.8)" fill="rgb(68,68,68)" stroke="#222" stroke-width="0.8"/>
<ellipse cx="1001.0" cy="1671.0" rx="8.8" ry="7.2" transform="rotate(127 1001.0 1671.0)" fill="rgb(66,66,66)" stroke="#222" stroke-width="0.8"/>
<ellipse cx="785.1" cy="1530.5" rx="8.9" ry="6.8" transform="rotate(125 785.1 1530.5)" fill="rgb(76,76,76)" stroke="#222" stroke-width="0.8"/>
<ellipse cx="809.1" cy="1485.4" rx="10.2" ry="7.4" transform="rotate(59 809.1 1485.4)" fill="rgb(74,74,74)" stroke="#222" stroke-width="0.8"/>
<ellipse cx="1015.0" cy="1543.8" rx="9.5" ry="6.3" transform="rotate(139 1015.0 1543.8)" fill="rgb(66,66,66)" stroke="#222" stroke-width="0.8"/>
<ellipse cx="1069.8" cy="1357.6" rx="9.5" ry="7.2" transform="rotate(9 1069.8 1357.6)" fill="rgb(74,74,74)" stroke="#222" stroke-width="0.8"/>
<ellipse cx="1005.5" cy="1585.4" rx="11.0" ry="8.1" transform="rotate(65 1005.5 1585.4)" fill="rgb(58,58,58)" stroke="#222" stroke-width="0.8"/>
<ellipse cx="968.7" cy="1507.3" rx="10.9" ry="9.1" transform="rotate(24 968.7 1507.3)" fill="rgb(70,70,70)" stroke="#222" stroke-width="0.8"/>
<ellipse cx="807.0" cy="1671.0" rx="10.2" ry="7.5" transform="rotate(115 807.0 1671.0)" fill="rgb(72,72,72)" stroke="#222" stroke-width="0.8"/>
<ellipse cx="915.2" cy="1512.3" rx="8.6" ry="6.0" transform="rotate(63 915.2 1512.3)" fill="rgb(77,77,77)" stroke="#222" stroke-width="0.8"/>
<ellipse cx="884.8" cy="1380.3" rx="9.7" ry="7.3" transform="rotate(11 884.8 1380.3)" fill="rgb(65,65,65)" stroke="#222" stroke-width="0.8"/>
<ellipse cx="792.6" cy="1671.2" rx="9.3" ry="7.8" transform="rotate(123 792.6 1671.2)" fill="rgb(60,60,60)" stroke="#222" stroke-width="0.8"/>
<ellipse cx="831.1" cy="1530.3" rx="10.0" ry="6.8" transform="rotate(134 831.1 1530.3)" fill="rgb(74,74,74)" stroke="#222" stroke-width="0.8"/>
<ellipse cx="1073.1" cy="1376.9" rx="10.2" ry="7.5" transform="rotate(120 1073.1 1376.9)" fill="rgb(77,77,77)" stroke="#222" stroke-width="0.8"/>
<ellipse cx="912.1" cy="1563.4" rx="10.9" ry="7.5" transform="rotate(110 912.1 1563.4)" fill="rgb(78,78,78)" stroke="#222" stroke-width="0.8"/>
<ellipse cx="925.2" cy="1387.4" rx="9.9" ry="7.4" transform="rotate(179 925.2 1387.4)" fill="rgb(68,68,68)" stroke="#222" stroke-width="0.8"/>
<ellipse cx="1005.1" cy="1529.7" rx="10.4" ry="8.1" transform="rotate(120 1005.1 1529.7)" fill="rgb(73,73,73)" stroke="#222" stroke-width="0.8"/>
<ellipse cx="1010.8" cy="1400.6" rx="10.5" ry="8.0" transform="rotate(120 1010.8 1400.6)" fill="rgb(76,76,76)" stroke="#222" stroke-width="0.8"/>
<ellipse cx="850.4" cy="1589.9" rx="10.9" ry="8.7" transform="rotate(85 850.4 1589.9)" fill="rgb(77,77,77)" stroke="#222" stroke-width="0.8"/>
<ellipse cx="935.4" cy="1575.3" rx="10.4" ry="7.5" transform="rotate(119 935.4 1575.3)" fill="rgb(70,70,70)" stroke="#222" stroke-width="0.8"/>
<ellipse cx="934.5" cy="1485.7" rx="9.4" ry="6.8" transform="rotate(3 934.5 1485.7)" fill="rgb(69,69,69)" stroke="#222" stroke-width="0.8"/>
<ellipse cx="1013.8" cy="1629.6" rx="9.9" ry="8.1" transform="rotate(112 1013.8 1629.6)" fill="rgb(62,62,62)" stroke="#222" stroke-width="0.8"/>
<ellipse cx="918.2" cy="1445.5" rx="10.7" ry="8.1" transform="rotate(173 918.2 1445.5)" fill="rgb(65,65,65)" stroke="#222" stroke-width="0.8"/>
<ellipse cx="868.1" cy="1359.3" rx="11.0" ry="8.8" transform="rotate(108 868.1 1359.3)" fill="rgb(70,70,70)" stroke="#222" stroke-width="0.8"/>
<ellipse cx="1011.8" cy="1452.7" rx="10.6" ry="7.9" transform="rotate(53 1011.8 1452.7)" fill="rgb(78,78,78)" stroke="#222" stroke-width="0.8"/>
<ellipse cx="980.5" cy="1424.6" rx="10.1" ry="7.4" transform="rotate(13 980.5 1424.6)" fill="rgb(75,75,75)" stroke="#222" stroke-width="0.8"/>
<ellipse cx="1045.8" cy="1496.9" rx="9.6" ry="8.1" transform="rotate(92 1045.8 1496.9)" fill="rgb(80,80,80)" stroke="#222" stroke-width="0.8"/>
<ellipse cx="989.6" cy="1583.3" rx="9.1" ry="6.1" transform="rotate(93 989.6 1583.3)" fill="rgb(75,75,75)" stroke="#222" stroke-width="0.8"/>
<ellipse cx="972.7" cy="1410.0" rx="9.1" ry="7.2" transform="rotate(157 972.7 1410.0)" fill="rgb(72,72,72)" stroke="#222" stroke-width="0.8"/>
<ellipse cx="905.0" cy="1462.4" rx="9.1" ry="7.0" transform="rotate(66 905.0 1462.4)" fill="rgb(65,65,65)" stroke="#222" stroke-width="0.8"/>
<ellipse cx="937.9" cy="1388.5" rx="10.9" ry="7.5" transform="rotate(145 937.9 1388.5)" fill="rgb(72,72,72)" stroke="#222" stroke-width="0.8"/>
<ellipse cx="1002.2" cy="1488.4" rx="10.0" ry="8.5" transform="rotate(5 1002.2 1488.4)" fill="rgb(80,80,80)" stroke="#222" stroke-width="0.8"/>
<ellipse cx="859.2" cy="1420.7" rx="8.8" ry="6.8" transform="rotate(54 859.2 1420.7)" fill="rgb(67,67,67)" stroke="#222" stroke-width="0.8"/>
<ellipse cx="1072.0" cy="1506.4" rx="9.0" ry="6.7" transform="rotate(148 1072.0 1506.4)" fill="rgb(73,73,73)" stroke="#222" stroke-width="0.8"/>
<ellipse cx="982.5" cy="1597.9" rx="9.9" ry="7.6" transform="rotate(46 982.5 1597.9)" fill="rgb(70,70,70)" stroke="#222" stroke-width="0.8"/>
<ellipse cx="930.2" cy="1457.4" rx="9.2" ry="7.0" transform="rotate(109 930.2 1457.4)" fill="rgb(71,71,71)" stroke="#222" stroke-width="0.8"/>
<ellipse cx="902.0" cy="1450.8" rx="11.0" ry="8.2" transform="rotate(107 902.0 1450.8)" fill="rgb(73,73,73)" stroke="#222" stroke-width="0.8"/>
<ellipse cx="863.6" cy="1480.6" rx="10.0" ry="8.0" transform="rotate(133 863.6 1480.6)" fill="rgb(67,67,67)" stroke="#222" stroke-width="0.8"/>
<ellipse cx="782.3" cy="1678.1" rx="10.4" ry="8.3" transform="rotate(84 782.3 1678.1)" fill="rgb(65,65,65)" stroke="#222" stroke-width="0.8"/>
<ellipse cx="742.0" cy="1519.1" rx="9.6" ry="7.5" transform="rotate(30 742.0 1519.1)" fill="rgb(54,54,54)" stroke="#222" stroke-width="0.8"/>
<ellipse cx="993.9" cy="1601.4" rx="10.2" ry="7.7" transform="rotate(50 993.9 1601.4)" fill="rgb(59,59,59)" stroke="#222" stroke-width="0.8"/>
<ellipse cx="837.6" cy="1486.5" rx="8.6" ry="6.0" transform="rotate(178 837.6 1486.5)" fill="rgb(77,77,77)" stroke="#222" stroke-width="0.8"/>
<ellipse cx="1017.8" cy="1661.5" rx="9.0" ry="6.7" transform="rotate(43 1017.8 1661.5)" fill="rgb(65,65,65)" stroke="#222" stroke-width="0.8"/>
<ellipse cx="1043.8" cy="1434.8" rx="11.0" ry="9.2" transform="rotate(156 1043.8 1434.8)" fill="rgb(64,64,64)" stroke="#222" stroke-width="0.8"/>
<ellipse cx="978.6" cy="1517.4" rx="10.2" ry="7.3" transform="rotate(9 978.6 1517.4)" fill="rgb(71,71,71)" stroke="#222" stroke-width="0.8"/>
<ellipse cx="936.9" cy="1498.1" rx="9.5" ry="7.9" transform="rotate(54 936.9 1498.1)" fill="rgb(77,77,77)" stroke="#222" stroke-width="0.8"/>
<ellipse cx="781.4" cy="1509.4" rx="9.0" ry="7.6" transform="rotate(36 781.4 1509.4)" fill="rgb(65,65,65)" stroke="#222" stroke-width="0.8"/>
<ellipse cx="891.1" cy="1495.0" rx="9.8" ry="7.8" transform="rotate(16 891.1 1495.0)" fill="rgb(76,76,76)" stroke="#222" stroke-width="0.8"/>
<ellipse cx="1001.0" cy="1392.4" rx="8.9" ry="7.1" transform="rotate(54 1001.0 1392.4)" fill="rgb(79,79,79)" stroke="#222" stroke-width="0.8"/>
<ellipse cx="1065.5" cy="1398.4" rx="10.2" ry="8.4" transform="rotate(34 1065.5 1398.4)" fill="rgb(62,62,62)" stroke="#222" stroke-width="0.8"/>
<ellipse cx="826.0" cy="1362.9" rx="8.6" ry="7.3" transform="rotate(39 826.0 1362.9)" fill="rgb(57,57,57)" stroke="#222" stroke-width="0.8"/>
<ellipse cx="770.1" cy="1523.5" rx="9.8" ry="8.1" transform="rotate(100 770.1 1523.5)" fill="rgb(74,74,74)" stroke="#222" stroke-width="0.8"/>
<ellipse cx="1044.6" cy="1555.6" rx="10.0" ry="7.7" transform="rotate(142 1044.6 1555.6)" fill="rgb(78,78,78)" stroke="#222" stroke-width="0.8"/>
<ellipse cx="993.1" cy="1396.5" rx="10.1" ry="8.0" transform="rotate(102 993.1 1396.5)" fill="rgb(77,77,77)" stroke="#222" stroke-width="0.8"/>
<ellipse cx="860.9" cy="1369.7" rx="10.8" ry="8.5" transform="rotate(149 860.9 1369.7)" fill="rgb(62,62,62)" stroke="#222" stroke-width="0.8"/>
<ellipse cx="1001.6" cy="1410.0" rx="8.8" ry="7.0" transform="rotate(109 1001.6 1410.0)" fill="rgb(77,77,77)" stroke="#222" stroke-width="0.8"/>
<ellipse cx="970.3" cy="1392.5" rx="9.8" ry="7.6" transform="rotate(48 970.3 1392.5)" fill="rgb(77,77,77)" stroke="#222" stroke-width="0.8"/>
<ellipse cx="915.2" cy="1573.8" rx="10.3" ry="8.2" transform="rotate(87 915.2 1573.8)" fill="rgb(72,72,72)" stroke="#222" stroke-width="0.8"/>
<ellipse cx="836.7" cy="1567.1" rx="9.8" ry="7.7" transform="rotate(148 836.7 1567.1)" fill="rgb(68,68,68)" stroke="#222" stroke-width="0.8"/>
<ellipse cx="981.5" cy="1444.4" rx="10.1" ry="7.8" transform="rotate(87 981.5 1444.4)" fill="rgb(68,68,68)" stroke="#222" stroke-width="0.8"/>
<ellipse cx="928.6" cy="1411.2" rx="10.3" ry="7.0" transform="rotate(35 928.6 1411.2)" fill="rgb(67,67,67)" stroke="#222" stroke-width="0.8"/>
<ellipse cx="860.3" cy="1510.2" rx="9.9" ry="7.8" transform="rotate(75 860.3 1510.2)" fill="rgb(63,63,63)" stroke="#222" stroke-width="0.8"/>
<ellipse cx="1069.2" cy="1535.0" rx="10.2" ry="7.0" transform="rotate(138 1069.2 1535.0)" fill="rgb(74,74,74)" stroke="#222" stroke-width="0.8"/>
<ellipse cx="825.9" cy="1540.2" rx="10.8" ry="7.9" transform="rotate(21 825.9 1540.2)" fill="rgb(65,65,65)" stroke="#222" stroke-width="0.8"/>
<ellipse cx="1016.9" cy="1499.6" rx="8.5" ry="7.2" transform="rotate(164 1016.9 1499.6)" fill="rgb(77,77,77)" stroke="#222" stroke-width="0.8"/>
<ellipse cx="1014.8" cy="1653.7" rx="9.2" ry="7.5" transform="rotate(90 1014.8 1653.7)" fill="rgb(72,72,72)" stroke="#222" stroke-width="0.8"/>
<ellipse cx="1066.7" cy="1497.4" rx="10.9" ry="8.6" transform="rotate(58 1066.7 1497.4)" fill="rgb(66,66,66)" stroke="#222" stroke-width="0.8"/>
<ellipse cx="951.3" cy="1484.8" rx="9.7" ry="7.4" transform="rotate(84 951.3 1484.8)" fill="rgb(75,75,75)" stroke="#222" stroke-width="0.8"/>
<ellipse cx="858.5" cy="1518.0" rx="10.8" ry="8.0" transform="rotate(53 858.5 1518.0)" fill="rgb(77,77,77)" stroke="#222" stroke-width="0.8"/>
<ellipse cx="890.1" cy="1586.7" rx="8.6" ry="5.8" transform="rotate(48 890.1 1586.7)" fill="rgb(75,75,75)" stroke="#222" stroke-width="0.8"/>
<ellipse cx="1022.7" cy="1364.0" rx="8.7" ry="6.7" transform="rotate(140 1022.7 1364.0)" fill="rgb(67,67,67)" stroke="#222" stroke-width="0.8"/>
<ellipse cx="845.8" cy="1500.1" rx="10.2" ry="8.1" transform="rotate(57 845.8 1500.1)" fill="rgb(78,78,78)" stroke="#222" stroke-width="0.8"/>
<ellipse cx="905.5" cy="1540.0" rx="8.9" ry="7.3" transform="rotate(103 905.5 1540.0)" fill="rgb(79,79,79)" stroke="#222" stroke-width="0.8"/>
<ellipse cx="857.8" cy="1576.7" rx="9.9" ry="6.9" transform="rotate(25 857.8 1576.7)" fill="rgb(77,77,77)" stroke="#222" stroke-width="0.8"/>
<ellipse cx="947.1" cy="1606.7" rx="9.6" ry="6.6" transform="rotate(125 947.1 1606.7)" fill="rgb(61,61,61)" stroke="#222" stroke-width="0.8"/>
<ellipse cx="897.1" cy="1446.0" rx="9.0" ry="7.0" transform="rotate(18 897.1 1446.0)" fill="rgb(75,75,75)" stroke="#222" stroke-width="0.8"/>
<ellipse cx="990.9" cy="1387.4" rx="9.9" ry="6.7" transform="rotate(36 990.9 1387.4)" fill="rgb(81,81,81)" stroke="#222" stroke-width="0.8"/>
<ellipse cx="968.1" cy="1420.0" rx="10.2" ry="8.5" transform="rotate(19 968.1 1420.0)" fill="rgb(67,67,67)" stroke="#222" stroke-width="0.8"/>
<ellipse cx="1050.3" cy="1420.3" rx="8.6" ry="7.3" transform="rotate(65 1050.3 1420.3)" fill="rgb(65,65,65)" stroke="#222" stroke-width="0.8"/>
<ellipse cx="867.5" cy="1429.4" rx="9.6" ry="6.8" transform="rotate(178 867.5 1429.4)" fill="rgb(66,66,66)" stroke="#222" stroke-width="0.8"/>
<ellipse cx="784.8" cy="1539.4" rx="10.9" ry="8.0" transform="rotate(130 784.8 1539.4)" fill="rgb(67,67,67)" stroke="#222" stroke-width="0.8"/>
<ellipse cx="1021.6" cy="1631.2" rx="9.4" ry="7.0" transform="rotate(57 1021.6 1631.2)" fill="rgb(69,69,69)" stroke="#222" stroke-width="0.8"/>
<ellipse cx="914.3" cy="1534.1" rx="9.2" ry="6.3" transform="rotate(40 914.3 1534.1)" fill="rgb(70,70,70)" stroke="#222" stroke-width="0.8"/>
<ellipse cx="1025.7" cy="1649.9" rx="10.2" ry="8.1" transform="rotate(134 1025.7 1649.9)" fill="rgb(64,64,64)" stroke="#222" stroke-width="0.8"/>
<ellipse cx="1035.6" cy="1392.3" rx="11.0" ry="9.1" transform="rotate(179 1035.6 1392.3)" fill="rgb(71,71,71)" stroke="#222" stroke-width="0.8"/>
<ellipse cx="922.5" cy="1643.5" rx="10.0" ry="8.5" transform="rotate(84 922.5 1643.5)" fill="rgb(70,70,70)" stroke="#222" stroke-width="0.8"/>
<ellipse cx="961.4" cy="1510.4" rx="10.1" ry="7.2" transform="rotate(37 961.4 1510.4)" fill="rgb(66,66,66)" stroke="#222" stroke-width="0.8"/>
<ellipse cx="894.6" cy="1540.1" rx="8.7" ry="7.2" transform="rotate(166 894.6 1540.1)" fill="rgb(69,69,69)" stroke="#222" stroke-width="0.8"/>
<ellipse cx="1007.0" cy="1400.7" rx="9.3" ry="6.2" transform="rotate(114 1007.0 1400.7)" fill="rgb(67,67,67)" stroke="#222" stroke-width="0.8"/>
<ellipse cx="970.3" cy="1403.6" rx="10.5" ry="8.7" transform="rotate(91 970.3 1403.6)" fill="rgb(76,76,76)" stroke="#222" stroke-width="0.8"/>
<ellipse cx="1018.0" cy="1610.5" rx="9.9" ry="8.0" transform="rotate(143 1018.0 1610.5)" fill="rgb(62,62,62)" stroke="#222" stroke-width="0.8"/>
<ellipse cx="883.5" cy="1487.9" rx="10.7" ry="7.5" transform="rotate(8 883.5 1487.9)" fill="rgb(72,72,72)" stroke="#222" stroke-width="0.8"/>
<ellipse cx="837.7" cy="1435.1" rx="9.9" ry="6.9" transform="rotate(20 837.7 1435.1)" fill="rgb(59,59,59)" stroke="#222" stroke-width="0.8"/>
<ellipse cx="1027.5" cy="1495.4" rx="10.4" ry="7.1" transform="rotate(72 1027.5 1495.4)" fill="rgb(71,71,71)" stroke="#222" stroke-width="0.8"/>
<ellipse cx="945.9" cy="1414.5" rx="10.2" ry="8.6" transform="rotate(96 945.9 1414.5)" fill="rgb(75,75,75)" stroke="#222" stroke-width="0.8"/>
<ellipse cx="883.5" cy="1567.6" rx="10.5" ry="7.1" transform="rotate(151 883.5 1567.6)" fill="rgb(72,72,72)" stroke="#222" stroke-width="0.8"/>
<ellipse cx="1057.1" cy="1368.2" rx="9.1" ry="6.1" transform="rotate(71 1057.1 1368.2)" fill="rgb(65,65,65)" stroke="#222" stroke-width="0.8"/>
<ellipse cx="937.7" cy="1590.1" rx="8.6" ry="6.7" transform="rotate(39 937.7 1590.1)" fill="rgb(70,70,70)" stroke="#222" stroke-width="0.8"/>
<ellipse cx="871.7" cy="1446.3" rx="9.3" ry="6.9" transform="rotate(64 871.7 1446.3)" fill="rgb(65,65,65)" stroke="#222" stroke-width="0.8"/>
<ellipse cx="1067.5" cy="1387.4" rx="9.8" ry="7.2" transform="rotate(37 1067.5 1387.4)" fill="rgb(64,64,64)" stroke="#222" stroke-width="0.8"/>
<ellipse cx="1051.1" cy="1365.3" rx="9.1" ry="6.2" transform="rotate(117 1051.1 1365.3)" fill="rgb(80,80,80)" stroke="#222" stroke-width="0.8"/>
<ellipse cx="904.3" cy="1358.2" rx="8.9" ry="7.3" transform="rotate(132 904.3 1358.2)" fill="rgb(65,65,65)" stroke="#222" stroke-width="0.8"/>
<ellipse cx="760.8" cy="1485.1" rx="10.4" ry="7.8" transform="rotate(91 760.8 1485.1)" fill="rgb(55,55,55)" stroke="#222" stroke-width="0.8"/>
<ellipse cx="880.7" cy="1364.2" rx="10.6" ry="8.0" transform="rotate(14 880.7 1364.2)" fill="rgb(76,76,76)" stroke="#222" stroke-width="0.8"/>
<ellipse cx="1055.1" cy="1352.7" rx="9.5" ry="6.6" transform="rotate(58 1055.1 1352.7)" fill="rgb(81,81,81)" stroke="#222" stroke-width="0.8"/>
<ellipse cx="948.8" cy="1366.4" rx="9.7" ry="7.3" transform="rotate(91 948.8 1366.4)" fill="rgb(72,72,72)" stroke="#222" stroke-width="0.8"/>
<ellipse cx="1059.4" cy="1389.6" rx="8.6" ry="7.2" transform="rotate(97 1059.4 1389.6)" fill="rgb(72,72,72)" stroke="#222" stroke-width="0.8"/>
<ellipse cx="1026.7" cy="1507.9" rx="10.3" ry="8.5" transform="rotate(178 1026.7 1507.9)" fill="rgb(77,77,77)" stroke="#222" stroke-width="0.8"/>
<ellipse cx="1014.5" cy="1474.7" rx="10.1" ry="8.5" transform="rotate(114 1014.5 1474.7)" fill="rgb(72,72,72)" stroke="#222" stroke-width="0.8"/>
<ellipse cx="934.5" cy="1424.4" rx="9.3" ry="6.6" transform="rotate(171 934.5 1424.4)" fill="rgb(78,78,78)" stroke="#222" stroke-width="0.8"/>
<ellipse cx="988.6" cy="1353.0" rx="10.6" ry="7.1" transform="rotate(137 988.6 1353.0)" fill="rgb(76,76,76)" stroke="#222" stroke-width="0.8"/>
<ellipse cx="839.9" cy="1609.9" rx="10.0" ry="7.8" transform="rotate(7 839.9 1609.9)" fill="rgb(73,73,73)" stroke="#222" stroke-width="0.8"/>
<ellipse cx="1060.3" cy="1617.7" rx="9.9" ry="7.0" transform="rotate(133 1060.3 1617.7)" fill="rgb(75,75,75)" stroke="#222" stroke-width="0.8"/>
<ellipse cx="1022.7" cy="1387.1" rx="10.0" ry="7.4" transform="rotate(71 1022.7 1387.1)" fill="rgb(64,64,64)" stroke="#222" stroke-width="0.8"/>
<ellipse cx="813.8" cy="1520.5" rx="10.8" ry="7.3" transform="rotate(143 813.8 1520.5)" fill="rgb(71,71,71)" stroke="#222" stroke-width="0.8"/>
<ellipse cx="1054.5" cy="1542.4" rx="10.8" ry="7.2" transform="rotate(98 1054.5 1542.4)" fill="rgb(65,65,65)" stroke="#222" stroke-width="0.8"/>
<ellipse cx="927.9" cy="1444.7" rx="10.3" ry="7.0" transform="rotate(101 927.9 1444.7)" fill="rgb(67,67,67)" stroke="#222" stroke-width="0.8"/>
<ellipse cx="1059.9" cy="1510.7" rx="10.4" ry="8.2" transform="rotate(25 1059.9 1510.7)" fill="rgb(70,70,70)" stroke="#222" stroke-width="0.8"/>
<ellipse cx="980.4" cy="1566.6" rx="11.0" ry="7.3" transform="rotate(101 980.4 1566.6)" fill="rgb(67,67,67)" stroke="#222" stroke-width="0.8"/>
<ellipse cx="1013.1" cy="1513.3" rx="8.7" ry="6.6" transform="rotate(5 1013.1 1513.3)" fill="rgb(70,70,70)" stroke="#222" stroke-width="0.8"/>
<ellipse cx="837.0" cy="1475.4" rx="9.3" ry="6.6" transform="rotate(83 837.0 1475.4)" fill="rgb(78,78,78)" stroke="#222" stroke-width="0.8"/>
<ellipse cx="917.8" cy="1357.5" rx="8.7" ry="6.1" transform="rotate(155 917.8 1357.5)" fill="rgb(64,64,64)" stroke="#222" stroke-width="0.8"/>
<ellipse cx="1046.9" cy="1408.2" rx="10.0" ry="6.8" transform="rotate(71 1046.9 1408.2)" fill="rgb(73,73,73)" stroke="#222" stroke-width="0.8"/>
<ellipse cx="824.5" cy="1585.1" rx="9.4" ry="6.6" transform="rotate(155 824.5 1585.1)" fill="rgb(65,65,65)" stroke="#222" stroke-width="0.8"/>
<ellipse cx="959.9" cy="1576.3" rx="9.2" ry="6.8" transform="rotate(81 959.9 1576.3)" fill="rgb(73,73,73)" stroke="#222" stroke-width="0.8"/>
<ellipse cx="830.4" cy="1553.4" rx="10.3" ry="7.3" transform="rotate(130 830.4 1553.4)" fill="rgb(67,67,67)" stroke="#222" stroke-width="0.8"/>
<ellipse cx="1061.2" cy="1579.3" rx="8.8" ry="5.8" transform="rotate(128 1061.2 1579.3)" fill="rgb(72,72,72)" stroke="#222" stroke-width="0.8"/>
<ellipse cx="1024.8" cy="1588.3" rx="10.1" ry="7.1" transform="rotate(169 1024.8 1588.3)" fill="rgb(59,59,59)" stroke="#222" stroke-width="0.8"/>
<ellipse cx="907.5" cy="1520.7" rx="10.3" ry="6.7" transform="rotate(92 907.5 1520.7)" fill="rgb(76,76,76)" stroke="#222" stroke-width="0.8"/>
<ellipse cx="914.0" cy="1456.0" rx="9.4" ry="7.5" transform="rotate(73 914.0 1456.0)" fill="rgb(69,69,69)" stroke="#222" stroke-width="0.8"/>
<ellipse cx="962.8" cy="1379.0" rx="8.5" ry="6.9" transform="rotate(138 962.8 1379.0)" fill="rgb(69,69,69)" stroke="#222" stroke-width="0.8"/>
<ellipse cx="916.0" cy="1551.8" rx="8.8" ry="6.8" transform="rotate(154 916.0 1551.8)" fill="rgb(68,68,68)" stroke="#222" stroke-width="0.8"/>
<ellipse cx="892.4" cy="1353.8" rx="9.8" ry="8.1" transform="rotate(106 892.4 1353.8)" fill="rgb(63,63,63)" stroke="#222" stroke-width="0.8"/>
<ellipse cx="804.2" cy="1464.5" rx="10.0" ry="8.0" transform="rotate(106 804.2 1464.5)" fill="rgb(63,63,63)" stroke="#222" stroke-width="0.8"/>
<ellipse cx="1032.5" cy="1443.4" rx="9.4" ry="7.8" transform="rotate(57 1032.5 1443.4)" fill="rgb(63,63,63)" stroke="#222" stroke-width="0.8"/>
<ellipse cx="848.0" cy="1542.8" rx="10.7" ry="8.6" transform="rotate(9 848.0 1542.8)" fill="rgb(76,76,76)" stroke="#222" stroke-width="0.8"/>
<ellipse cx="819.2" cy="1661.1" rx="10.9" ry="7.2" transform="rotate(3 819.2 1661.1)" fill="rgb(65,65,65)" stroke="#222" stroke-width="0.8"/>
<ellipse cx="918.9" cy="1375.0" rx="10.3" ry="7.5" transform="rotate(110 918.9 1375.0)" fill="rgb(78,78,78)" stroke="#222" stroke-width="0.8"/>
<ellipse cx="982.2" cy="1675.2" rx="9.5" ry="6.4" transform="rotate(17 982.2 1675.2)" fill="rgb(62,62,62)" stroke="#222" stroke-width="0.8"/>
<ellipse cx="1000.9" cy="1442.7" rx="10.1" ry="7.9" transform="rotate(73 1000.9 1442.7)" fill="rgb(78,78,78)" stroke="#222" stroke-width="0.8"/>
<ellipse cx="930.2" cy="1464.9" rx="9.0" ry="6.4" transform="rotate(40 930.2 1464.9)" fill="rgb(70,70,70)" stroke="#222" stroke-width="0.8"/>
<ellipse cx="944.9" cy="1392.5" rx="9.7" ry="7.9" transform="rotate(111 944.9 1392.5)" fill="rgb(67,67,67)" stroke="#222" stroke-width="0.8"/>
<ellipse cx="980.1" cy="1645.4" rx="10.7" ry="8.6" transform="rotate(158 980.1 1645.4)" fill="rgb(62,62,62)" stroke="#222" stroke-width="0.8"/>
<ellipse cx="969.4" cy="1586.0" rx="9.4" ry="6.7" transform="rotate(98 969.4 1586.0)" fill="rgb(68,68,68)" stroke="#222" stroke-width="0.8"/>
<ellipse cx="956.5" cy="1410.9" rx="10.0" ry="6.8" transform="rotate(148 956.5 1410.9)" fill="rgb(77,77,77)" stroke="#222" stroke-width="0.8"/>
<ellipse cx="1022.9" cy="1490.3" rx="9.2" ry="6.1" transform="rotate(9 1022.9 1490.3)" fill="rgb(79,79,79)" stroke="#222" stroke-width="0.8"/>
<ellipse cx="959.8" cy="1423.3" rx="9.6" ry="7.4" transform="rotate(107 959.8 1423.3)" fill="rgb(71,71,71)" stroke="#222" stroke-width="0.8"/>
<ellipse cx="1021.8" cy="1612.7" rx="11.0" ry="8.0" transform="rotate(120 1021.8 1612.7)" fill="rgb(74,74,74)" stroke="#222" stroke-width="0.8"/>
<ellipse cx="995.5" cy="1577.4" rx="10.4" ry="8.1" transform="rotate(29 995.5 1577.4)" fill="rgb(78,78,78)" stroke="#222" stroke-width="0.8"/>
<ellipse cx="912.2" cy="1590.0" rx="10.0" ry="6.7" transform="rotate(10 912.2 1590.0)" fill="rgb(69,69,69)" stroke="#222" stroke-width="0.8"/>
<ellipse cx="1035.3" cy="1409.8" rx="9.2" ry="7.3" transform="rotate(61 1035.3 1409.8)" fill="rgb(78,78,78)" stroke="#222" stroke-width="0.8"/>
<ellipse cx="863.4" cy="1539.4" rx="9.4" ry="7.9" transform="rotate(138 863.4 1539.4)" fill="rgb(73,73,73)" stroke="#222" stroke-width="0.8"/>
<ellipse cx="950.9" cy="1443.9" rx="9.7" ry="7.5" transform="rotate(148 950.9 1443.9)" fill="rgb(70,70,70)" stroke="#222" stroke-width="0.8"/>
<ellipse cx="836.8" cy="1534.2" rx="9.3" ry="6.6" transform="rotate(84 836.8 1534.2)" fill="rgb(67,67,67)" stroke="#222" stroke-width="0.8"/>
<ellipse cx="792.4" cy="1544.4" rx="10.4" ry="7.0" transform="rotate(53 792.4 1544.4)" fill="rgb(79,79,79)" stroke="#222" stroke-width="0.8"/>
<ellipse cx="973.7" cy="1491.0" rx="10.6" ry="8.6" transform="rotate(168 973.7 1491.0)" fill="rgb(68,68,68)" stroke="#222" stroke-width="0.8"/>
<ellipse cx="945.0" cy="1477.1" rx="10.1" ry="8.4" transform="rotate(48 945.0 1477.1)" fill="rgb(69,69,69)" stroke="#222" stroke-width="0.8"/>
<ellipse cx="969.9" cy="1367.7" rx="10.5" ry="7.0" transform="rotate(96 969.9 1367.7)" fill="rgb(64,64,64)" stroke="#222" stroke-width="0.8"/>
<ellipse cx="935.4" cy="1523.7" rx="10.8" ry="9.0" transform="rotate(95 935.4 1523.7)" fill="rgb(74,74,74)" stroke="#222" stroke-width="0.8"/>
<ellipse cx="1051.1" cy="1564.3" rx="9.5" ry="7.9" transform="rotate(26 1051.1 1564.3)" fill="rgb(74,74,74)" stroke="#222" stroke-width="0.8"/>
<ellipse cx="880.4" cy="1573.9" rx="9.4" ry="7.5" transform="rotate(131 880.4 1573.9)" fill="rgb(72,72,72)" stroke="#222" stroke-width="0.8"/>
<ellipse cx="851.1" cy="1478.2" rx="9.2" ry="7.2" transform="rotate(142 851.1 1478.2)" fill="rgb(70,70,70)" stroke="#222" stroke-width="0.8"/>
<ellipse cx="891.8" cy="1627.9" rx="10.4" ry="8.0" transform="rotate(17 891.8 1627.9)" fill="rgb(73,73,73)" stroke="#222" stroke-width="0.8"/>
<ellipse cx="884.5" cy="1507.1" rx="9.4" ry="7.5" transform="rotate(5 884.5 1507.1)" fill="rgb(68,68,68)" stroke="#222" stroke-width="0.8"/>
<ellipse cx="1049.1" cy="1540.4" rx="10.6" ry="8.1" transform="rotate(53 1049.1 1540.4)" fill="rgb(68,68,68)" stroke="#222" stroke-width="0.8"/>
<ellipse cx="1033.5" cy="1374.8" rx="9.0" ry="6.3" transform="rotate(64 1033.5 1374.8)" fill="rgb(67,67,67)" stroke="#222" stroke-width="0.8"/>
<ellipse cx="963.1" cy="1597.8" rx="9.5" ry="7.5" transform="rotate(7 963.1 1597.8)" fill="rgb(69,69,69)" stroke="#222" stroke-width="0.8"/>
<ellipse cx="918.7" cy="1544.0" rx="9.5" ry="7.2" transform="rotate(10 918.7 1544.0)" fill="rgb(70,70,70)" stroke="#222" stroke-width="0.8"/>
<ellipse cx="736.5" cy="1543.3" rx="9.1" ry="5.9" transform="rotate(153 736.5 1543.3)" fill="rgb(58,58,58)" stroke="#222" stroke-width="0.8"/>
<ellipse cx="958.6" cy="1466.1" rx="9.8" ry="8.2" transform="rotate(140 958.6 1466.1)" fill="rgb(80,80,80)" stroke="#222" stroke-width="0.8"/>
<ellipse cx="957.5" cy="1487.1" rx="8.5" ry="6.0" transform="rotate(25 957.5 1487.1)" fill="rgb(68,68,68)" stroke="#222" stroke-width="0.8"/>
<ellipse cx="985.4" cy="1414.0" rx="10.2" ry="7.1" transform="rotate(31 985.4 1414.0)" fill="rgb(68,68,68)" stroke="#222" stroke-width="0.8"/>
<ellipse cx="826.9" cy="1599.0" rx="10.7" ry="8.2" transform="rotate(104 826.9 1599.0)" fill="rgb(62,62,62)" stroke="#222" stroke-width="0.8"/>
<ellipse cx="1001.7" cy="1380.5" rx="10.0" ry="7.7" transform="rotate(133 1001.7 1380.5)" fill="rgb(79,79,79)" stroke="#222" stroke-width="0.8"/>
<ellipse cx="1035.0" cy="1563.0" rx="9.5" ry="7.9" transform="rotate(75 1035.0 1563.0)" fill="rgb(65,65,65)" stroke="#222" stroke-width="0.8"/>
<ellipse cx="784.2" cy="1577.4" rx="10.3" ry="6.8" transform="rotate(39 784.2 1577.4)" fill="rgb(65,65,65)" stroke="#222" stroke-width="0.8"/>
<ellipse cx="1046.3" cy="1598.6" rx="10.7" ry="8.2" transform="rotate(150 1046.3 1598.6)" fill="rgb(62,62,62)" stroke="#222" stroke-width="0.8"/>
<ellipse cx="872.3" cy="1667.4" rx="10.6" ry="8.1" transform="rotate(81 872.3 1667.4)" fill="rgb(71,71,71)" stroke="#222" stroke-width="0.8"/>
<ellipse cx="924.0" cy="1487.3" rx="9.7" ry="7.4" transform="rotate(124 924.0 1487.3)" fill="rgb(67,67,67)" stroke="#222" stroke-width="0.8"/>
</g>
<g filter="url(#bl2)">
<ellipse cx="797.4" cy="1371.6" rx="11" ry="5" transform="rotate(-20 797.4 1371.6)" fill="#B648B4" opacity="0.8"/>
<ellipse cx="840.3" cy="1394.7" rx="3" ry="3" transform="rotate(0 840.3 1394.7)" fill="#B648B4" opacity="0.8"/>
<ellipse cx="822.9" cy="1398.2" rx="4" ry="4" transform="rotate(0 822.9 1398.2)" fill="#B648B4" opacity="0.8"/>
<ellipse cx="885.5" cy="1420.2" rx="5" ry="4" transform="rotate(0 885.5 1420.2)" fill="#B648B4" opacity="0.8"/>
<ellipse cx="905.2" cy="1433.0" rx="5" ry="5" transform="rotate(0 905.2 1433.0)" fill="#B648B4" opacity="0.8"/>
<ellipse cx="782.4" cy="1475.8" rx="4" ry="8" transform="rotate(0 782.4 1475.8)" fill="#B648B4" opacity="0.8"/>
<ellipse cx="822.9" cy="1504.8" rx="10" ry="5" transform="rotate(-20 822.9 1504.8)" fill="#B648B4" opacity="0.8"/>
<ellipse cx="748.8" cy="1512.9" rx="4" ry="4" transform="rotate(0 748.8 1512.9)" fill="#B648B4" opacity="0.8"/>
<ellipse cx="958.3" cy="1372.7" rx="3.5" ry="6" transform="rotate(0 958.3 1372.7)" fill="#B648B4" opacity="0.8"/>
<ellipse cx="943.2" cy="1387.8" rx="4" ry="4" transform="rotate(0 943.2 1387.8)" fill="#B648B4" opacity="0.8"/>
<ellipse cx="1024.3" cy="1390.1" rx="6" ry="4" transform="rotate(0 1024.3 1390.1)" fill="#B648B4" opacity="0.8"/>
<ellipse cx="974.5" cy="1430.7" rx="7" ry="7" transform="rotate(0 974.5 1430.7)" fill="#B648B4" opacity="0.8"/>
<ellipse cx="908.5" cy="1434.1" rx="5" ry="5" transform="rotate(0 908.5 1434.1)" fill="#B648B4" opacity="0.8"/>
<ellipse cx="949.0" cy="1448.0" rx="5" ry="4" transform="rotate(0 949.0 1448.0)" fill="#B648B4" opacity="0.8"/>
<ellipse cx="1027.8" cy="1522.1" rx="4" ry="4" transform="rotate(0 1027.8 1522.1)" fill="#B648B4" opacity="0.8"/>
<ellipse cx="745.3" cy="1539.5" rx="4" ry="4" transform="rotate(0 745.3 1539.5)" fill="#B648B4" opacity="0.8"/>
<ellipse cx="770.8" cy="1536.6" rx="3" ry="3" transform="rotate(0 770.8 1536.6)" fill="#B648B4" opacity="0.8"/>
<ellipse cx="752.3" cy="1556.9" rx="6" ry="7" transform="rotate(0 752.3 1556.9)" fill="#B648B4" opacity="0.8"/>
<ellipse cx="846.1" cy="1524.5" rx="3.5" ry="3.5" transform="rotate(0 846.1 1524.5)" fill="#B648B4" opacity="0.8"/>
<ellipse cx="783.5" cy="1631.0" rx="4" ry="2.5" transform="rotate(0 783.5 1631.0)" fill="#B648B4" opacity="0.8"/>
<ellipse cx="861.1" cy="1624.1" rx="10" ry="11" transform="rotate(0 861.1 1624.1)" fill="#B648B4" opacity="0.8"/>
<ellipse cx="850.7" cy="1612.5" rx="4" ry="4" transform="rotate(0 850.7 1612.5)" fill="#B648B4" opacity="0.8"/>
<ellipse cx="893.6" cy="1613.7" rx="4" ry="7" transform="rotate(0 893.6 1613.7)" fill="#B648B4" opacity="0.8"/>
<ellipse cx="905.2" cy="1625.2" rx="4" ry="4" transform="rotate(0 905.2 1625.2)" fill="#B648B4" opacity="0.8"/>
<ellipse cx="902.8" cy="1644.9" rx="5" ry="5" transform="rotate(0 902.8 1644.9)" fill="#B648B4" opacity="0.8"/>
<ellipse cx="809.0" cy="1678.5" rx="8" ry="6" transform="rotate(0 809.0 1678.5)" fill="#B648B4" opacity="0.8"/>
<ellipse cx="875.0" cy="1676.2" rx="8" ry="5" transform="rotate(0 875.0 1676.2)" fill="#B648B4" opacity="0.8"/>
<ellipse cx="1025.5" cy="1525.6" rx="5" ry="4" transform="rotate(0 1025.5 1525.6)" fill="#B648B4" opacity="0.8"/>
<ellipse cx="1049.8" cy="1526.2" rx="2.5" ry="2.5" transform="rotate(0 1049.8 1526.2)" fill="#B648B4" opacity="0.8"/>
<ellipse cx="993.0" cy="1573.1" rx="3.5" ry="3.5" transform="rotate(0 993.0 1573.1)" fill="#B648B4" opacity="0.8"/>
<ellipse cx="964.1" cy="1580.6" rx="2.5" ry="2.5" transform="rotate(0 964.1 1580.6)" fill="#B648B4" opacity="0.8"/>
<ellipse cx="1046.3" cy="1585.9" rx="8" ry="9" transform="rotate(0 1046.3 1585.9)" fill="#B648B4" opacity="0.8"/>
<ellipse cx="1006.9" cy="1596.3" rx="7" ry="6" transform="rotate(0 1006.9 1596.3)" fill="#B648B4" opacity="0.8"/>
<ellipse cx="1024.3" cy="1612.5" rx="5" ry="7" transform="rotate(0 1024.3 1612.5)" fill="#B648B4" opacity="0.8"/>
<ellipse cx="1024.9" cy="1631.0" rx="4" ry="4" transform="rotate(0 1024.9 1631.0)" fill="#B648B4" opacity="0.8"/>
<ellipse cx="910.8" cy="1626.4" rx="6" ry="8" transform="rotate(0 910.8 1626.4)" fill="#B648B4" opacity="0.8"/>
<ellipse cx="952.5" cy="1636.8" rx="6" ry="3" transform="rotate(0 952.5 1636.8)" fill="#B648B4" opacity="0.8"/>
<ellipse cx="1027.8" cy="1643.8" rx="7" ry="5" transform="rotate(0 1027.8 1643.8)" fill="#B648B4" opacity="0.8"/>
<ellipse cx="988.4" cy="1660.0" rx="9" ry="6" transform="rotate(0 988.4 1660.0)" fill="#B648B4" opacity="0.8"/>
<ellipse cx="907.3" cy="1648.4" rx="5" ry="5" transform="rotate(0 907.3 1648.4)" fill="#B648B4" opacity="0.8"/>
</g>
<ellipse cx="841.4" cy="1385.5" rx="5" ry="6" transform="rotate(0 841.4 1385.5)" fill="#2a6a2a" opacity="0.8"/>
<ellipse cx="841.4" cy="1385.5" rx="3" ry="4" transform="rotate(0 841.4 1385.5)" fill="#9ac09a" opacity="0.9"/>
<ellipse cx="990.4" cy="1660.0" rx="3" ry="3" transform="rotate(0 990.4 1660.0)" fill="#6CC35A" opacity="0.8"/>
</g>
<g clip-path="url(#c3)">
<rect x="1083.7" y="1359.8" width="324.8" height="327.2" fill="#000"/>
<g filter="url(#bl8)">
<rect x="1164.9" y="1359.8" width="20.8" height="20.8" fill="rgb(8,8,8)"/>
<rect x="1185.2" y="1359.8" width="20.8" height="20.8" fill="rgb(24,24,24)"/>
<rect x="1205.5" y="1359.8" width="20.8" height="20.8" fill="rgb(32,32,32)"/>
<rect x="1225.8" y="1359.8" width="20.8" height="20.8" fill="rgb(32,32,32)"/>
<rect x="1246.1" y="1359.8" width="20.8" height="20.8" fill="rgb(48,48,48)"/>
<rect x="1266.4" y="1359.8" width="20.8" height="20.8" fill="rgb(40,40,40)"/>
<rect x="1307.0" y="1359.8" width="20.8" height="20.8" fill="rgb(8,8,8)"/>
<rect x="1185.2" y="1380.1" width="20.8" height="20.8" fill="rgb(16,16,16)"/>
<rect x="1205.5" y="1380.1" width="20.8" height="20.8" fill="rgb(16,16,16)"/>
<rect x="1225.8" y="1380.1" width="20.8" height="20.8" fill="rgb(24,24,24)"/>
<rect x="1246.1" y="1380.1" width="20.8" height="20.8" fill="rgb(24,24,24)"/>
<rect x="1185.2" y="1400.5" width="20.8" height="20.8" fill="rgb(32,32,32)"/>
<rect x="1205.5" y="1400.5" width="20.8" height="20.8" fill="rgb(32,32,32)"/>
<rect x="1225.8" y="1400.5" width="20.8" height="20.8" fill="rgb(24,24,24)"/>
<rect x="1246.1" y="1400.5" width="20.8" height="20.8" fill="rgb(8,8,8)"/>
<rect x="1205.5" y="1420.8" width="20.8" height="20.8" fill="rgb(8,8,8)"/>
<rect x="1307.0" y="1420.8" width="20.8" height="20.8" fill="rgb(8,8,8)"/>
<rect x="1144.6" y="1441.1" width="20.8" height="20.8" fill="rgb(8,8,8)"/>
<rect x="1164.9" y="1441.1" width="20.8" height="20.8" fill="rgb(8,8,8)"/>
<rect x="1205.5" y="1441.1" width="20.8" height="20.8" fill="rgb(8,8,8)"/>
<rect x="1246.1" y="1441.1" width="20.8" height="20.8" fill="rgb(16,16,16)"/>
<rect x="1266.4" y="1441.1" width="20.8" height="20.8" fill="rgb(8,8,8)"/>
<rect x="1367.9" y="1441.1" width="20.8" height="20.8" fill="rgb(16,16,16)"/>
<rect x="1083.7" y="1461.4" width="20.8" height="20.8" fill="rgb(8,8,8)"/>
<rect x="1104.0" y="1461.4" width="20.8" height="20.8" fill="rgb(8,8,8)"/>
<rect x="1124.3" y="1461.4" width="20.8" height="20.8" fill="rgb(8,8,8)"/>
<rect x="1225.8" y="1461.4" width="20.8" height="20.8" fill="rgb(8,8,8)"/>
<rect x="1286.7" y="1461.4" width="20.8" height="20.8" fill="rgb(8,8,8)"/>
<rect x="1185.2" y="1481.8" width="20.8" height="20.8" fill="rgb(8,8,8)"/>
<rect x="1205.5" y="1481.8" width="20.8" height="20.8" fill="rgb(16,16,16)"/>
<rect x="1225.8" y="1481.8" width="20.8" height="20.8" fill="rgb(16,16,16)"/>
<rect x="1367.9" y="1481.8" width="20.8" height="20.8" fill="rgb(8,8,8)"/>
<rect x="1104.0" y="1502.1" width="20.8" height="20.8" fill="rgb(8,8,8)"/>
<rect x="1124.3" y="1502.1" width="20.8" height="20.8" fill="rgb(24,24,24)"/>
<rect x="1144.6" y="1502.1" width="20.8" height="20.8" fill="rgb(8,8,8)"/>
<rect x="1185.2" y="1502.1" width="20.8" height="20.8" fill="rgb(16,16,16)"/>
<rect x="1205.5" y="1502.1" width="20.8" height="20.8" fill="rgb(8,8,8)"/>
<rect x="1246.1" y="1502.1" width="20.8" height="20.8" fill="rgb(8,8,8)"/>
<rect x="1266.4" y="1502.1" width="20.8" height="20.8" fill="rgb(24,24,24)"/>
<rect x="1286.7" y="1502.1" width="20.8" height="20.8" fill="rgb(32,32,32)"/>
<rect x="1307.0" y="1502.1" width="20.8" height="20.8" fill="rgb(16,16,16)"/>
<rect x="1124.3" y="1522.4" width="20.8" height="20.8" fill="rgb(8,8,8)"/>
<rect x="1185.2" y="1522.4" width="20.8" height="20.8" fill="rgb(8,8,8)"/>
<rect x="1266.4" y="1522.4" width="20.8" height="20.8" fill="rgb(16,16,16)"/>
<rect x="1286.7" y="1522.4" width="20.8" height="20.8" fill="rgb(32,32,32)"/>
<rect x="1327.3" y="1522.4" width="20.8" height="20.8" fill="rgb(48,48,48)"/>
<rect x="1347.6" y="1522.4" width="20.8" height="20.8" fill="rgb(56,56,56)"/>
<rect x="1367.9" y="1522.4" width="20.8" height="20.8" fill="rgb(32,32,32)"/>
<rect x="1083.7" y="1542.7" width="20.8" height="20.8" fill="rgb(8,8,8)"/>
<rect x="1266.4" y="1542.7" width="20.8" height="20.8" fill="rgb(56,56,56)"/>
<rect x="1286.7" y="1542.7" width="20.8" height="20.8" fill="rgb(56,56,56)"/>
<rect x="1307.0" y="1542.7" width="20.8" height="20.8" fill="rgb(56,56,56)"/>
<rect x="1327.3" y="1542.7" width="20.8" height="20.8" fill="rgb(40,40,40)"/>
<rect x="1347.6" y="1542.7" width="20.8" height="20.8" fill="rgb(65,65,65)"/>
<rect x="1367.9" y="1542.7" width="20.8" height="20.8" fill="rgb(73,73,73)"/>
<rect x="1388.2" y="1542.7" width="20.8" height="20.8" fill="rgb(65,65,65)"/>
<rect x="1266.4" y="1563.0" width="20.8" height="20.8" fill="rgb(56,56,56)"/>
<rect x="1286.7" y="1563.0" width="20.8" height="20.8" fill="rgb(48,48,48)"/>
<rect x="1307.0" y="1563.0" width="20.8" height="20.8" fill="rgb(56,56,56)"/>
<rect x="1367.9" y="1563.0" width="20.8" height="20.8" fill="rgb(48,48,48)"/>
<rect x="1388.2" y="1563.0" width="20.8" height="20.8" fill="rgb(65,65,65)"/>
<rect x="1266.4" y="1583.4" width="20.8" height="20.8" fill="rgb(24,24,24)"/>
<rect x="1286.7" y="1583.4" width="20.8" height="20.8" fill="rgb(65,65,65)"/>
<rect x="1367.9" y="1583.4" width="20.8" height="20.8" fill="rgb(56,56,56)"/>
<rect x="1388.2" y="1583.4" width="20.8" height="20.8" fill="rgb(56,56,56)"/>
<rect x="1286.7" y="1603.7" width="20.8" height="20.8" fill="rgb(56,56,56)"/>
<rect x="1307.0" y="1603.7" width="20.8" height="20.8" fill="rgb(65,65,65)"/>
<rect x="1327.3" y="1603.7" width="20.8" height="20.8" fill="rgb(32,32,32)"/>
<rect x="1347.6" y="1603.7" width="20.8" height="20.8" fill="rgb(48,48,48)"/>
<rect x="1367.9" y="1603.7" width="20.8" height="20.8" fill="rgb(16,16,16)"/>
<rect x="1388.2" y="1603.7" width="20.8" height="20.8" fill="rgb(65,65,65)"/>
<rect x="1266.4" y="1624.0" width="20.8" height="20.8" fill="rgb(8,8,8)"/>
<rect x="1286.7" y="1624.0" width="20.8" height="20.8" fill="rgb(65,65,65)"/>
<rect x="1307.0" y="1624.0" width="20.8" height="20.8" fill="rgb(65,65,65)"/>
<rect x="1327.3" y="1624.0" width="20.8" height="20.8" fill="rgb(56,56,56)"/>
<rect x="1347.6" y="1624.0" width="20.8" height="20.8" fill="rgb(56,56,56)"/>
<rect x="1367.9" y="1624.0" width="20.8" height="20.8" fill="rgb(16,16,16)"/>
<rect x="1083.7" y="1644.3" width="20.8" height="20.8" fill="rgb(32,32,32)"/>
<rect x="1104.0" y="1644.3" width="20.8" height="20.8" fill="rgb(8,8,8)"/>
<rect x="1205.5" y="1644.3" width="20.8" height="20.8" fill="rgb(16,16,16)"/>
<rect x="1307.0" y="1644.3" width="20.8" height="20.8" fill="rgb(16,16,16)"/>
<rect x="1327.3" y="1644.3" width="20.8" height="20.8" fill="rgb(8,8,8)"/>
<rect x="1347.6" y="1644.3" width="20.8" height="20.8" fill="rgb(48,48,48)"/>
<rect x="1367.9" y="1644.3" width="20.8" height="20.8" fill="rgb(24,24,24)"/>
<rect x="1388.2" y="1644.3" width="20.8" height="20.8" fill="rgb(24,24,24)"/>
<rect x="1083.7" y="1664.7" width="20.8" height="20.8" fill="rgb(16,16,16)"/>
<rect x="1144.6" y="1664.7" width="20.8" height="20.8" fill="rgb(24,24,24)"/>
<rect x="1164.9" y="1664.7" width="20.8" height="20.8" fill="rgb(16,16,16)"/>
<rect x="1185.2" y="1664.7" width="20.8" height="20.8" fill="rgb(24,24,24)"/>
<rect x="1307.0" y="1664.7" width="20.8" height="20.8" fill="rgb(32,32,32)"/>
<rect x="1327.3" y="1664.7" width="20.8" height="20.8" fill="rgb(48,48,48)"/>
<rect x="1347.6" y="1664.7" width="20.8" height="20.8" fill="rgb(56,56,56)"/>
<rect x="1367.9" y="1664.7" width="20.8" height="20.8" fill="rgb(56,56,56)"/>
<rect x="1388.2" y="1664.7" width="20.8" height="20.8" fill="rgb(65,65,65)"/>
</g>
<g filter="url(#bl)">
<ellipse cx="1379.0" cy="1385.9" rx="8.7" ry="4.9" transform="rotate(-10 1379.0 1385.9)" fill="rgb(50,50,50)"/>
<ellipse cx="1078.7" cy="1498.9" rx="8.8" ry="5.6" transform="rotate(7 1078.7 1498.9)" fill="rgb(54,54,54)"/>
<ellipse cx="1218.7" cy="1420.4" rx="9.6" ry="5.6" transform="rotate(1 1218.7 1420.4)" fill="rgb(73,73,73)"/>
<ellipse cx="1219.8" cy="1356.6" rx="11.8" ry="5.4" transform="rotate(12 1219.8 1356.6)" fill="rgb(79,79,79)"/>
<ellipse cx="1105.0" cy="1469.1" rx="10.4" ry="5.6" transform="rotate(-27 1105.0 1469.1)" fill="rgb(62,62,62)"/>
<ellipse cx="1279.8" cy="1530.6" rx="9.0" ry="6.3" transform="rotate(29 1279.8 1530.6)" fill="rgb(72,72,72)"/>
<ellipse cx="1406.1" cy="1563.0" rx="11.4" ry="6.9" transform="rotate(-25 1406.1 1563.0)" fill="rgb(100,100,100)"/>
<ellipse cx="1180.7" cy="1364.8" rx="8.6" ry="5.6" transform="rotate(-28 1180.7 1364.8)" fill="rgb(64,64,64)"/>
<ellipse cx="1344.0" cy="1688.2" rx="10.5" ry="5.7" transform="rotate(25 1344.0 1688.2)" fill="rgb(86,86,86)"/>
<ellipse cx="1290.5" cy="1576.3" rx="12.0" ry="6.3" transform="rotate(-19 1290.5 1576.3)" fill="rgb(91,91,91)"/>
<ellipse cx="1088.5" cy="1553.3" rx="10.9" ry="5.8" transform="rotate(-14 1088.5 1553.3)" fill="rgb(74,74,74)"/>
<ellipse cx="1180.5" cy="1488.6" rx="8.4" ry="5.2" transform="rotate(-34 1180.5 1488.6)" fill="rgb(48,48,48)"/>
<ellipse cx="1241.8" cy="1419.8" rx="11.7" ry="5.7" transform="rotate(-10 1241.8 1419.8)" fill="rgb(72,72,72)"/>
<ellipse cx="1364.1" cy="1621.8" rx="11.0" ry="5.0" transform="rotate(-32 1364.1 1621.8)" fill="rgb(87,87,87)"/>
<ellipse cx="1375.9" cy="1588.6" rx="10.2" ry="7.1" transform="rotate(7 1375.9 1588.6)" fill="rgb(96,96,96)"/>
<ellipse cx="1196.8" cy="1442.6" rx="10.6" ry="5.1" transform="rotate(-27 1196.8 1442.6)" fill="rgb(65,65,65)"/>
<ellipse cx="1376.9" cy="1653.5" rx="8.7" ry="5.8" transform="rotate(-10 1376.9 1653.5)" fill="rgb(84,84,84)"/>
<ellipse cx="1242.4" cy="1386.9" rx="10.9" ry="5.4" transform="rotate(4 1242.4 1386.9)" fill="rgb(80,80,80)"/>
<ellipse cx="1363.4" cy="1607.0" rx="9.8" ry="5.5" transform="rotate(5 1363.4 1607.0)" fill="rgb(83,83,83)"/>
<ellipse cx="1373.4" cy="1608.2" rx="9.6" ry="5.5" transform="rotate(13 1373.4 1608.2)" fill="rgb(81,81,81)"/>
<ellipse cx="1157.2" cy="1497.9" rx="9.4" ry="5.8" transform="rotate(27 1157.2 1497.9)" fill="rgb(44,44,44)"/>
<ellipse cx="1376.2" cy="1618.9" rx="11.2" ry="7.5" transform="rotate(14 1376.2 1618.9)" fill="rgb(80,80,80)"/>
<ellipse cx="1267.3" cy="1458.2" rx="10.3" ry="5.7" transform="rotate(-9 1267.3 1458.2)" fill="rgb(62,62,62)"/>
<ellipse cx="1373.8" cy="1561.4" rx="8.2" ry="5.5" transform="rotate(-13 1373.8 1561.4)" fill="rgb(91,91,91)"/>
<ellipse cx="1176.8" cy="1532.4" rx="10.2" ry="7.1" transform="rotate(25 1176.8 1532.4)" fill="rgb(68,68,68)"/>
<ellipse cx="1159.2" cy="1480.0" rx="9.9" ry="4.9" transform="rotate(20 1159.2 1480.0)" fill="rgb(50,50,50)"/>
<ellipse cx="1199.3" cy="1432.7" rx="9.6" ry="5.4" transform="rotate(35 1199.3 1432.7)" fill="rgb(62,62,62)"/>
<ellipse cx="1241.2" cy="1364.9" rx="11.4" ry="7.9" transform="rotate(-6 1241.2 1364.9)" fill="rgb(78,78,78)"/>
<ellipse cx="1192.6" cy="1519.4" rx="10.7" ry="5.8" transform="rotate(-23 1192.6 1519.4)" fill="rgb(62,62,62)"/>
<ellipse cx="1256.4" cy="1356.4" rx="9.3" ry="6.8" transform="rotate(24 1256.4 1356.4)" fill="rgb(84,84,84)"/>
<ellipse cx="1297.0" cy="1524.0" rx="9.6" ry="6.0" transform="rotate(-27 1297.0 1524.0)" fill="rgb(78,78,78)"/>
<ellipse cx="1265.6" cy="1683.6" rx="11.1" ry="6.3" transform="rotate(-21 1265.6 1683.6)" fill="rgb(37,37,37)"/>
<ellipse cx="1279.9" cy="1358.0" rx="9.7" ry="5.6" transform="rotate(-33 1279.9 1358.0)" fill="rgb(89,89,89)"/>
<ellipse cx="1354.6" cy="1565.9" rx="8.2" ry="3.9" transform="rotate(2 1354.6 1565.9)" fill="rgb(73,73,73)"/>
<ellipse cx="1379.5" cy="1554.3" rx="8.6" ry="4.7" transform="rotate(-11 1379.5 1554.3)" fill="rgb(106,106,106)"/>
<ellipse cx="1344.3" cy="1620.5" rx="8.9" ry="4.9" transform="rotate(13 1344.3 1620.5)" fill="rgb(94,94,94)"/>
<ellipse cx="1400.7" cy="1660.3" rx="8.8" ry="6.5" transform="rotate(18 1400.7 1660.3)" fill="rgb(94,94,94)"/>
<ellipse cx="1285.9" cy="1535.1" rx="10.4" ry="5.7" transform="rotate(9 1285.9 1535.1)" fill="rgb(74,74,74)"/>
<ellipse cx="1373.8" cy="1421.7" rx="9.7" ry="6.0" transform="rotate(-27 1373.8 1421.7)" fill="rgb(60,60,60)"/>
<ellipse cx="1254.5" cy="1366.6" rx="10.0" ry="4.6" transform="rotate(25 1254.5 1366.6)" fill="rgb(84,84,84)"/>
<ellipse cx="1182.4" cy="1639.3" rx="10.2" ry="5.0" transform="rotate(4 1182.4 1639.3)" fill="rgb(50,50,50)"/>
<ellipse cx="1289.9" cy="1555.9" rx="11.2" ry="7.2" transform="rotate(-4 1289.9 1555.9)" fill="rgb(93,93,93)"/>
<ellipse cx="1215.6" cy="1497.6" rx="11.0" ry="7.7" transform="rotate(8 1215.6 1497.6)" fill="rgb(68,68,68)"/>
<ellipse cx="1210.6" cy="1370.3" rx="8.3" ry="3.8" transform="rotate(24 1210.6 1370.3)" fill="rgb(81,81,81)"/>
<ellipse cx="1334.1" cy="1633.3" rx="8.6" ry="5.5" transform="rotate(-29 1334.1 1633.3)" fill="rgb(101,101,101)"/>
<ellipse cx="1198.1" cy="1684.1" rx="9.4" ry="4.3" transform="rotate(-32 1198.1 1684.1)" fill="rgb(67,67,67)"/>
<ellipse cx="1277.0" cy="1564.5" rx="9.6" ry="5.4" transform="rotate(4 1277.0 1564.5)" fill="rgb(88,88,88)"/>
<ellipse cx="1391.5" cy="1572.7" rx="11.2" ry="6.4" transform="rotate(-9 1391.5 1572.7)" fill="rgb(96,96,96)"/>
<ellipse cx="1366.9" cy="1687.7" rx="10.7" ry="7.9" transform="rotate(-13 1366.9 1687.7)" fill="rgb(101,101,101)"/>
<ellipse cx="1343.8" cy="1543.6" rx="11.1" ry="7.2" transform="rotate(20 1343.8 1543.6)" fill="rgb(91,91,91)"/>
<ellipse cx="1279.4" cy="1452.3" rx="9.6" ry="7.1" transform="rotate(28 1279.4 1452.3)" fill="rgb(61,61,61)"/>
<ellipse cx="1362.7" cy="1430.9" rx="8.6" ry="6.0" transform="rotate(-20 1362.7 1430.9)" fill="rgb(50,50,50)"/>
<ellipse cx="1411.2" cy="1607.8" rx="11.9" ry="7.9" transform="rotate(-30 1411.2 1607.8)" fill="rgb(98,98,98)"/>
<ellipse cx="1165.7" cy="1532.3" rx="9.6" ry="6.4" transform="rotate(21 1165.7 1532.3)" fill="rgb(52,52,52)"/>
<ellipse cx="1376.7" cy="1672.8" rx="10.8" ry="7.8" transform="rotate(-18 1376.7 1672.8)" fill="rgb(92,92,92)"/>
<ellipse cx="1395.5" cy="1574.1" rx="10.3" ry="7.5" transform="rotate(28 1395.5 1574.1)" fill="rgb(93,93,93)"/>
<ellipse cx="1090.7" cy="1655.6" rx="8.5" ry="4.1" transform="rotate(-1 1090.7 1655.6)" fill="rgb(71,71,71)"/>
<ellipse cx="1190.4" cy="1359.1" rx="9.0" ry="5.7" transform="rotate(18 1190.4 1359.1)" fill="rgb(75,75,75)"/>
<ellipse cx="1197.3" cy="1387.2" rx="11.6" ry="7.4" transform="rotate(-31 1197.3 1387.2)" fill="rgb(74,74,74)"/>
<ellipse cx="1136.3" cy="1370.0" rx="10.8" ry="7.7" transform="rotate(7 1136.3 1370.0)" fill="rgb(63,63,63)"/>
<ellipse cx="1296.2" cy="1627.6" rx="11.9" ry="8.0" transform="rotate(-18 1296.2 1627.6)" fill="rgb(96,96,96)"/>
<ellipse cx="1308.6" cy="1566.4" rx="8.5" ry="3.9" transform="rotate(17 1308.6 1566.4)" fill="rgb(89,89,89)"/>
<ellipse cx="1286.7" cy="1413.1" rx="8.0" ry="4.2" transform="rotate(9 1286.7 1413.1)" fill="rgb(50,50,50)"/>
<ellipse cx="1318.1" cy="1627.0" rx="9.3" ry="4.7" transform="rotate(14 1318.1 1627.0)" fill="rgb(96,96,96)"/>
<ellipse cx="1300.2" cy="1568.1" rx="11.0" ry="5.1" transform="rotate(23 1300.2 1568.1)" fill="rgb(90,90,90)"/>
<ellipse cx="1146.1" cy="1539.1" rx="10.9" ry="8.2" transform="rotate(31 1146.1 1539.1)" fill="rgb(55,55,55)"/>
<ellipse cx="1406.5" cy="1441.7" rx="9.5" ry="5.3" transform="rotate(-30 1406.5 1441.7)" fill="rgb(55,55,55)"/>
<ellipse cx="1156.6" cy="1529.1" rx="9.4" ry="7.0" transform="rotate(-11 1156.6 1529.1)" fill="rgb(55,55,55)"/>
<ellipse cx="1208.1" cy="1457.6" rx="9.5" ry="4.4" transform="rotate(30 1208.1 1457.6)" fill="rgb(64,64,64)"/>
<ellipse cx="1401.4" cy="1599.8" rx="10.1" ry="6.1" transform="rotate(4 1401.4 1599.8)" fill="rgb(91,91,91)"/>
<ellipse cx="1268.0" cy="1364.9" rx="9.7" ry="5.1" transform="rotate(3 1268.0 1364.9)" fill="rgb(88,88,88)"/>
<ellipse cx="1329.1" cy="1432.9" rx="8.1" ry="4.9" transform="rotate(31 1329.1 1432.9)" fill="rgb(60,60,60)"/>
<ellipse cx="1335.5" cy="1369.3" rx="9.7" ry="5.1" transform="rotate(-2 1335.5 1369.3)" fill="rgb(57,57,57)"/>
<ellipse cx="1224.3" cy="1414.3" rx="10.0" ry="5.6" transform="rotate(-20 1224.3 1414.3)" fill="rgb(86,86,86)"/>
<ellipse cx="1145.8" cy="1524.3" rx="9.9" ry="6.9" transform="rotate(-8 1145.8 1524.3)" fill="rgb(63,63,63)"/>
<ellipse cx="1318.2" cy="1563.1" rx="11.2" ry="8.3" transform="rotate(22 1318.2 1563.1)" fill="rgb(93,93,93)"/>
<ellipse cx="1203.5" cy="1358.4" rx="9.5" ry="5.0" transform="rotate(-2 1203.5 1358.4)" fill="rgb(81,81,81)"/>
<ellipse cx="1313.9" cy="1642.3" rx="9.1" ry="4.7" transform="rotate(22 1313.9 1642.3)" fill="rgb(81,81,81)"/>
<ellipse cx="1297.1" cy="1513.6" rx="9.9" ry="7.2" transform="rotate(29 1297.1 1513.6)" fill="rgb(81,81,81)"/>
<ellipse cx="1333.1" cy="1513.2" rx="10.8" ry="5.1" transform="rotate(-21 1333.1 1513.2)" fill="rgb(54,54,54)"/>
<ellipse cx="1281.0" cy="1539.7" rx="8.9" ry="4.6" transform="rotate(-21 1281.0 1539.7)" fill="rgb(90,90,90)"/>
<ellipse cx="1276.5" cy="1500.7" rx="11.8" ry="7.6" transform="rotate(-24 1276.5 1500.7)" fill="rgb(56,56,56)"/>
<ellipse cx="1090.2" cy="1662.5" rx="9.0" ry="5.5" transform="rotate(33 1090.2 1662.5)" fill="rgb(81,81,81)"/>
<ellipse cx="1408.7" cy="1664.0" rx="11.0" ry="6.1" transform="rotate(-6 1408.7 1664.0)" fill="rgb(86,86,86)"/>
<ellipse cx="1331.2" cy="1611.0" rx="9.2" ry="4.3" transform="rotate(-18 1331.2 1611.0)" fill="rgb(70,70,70)"/>
<ellipse cx="1236.9" cy="1425.5" rx="8.9" ry="5.7" transform="rotate(-26 1236.9 1425.5)" fill="rgb(70,70,70)"/>
<ellipse cx="1323.6" cy="1616.9" rx="10.2" ry="6.6" transform="rotate(-4 1323.6 1616.9)" fill="rgb(90,90,90)"/>
<ellipse cx="1308.8" cy="1620.3" rx="8.4" ry="5.0" transform="rotate(21 1308.8 1620.3)" fill="rgb(98,98,98)"/>
<ellipse cx="1319.3" cy="1380.3" rx="9.6" ry="5.2" transform="rotate(25 1319.3 1380.3)" fill="rgb(60,60,60)"/>
<ellipse cx="1186.2" cy="1638.5" rx="10.4" ry="5.5" transform="rotate(5 1186.2 1638.5)" fill="rgb(49,49,49)"/>
<ellipse cx="1276.7" cy="1554.4" rx="9.6" ry="6.1" transform="rotate(6 1276.7 1554.4)" fill="rgb(99,99,99)"/>
<ellipse cx="1285.8" cy="1568.6" rx="11.0" ry="6.4" transform="rotate(-14 1285.8 1568.6)" fill="rgb(95,95,95)"/>
<ellipse cx="1299.8" cy="1607.2" rx="9.8" ry="5.7" transform="rotate(-34 1299.8 1607.2)" fill="rgb(94,94,94)"/>
<ellipse cx="1368.6" cy="1644.0" rx="11.4" ry="8.1" transform="rotate(-9 1368.6 1644.0)" fill="rgb(91,91,91)"/>
<ellipse cx="1212.7" cy="1616.0" rx="8.7" ry="5.3" transform="rotate(-26 1212.7 1616.0)" fill="rgb(44,44,44)"/>
<ellipse cx="1299.9" cy="1370.7" rx="9.8" ry="5.7" transform="rotate(-0 1299.9 1370.7)" fill="rgb(47,47,47)"/>
<ellipse cx="1366.9" cy="1452.1" rx="11.3" ry="7.8" transform="rotate(14 1366.9 1452.1)" fill="rgb(57,57,57)"/>
<ellipse cx="1388.4" cy="1407.0" rx="8.9" ry="5.3" transform="rotate(0 1388.4 1407.0)" fill="rgb(53,53,53)"/>
<ellipse cx="1122.0" cy="1675.4" rx="10.4" ry="7.3" transform="rotate(-10 1122.0 1675.4)" fill="rgb(57,57,57)"/>
<ellipse cx="1168.6" cy="1442.1" rx="8.3" ry="4.3" transform="rotate(-15 1168.6 1442.1)" fill="rgb(54,54,54)"/>
<ellipse cx="1218.9" cy="1434.9" rx="8.1" ry="4.6" transform="rotate(-7 1218.9 1434.9)" fill="rgb(60,60,60)"/>
<ellipse cx="1318.8" cy="1586.7" rx="10.4" ry="7.1" transform="rotate(25 1318.8 1586.7)" fill="rgb(66,66,66)"/>
<ellipse cx="1192.2" cy="1381.4" rx="11.8" ry="7.4" transform="rotate(-30 1192.2 1381.4)" fill="rgb(76,76,76)"/>
<ellipse cx="1351.8" cy="1656.1" rx="8.9" ry="4.5" transform="rotate(14 1351.8 1656.1)" fill="rgb(87,87,87)"/>
<ellipse cx="1319.8" cy="1639.3" rx="8.9" ry="6.0" transform="rotate(33 1319.8 1639.3)" fill="rgb(94,94,94)"/>
<ellipse cx="1208.2" cy="1687.5" rx="10.7" ry="7.4" transform="rotate(-27 1208.2 1687.5)" fill="rgb(73,73,73)"/>
<ellipse cx="1221.7" cy="1364.1" rx="11.5" ry="8.6" transform="rotate(32 1221.7 1364.1)" fill="rgb(88,88,88)"/>
<ellipse cx="1142.4" cy="1500.7" rx="10.4" ry="4.7" transform="rotate(-29 1142.4 1500.7)" fill="rgb(57,57,57)"/>
<ellipse cx="1240.8" cy="1354.6" rx="8.1" ry="5.8" transform="rotate(5 1240.8 1354.6)" fill="rgb(86,86,86)"/>
<ellipse cx="1376.3" cy="1684.8" rx="9.8" ry="5.0" transform="rotate(-15 1376.3 1684.8)" fill="rgb(92,92,92)"/>
<ellipse cx="1224.0" cy="1678.5" rx="9.6" ry="4.9" transform="rotate(25 1224.0 1678.5)" fill="rgb(57,57,57)"/>
<ellipse cx="1188.2" cy="1391.2" rx="10.4" ry="5.2" transform="rotate(-2 1188.2 1391.2)" fill="rgb(64,64,64)"/>
<ellipse cx="1345.4" cy="1444.2" rx="9.4" ry="5.1" transform="rotate(30 1345.4 1444.2)" fill="rgb(58,58,58)"/>
<ellipse cx="1402.0" cy="1676.3" rx="11.9" ry="7.0" transform="rotate(22 1402.0 1676.3)" fill="rgb(97,97,97)"/>
<ellipse cx="1314.0" cy="1430.3" rx="11.9" ry="6.4" transform="rotate(-30 1314.0 1430.3)" fill="rgb(62,62,62)"/>
<ellipse cx="1223.0" cy="1376.0" rx="8.6" ry="6.1" transform="rotate(-25 1223.0 1376.0)" fill="rgb(79,79,79)"/>
<ellipse cx="1234.3" cy="1434.8" rx="8.6" ry="6.0" transform="rotate(28 1234.3 1434.8)" fill="rgb(55,55,55)"/>
<ellipse cx="1203.3" cy="1421.1" rx="10.9" ry="5.4" transform="rotate(15 1203.3 1421.1)" fill="rgb(62,62,62)"/>
<ellipse cx="1126.7" cy="1476.3" rx="8.2" ry="4.2" transform="rotate(30 1126.7 1476.3)" fill="rgb(59,59,59)"/>
<ellipse cx="1350.7" cy="1612.0" rx="8.2" ry="3.9" transform="rotate(-12 1350.7 1612.0)" fill="rgb(72,72,72)"/>
<ellipse cx="1376.5" cy="1638.7" rx="9.0" ry="5.6" transform="rotate(-27 1376.5 1638.7)" fill="rgb(69,69,69)"/>
<ellipse cx="1266.2" cy="1527.9" rx="9.1" ry="4.2" transform="rotate(12 1266.2 1527.9)" fill="rgb(67,67,67)"/>
<ellipse cx="1396.9" cy="1687.9" rx="9.9" ry="5.7" transform="rotate(4 1396.9 1687.9)" fill="rgb(105,105,105)"/>
<ellipse cx="1114.1" cy="1577.5" rx="8.6" ry="4.8" transform="rotate(30 1114.1 1577.5)" fill="rgb(36,36,36)"/>
<ellipse cx="1321.9" cy="1354.1" rx="8.7" ry="5.3" transform="rotate(15 1321.9 1354.1)" fill="rgb(57,57,57)"/>
<ellipse cx="1111.5" cy="1502.6" rx="11.7" ry="8.2" transform="rotate(-12 1111.5 1502.6)" fill="rgb(57,57,57)"/>
<ellipse cx="1386.5" cy="1682.4" rx="10.2" ry="5.1" transform="rotate(-14 1386.5 1682.4)" fill="rgb(104,104,104)"/>
<ellipse cx="1120.1" cy="1491.5" rx="11.2" ry="7.8" transform="rotate(-6 1120.1 1491.5)" fill="rgb(57,57,57)"/>
<ellipse cx="1322.6" cy="1544.7" rx="8.6" ry="4.9" transform="rotate(9 1322.6 1544.7)" fill="rgb(83,83,83)"/>
<ellipse cx="1268.0" cy="1403.7" rx="11.0" ry="5.8" transform="rotate(-3 1268.0 1403.7)" fill="rgb(64,64,64)"/>
<ellipse cx="1210.5" cy="1601.2" rx="9.4" ry="4.4" transform="rotate(-19 1210.5 1601.2)" fill="rgb(54,54,54)"/>
<ellipse cx="1409.6" cy="1556.2" rx="8.1" ry="5.2" transform="rotate(-17 1409.6 1556.2)" fill="rgb(97,97,97)"/>
<ellipse cx="1319.1" cy="1577.2" rx="8.2" ry="5.7" transform="rotate(19 1319.1 1577.2)" fill="rgb(84,84,84)"/>
<ellipse cx="1269.6" cy="1660.9" rx="8.4" ry="6.0" transform="rotate(-20 1269.6 1660.9)" fill="rgb(41,41,41)"/>
<ellipse cx="1406.5" cy="1630.7" rx="10.9" ry="7.8" transform="rotate(-28 1406.5 1630.7)" fill="rgb(42,42,42)"/>
<ellipse cx="1201.8" cy="1530.5" rx="10.8" ry="5.3" transform="rotate(8 1201.8 1530.5)" fill="rgb(52,52,52)"/>
<ellipse cx="1309.8" cy="1631.7" rx="8.9" ry="4.8" transform="rotate(30 1309.8 1631.7)" fill="rgb(101,101,101)"/>
<ellipse cx="1190.8" cy="1369.5" rx="8.9" ry="4.9" transform="rotate(13 1190.8 1369.5)" fill="rgb(76,76,76)"/>
<ellipse cx="1191.3" cy="1495.6" rx="10.5" ry="5.2" transform="rotate(-33 1191.3 1495.6)" fill="rgb(67,67,67)"/>
<ellipse cx="1287.7" cy="1585.4" rx="9.8" ry="7.2" transform="rotate(-8 1287.7 1585.4)" fill="rgb(87,87,87)"/>
<ellipse cx="1244.2" cy="1374.1" rx="10.6" ry="5.9" transform="rotate(-11 1244.2 1374.1)" fill="rgb(88,88,88)"/>
<ellipse cx="1353.6" cy="1379.8" rx="11.8" ry="6.6" transform="rotate(15 1353.6 1379.8)" fill="rgb(44,44,44)"/>
<ellipse cx="1388.5" cy="1557.3" rx="11.3" ry="6.9" transform="rotate(-28 1388.5 1557.3)" fill="rgb(103,103,103)"/>
<ellipse cx="1332.1" cy="1352.4" rx="11.9" ry="6.0" transform="rotate(-18 1332.1 1352.4)" fill="rgb(47,47,47)"/>
<ellipse cx="1413.6" cy="1584.1" rx="9.5" ry="4.5" transform="rotate(29 1413.6 1584.1)" fill="rgb(95,95,95)"/>
<ellipse cx="1321.5" cy="1654.1" rx="10.7" ry="8.0" transform="rotate(25 1321.5 1654.1)" fill="rgb(81,81,81)"/>
<ellipse cx="1100.5" cy="1555.9" rx="8.8" ry="5.7" transform="rotate(-8 1100.5 1555.9)" fill="rgb(61,61,61)"/>
<ellipse cx="1397.1" cy="1606.6" rx="10.7" ry="5.2" transform="rotate(-5 1397.1 1606.6)" fill="rgb(105,105,105)"/>
<ellipse cx="1236.2" cy="1359.1" rx="10.2" ry="6.3" transform="rotate(-13 1236.2 1359.1)" fill="rgb(87,87,87)"/>
<ellipse cx="1355.2" cy="1631.4" rx="8.6" ry="4.1" transform="rotate(-13 1355.2 1631.4)" fill="rgb(95,95,95)"/>
<ellipse cx="1243.5" cy="1673.8" rx="8.3" ry="3.9" transform="rotate(-24 1243.5 1673.8)" fill="rgb(53,53,53)"/>
<ellipse cx="1280.6" cy="1574.8" rx="10.9" ry="5.0" transform="rotate(-35 1280.6 1574.8)" fill="rgb(91,91,91)"/>
<ellipse cx="1408.2" cy="1672.7" rx="9.3" ry="4.8" transform="rotate(-13 1408.2 1672.7)" fill="rgb(92,92,92)"/>
<ellipse cx="1146.2" cy="1475.2" rx="10.9" ry="6.1" transform="rotate(22 1146.2 1475.2)" fill="rgb(57,57,57)"/>
<ellipse cx="1080.6" cy="1533.0" rx="10.3" ry="7.3" transform="rotate(10 1080.6 1533.0)" fill="rgb(53,53,53)"/>
<ellipse cx="1320.2" cy="1663.3" rx="9.7" ry="5.3" transform="rotate(3 1320.2 1663.3)" fill="rgb(74,74,74)"/>
<ellipse cx="1311.6" cy="1609.1" rx="11.7" ry="7.0" transform="rotate(18 1311.6 1609.1)" fill="rgb(96,96,96)"/>
<ellipse cx="1164.2" cy="1608.4" rx="12.0" ry="8.9" transform="rotate(-7 1164.2 1608.4)" fill="rgb(43,43,43)"/>
<ellipse cx="1354.4" cy="1545.1" rx="9.8" ry="4.7" transform="rotate(-6 1354.4 1545.1)" fill="rgb(92,92,92)"/>
<ellipse cx="1331.1" cy="1453.6" rx="8.6" ry="6.3" transform="rotate(22 1331.1 1453.6)" fill="rgb(50,50,50)"/>
<ellipse cx="1214.2" cy="1484.6" rx="9.7" ry="6.2" transform="rotate(-34 1214.2 1484.6)" fill="rgb(71,71,71)"/>
<ellipse cx="1364.0" cy="1540.4" rx="10.7" ry="5.8" transform="rotate(33 1364.0 1540.4)" fill="rgb(88,88,88)"/>
<ellipse cx="1409.5" cy="1616.1" rx="8.0" ry="5.2" transform="rotate(-4 1409.5 1616.1)" fill="rgb(82,82,82)"/>
<ellipse cx="1406.4" cy="1653.4" rx="10.2" ry="5.4" transform="rotate(-26 1406.4 1653.4)" fill="rgb(77,77,77)"/>
<ellipse cx="1110.9" cy="1474.8" rx="10.1" ry="6.5" transform="rotate(-17 1110.9 1474.8)" fill="rgb(70,70,70)"/>
<ellipse cx="1147.5" cy="1488.0" rx="10.6" ry="7.6" transform="rotate(-30 1147.5 1488.0)" fill="rgb(52,52,52)"/>
<ellipse cx="1274.6" cy="1368.7" rx="11.6" ry="7.7" transform="rotate(-16 1274.6 1368.7)" fill="rgb(85,85,85)"/>
<ellipse cx="1202.7" cy="1508.1" rx="10.7" ry="7.9" transform="rotate(15 1202.7 1508.1)" fill="rgb(68,68,68)"/>
<ellipse cx="1252.1" cy="1376.4" rx="11.6" ry="5.6" transform="rotate(-20 1252.1 1376.4)" fill="rgb(83,83,83)"/>
<ellipse cx="1269.1" cy="1475.0" rx="10.1" ry="7.2" transform="rotate(20 1269.1 1475.0)" fill="rgb(48,48,48)"/>
<ellipse cx="1397.2" cy="1587.1" rx="11.5" ry="5.5" transform="rotate(7 1397.2 1587.1)" fill="rgb(101,101,101)"/>
<ellipse cx="1175.4" cy="1498.9" rx="8.2" ry="4.2" transform="rotate(13 1175.4 1498.9)" fill="rgb(58,58,58)"/>
<ellipse cx="1380.0" cy="1571.9" rx="8.8" ry="4.4" transform="rotate(24 1380.0 1571.9)" fill="rgb(86,86,86)"/>
<ellipse cx="1264.3" cy="1610.5" rx="9.3" ry="4.2" transform="rotate(12 1264.3 1610.5)" fill="rgb(40,40,40)"/>
<ellipse cx="1308.4" cy="1596.6" rx="10.2" ry="4.8" transform="rotate(-14 1308.4 1596.6)" fill="rgb(77,77,77)"/>
<ellipse cx="1185.8" cy="1506.4" rx="11.0" ry="8.0" transform="rotate(-13 1185.8 1506.4)" fill="rgb(66,66,66)"/>
<ellipse cx="1214.3" cy="1605.0" rx="8.8" ry="4.1" transform="rotate(24 1214.3 1605.0)" fill="rgb(55,55,55)"/>
<ellipse cx="1126.4" cy="1381.0" rx="9.8" ry="4.8" transform="rotate(-6 1126.4 1381.0)" fill="rgb(45,45,45)"/>
<ellipse cx="1303.4" cy="1400.0" rx="8.7" ry="4.6" transform="rotate(28 1303.4 1400.0)" fill="rgb(30,30,30)"/>
<ellipse cx="1335.7" cy="1554.5" rx="10.2" ry="5.9" transform="rotate(-25 1335.7 1554.5)" fill="rgb(93,93,93)"/>
<ellipse cx="1113.1" cy="1606.4" rx="8.3" ry="5.5" transform="rotate(-7 1113.1 1606.4)" fill="rgb(51,51,51)"/>
<ellipse cx="1233.0" cy="1618.2" rx="10.1" ry="7.1" transform="rotate(17 1233.0 1618.2)" fill="rgb(59,59,59)"/>
<ellipse cx="1102.3" cy="1660.3" rx="9.4" ry="6.6" transform="rotate(-23 1102.3 1660.3)" fill="rgb(74,74,74)"/>
<ellipse cx="1088.9" cy="1521.9" rx="10.9" ry="6.7" transform="rotate(7 1088.9 1521.9)" fill="rgb(39,39,39)"/>
<ellipse cx="1296.5" cy="1622.6" rx="9.8" ry="6.9" transform="rotate(29 1296.5 1622.6)" fill="rgb(91,91,91)"/>
<ellipse cx="1302.6" cy="1586.2" rx="8.6" ry="5.2" transform="rotate(-15 1302.6 1586.2)" fill="rgb(93,93,93)"/>
<ellipse cx="1230.2" cy="1677.1" rx="10.8" ry="7.0" transform="rotate(32 1230.2 1677.1)" fill="rgb(51,51,51)"/>
<ellipse cx="1298.4" cy="1439.9" rx="11.1" ry="7.2" transform="rotate(-35 1298.4 1439.9)" fill="rgb(44,44,44)"/>
<ellipse cx="1386.3" cy="1452.7" rx="8.7" ry="4.6" transform="rotate(14 1386.3 1452.7)" fill="rgb(67,67,67)"/>
<ellipse cx="1232.9" cy="1521.5" rx="11.1" ry="5.8" transform="rotate(0 1232.9 1521.5)" fill="rgb(48,48,48)"/>
<ellipse cx="1164.3" cy="1512.4" rx="9.1" ry="6.1" transform="rotate(29 1164.3 1512.4)" fill="rgb(65,65,65)"/>
<ellipse cx="1307.1" cy="1577.0" rx="10.0" ry="7.0" transform="rotate(9 1307.1 1577.0)" fill="rgb(89,89,89)"/>
<ellipse cx="1356.8" cy="1495.1" rx="9.7" ry="4.9" transform="rotate(3 1356.8 1495.1)" fill="rgb(51,51,51)"/>
<ellipse cx="1243.0" cy="1496.4" rx="8.2" ry="5.9" transform="rotate(26 1243.0 1496.4)" fill="rgb(61,61,61)"/>
<ellipse cx="1199.0" cy="1661.7" rx="9.5" ry="5.0" transform="rotate(-4 1199.0 1661.7)" fill="rgb(72,72,72)"/>
<ellipse cx="1231.9" cy="1480.7" rx="11.1" ry="5.4" transform="rotate(-6 1231.9 1480.7)" fill="rgb(67,67,67)"/>
<ellipse cx="1339.9" cy="1596.4" rx="9.9" ry="6.4" transform="rotate(-34 1339.9 1596.4)" fill="rgb(37,37,37)"/>
<ellipse cx="1120.0" cy="1469.7" rx="8.2" ry="5.1" transform="rotate(22 1120.0 1469.7)" fill="rgb(63,63,63)"/>
<ellipse cx="1213.0" cy="1402.8" rx="11.2" ry="5.9" transform="rotate(20 1213.0 1402.8)" fill="rgb(78,78,78)"/>
<ellipse cx="1154.9" cy="1687.3" rx="8.9" ry="5.6" transform="rotate(11 1154.9 1687.3)" fill="rgb(76,76,76)"/>
<ellipse cx="1258.3" cy="1424.2" rx="8.3" ry="4.9" transform="rotate(-29 1258.3 1424.2)" fill="rgb(58,58,58)"/>
<ellipse cx="1346.6" cy="1662.6" rx="11.0" ry="7.1" transform="rotate(-11 1346.6 1662.6)" fill="rgb(89,89,89)"/>
<ellipse cx="1245.2" cy="1447.5" rx="9.7" ry="4.6" transform="rotate(10 1245.2 1447.5)" fill="rgb(65,65,65)"/>
<ellipse cx="1386.5" cy="1539.0" rx="11.7" ry="6.5" transform="rotate(-33 1386.5 1539.0)" fill="rgb(91,91,91)"/>
<ellipse cx="1388.5" cy="1595.1" rx="10.2" ry="7.1" transform="rotate(-33 1388.5 1595.1)" fill="rgb(89,89,89)"/>
<ellipse cx="1351.6" cy="1667.5" rx="11.8" ry="6.4" transform="rotate(14 1351.6 1667.5)" fill="rgb(95,95,95)"/>
<ellipse cx="1157.4" cy="1462.6" rx="8.9" ry="4.1" transform="rotate(27 1157.4 1462.6)" fill="rgb(63,63,63)"/>
<ellipse cx="1130.9" cy="1465.1" rx="11.0" ry="6.2" transform="rotate(15 1130.9 1465.1)" fill="rgb(52,52,52)"/>
<ellipse cx="1264.6" cy="1643.8" rx="8.6" ry="4.7" transform="rotate(-24 1264.6 1643.8)" fill="rgb(41,41,41)"/>
<ellipse cx="1122.8" cy="1513.3" rx="9.6" ry="5.6" transform="rotate(-21 1122.8 1513.3)" fill="rgb(68,68,68)"/>
<ellipse cx="1367.8" cy="1631.9" rx="8.4" ry="5.8" transform="rotate(9 1367.8 1631.9)" fill="rgb(83,83,83)"/>
<ellipse cx="1269.8" cy="1355.0" rx="9.3" ry="4.9" transform="rotate(26 1269.8 1355.0)" fill="rgb(84,84,84)"/>
<ellipse cx="1269.3" cy="1564.4" rx="10.3" ry="6.2" transform="rotate(23 1269.3 1564.4)" fill="rgb(63,63,63)"/>
<ellipse cx="1287.5" cy="1540.4" rx="10.5" ry="7.5" transform="rotate(9 1287.5 1540.4)" fill="rgb(82,82,82)"/>
<ellipse cx="1352.7" cy="1641.1" rx="11.1" ry="5.8" transform="rotate(25 1352.7 1641.1)" fill="rgb(99,99,99)"/>
<ellipse cx="1347.1" cy="1517.2" rx="10.7" ry="5.0" transform="rotate(-35 1347.1 1517.2)" fill="rgb(68,68,68)"/>
<ellipse cx="1257.7" cy="1408.4" rx="9.9" ry="5.5" transform="rotate(19 1257.7 1408.4)" fill="rgb(66,66,66)"/>
<ellipse cx="1364.7" cy="1556.9" rx="10.9" ry="5.9" transform="rotate(15 1364.7 1556.9)" fill="rgb(93,93,93)"/>
<ellipse cx="1232.8" cy="1612.0" rx="8.8" ry="6.0" transform="rotate(-1 1232.8 1612.0)" fill="rgb(62,62,62)"/>
<ellipse cx="1365.6" cy="1589.0" rx="11.8" ry="8.8" transform="rotate(14 1365.6 1589.0)" fill="rgb(68,68,68)"/>
<ellipse cx="1300.6" cy="1466.4" rx="8.8" ry="6.2" transform="rotate(-16 1300.6 1466.4)" fill="rgb(56,56,56)"/>
<ellipse cx="1171.2" cy="1546.0" rx="9.7" ry="5.2" transform="rotate(-8 1171.2 1546.0)" fill="rgb(48,48,48)"/>
<ellipse cx="1164.9" cy="1678.1" rx="10.3" ry="6.7" transform="rotate(11 1164.9 1678.1)" fill="rgb(75,75,75)"/>
<ellipse cx="1329.4" cy="1683.6" rx="10.9" ry="6.3" transform="rotate(27 1329.4 1683.6)" fill="rgb(89,89,89)"/>
<ellipse cx="1333.7" cy="1380.4" rx="9.3" ry="4.4" transform="rotate(30 1333.7 1380.4)" fill="rgb(51,51,51)"/>
<ellipse cx="1212.0" cy="1630.4" rx="11.1" ry="7.1" transform="rotate(22 1212.0 1630.4)" fill="rgb(37,37,37)"/>
<ellipse cx="1378.1" cy="1660.8" rx="11.6" ry="8.2" transform="rotate(25 1378.1 1660.8)" fill="rgb(87,87,87)"/>
<ellipse cx="1357.1" cy="1385.1" rx="11.0" ry="7.2" transform="rotate(19 1357.1 1385.1)" fill="rgb(41,41,41)"/>
<ellipse cx="1233.1" cy="1385.8" rx="11.0" ry="6.5" transform="rotate(24 1233.1 1385.8)" fill="rgb(80,80,80)"/>
<ellipse cx="1244.4" cy="1452.3" rx="10.2" ry="7.6" transform="rotate(-20 1244.4 1452.3)" fill="rgb(71,71,71)"/>
<ellipse cx="1308.5" cy="1553.8" rx="10.3" ry="4.8" transform="rotate(-31 1308.5 1553.8)" fill="rgb(89,89,89)"/>
<ellipse cx="1396.7" cy="1555.7" rx="8.2" ry="4.5" transform="rotate(19 1396.7 1555.7)" fill="rgb(102,102,102)"/>
<ellipse cx="1352.2" cy="1550.7" rx="11.0" ry="6.2" transform="rotate(30 1352.2 1550.7)" fill="rgb(101,101,101)"/>
<ellipse cx="1176.7" cy="1686.5" rx="9.6" ry="5.1" transform="rotate(7 1176.7 1686.5)" fill="rgb(69,69,69)"/>
<ellipse cx="1137.8" cy="1676.9" rx="10.2" ry="6.7" transform="rotate(-17 1137.8 1676.9)" fill="rgb(59,59,59)"/>
<ellipse cx="1356.1" cy="1617.7" rx="8.7" ry="6.4" transform="rotate(7 1356.1 1617.7)" fill="rgb(95,95,95)"/>
<ellipse cx="1364.1" cy="1660.5" rx="10.1" ry="7.4" transform="rotate(26 1364.1 1660.5)" fill="rgb(88,88,88)"/>
<ellipse cx="1385.3" cy="1676.5" rx="10.7" ry="7.1" transform="rotate(-27 1385.3 1676.5)" fill="rgb(92,92,92)"/>
<ellipse cx="1230.0" cy="1507.5" rx="8.8" ry="6.6" transform="rotate(-11 1230.0 1507.5)" fill="rgb(67,67,67)"/>
<ellipse cx="1413.5" cy="1685.7" rx="8.0" ry="5.1" transform="rotate(-13 1413.5 1685.7)" fill="rgb(107,107,107)"/>
<ellipse cx="1384.2" cy="1564.9" rx="10.1" ry="5.9" transform="rotate(10 1384.2 1564.9)" fill="rgb(105,105,105)"/>
<ellipse cx="1219.4" cy="1644.8" rx="8.8" ry="4.1" transform="rotate(-34 1219.4 1644.8)" fill="rgb(55,55,55)"/>
<ellipse cx="1389.7" cy="1588.8" rx="10.7" ry="5.4" transform="rotate(4 1389.7 1588.8)" fill="rgb(98,98,98)"/>
<ellipse cx="1221.3" cy="1496.4" rx="11.1" ry="5.9" transform="rotate(-30 1221.3 1496.4)" fill="rgb(71,71,71)"/>
<ellipse cx="1231.1" cy="1640.9" rx="9.3" ry="4.6" transform="rotate(17 1231.1 1640.9)" fill="rgb(51,51,51)"/>
<ellipse cx="1231.7" cy="1408.5" rx="9.8" ry="7.0" transform="rotate(22 1231.7 1408.5)" fill="rgb(81,81,81)"/>
<ellipse cx="1376.7" cy="1531.3" rx="11.1" ry="7.3" transform="rotate(-22 1376.7 1531.3)" fill="rgb(88,88,88)"/>
<ellipse cx="1341.6" cy="1452.9" rx="10.2" ry="6.9" transform="rotate(15 1341.6 1452.9)" fill="rgb(64,64,64)"/>
<ellipse cx="1281.3" cy="1519.3" rx="9.2" ry="6.4" transform="rotate(-3 1281.3 1519.3)" fill="rgb(72,72,72)"/>
<ellipse cx="1143.1" cy="1433.1" rx="11.8" ry="5.6" transform="rotate(-15 1143.1 1433.1)" fill="rgb(33,33,33)"/>
<ellipse cx="1411.4" cy="1499.0" rx="9.5" ry="6.7" transform="rotate(10 1411.4 1499.0)" fill="rgb(46,46,46)"/>
<ellipse cx="1202.6" cy="1477.1" rx="8.2" ry="4.4" transform="rotate(-8 1202.6 1477.1)" fill="rgb(57,57,57)"/>
<ellipse cx="1264.5" cy="1579.3" rx="11.8" ry="7.5" transform="rotate(19 1264.5 1579.3)" fill="rgb(63,63,63)"/>
<ellipse cx="1299.7" cy="1378.1" rx="11.9" ry="8.8" transform="rotate(-13 1299.7 1378.1)" fill="rgb(47,47,47)"/>
<ellipse cx="1237.2" cy="1630.1" rx="11.6" ry="5.5" transform="rotate(27 1237.2 1630.1)" fill="rgb(39,39,39)"/>
<ellipse cx="1410.8" cy="1577.2" rx="9.7" ry="5.0" transform="rotate(-10 1410.8 1577.2)" fill="rgb(97,97,97)"/>
<ellipse cx="1299.9" cy="1550.9" rx="8.6" ry="4.8" transform="rotate(-19 1299.9 1550.9)" fill="rgb(93,93,93)"/>
<ellipse cx="1278.2" cy="1583.1" rx="10.9" ry="7.0" transform="rotate(-24 1278.2 1583.1)" fill="rgb(77,77,77)"/>
<ellipse cx="1412.8" cy="1600.5" rx="8.7" ry="5.9" transform="rotate(1 1412.8 1600.5)" fill="rgb(98,98,98)"/>
<ellipse cx="1201.1" cy="1402.8" rx="8.3" ry="5.0" transform="rotate(22 1201.1 1402.8)" fill="rgb(79,79,79)"/>
<ellipse cx="1354.1" cy="1533.6" rx="8.7" ry="5.0" transform="rotate(32 1354.1 1533.6)" fill="rgb(98,98,98)"/>
<ellipse cx="1399.0" cy="1541.7" rx="10.3" ry="4.8" transform="rotate(16 1399.0 1541.7)" fill="rgb(73,73,73)"/>
<ellipse cx="1406.0" cy="1517.2" rx="9.4" ry="5.6" transform="rotate(21 1406.0 1517.2)" fill="rgb(37,37,37)"/>
<ellipse cx="1236.6" cy="1381.2" rx="8.1" ry="5.0" transform="rotate(12 1236.6 1381.2)" fill="rgb(83,83,83)"/>
<ellipse cx="1345.7" cy="1626.9" rx="8.9" ry="6.4" transform="rotate(-12 1345.7 1626.9)" fill="rgb(99,99,99)"/>
<ellipse cx="1400.1" cy="1564.9" rx="10.3" ry="5.7" transform="rotate(9 1400.1 1564.9)" fill="rgb(96,96,96)"/>
<ellipse cx="1336.6" cy="1617.5" rx="11.3" ry="5.2" transform="rotate(-7 1336.6 1617.5)" fill="rgb(90,90,90)"/>
<ellipse cx="1199.0" cy="1413.6" rx="10.3" ry="4.7" transform="rotate(-20 1199.0 1413.6)" fill="rgb(82,82,82)"/>
<ellipse cx="1310.8" cy="1502.5" rx="10.7" ry="6.3" transform="rotate(34 1310.8 1502.5)" fill="rgb(58,58,58)"/>
<ellipse cx="1258.0" cy="1641.2" rx="10.4" ry="7.1" transform="rotate(-26 1258.0 1641.2)" fill="rgb(45,45,45)"/>
<ellipse cx="1353.6" cy="1675.3" rx="9.1" ry="4.5" transform="rotate(27 1353.6 1675.3)" fill="rgb(98,98,98)"/>
<ellipse cx="1257.9" cy="1455.6" rx="8.3" ry="4.0" transform="rotate(31 1257.9 1455.6)" fill="rgb(67,67,67)"/>
<ellipse cx="1402.3" cy="1377.3" rx="11.8" ry="6.1" transform="rotate(-11 1402.3 1377.3)" fill="rgb(55,55,55)"/>
<ellipse cx="1243.1" cy="1486.6" rx="10.9" ry="5.8" transform="rotate(6 1243.1 1486.6)" fill="rgb(61,61,61)"/>
<ellipse cx="1319.1" cy="1534.4" rx="11.1" ry="7.7" transform="rotate(-26 1319.1 1534.4)" fill="rgb(69,69,69)"/>
<ellipse cx="1388.2" cy="1608.4" rx="10.3" ry="4.9" transform="rotate(15 1388.2 1608.4)" fill="rgb(94,94,94)"/>
<ellipse cx="1295.9" cy="1544.8" rx="9.1" ry="5.2" transform="rotate(15 1295.9 1544.8)" fill="rgb(91,91,91)"/>
</g>
<g filter="url(#bl2)">
</g>
<ellipse cx="1136.1" cy="1595.1" rx="7" ry="8.5" transform="rotate(-20 1136.1 1595.1)" fill="#5a8a50" stroke="#B13FAE" stroke-width="1.5"/>
</g>
<rect x="73.1" y="1369.9" width="74.0" height="28" fill="#000"/>
<rect x="73.1" y="1398.0" width="95.0" height="29" fill="#000"/>
<rect x="73.1" y="1427.8" width="53.0" height="28" fill="#000"/>
<text x="76.1" y="1391.9" font-size="25.8" fill="#fff">Nuclei</text>
<text x="76.1" y="1420.0" font-size="25.8" fill="#66C04A">neoTCR</text>
<text x="76.1" y="1449.8" font-size="25.8" fill="#C956BE">CD3</text>
<rect x="328.7" y="1649.2" width="26" height="3.4" fill="#fff"/>
<rect x="411.4" y="1373.3" width="74.0" height="28" fill="#000"/>
<rect x="411.4" y="1401.5" width="95.0" height="29" fill="#000"/>
<rect x="411.4" y="1431.2" width="53.0" height="28" fill="#000"/>
<text x="414.4" y="1395.3" font-size="25.8" fill="#fff">Nuclei</text>
<text x="414.4" y="1423.5" font-size="25.8" fill="#66C04A">neoTCR</text>
<text x="414.4" y="1453.2" font-size="25.8" fill="#C956BE">CD3</text>
<rect x="668.6" y="1649.2" width="26" height="3.4" fill="#fff"/>
<rect x="749.5" y="1372.5" width="74.0" height="28" fill="#000"/>
<rect x="749.5" y="1400.5" width="95.0" height="29" fill="#000"/>
<rect x="749.5" y="1430.1" width="53.0" height="28" fill="#000"/>
<text x="752.5" y="1394.5" font-size="25.8" fill="#fff">Nuclei</text>
<text x="752.5" y="1422.5" font-size="25.8" fill="#66C04A">neoTCR</text>
<text x="752.5" y="1452.1" font-size="25.8" fill="#C956BE">CD3</text>
<rect x="1009.8" y="1649.2" width="26" height="3.4" fill="#fff"/>
<rect x="1089.9" y="1371.9" width="74.0" height="28" fill="#000"/>
<rect x="1089.9" y="1400.0" width="95.0" height="29" fill="#000"/>
<rect x="1089.9" y="1429.5" width="53.0" height="28" fill="#000"/>
<text x="1092.9" y="1393.9" font-size="25.8" fill="#fff">Nuclei</text>
<text x="1092.9" y="1422.0" font-size="25.8" fill="#66C04A">neoTCR</text>
<text x="1092.9" y="1451.5" font-size="25.8" fill="#C956BE">CD3</text>
<rect x="1350.1" y="1649.2" width="26" height="3.4" fill="#fff"/>
<line x1="303.9" y1="1475.8" x2="291.8" y2="1464.4" stroke="#fff" stroke-width="2.4"/>
<polygon points="281.3,1454.4 299.9,1458.8 286.7,1472.7" fill="#fff"/>
<line x1="147.7" y1="1603.8" x2="147.7" y2="1620.6" stroke="#fff" stroke-width="2.4"/>
<polygon points="147.7,1635.1 138.1,1618.6 157.3,1618.6" fill="#fff"/>
<line x1="635.6" y1="1458.4" x2="635.6" y2="1474.6" stroke="#fff" stroke-width="2.4"/>
<polygon points="635.6,1489.1 626.0,1472.6 645.2,1472.6" fill="#fff"/>
<line x1="676.9" y1="1581.8" x2="676.9" y2="1598.0" stroke="#fff" stroke-width="2.4"/>
<polygon points="676.9,1612.5 667.3,1596.0 686.5,1596.0" fill="#fff"/>
<line x1="869.2" y1="1412.7" x2="858.0" y2="1401.3" stroke="#fff" stroke-width="2.4"/>
<polygon points="847.8,1391.0 866.2,1396.0 852.6,1409.5" fill="#fff"/>
<line x1="990.7" y1="1618.9" x2="990.7" y2="1635.1" stroke="#fff" stroke-width="2.4"/>
<polygon points="990.7,1649.6 981.1,1633.1 1000.3,1633.1" fill="#fff"/>
<line x1="1136.1" y1="1639.7" x2="1136.1" y2="1623.5" stroke="#fff" stroke-width="2.4"/>
<polygon points="1136.1,1609.0 1145.7,1625.5 1126.5,1625.5" fill="#fff"/>
</svg>
</body></html>
